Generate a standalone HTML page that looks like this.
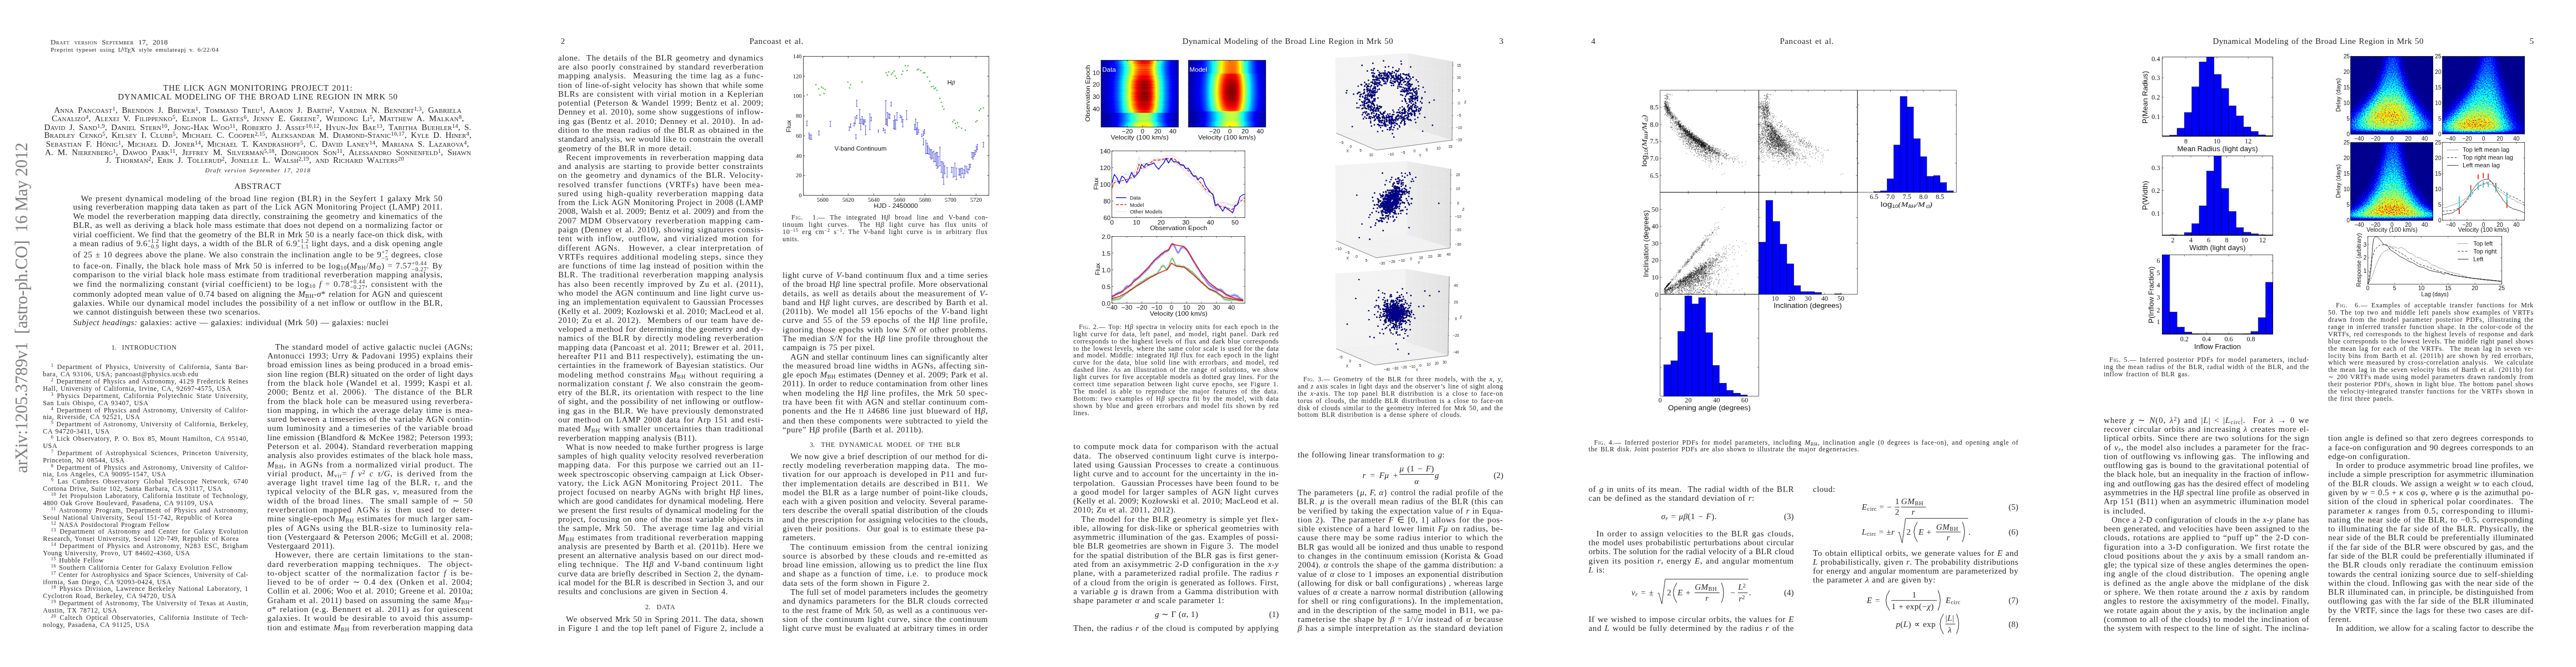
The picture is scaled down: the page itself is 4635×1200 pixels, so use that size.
<!DOCTYPE html>
<html><head><meta charset="utf-8"><title>paper</title>
<style>
html,body{margin:0;padding:0;background:#fff;}
body{width:4635px;height:1200px;position:relative;overflow:hidden;font-family:"Liberation Serif",serif;color:#262626;}
.pg{position:absolute;top:0;width:927px;height:1200px;overflow:hidden;will-change:transform;}
.b{position:absolute;text-align:justify;text-align-last:justify;white-space:nowrap;}
.b div{box-sizing:border-box;width:100%;}
.b .e{text-align-last:left;}
.b .c{text-align-last:center;}
.ln{position:absolute;white-space:nowrap;text-align:justify;text-align-last:justify;}
.ln.l{text-align-last:left;}
.ln.c{text-align-last:center;}
.ln.r{text-align-last:right;}
sub,sup{line-height:0;font-size:70%;}
sup{vertical-align:0.42em;}
sub{vertical-align:-0.22em;}
.sc{font-variant:small-caps;}
.ss{display:inline-block;vertical-align:-0.45em;font-size:70%;line-height:1.0;text-align:left;text-align-last:left;}
.ss span{display:block;}
.sans{font-family:"Liberation Sans",sans-serif;}
i{font-style:italic;}
.fr{display:inline-block;vertical-align:middle;text-align:center;text-align-last:center;line-height:1.15;}
.fr span{display:block;padding:0 2px;}
.fr span.n{border-bottom:1px solid #1a1a1a;}
svg{position:absolute;overflow:visible;}
svg text{font-family:"Liberation Sans",sans-serif;fill:#111;}
svg text.se{font-family:"Liberation Serif",serif;}
</style></head>
<body>
<div class="pg" style="left:0px">
<div style="position:absolute;left:0;top:0;width:0;height:0;"><div id="arx" style="position:absolute;left:23.2px;top:851px;transform-origin:0 0;transform:rotate(-90deg);white-space:nowrap;font-size:31px;line-height:32px;color:#7f7f7f;letter-spacing:-0.38px;">arXiv:1205.3789v1&nbsp; [astro-ph.CO]&nbsp; 16 May 2012</div></div>
<div class="ln" style="left:91.0px;top:67.8px;width:211.0px;line-height:15.60px;font-size:13.00px;letter-spacing:0.33px;"><span class="sc">Draft version September 17, 2018</span></div>
<div class="ln" style="left:91.0px;top:82.4px;width:303.0px;line-height:13.20px;font-size:11.00px;letter-spacing:0.69px;">Preprint typeset using L<span style="font-size:75%;vertical-align:0.2em;margin-left:-0.3em">A</span><span style="margin-left:-0.1em">T</span><span style="vertical-align:-0.2em;margin-left:-0.12em">E</span><span style="margin-left:-0.1em">X</span> style emulateapj v. 6/22/04</div>
<div class="ln" style="left:293.5px;top:149.2px;width:341.0px;line-height:18.24px;font-size:15.20px;letter-spacing:0.62px;">THE LICK AGN MONITORING PROJECT 2011:</div>
<div class="ln" style="left:212.0px;top:165.1px;width:503.5px;line-height:18.24px;font-size:15.20px;letter-spacing:0.51px;">DYNAMICAL MODELING OF THE BROAD LINE REGION IN MRK 50</div>
<div class="ln" style="left:97.2px;top:189.4px;width:733.2px;line-height:18.00px;font-size:15.00px;letter-spacing:0.21px;"><span class="sc">Anna Pancoast<sup>1</sup>, Brendon J. Brewer<sup>1</sup>, Tommaso Treu<sup>1</sup>, Aaron J. Barth<sup>2</sup>, Vardha N. Bennert<sup>1,3</sup>, Gabriela</span></div>
<div class="ln" style="left:93.1px;top:204.2px;width:741.8px;line-height:18.00px;font-size:15.00px;letter-spacing:0.26px;"><span class="sc">Canalizo<sup>4</sup>, Alexei V. Filippenko<sup>5</sup>, Elinor L. Gates<sup>6</sup>, Jenny E. Greene<sup>7</sup>, Weidong Li<sup>5</sup>, Matthew A. Malkan<sup>8</sup>,</span></div>
<div class="ln" style="left:79.6px;top:219.5px;width:768.4px;line-height:18.00px;font-size:15.00px;letter-spacing:0.22px;"><span class="sc">David J. Sand<sup>1,9</sup>, Daniel Stern<sup>10</sup>, Jong-Hak Woo<sup>11</sup>, Roberto J. Assef<sup>10,12</sup>, Hyun-Jin Bae<sup>13</sup>, Tabitha Buehler<sup>14</sup>, S.</span></div>
<div class="ln" style="left:79.6px;top:234.4px;width:768.8px;line-height:18.00px;font-size:15.00px;letter-spacing:0.18px;"><span class="sc">Bradley Cenko<sup>5</sup>, Kelsey I. Clubb<sup>5</sup>, Michael C. Cooper<sup>2,15</sup>, Aleksandar M. Diamond-Stanic<sup>16,17</sup>, Kyle D. Hiner<sup>4</sup>,</span></div>
<div class="ln" style="left:82.8px;top:249.6px;width:761.1px;line-height:18.00px;font-size:15.00px;letter-spacing:0.18px;"><span class="sc">Sebastian F. H&ouml;nig<sup>1</sup>, Michael D. Joner<sup>14</sup>, Michael T. Kandrashoff<sup>5</sup>, C. David Laney<sup>14</sup>, Mariana S. Lazarova<sup>4</sup>,</span></div>
<div class="ln" style="left:81.0px;top:264.5px;width:766.5px;line-height:18.00px;font-size:15.00px;letter-spacing:0.13px;"><span class="sc">A. M. Nierenberg<sup>1</sup>, Dawoo Park<sup>11</sup>, Jeffrey M. Silverman<sup>5,18</sup>, Donghoon Son<sup>11</sup>, Alessandro Sonnenfeld<sup>1</sup>, Shawn</span></div>
<div class="ln" style="left:190.3px;top:279.0px;width:536.6px;line-height:18.00px;font-size:15.00px;letter-spacing:0.20px;"><span class="sc">J. Thorman<sup>2</sup>, Erik J. Tollerud<sup>2</sup>, Jonelle L. Walsh<sup>2,19</sup>, and Richard Walters<sup>20</sup></span></div>
<div class="ln" style="left:369.0px;top:300.2px;width:190.0px;line-height:13.44px;font-size:11.20px;letter-spacing:0.95px;"><i>Draft version September 17, 2018</i></div>
<div class="ln" style="left:421.5px;top:326.4px;width:85.0px;line-height:18.24px;font-size:15.20px;letter-spacing:0.70px;">ABSTRACT</div>
<div class="ln" style="left:145.4px;top:347.7px;width:651.3px;line-height:18.00px;font-size:15.00px;letter-spacing:0.67px;">We present dynamical modeling of the broad line region (BLR) in the Seyfert 1 galaxy Mrk 50</div>
<div class="ln" style="left:131.4px;top:363.4px;width:665.3px;line-height:18.00px;font-size:15.00px;letter-spacing:0.56px;">using reverberation mapping data taken as part of the Lick AGN Monitoring Project (LAMP) 2011.</div>
<div class="ln" style="left:131.4px;top:379.6px;width:665.3px;line-height:18.00px;font-size:15.00px;letter-spacing:0.56px;">We model the reverberation mapping data directly, constraining the geometry and kinematics of the</div>
<div class="ln" style="left:131.4px;top:396.3px;width:665.3px;line-height:18.00px;font-size:15.00px;letter-spacing:0.48px;">BLR, as well as deriving a black hole mass estimate that does not depend on a normalizing factor or</div>
<div class="ln" style="left:131.4px;top:412.5px;width:665.3px;line-height:18.00px;font-size:15.00px;letter-spacing:0.40px;">virial coefficient. We find that the geometry of the BLR in Mrk 50 is a nearly face-on thick disk, with</div>
<div class="ln" style="left:131.4px;top:428.7px;width:665.3px;line-height:18.00px;font-size:15.00px;letter-spacing:0.43px;">a mean radius of 9.6<span class="ss"><span>+1.2</span><span>&minus;0.9</span></span> light days, a width of the BLR of 6.9<span class="ss"><span>+1.2</span><span>&minus;1.1</span></span> light days, and a disk opening angle</div>
<div class="ln" style="left:131.4px;top:448.9px;width:665.3px;line-height:18.00px;font-size:15.00px;letter-spacing:0.53px;">of 25 &plusmn; 10 degrees above the plane. We also constrain the inclination angle to be 9<span class="ss"><span>+7</span><span>&minus;5</span></span> degrees, close</div>
<div class="ln" style="left:131.4px;top:469.1px;width:665.3px;line-height:18.00px;font-size:15.00px;letter-spacing:0.60px;">to face-on. Finally, the black hole mass of Mrk 50 is inferred to be log<sub>10</sub>(<i>M</i><sub>BH</sub>/<i>M</i><sub>&#8857;</sub>) = 7.57<span class="ss"><span>+0.44</span><span>&minus;0.27</span></span>. By</div>
<div class="ln" style="left:131.4px;top:485.3px;width:665.3px;line-height:18.00px;font-size:15.00px;letter-spacing:0.62px;">comparison to the virial black hole mass estimate from traditional reverberation mapping analysis,</div>
<div class="ln" style="left:131.4px;top:501.5px;width:665.3px;line-height:18.00px;font-size:15.00px;letter-spacing:0.71px;">we find the normalizing constant (virial coefficient) to be log<sub>10</sub> <i>f</i> = 0.78<span class="ss"><span>+0.44</span><span>&minus;0.27</span></span>, consistent with the</div>
<div class="ln" style="left:131.4px;top:519.5px;width:665.3px;line-height:18.00px;font-size:15.00px;letter-spacing:0.44px;">commonly adopted mean value of 0.74 based on aligning the <i>M</i><sub>BH</sub>-<i>&sigma;</i>* relation for AGN and quiescent</div>
<div class="ln" style="left:131.4px;top:536.2px;width:665.3px;line-height:18.00px;font-size:15.00px;letter-spacing:0.51px;">galaxies. While our dynamical model includes the possibility of a net inflow or outflow in the BLR,</div>
<div class="ln l" style="left:131.4px;top:552.4px;width:665.3px;line-height:18.00px;font-size:15.00px;letter-spacing:0.46px;word-spacing:0.93px;">we cannot distinguish between these two scenarios.</div>
<div class="ln l" style="left:131.4px;top:570.8px;width:665.3px;line-height:18.00px;font-size:15.00px;letter-spacing:0.46px;word-spacing:0.93px;"><i>Subject headings:</i> galaxies: active &mdash; galaxies: individual (Mrk 50) &mdash; galaxies: nuclei</div>
<div class="ln l" style="left:200.5px;top:618.0px;width:20.0px;line-height:14.40px;font-size:12.00px;">1.</div>
<div class="ln" style="left:219.5px;top:618.0px;width:103.5px;line-height:14.40px;font-size:12.00px;letter-spacing:0.66px;">INTRODUCTION</div>
<div class="b" style="left:77.3px;top:654.3px;width:369.7px;line-height:12.87px;font-size:12.00px;">
<div style="padding-left:14.4px;letter-spacing:0.66px"><sup>1</sup> Department of Physics, University of California, Santa Bar-</div>
<div class="e" style="word-spacing:1.25px;letter-spacing:0.62px">bara, CA 93106, USA; pancoast@physics.ucsb.edu</div>
<div style="padding-left:14.4px;letter-spacing:0.63px"><sup>2</sup> Department of Physics and Astronomy, 4129 Frederick Reines</div>
<div class="e" style="word-spacing:1.25px;letter-spacing:0.62px">Hall, University of California, Irvine, CA, 92697-4575, USA</div>
<div style="padding-left:14.4px;letter-spacing:0.66px"><sup>3</sup> Physics Department, California Polytechnic State University,</div>
<div class="e" style="word-spacing:1.25px;letter-spacing:0.62px">San Luis Obispo, CA 93407, USA</div>
<div style="padding-left:14.4px;letter-spacing:0.66px"><sup>4</sup> Department of Physics and Astronomy, University of Califor-</div>
<div class="e" style="word-spacing:1.25px;letter-spacing:0.62px">nia, Riverside, CA 92521, USA</div>
<div style="padding-left:14.4px;letter-spacing:0.66px"><sup>5</sup> Department of Astronomy, University of California, Berkeley,</div>
<div class="e" style="word-spacing:1.25px;letter-spacing:0.62px">CA 94720-3411, USA</div>
<div style="padding-left:14.4px;letter-spacing:0.66px"><sup>6</sup> Lick Observatory, P. O. Box 85, Mount Hamilton, CA 95140,</div>
<div class="e" style="word-spacing:1.25px;letter-spacing:0.62px">USA</div>
<div style="padding-left:14.4px;letter-spacing:0.66px"><sup>7</sup> Department of Astrophysical Sciences, Princeton University,</div>
<div class="e" style="word-spacing:1.25px;letter-spacing:0.62px">Princeton, NJ 08544, USA</div>
<div style="padding-left:14.4px;letter-spacing:0.66px"><sup>8</sup> Department of Physics and Astronomy, University of Califor-</div>
<div class="e" style="word-spacing:1.25px;letter-spacing:0.62px">nia, Los Angeles, CA 90095-1547, USA</div>
<div style="padding-left:14.4px;letter-spacing:0.66px"><sup>9</sup> Las Cumbres Observatory Global Telescope Network, 6740</div>
<div class="e" style="word-spacing:1.25px;letter-spacing:0.62px">Cortona Drive, Suite 102, Santa Barbara, CA 93117, USA</div>
<div style="padding-left:14.4px;letter-spacing:0.61px"><sup>10</sup> Jet Propulsion Laboratory, California Institute of Technology,</div>
<div class="e" style="word-spacing:1.25px;letter-spacing:0.62px">4800 Oak Grove Boulevard, Pasadena, CA 91109, USA</div>
<div style="padding-left:14.4px;letter-spacing:0.66px"><sup>11</sup> Astronomy Program, Department of Physics and Astronomy,</div>
<div class="e" style="word-spacing:1.25px;letter-spacing:0.62px">Seoul National University, Seoul 151-742, Republic of Korea</div>
<div class="e" style="padding-left:14.4px;word-spacing:1.25px;letter-spacing:0.62px"><sup>12</sup> NASA Postdoctoral Program Fellow</div>
<div style="padding-left:14.4px;letter-spacing:0.66px"><sup>13</sup> Department of Astronomy and Center for Galaxy Evolution</div>
<div class="e" style="word-spacing:1.25px;letter-spacing:0.62px">Research, Yonsei University, Seoul 120-749, Republic of Korea</div>
<div style="padding-left:14.4px;letter-spacing:0.66px"><sup>14</sup> Department of Physics and Astronomy, N283 ESC, Brigham</div>
<div class="e" style="word-spacing:1.25px;letter-spacing:0.62px">Young University, Provo, UT 84602-4360, USA</div>
<div class="e" style="padding-left:14.4px;word-spacing:1.25px;letter-spacing:0.62px"><sup>15</sup> Hubble Fellow</div>
<div class="e" style="padding-left:14.4px;word-spacing:1.25px;letter-spacing:0.62px"><sup>16</sup> Southern California Center for Galaxy Evolution Fellow</div>
<div style="padding-left:14.4px;letter-spacing:0.48px"><sup>17</sup> Center for Astrophysics and Space Sciences, University of Cal-</div>
<div class="e" style="word-spacing:1.25px;letter-spacing:0.62px">ifornia, San Diego, CA 92093-0424, USA</div>
<div style="padding-left:14.4px;letter-spacing:0.66px"><sup>18</sup> Physics Division, Lawrence Berkeley National Laboratory, 1</div>
<div class="e" style="word-spacing:1.25px;letter-spacing:0.62px">Cyclotron Road, Berkeley, CA 94720, USA</div>
<div style="padding-left:14.4px;letter-spacing:0.60px"><sup>19</sup> Department of Astronomy, The University of Texas at Austin,</div>
<div class="e" style="word-spacing:1.25px;letter-spacing:0.62px">Austin, TX 78712, USA</div>
<div style="padding-left:14.4px;letter-spacing:0.66px"><sup>20</sup> Caltech Optical Observatories, California Institute of Tech-</div>
<div class="e" style="word-spacing:1.25px;letter-spacing:0.62px">nology, Pasadena, CA 91125, USA</div>
</div>
<div class="b" style="left:481.1px;top:615.9px;width:370.0px;line-height:16.28px;font-size:15.00px;">
<div style="padding-left:14px;letter-spacing:0.60px">The standard model of active galactic nuclei (AGNs;</div>
<div style="letter-spacing:0.59px">Antonucci 1993; Urry &amp; Padovani 1995) explains their</div>
<div style="letter-spacing:0.45px">broad emission lines as being produced in a broad emis-</div>
<div style="letter-spacing:0.36px">sion line region (BLR) situated on the order of light days</div>
<div style="letter-spacing:0.77px">from the black hole (Wandel et al. 1999; Kaspi et al.</div>
<div style="letter-spacing:0.82px">2000; Bentz et al. 2006).&nbsp; The distance of the BLR</div>
<div style="letter-spacing:0.70px">from the black hole can be measured using reverbera-</div>
<div style="letter-spacing:0.62px">tion mapping, in which the average delay time is mea-</div>
<div style="letter-spacing:0.53px">sured between a timeseries of the variable AGN contin-</div>
<div style="letter-spacing:0.68px">uum luminosity and a timeseries of the variable broad</div>
<div style="letter-spacing:0.39px">line emission (Blandford &amp; McKee 1982; Peterson 1993;</div>
<div style="letter-spacing:0.71px">Peterson et al. 2004). Standard reverberation mapping</div>
<div style="letter-spacing:0.52px">analysis also provides estimates of the black hole mass,</div>
<div style="letter-spacing:0.78px"><i>M</i><sub>BH</sub>, in AGNs from a normalized virial product. The</div>
<div style="letter-spacing:0.82px">virial product, <i>M</i><sub>vir</sub>= <i>f v</i><sup>2</sup> <i>c &tau;/G</i>, is derived from the</div>
<div style="letter-spacing:0.82px">average light travel time lag of the BLR, <i>&tau;</i>, and the</div>
<div style="letter-spacing:0.68px">typical velocity of the BLR gas, <i>v</i>, measured from the</div>
<div style="letter-spacing:0.82px">width of the broad lines.&nbsp; The small sample of &sim; 50</div>
<div style="letter-spacing:0.82px">reverberation mapped AGNs is then used to deter-</div>
<div style="letter-spacing:0.59px">mine single-epoch <i>M</i><sub>BH</sub> estimates for much larger sam-</div>
<div style="letter-spacing:0.81px">ples of AGNs using the BLR-size to luminosity rela-</div>
<div style="letter-spacing:0.58px">tion (Vestergaard &amp; Peterson 2006; McGill et al. 2008;</div>
<div class="e" style="word-spacing:0.93px;letter-spacing:0.46px">Vestergaard 2011).</div>
<div style="padding-left:14px;letter-spacing:0.82px">However, there are certain limitations to the stan-</div>
<div style="letter-spacing:0.82px">dard reverberation mapping techniques.&nbsp; The object-</div>
<div style="letter-spacing:0.82px">to-object scatter of the normalization factor <i>f</i> is be-</div>
<div style="letter-spacing:0.82px">lieved to be of order &sim; 0.4 dex (Onken et al. 2004;</div>
<div style="letter-spacing:0.44px">Collin et al. 2006; Woo et al. 2010; Greene et al. 2010a;</div>
<div style="letter-spacing:0.58px">Graham et al. 2011) based on assuming the same <i>M</i><sub>BH</sub>-</div>
<div style="letter-spacing:0.74px"><i>&sigma;</i>* relation (e.g. Bennert et al. 2011) as for quiescent</div>
<div style="letter-spacing:0.80px">galaxies. It would be desirable to avoid this assump-</div>
<div style="letter-spacing:0.51px">tion and estimate <i>M</i><sub>BH</sub> from reverberation mapping data</div>
</div>
</div>
<div class="pg" style="left:927px">
<div class="ln l" style="left:82.0px;top:64.7px;width:20.0px;line-height:18.00px;font-size:15.00px;">2</div>
<div class="ln" style="left:421.4px;top:64.7px;width:97.6px;line-height:18.00px;font-size:15.00px;letter-spacing:0.60px;">Pancoast et al.</div>
<div class="b" style="left:77.3px;top:95.7px;width:369.7px;line-height:16.28px;font-size:15.00px;">
<div style="letter-spacing:0.60px">alone.&nbsp; The details of the BLR geometry and dynamics</div>
<div style="letter-spacing:0.78px">are also poorly constrained by standard reverberation</div>
<div style="letter-spacing:0.76px">mapping analysis.&nbsp; Measuring the time lag as a func-</div>
<div style="letter-spacing:0.48px">tion of line-of-sight velocity has shown that while some</div>
<div style="letter-spacing:0.70px">BLRs are consistent with virial motion in a Keplerian</div>
<div style="letter-spacing:0.65px">potential (Peterson &amp; Wandel 1999; Bentz et al. 2009;</div>
<div style="letter-spacing:0.56px">Denney et al. 2010), some show suggestions of inflow-</div>
<div style="letter-spacing:0.54px">ing gas (Bentz et al. 2010; Denney et al. 2010).&nbsp; In ad-</div>
<div style="letter-spacing:0.52px">dition to the mean radius of the BLR as obtained in the</div>
<div style="letter-spacing:0.45px">standard analysis, we would like to constrain the overall</div>
<div class="e" style="word-spacing:0.93px;letter-spacing:0.46px">geometry of the BLR in more detail.</div>
<div style="padding-left:14px;letter-spacing:0.68px">Recent improvements in reverberation mapping data</div>
<div style="letter-spacing:0.78px">and analysis are starting to provide better constraints</div>
<div style="letter-spacing:0.79px">on the geometry and dynamics of the BLR. Velocity-</div>
<div style="letter-spacing:0.82px">resolved transfer functions (VRTFs) have been mea-</div>
<div style="letter-spacing:0.82px">sured using high-quality reverberation mapping data</div>
<div style="letter-spacing:0.51px">from the Lick AGN Monitoring Project in 2008 (LAMP</div>
<div style="letter-spacing:0.43px">2008, Walsh et al. 2009; Bentz et al. 2009) and from the</div>
<div style="letter-spacing:0.82px">2007 MDM Observatory reverberation mapping cam-</div>
<div style="letter-spacing:0.59px">paign (Denney et al. 2010), showing signatures consis-</div>
<div style="letter-spacing:0.82px">tent with inflow, outflow, and virialized motion for</div>
<div style="letter-spacing:0.82px">different AGNs.&nbsp; However, a clear interpretation of</div>
<div style="letter-spacing:0.76px">VRTFs requires additional modeling steps, since they</div>
<div style="letter-spacing:0.60px">are functions of time lag instead of position within the</div>
<div style="letter-spacing:0.82px">BLR. The traditional reverberation mapping analysis</div>
<div style="letter-spacing:0.82px">has also been recently improved by Zu et al. (2011),</div>
<div style="letter-spacing:0.50px">who model the AGN continuum and line light curve us-</div>
<div style="letter-spacing:0.49px">ing an implementation equivalent to Gaussian Processes</div>
<div style="letter-spacing:0.35px">(Kelly et al. 2009; Koz&#322;owski et al. 2010; MacLeod et al.</div>
<div style="letter-spacing:0.64px">2010; Zu et al. 2012).&nbsp; Members of our team have de-</div>
<div style="letter-spacing:0.49px">veloped a method for determining the geometry and dy-</div>
<div style="letter-spacing:0.66px">namics of the BLR by directly modeling reverberation</div>
<div style="letter-spacing:0.53px">mapping data (Pancoast et al. 2011; Brewer et al. 2011,</div>
<div style="letter-spacing:0.57px">hereafter P11 and B11 respectively), estimating the un-</div>
<div style="letter-spacing:0.57px">certainties in the framework of Bayesian statistics. Our</div>
<div style="letter-spacing:0.80px">modeling method constrains <i>M</i><sub>BH</sub> without requiring a</div>
<div style="letter-spacing:0.69px">normalization constant <i>f</i>. We also constrain the geom-</div>
<div style="letter-spacing:0.58px">etry of the BLR, its orientation with respect to the line</div>
<div style="letter-spacing:0.46px">of sight, and the possibility of net inflowing or outflow-</div>
<div style="letter-spacing:0.68px">ing gas in the BLR. We have previously demonstrated</div>
<div style="letter-spacing:0.66px">our method on LAMP 2008 data for Arp 151 and esti-</div>
<div style="letter-spacing:0.73px">mated <i>M</i><sub>BH</sub> with smaller uncertainties than traditional</div>
<div class="e" style="word-spacing:0.93px;letter-spacing:0.46px">reverberation mapping analysis (B11).</div>
<div style="padding-left:14px;letter-spacing:0.51px">What is now needed to make further progress is large</div>
<div style="letter-spacing:0.58px">samples of high quality velocity resolved reverberation</div>
<div style="letter-spacing:0.67px">mapping data.&nbsp; For this purpose we carried out an 11-</div>
<div style="letter-spacing:0.59px">week spectroscopic observing campaign at Lick Obser-</div>
<div style="letter-spacing:0.82px">vatory, the Lick AGN Monitoring Project 2011.&nbsp; The</div>
<div style="letter-spacing:0.66px">project focused on nearby AGNs with bright H<i>&beta;</i> lines,</div>
<div style="letter-spacing:0.38px">which are good candidates for dynamical modeling. Here</div>
<div style="letter-spacing:0.34px">we present the first results of dynamical modeling for the</div>
<div style="letter-spacing:0.54px">project, focusing on one of the most variable objects in</div>
<div style="letter-spacing:0.76px">the sample, Mrk 50.&nbsp; The average time lag and virial</div>
<div style="letter-spacing:0.71px"><i>M</i><sub>BH</sub> estimates from traditional reverberation mapping</div>
<div style="letter-spacing:0.56px">analysis are presented by Barth et al. (2011b). Here we</div>
<div style="letter-spacing:0.50px">present an alternative analysis based on our direct mod-</div>
<div style="letter-spacing:0.74px">eling technique.&nbsp; The H<i>&beta;</i> and <i>V</i>-band continuum light</div>
<div style="letter-spacing:0.40px">curve data are briefly described in Section 2, the dynam-</div>
<div style="letter-spacing:0.35px">ical model for the BLR is described in Section 3, and our</div>
<div class="e" style="word-spacing:0.93px;letter-spacing:0.46px">results and conclusions are given in Section 4.</div>
</div>
<div class="ln l" style="left:234.0px;top:1085.3px;width:14.0px;line-height:14.40px;font-size:12.00px;">2.</div>
<div class="ln" style="left:254.5px;top:1085.3px;width:35.0px;line-height:14.40px;font-size:12.00px;letter-spacing:0.66px;">DATA</div>
<div class="b" style="left:77.3px;top:1105.9px;width:369.7px;line-height:16.28px;font-size:15.00px;">
<div style="padding-left:14px;letter-spacing:0.46px">We observed Mrk 50 in Spring 2011. The data, shown</div>
<div style="letter-spacing:0.51px">in Figure 1 and the top left panel of Figure 2, include a</div>
</div>
<svg style="left:0;top:0" width="927" height="1200" viewBox="0 0 927 1200"><rect x="518.5" y="101.4" width="333.7" height="250.0" fill="none" stroke="#333" stroke-width="0.95"/><text class="se" x="553.2" y="362.9" font-size="10.5" text-anchor="middle">5600</text><text class="se" x="599.2" y="362.9" font-size="10.5" text-anchor="middle">5620</text><text class="se" x="645.2" y="362.9" font-size="10.5" text-anchor="middle">5640</text><text class="se" x="691.2" y="362.9" font-size="10.5" text-anchor="middle">5660</text><text class="se" x="737.2" y="362.9" font-size="10.5" text-anchor="middle">5680</text><text class="se" x="783.2" y="362.9" font-size="10.5" text-anchor="middle">5700</text><text class="se" x="829.2" y="362.9" font-size="10.5" text-anchor="middle">5720</text><text class="se" x="515.5" y="354.9" font-size="10.5" text-anchor="end">0</text><text class="se" x="515.5" y="319.2" font-size="10.5" text-anchor="end">20</text><text class="se" x="515.5" y="283.5" font-size="10.5" text-anchor="end">40</text><text class="se" x="515.5" y="247.8" font-size="10.5" text-anchor="end">60</text><text class="se" x="515.5" y="212.0" font-size="10.5" text-anchor="end">80</text><text class="se" x="515.5" y="176.3" font-size="10.5" text-anchor="end">100</text><text class="se" x="515.5" y="140.6" font-size="10.5" text-anchor="end">120</text><text class="se" x="515.5" y="104.9" font-size="10.5" text-anchor="end">140</text><path d="M553.2 351.4v-3M553.2 101.4v3M599.2 351.4v-3M599.2 101.4v3M645.2 351.4v-3M645.2 101.4v3M691.2 351.4v-3M691.2 101.4v3M737.2 351.4v-3M737.2 101.4v3M783.2 351.4v-3M783.2 101.4v3M829.2 351.4v-3M829.2 101.4v3M518.5 351.4h3M852.2 351.4h-3M518.5 315.7h3M852.2 315.7h-3M518.5 280.0h3M852.2 280.0h-3M518.5 244.3h3M852.2 244.3h-3M518.5 208.5h3M852.2 208.5h-3M518.5 172.8h3M852.2 172.8h-3M518.5 137.1h3M852.2 137.1h-3M518.5 101.4h3M852.2 101.4h-3" stroke="#222" stroke-width="0.8" fill="none"/><path d="M524.4 169.6l2 2M524.4 171.6l2 -2M525.4 169.4v2.4M540.2 151.4l2 2M540.2 153.4l2 -2M541.2 151.2v2.4M545.0 159.1l2 2M545.0 161.1l2 -2M546.0 158.9v2.4M547.4 170.1l2 2M547.4 172.1l2 -2M548.4 169.9v2.4M550.2 155.7l2 2M550.2 157.7l2 -2M551.2 155.5v2.4M553.1 157.7l2 2M553.1 159.7l2 -2M554.1 157.5v2.4M554.6 167.2l2 2M554.6 169.2l2 -2M555.6 167.0v2.4M556.5 160.1l2 2M556.5 162.1l2 -2M557.5 159.9v2.4M597.7 146.6l2 2M597.7 148.6l2 -2M598.7 146.4v2.4M600.6 157.2l2 2M600.6 159.2l2 -2M601.6 157.0v2.4M602.5 151.4l2 2M602.5 153.4l2 -2M603.5 151.2v2.4M623.2 146.6l2 2M623.2 148.6l2 -2M624.2 146.4v2.4M666.3 129.8l2 2M666.3 131.8l2 -2M667.3 129.6v2.4M668.7 134.6l2 2M668.7 136.6l2 -2M669.7 134.4v2.4M671.1 128.4l2 2M671.1 130.4l2 -2M672.1 128.2v2.4M675.9 132.7l2 2M675.9 134.7l2 -2M676.9 132.5v2.4M678.3 130.3l2 2M678.3 132.3l2 -2M679.3 130.1v2.4M680.7 127.0l2 2M680.7 129.0l2 -2M681.7 126.8v2.4M682.6 135.6l2 2M682.6 137.6l2 -2M683.6 135.4v2.4M685.0 139.9l2 2M685.0 141.9l2 -2M686.0 139.7v2.4M694.6 132.7l2 2M694.6 134.7l2 -2M695.6 132.5v2.4M696.5 127.0l2 2M696.5 129.0l2 -2M697.5 126.8v2.4M700.8 116.9l2 2M700.8 118.9l2 -2M701.8 116.7v2.4M704.2 126.0l2 2M704.2 128.0l2 -2M705.2 125.8v2.4M705.6 117.4l2 2M705.6 119.4l2 -2M706.6 117.2v2.4M722.4 124.6l2 2M722.4 126.6l2 -2M723.4 124.4v2.4M724.8 123.6l2 2M724.8 125.6l2 -2M725.8 123.4v2.4M728.7 126.0l2 2M728.7 128.0l2 -2M729.7 125.8v2.4M733.5 130.3l2 2M733.5 132.3l2 -2M734.5 130.1v2.4M735.9 129.8l2 2M735.9 131.8l2 -2M736.9 129.6v2.4M740.7 137.5l2 2M740.7 139.5l2 -2M741.7 137.3v2.4M745.0 145.2l2 2M745.0 147.2l2 -2M746.0 145.0v2.4M747.9 154.8l2 2M747.9 156.8l2 -2M748.9 154.6v2.4M751.2 154.3l2 2M751.2 156.3l2 -2M752.2 154.1v2.4M753.1 158.6l2 2M753.1 160.6l2 -2M754.1 158.4v2.4M755.5 157.2l2 2M755.5 159.2l2 -2M756.5 157.0v2.4M757.9 161.5l2 2M757.9 163.5l2 -2M758.9 161.3v2.4M763.2 175.9l2 2M763.2 177.9l2 -2M764.2 175.7v2.4M765.6 183.1l2 2M765.6 185.1l2 -2M766.6 182.9v2.4M768.0 190.3l2 2M768.0 192.3l2 -2M769.0 190.1v2.4M770.4 195.5l2 2M770.4 197.5l2 -2M771.4 195.3v2.4M786.2 218.1l2 2M786.2 220.1l2 -2M787.2 217.9v2.4M788.6 215.2l2 2M788.6 217.2l2 -2M789.6 215.0v2.4M791.0 221.0l2 2M791.0 223.0l2 -2M792.0 220.8v2.4M792.9 229.1l2 2M792.9 231.1l2 -2M793.9 228.9v2.4M794.9 220.0l2 2M794.9 222.0l2 -2M795.9 219.8v2.4M797.3 226.7l2 2M797.3 228.7l2 -2M798.3 226.5v2.4M802.0 229.6l2 2M802.0 231.6l2 -2M803.0 229.4v2.4M809.2 233.0l2 2M809.2 235.0l2 -2M810.2 232.8v2.4M827.9 218.1l2 2M827.9 220.1l2 -2M828.9 217.9v2.4M830.3 216.2l2 2M830.3 218.2l2 -2M831.3 216.0v2.4M834.2 197.9l2 2M834.2 199.9l2 -2M835.2 197.7v2.4M836.6 195.1l2 2M836.6 197.1l2 -2M837.6 194.9v2.4M841.4 193.1l2 2M841.4 195.1l2 -2M842.4 192.9v2.4" stroke="#2ca02c" stroke-width="0.9" fill="none"/><path d="M524.9 217.6v8.6M523.4 217.6h3M523.4 226.3h3M528.7 239.2v9.6M527.2 239.2h3M527.2 248.8h3M530.6 242.1v8.6M529.1 242.1h3M529.1 250.7h3M533.0 243.1v7.7M531.5 243.1h3M531.5 250.7h3M546.5 235.4v7.7M545.0 235.4h3M545.0 243.1h3M567.1 218.1v9.6M565.6 218.1h3M565.6 227.7h3M601.1 228.2v6.7M599.6 228.2h3M599.6 234.9h3M603.5 222.9v6.7M602.0 222.9h3M602.0 229.6h3M609.8 221.0v5.8M608.3 221.0h3M608.3 226.8h3M611.7 210.5v12.5M610.2 210.5h3M610.2 222.9h3M613.1 242.1v7.7M611.6 242.1h3M611.6 249.8h3M614.6 180.2v11.5M613.1 180.2h3M613.1 191.8h3M614.6 207.6v5.8M613.1 207.6h3M613.1 213.3h3M619.8 196.5v25.9M618.3 196.5h3M618.3 222.4h3M621.8 214.3v19.2M620.3 214.3h3M620.3 233.5h3M624.2 209.5v12.5M622.7 209.5h3M622.7 222.0h3M626.1 214.3v9.6M624.6 214.3h3M624.6 223.9h3M627.5 217.2v6.7M626.0 217.2h3M626.0 223.9h3M629.4 215.3v4.8M627.9 215.3h3M627.9 220.0h3M630.4 226.3v16.3M628.9 226.3h3M628.9 242.6h3M638.1 204.7v28.8M636.6 204.7h3M636.6 233.5h3M640.5 210.9v6.7M639.0 210.9h3M639.0 217.6h3M653.4 234.0v3.8M651.9 234.0h3M651.9 237.8h3M662.5 230.6v4.8M661.0 230.6h3M661.0 235.4h3M665.4 233.5v5.8M663.9 233.5h3M663.9 239.2h3M666.8 180.7v43.2M665.3 180.7h3M665.3 223.9h3M668.3 214.3v9.6M666.8 214.3h3M666.8 223.9h3M669.7 202.3v24.0M668.2 202.3h3M668.2 226.3h3M672.1 204.7v7.7M670.6 204.7h3M670.6 212.4h3M674.0 205.7v7.7M672.5 205.7h3M672.5 213.3h3M676.4 184.1v6.7M674.9 184.1h3M674.9 190.8h3M681.2 216.7v14.4M679.7 216.7h3M679.7 231.1h3M682.7 208.5v24.0M681.2 208.5h3M681.2 232.5h3M684.6 215.3v17.3M683.1 215.3h3M683.1 232.5h3M687.0 202.3v14.4M685.5 202.3h3M685.5 216.7h3M693.2 207.1v4.8M691.7 207.1h3M691.7 211.9h3M695.6 210.0v9.6M694.1 210.0h3M694.1 219.6h3M697.5 214.8v13.4M696.0 214.8h3M696.0 228.2h3M704.2 198.9v16.3M702.7 198.9h3M702.7 215.3h3M718.6 223.9v9.6M717.1 223.9h3M717.1 233.5h3M720.6 214.3v19.2M719.1 214.3h3M719.1 233.5h3M722.5 230.1v11.5M721.0 230.1h3M721.0 241.6h3M723.9 220.5v21.1M722.4 220.5h3M722.4 241.6h3M725.8 233.0v5.8M724.3 233.0h3M724.3 238.8h3M731.6 241.2v4.8M730.1 241.2h3M730.1 245.9h3M734.5 235.9v7.7M733.0 235.9h3M733.0 243.5h3M736.4 233.0v7.7M734.9 233.0h3M734.9 240.7h3M734.5 249.3v11.5M733.0 249.3h3M733.0 260.8h3M738.8 252.7v24.0M737.3 252.7h3M737.3 276.6h3M741.2 257.5v19.2M739.7 257.5h3M739.7 276.6h3M742.6 262.3v14.4M741.1 262.3h3M741.1 276.6h3M745.0 266.1v11.5M743.5 266.1h3M743.5 277.6h3M746.9 269.4v14.4M745.4 269.4h3M745.4 283.8h3M748.9 269.0v17.3M747.4 269.0h3M747.4 286.2h3M750.8 273.3v11.5M749.3 273.3h3M749.3 284.8h3M753.2 271.8v19.2M751.7 271.8h3M751.7 291.0h3M755.6 276.6v14.4M754.1 276.6h3M754.1 291.0h3M757.5 274.2v24.0M756.0 274.2h3M756.0 298.2h3M759.4 274.2v28.8M757.9 274.2h3M757.9 303.0h3M761.3 281.4v19.2M759.8 281.4h3M759.8 300.6h3M764.2 264.7v33.6M762.7 264.7h3M762.7 298.2h3M766.6 291.0v19.2M765.1 291.0h3M765.1 310.2h3M769.0 291.0v28.8M767.5 291.0h3M767.5 319.8h3M770.9 293.4v38.4M769.4 293.4h3M769.4 331.8h3M772.8 298.2v14.4M771.3 298.2h3M771.3 312.6h3M777.1 301.6v17.3M775.6 301.6h3M775.6 318.8h3M785.3 300.6v9.6M783.8 300.6h3M783.8 310.2h3M788.2 301.6v17.3M786.7 301.6h3M786.7 318.8h3M791.1 293.4v24.0M789.6 293.4h3M789.6 317.4h3M793.9 302.1v21.1M792.4 302.1h3M792.4 323.2h3M798.7 303.5v11.5M797.2 303.5h3M797.2 315.0h3M800.2 305.4v9.6M798.7 305.4h3M798.7 315.0h3M802.1 302.5v17.3M800.6 302.5h3M800.6 319.8h3M804.5 303.0v9.6M803.0 303.0h3M803.0 312.6h3M807.4 305.4v14.4M805.9 305.4h3M805.9 319.8h3M809.3 298.2v14.4M807.8 298.2h3M807.8 312.6h3M812.2 299.7v9.6M810.7 299.7h3M810.7 309.3h3M814.6 304.0v7.7M813.1 304.0h3M813.1 311.7h3M817.0 295.8v9.6M815.5 295.8h3M815.5 305.4h3M818.9 295.3v5.8M817.4 295.3h3M817.4 301.1h3M821.8 274.2v9.6M820.3 274.2h3M820.3 283.8h3M823.7 274.7v11.5M822.2 274.7h3M822.2 286.2h3M825.6 274.7v6.7M824.1 274.7h3M824.1 281.4h3M827.5 270.4v7.7M826.0 270.4h3M826.0 278.1h3M829.9 263.7v9.6M828.4 263.7h3M828.4 273.3h3M831.3 259.9v9.6M829.8 259.9h3M829.8 269.4h3M842.4 256.0v8.6M840.9 256.0h3M840.9 264.7h3" stroke="#2a2ad0" stroke-width="0.9" fill="none" opacity="0.85"/><text x="685" y="374.2" font-size="11.8" text-anchor="middle">HJD - 2450000</text><text transform="translate(495.5,227) rotate(-90)" font-size="11.8" text-anchor="middle">Flux</text><text x="574.5" y="270.5" font-size="11.3">V-band Continuum</text><text x="777.5" y="152" font-size="11.3">H<tspan font-style="italic" class="se" font-family="Liberation Serif">&beta;</tspan></text></svg>
<div class="b" style="left:481.1px;top:385.4px;width:369.7px;line-height:12.75px;font-size:12.00px;">
<div style="padding-left:16px;letter-spacing:0.66px"><span class="sc">Fig.</span>&nbsp; 1.&mdash; The integrated H<i>&beta;</i> broad line and V-band con-</div>
<div style="letter-spacing:0.66px">tinuum light curves.&nbsp; The H<i>&beta;</i> light curve has flux units of</div>
<div style="letter-spacing:0.66px">10<sup>&minus;15</sup> erg cm<sup>&minus;2</sup> s<sup>&minus;1</sup>. The V-band light curve is in arbitrary flux</div>
<div class="e" style="word-spacing:1.25px;letter-spacing:0.62px">units.</div>
</div>
<div class="b" style="left:481.1px;top:487.0px;width:369.7px;line-height:16.28px;font-size:15.00px;">
<div style="letter-spacing:0.58px">light curve of <i>V</i>-band continuum flux and a time series</div>
<div style="letter-spacing:0.41px">of the broad H<i>&beta;</i> line spectral profile. More observational</div>
<div style="letter-spacing:0.61px">details, as well as details about the measurement of <i>V</i>-</div>
<div style="letter-spacing:0.57px">band and H<i>&beta;</i> light curves, are described by Barth et al.</div>
<div style="letter-spacing:0.68px">(2011b). We model all 156 epochs of the <i>V</i>-band light</div>
<div style="letter-spacing:0.74px">curve and 55 of the 59 epochs of the H<i>&beta;</i> line profile,</div>
<div style="letter-spacing:0.58px">ignoring those epochs with low <i>S/N</i> or other problems.</div>
<div style="letter-spacing:0.62px">The median <i>S/N</i> for the H<i>&beta;</i> line profile throughout the</div>
<div class="e" style="word-spacing:0.93px;letter-spacing:0.46px">campaign is 75 per pixel.</div>
<div style="padding-left:14px;letter-spacing:0.34px">AGN and stellar continuum lines can significantly alter</div>
<div style="letter-spacing:0.55px">the measured broad line widths in AGNs, affecting sin-</div>
<div style="letter-spacing:0.40px">gle epoch <i>M</i><sub>BH</sub> estimates (Denney et al. 2009; Park et al.</div>
<div style="letter-spacing:0.44px">2011). In order to reduce contamination from other lines</div>
<div style="letter-spacing:0.67px">when modeling the H<i>&beta;</i> line profiles, the Mrk 50 spec-</div>
<div style="letter-spacing:0.54px">tra have been fit with AGN and stellar continuum com-</div>
<div style="letter-spacing:0.63px">ponents and the He <span style="font-size:80%">II</span> <i>&lambda;</i>4686 line just blueward of H<i>&beta;</i>,</div>
<div style="letter-spacing:0.54px">and then these components were subtracted to yield the</div>
<div class="e" style="word-spacing:0.93px;letter-spacing:0.46px">&ldquo;pure&rdquo; H<i>&beta;</i> profile (Barth et al. 2011b).</div>
</div>
<div class="ln l" style="left:530.1px;top:792.8px;width:14.0px;line-height:14.40px;font-size:12.00px;">3.</div>
<div class="ln" style="left:550.5px;top:792.8px;width:251.0px;line-height:14.40px;font-size:12.00px;letter-spacing:0.66px;">THE DYNAMICAL MODEL OF THE BLR</div>
<div class="b" style="left:481.1px;top:812.8px;width:369.7px;line-height:16.28px;font-size:15.00px;">
<div style="padding-left:14px;letter-spacing:0.46px">We now give a brief description of our method for di-</div>
<div style="letter-spacing:0.67px">rectly modeling reverberation mapping data.&nbsp; The mo-</div>
<div style="letter-spacing:0.66px">tivation for our approach is developed in P11 and fur-</div>
<div style="letter-spacing:0.70px">ther implementation details are described in B11.&nbsp; We</div>
<div style="letter-spacing:0.60px">model the BLR as a large number of point-like clouds,</div>
<div style="letter-spacing:0.42px">each with a given position and velocity. Several parame-</div>
<div style="letter-spacing:0.39px">ters describe the overall spatial distribution of the clouds</div>
<div style="letter-spacing:0.31px">and the prescription for assigning velocities to the clouds,</div>
<div style="letter-spacing:0.55px">given their positions.&nbsp; Our goal is to estimate these pa-</div>
<div class="e" style="word-spacing:0.93px;letter-spacing:0.46px">rameters.</div>
<div style="padding-left:14px;letter-spacing:0.82px">The continuum emission from the central ionizing</div>
<div style="letter-spacing:0.82px">source is absorbed by these clouds and re-emitted as</div>
<div style="letter-spacing:0.51px">broad line emission, allowing us to predict the line flux</div>
<div style="letter-spacing:0.64px">and shape as a function of time, i.e.&nbsp; to produce mock</div>
<div class="e" style="word-spacing:0.93px;letter-spacing:0.46px">data sets of the form shown in Figure 2.</div>
<div style="padding-left:14px;letter-spacing:0.34px">The full set of model parameters includes the geometry</div>
<div style="letter-spacing:0.58px">and dynamics parameters for the BLR clouds corrected</div>
<div style="letter-spacing:0.42px">to the rest frame of Mrk 50, as well as a continuous ver-</div>
<div style="letter-spacing:0.60px">sion of the continuum light curve, since the continuum</div>
<div style="letter-spacing:0.48px">light curve must be evaluated at arbitrary times in order</div>
</div>
</div>
<div class="pg" style="left:1854px">
<div class="ln" style="left:273.4px;top:64.7px;width:379.5px;line-height:18.00px;font-size:15.00px;letter-spacing:0.43px;">Dynamical Modeling of the Broad Line Region in Mrk 50</div>
<div class="ln r" style="left:830.0px;top:64.7px;width:21.0px;line-height:18.00px;font-size:15.00px;">3</div>
<svg style="left:0;top:0" width="927" height="1200" viewBox="0 0 927 1200"><defs><filter id="jet" x="0" y="0" width="1" height="1" color-interpolation-filters="sRGB"><feComponentTransfer><feFuncR type="table" tableValues="0 0 0 0 0.5 1 1 1 0.5"/><feFuncG type="table" tableValues="0 0 0.5 1 1 1 0.5 0 0"/><feFuncB type="table" tableValues="0.5 1 1 1 0.5 0 0 0 0"/></feComponentTransfer></filter></defs><linearGradient id="hdp" x1="0" x2="1" y1="0" y2="0"><stop offset="0.000" stop-color="#fff" stop-opacity="0.04"/><stop offset="0.098" stop-color="#fff" stop-opacity="0.09"/><stop offset="0.167" stop-color="#fff" stop-opacity="0.15"/><stop offset="0.216" stop-color="#fff" stop-opacity="0.22"/><stop offset="0.275" stop-color="#fff" stop-opacity="0.36"/><stop offset="0.324" stop-color="#fff" stop-opacity="0.50"/><stop offset="0.373" stop-color="#fff" stop-opacity="0.64"/><stop offset="0.412" stop-color="#fff" stop-opacity="0.76"/><stop offset="0.451" stop-color="#fff" stop-opacity="0.87"/><stop offset="0.490" stop-color="#fff" stop-opacity="0.95"/><stop offset="0.529" stop-color="#fff" stop-opacity="0.99"/><stop offset="0.569" stop-color="#fff" stop-opacity="1.00"/><stop offset="0.608" stop-color="#fff" stop-opacity="0.98"/><stop offset="0.637" stop-color="#fff" stop-opacity="0.92"/><stop offset="0.667" stop-color="#fff" stop-opacity="0.82"/><stop offset="0.696" stop-color="#fff" stop-opacity="0.70"/><stop offset="0.735" stop-color="#fff" stop-opacity="0.55"/><stop offset="0.784" stop-color="#fff" stop-opacity="0.40"/><stop offset="0.833" stop-color="#fff" stop-opacity="0.27"/><stop offset="0.892" stop-color="#fff" stop-opacity="0.16"/><stop offset="0.951" stop-color="#fff" stop-opacity="0.10"/><stop offset="1.000" stop-color="#fff" stop-opacity="0.07"/></linearGradient><linearGradient id="hda" x1="0" x2="0" y1="0" y2="1"><stop offset="0.0000" stop-color="#e9e9e9"/><stop offset="0.0182" stop-color="#e9e9e9"/><stop offset="0.0182" stop-color="#e0e0e0"/><stop offset="0.0364" stop-color="#e0e0e0"/><stop offset="0.0364" stop-color="#dfdfdf"/><stop offset="0.0545" stop-color="#dfdfdf"/><stop offset="0.0545" stop-color="#d3d3d3"/><stop offset="0.0727" stop-color="#d3d3d3"/><stop offset="0.0727" stop-color="#d5d5d5"/><stop offset="0.0909" stop-color="#d5d5d5"/><stop offset="0.0909" stop-color="#cecece"/><stop offset="0.1091" stop-color="#cecece"/><stop offset="0.1091" stop-color="#cccccc"/><stop offset="0.1273" stop-color="#cccccc"/><stop offset="0.1273" stop-color="#d4d4d4"/><stop offset="0.1455" stop-color="#d4d4d4"/><stop offset="0.1455" stop-color="#d0d0d0"/><stop offset="0.1636" stop-color="#d0d0d0"/><stop offset="0.1636" stop-color="#d7d7d7"/><stop offset="0.1818" stop-color="#d7d7d7"/><stop offset="0.1818" stop-color="#d5d5d5"/><stop offset="0.2000" stop-color="#d5d5d5"/><stop offset="0.2000" stop-color="#d8d8d8"/><stop offset="0.2182" stop-color="#d8d8d8"/><stop offset="0.2182" stop-color="#e0e0e0"/><stop offset="0.2364" stop-color="#e0e0e0"/><stop offset="0.2364" stop-color="#e9e9e9"/><stop offset="0.2545" stop-color="#e9e9e9"/><stop offset="0.2545" stop-color="#e3e3e3"/><stop offset="0.2727" stop-color="#e3e3e3"/><stop offset="0.2727" stop-color="#e8e8e8"/><stop offset="0.2909" stop-color="#e8e8e8"/><stop offset="0.2909" stop-color="#f0f0f0"/><stop offset="0.3091" stop-color="#f0f0f0"/><stop offset="0.3091" stop-color="#f8f8f8"/><stop offset="0.3273" stop-color="#f8f8f8"/><stop offset="0.3273" stop-color="#f5f5f5"/><stop offset="0.3455" stop-color="#f5f5f5"/><stop offset="0.3455" stop-color="#f5f5f5"/><stop offset="0.3636" stop-color="#f5f5f5"/><stop offset="0.3636" stop-color="#ffffff"/><stop offset="0.3818" stop-color="#ffffff"/><stop offset="0.3818" stop-color="#f3f3f3"/><stop offset="0.4000" stop-color="#f3f3f3"/><stop offset="0.4000" stop-color="#ffffff"/><stop offset="0.4182" stop-color="#ffffff"/><stop offset="0.4182" stop-color="#f8f8f8"/><stop offset="0.4364" stop-color="#f8f8f8"/><stop offset="0.4364" stop-color="#f6f6f6"/><stop offset="0.4545" stop-color="#f6f6f6"/><stop offset="0.4545" stop-color="#f6f6f6"/><stop offset="0.4727" stop-color="#f6f6f6"/><stop offset="0.4727" stop-color="#fafafa"/><stop offset="0.4909" stop-color="#fafafa"/><stop offset="0.4909" stop-color="#ffffff"/><stop offset="0.5091" stop-color="#ffffff"/><stop offset="0.5091" stop-color="#f8f8f8"/><stop offset="0.5273" stop-color="#f8f8f8"/><stop offset="0.5273" stop-color="#fdfdfd"/><stop offset="0.5455" stop-color="#fdfdfd"/><stop offset="0.5455" stop-color="#fdfdfd"/><stop offset="0.5636" stop-color="#fdfdfd"/><stop offset="0.5636" stop-color="#f8f8f8"/><stop offset="0.5818" stop-color="#f8f8f8"/><stop offset="0.5818" stop-color="#fafafa"/><stop offset="0.6000" stop-color="#fafafa"/><stop offset="0.6000" stop-color="#f2f2f2"/><stop offset="0.6182" stop-color="#f2f2f2"/><stop offset="0.6182" stop-color="#f0f0f0"/><stop offset="0.6364" stop-color="#f0f0f0"/><stop offset="0.6364" stop-color="#efefef"/><stop offset="0.6545" stop-color="#efefef"/><stop offset="0.6545" stop-color="#f4f4f4"/><stop offset="0.6727" stop-color="#f4f4f4"/><stop offset="0.6727" stop-color="#ededed"/><stop offset="0.6909" stop-color="#ededed"/><stop offset="0.6909" stop-color="#e9e9e9"/><stop offset="0.7091" stop-color="#e9e9e9"/><stop offset="0.7091" stop-color="#e8e8e8"/><stop offset="0.7273" stop-color="#e8e8e8"/><stop offset="0.7273" stop-color="#e1e1e1"/><stop offset="0.7455" stop-color="#e1e1e1"/><stop offset="0.7455" stop-color="#dadada"/><stop offset="0.7636" stop-color="#dadada"/><stop offset="0.7636" stop-color="#dbdbdb"/><stop offset="0.7818" stop-color="#dbdbdb"/><stop offset="0.7818" stop-color="#909090"/><stop offset="0.8000" stop-color="#909090"/><stop offset="0.8000" stop-color="#8c8c8c"/><stop offset="0.8182" stop-color="#8c8c8c"/><stop offset="0.8182" stop-color="#8e8e8e"/><stop offset="0.8364" stop-color="#8e8e8e"/><stop offset="0.8364" stop-color="#8d8d8d"/><stop offset="0.8545" stop-color="#8d8d8d"/><stop offset="0.8545" stop-color="#909090"/><stop offset="0.8727" stop-color="#909090"/><stop offset="0.8727" stop-color="#8e8e8e"/><stop offset="0.8909" stop-color="#8e8e8e"/><stop offset="0.8909" stop-color="#8a8a8a"/><stop offset="0.9091" stop-color="#8a8a8a"/><stop offset="0.9091" stop-color="#909090"/><stop offset="0.9273" stop-color="#909090"/><stop offset="0.9273" stop-color="#9a9a9a"/><stop offset="0.9455" stop-color="#9a9a9a"/><stop offset="0.9455" stop-color="#a0a0a0"/><stop offset="0.9636" stop-color="#a0a0a0"/><stop offset="0.9636" stop-color="#a7a7a7"/><stop offset="0.9818" stop-color="#a7a7a7"/><stop offset="0.9818" stop-color="#a4a4a4"/><stop offset="1.0000" stop-color="#a4a4a4"/></linearGradient><mask id="hdm" maskUnits="userSpaceOnUse" x="127.1" y="108.3" width="139.2" height="120.5"><rect x="127.1" y="108.3" width="139.2" height="120.5" fill="url(#hda)"/></mask><g filter="url(#jet)"><rect x="127.1" y="108.3" width="139.2" height="120.5" fill="#000"/><rect x="127.1" y="108.3" width="139.2" height="120.5" fill="url(#hdp)" mask="url(#hdm)"/></g><linearGradient id="hmp" x1="0" x2="1" y1="0" y2="0"><stop offset="0.000" stop-color="#fff" stop-opacity="0.04"/><stop offset="0.098" stop-color="#fff" stop-opacity="0.09"/><stop offset="0.167" stop-color="#fff" stop-opacity="0.15"/><stop offset="0.216" stop-color="#fff" stop-opacity="0.22"/><stop offset="0.275" stop-color="#fff" stop-opacity="0.36"/><stop offset="0.324" stop-color="#fff" stop-opacity="0.50"/><stop offset="0.373" stop-color="#fff" stop-opacity="0.64"/><stop offset="0.412" stop-color="#fff" stop-opacity="0.76"/><stop offset="0.451" stop-color="#fff" stop-opacity="0.87"/><stop offset="0.490" stop-color="#fff" stop-opacity="0.95"/><stop offset="0.529" stop-color="#fff" stop-opacity="0.99"/><stop offset="0.569" stop-color="#fff" stop-opacity="1.00"/><stop offset="0.608" stop-color="#fff" stop-opacity="0.98"/><stop offset="0.637" stop-color="#fff" stop-opacity="0.92"/><stop offset="0.667" stop-color="#fff" stop-opacity="0.82"/><stop offset="0.696" stop-color="#fff" stop-opacity="0.70"/><stop offset="0.735" stop-color="#fff" stop-opacity="0.55"/><stop offset="0.784" stop-color="#fff" stop-opacity="0.40"/><stop offset="0.833" stop-color="#fff" stop-opacity="0.27"/><stop offset="0.892" stop-color="#fff" stop-opacity="0.16"/><stop offset="0.951" stop-color="#fff" stop-opacity="0.10"/><stop offset="1.000" stop-color="#fff" stop-opacity="0.07"/></linearGradient><linearGradient id="hma" x1="0" x2="0" y1="0" y2="1"><stop offset="0.009" stop-color="#c2c2c2"/><stop offset="0.027" stop-color="#c2c2c2"/><stop offset="0.045" stop-color="#c3c3c3"/><stop offset="0.064" stop-color="#c3c3c3"/><stop offset="0.082" stop-color="#c4c4c4"/><stop offset="0.100" stop-color="#c4c4c4"/><stop offset="0.118" stop-color="#c5c5c5"/><stop offset="0.136" stop-color="#c5c5c5"/><stop offset="0.155" stop-color="#c6c6c6"/><stop offset="0.173" stop-color="#c6c6c6"/><stop offset="0.191" stop-color="#c7c7c7"/><stop offset="0.209" stop-color="#e0e0e0"/><stop offset="0.227" stop-color="#e4e4e4"/><stop offset="0.245" stop-color="#e7e7e7"/><stop offset="0.264" stop-color="#eaeaea"/><stop offset="0.282" stop-color="#ededed"/><stop offset="0.300" stop-color="#f0f0f0"/><stop offset="0.318" stop-color="#f2f2f2"/><stop offset="0.336" stop-color="#f5f5f5"/><stop offset="0.355" stop-color="#f7f7f7"/><stop offset="0.373" stop-color="#fafafa"/><stop offset="0.391" stop-color="#fbfbfb"/><stop offset="0.409" stop-color="#fcfcfc"/><stop offset="0.427" stop-color="#fcfcfc"/><stop offset="0.445" stop-color="#fdfdfd"/><stop offset="0.464" stop-color="#fefefe"/><stop offset="0.482" stop-color="#ffffff"/><stop offset="0.500" stop-color="#fefefe"/><stop offset="0.518" stop-color="#fcfcfc"/><stop offset="0.536" stop-color="#fbfbfb"/><stop offset="0.555" stop-color="#fafafa"/><stop offset="0.573" stop-color="#f9f9f9"/><stop offset="0.591" stop-color="#f7f7f7"/><stop offset="0.609" stop-color="#f4f4f4"/><stop offset="0.627" stop-color="#f1f1f1"/><stop offset="0.645" stop-color="#eeeeee"/><stop offset="0.664" stop-color="#ebebeb"/><stop offset="0.682" stop-color="#e8e8e8"/><stop offset="0.700" stop-color="#e3e3e3"/><stop offset="0.718" stop-color="#dedede"/><stop offset="0.736" stop-color="#d9d9d9"/><stop offset="0.755" stop-color="#d4d4d4"/><stop offset="0.773" stop-color="#949494"/><stop offset="0.791" stop-color="#939393"/><stop offset="0.809" stop-color="#929292"/><stop offset="0.827" stop-color="#929292"/><stop offset="0.845" stop-color="#919191"/><stop offset="0.864" stop-color="#909090"/><stop offset="0.882" stop-color="#909090"/><stop offset="0.900" stop-color="#8f8f8f"/><stop offset="0.918" stop-color="#999999"/><stop offset="0.936" stop-color="#9c9c9c"/><stop offset="0.955" stop-color="#9e9e9e"/><stop offset="0.973" stop-color="#a1a1a1"/><stop offset="0.991" stop-color="#a3a3a3"/></linearGradient><mask id="hmm" maskUnits="userSpaceOnUse" x="284.2" y="108.3" width="139.2" height="120.5"><rect x="284.2" y="108.3" width="139.2" height="120.5" fill="url(#hma)"/></mask><g filter="url(#jet)"><rect x="284.2" y="108.3" width="139.2" height="120.5" fill="#000"/><rect x="284.2" y="108.3" width="139.2" height="120.5" fill="url(#hmp)" mask="url(#hmm)"/></g><rect x="127.1" y="108.3" width="139.2" height="120.5" fill="none" stroke="#000" stroke-width="0.7"/><text x="174.5" y="239.8" font-size="11.6" text-anchor="middle">&minus;20</text><path d="M174.5 228.8v-2.5M174.5 108.3v2.5" stroke="#000" stroke-width="0.6"/><text x="201.8" y="239.8" font-size="11.6" text-anchor="middle">0</text><path d="M201.8 228.8v-2.5M201.8 108.3v2.5" stroke="#000" stroke-width="0.6"/><text x="229.1" y="239.8" font-size="11.6" text-anchor="middle">20</text><path d="M229.1 228.8v-2.5M229.1 108.3v2.5" stroke="#000" stroke-width="0.6"/><text x="256.3" y="239.8" font-size="11.6" text-anchor="middle">40</text><path d="M256.3 228.8v-2.5M256.3 108.3v2.5" stroke="#000" stroke-width="0.6"/><text x="196.6" y="250.7" font-size="11.6" text-anchor="middle" textLength="104.0" lengthAdjust="spacingAndGlyphs">Velocity (100 km/s)</text><rect x="284.2" y="108.3" width="139.2" height="120.5" fill="none" stroke="#000" stroke-width="0.7"/><text x="331.6" y="239.8" font-size="11.6" text-anchor="middle">&minus;20</text><path d="M331.6 228.8v-2.5M331.6 108.3v2.5" stroke="#000" stroke-width="0.6"/><text x="358.9" y="239.8" font-size="11.6" text-anchor="middle">0</text><path d="M358.9 228.8v-2.5M358.9 108.3v2.5" stroke="#000" stroke-width="0.6"/><text x="386.2" y="239.8" font-size="11.6" text-anchor="middle">20</text><path d="M386.2 228.8v-2.5M386.2 108.3v2.5" stroke="#000" stroke-width="0.6"/><text x="413.4" y="239.8" font-size="11.6" text-anchor="middle">40</text><path d="M413.4 228.8v-2.5M413.4 108.3v2.5" stroke="#000" stroke-width="0.6"/><text x="353.7" y="250.7" font-size="11.6" text-anchor="middle" textLength="104.0" lengthAdjust="spacingAndGlyphs">Velocity (100 km/s)</text><text x="124.8" y="134.7" font-size="11.6" text-anchor="end">10</text><path d="M126.7 130.6h2.5M266 130.6h-2.5M283.8 130.6h2.5M423.1 130.6h-2.5" stroke="#000" stroke-width="0.6"/><text x="124.8" y="156.3" font-size="11.6" text-anchor="end">20</text><path d="M126.7 152.2h2.5M266 152.2h-2.5M283.8 152.2h2.5M423.1 152.2h-2.5" stroke="#000" stroke-width="0.6"/><text x="124.8" y="178.0" font-size="11.6" text-anchor="end">30</text><path d="M126.7 173.9h2.5M266 173.9h-2.5M283.8 173.9h2.5M423.1 173.9h-2.5" stroke="#000" stroke-width="0.6"/><text x="124.8" y="199.6" font-size="11.6" text-anchor="end">40</text><path d="M126.7 195.5h2.5M266 195.5h-2.5M283.8 195.5h2.5M423.1 195.5h-2.5" stroke="#000" stroke-width="0.6"/><text transform="translate(107.2,168.0) rotate(-90)" font-size="11.6" text-anchor="middle" textLength="102.0" lengthAdjust="spacingAndGlyphs">Observation Epoch</text><text x="129.2" y="128.6" font-size="11.6" text-anchor="start" fill="#fff" style="fill:#fff">Data</text><text x="286.3" y="128.6" font-size="11.6" text-anchor="start" fill="#fff" style="fill:#fff">Model</text><path d="M146.7 340.6L151.1 326.8L155.6 324.1L160.0 325.4L164.4 328.4L168.9 329.7L173.3 326.7L177.7 320.6L182.2 314.6L186.6 309.6L191.0 308.7L195.4 296.9L199.9 303.2L204.3 301.5L208.7 299.1L213.2 294.3L217.6 290.4L222.0 287.5L226.5 289.1L230.9 290.3L235.3 289.4L239.8 287.9L244.2 286.4L248.6 286.8L253.1 288.1L257.5 289.8L261.9 294.0L266.4 297.2L270.8 300.5L275.2 303.8L279.6 308.0L284.1 313.0L288.5 318.3L292.9 323.1L297.4 327.2L301.8 330.5L306.2 333.9L310.7 339.5L315.1 346.0L319.5 349.8L324.0 353.0L328.4 355.1L332.8 373.0L337.3 372.5L341.7 372.8L346.1 374.1L350.5 375.8L355.0 377.0L359.4 377.2L363.8 376.8L368.3 367.9L372.7 364.4L377.1 361.9L381.6 359.1L386.0 355.8" fill="none" stroke="#888" stroke-width="0.8" stroke-dasharray="0.9 1.6"/><path d="M146.7 340.7L151.1 331.5L155.6 334.0L160.0 337.7L164.4 339.1L168.9 336.3L173.3 330.1L177.7 324.2L182.2 321.7L186.6 320.6L191.0 320.8L195.4 305.9L199.9 308.0L204.3 304.4L208.7 300.9L213.2 295.8L217.6 291.6L222.0 287.8L226.5 287.4L230.9 286.1L235.3 283.2L239.8 280.6L244.2 278.9L248.6 279.4L253.1 280.2L257.5 280.6L261.9 283.2L266.4 285.2L270.8 288.5L275.2 292.8L279.6 298.3L284.1 304.1L288.5 309.4L292.9 313.8L297.4 318.1L301.8 322.6L306.2 328.1L310.7 336.0L315.1 344.2L319.5 348.7L324.0 352.2L328.4 354.9L332.8 374.3L337.3 375.9L341.7 378.4L346.1 381.0L350.5 382.9L355.0 383.7L359.4 383.7L363.8 384.1L368.3 376.7L372.7 374.5L377.1 372.4L381.6 368.8L386.0 364.1" fill="none" stroke="#888" stroke-width="0.8" stroke-dasharray="0.9 1.6"/><path d="M146.7 329.3L151.1 323.0L155.6 325.6L160.0 325.8L164.4 322.0L168.9 315.9L173.3 310.3L177.7 308.6L182.2 310.7L186.6 311.6L191.0 310.2L195.4 292.0L199.9 296.4L204.3 294.7L208.7 294.0L213.2 291.9L217.6 290.0L222.0 287.5L226.5 288.0L230.9 288.0L235.3 287.2L239.8 287.3L244.2 288.2L248.6 290.3L253.1 291.7L257.5 291.9L261.9 294.3L266.4 296.9L270.8 301.4L275.2 306.5L279.6 311.7L284.1 316.0L288.5 319.2L292.9 321.6L297.4 324.7L301.8 328.6L306.2 333.2L310.7 339.5L315.1 344.9L319.5 346.3L324.0 347.1L328.4 348.1L332.8 366.6L337.3 367.5L341.7 368.6L346.1 369.1L350.5 368.8L355.0 368.0L359.4 367.6L363.8 369.0L368.3 362.8L372.7 361.4L377.1 359.4L381.6 355.8L386.0 351.8" fill="none" stroke="#888" stroke-width="0.8" stroke-dasharray="0.9 1.6"/><path d="M146.7 329.2L151.1 325.1L155.6 326.2L160.0 323.3L164.4 318.3L168.9 314.6L173.3 314.5L177.7 317.9L182.2 321.8L186.6 320.7L191.0 315.4L195.4 295.2L199.9 304.0L204.3 303.5L208.7 303.7L213.2 301.4L217.6 298.3L222.0 294.0L226.5 293.1L230.9 292.3L235.3 291.5L239.8 291.3L244.2 291.1L248.6 291.0L253.1 289.8L257.5 287.9L261.9 289.3L266.4 291.7L270.8 295.8L275.2 299.9L279.6 303.3L284.1 305.6L288.5 307.5L292.9 309.8L297.4 313.6L301.8 318.3L306.2 323.2L310.7 328.9L315.1 333.7L319.5 335.2L324.0 337.2L328.4 340.3L332.8 360.9L337.3 363.1L341.7 364.7L346.1 365.5L350.5 366.0L355.0 367.1L359.4 369.2L363.8 373.2L368.3 368.6L372.7 367.8L377.1 366.1L381.6 363.1L386.0 360.6" fill="none" stroke="#888" stroke-width="0.8" stroke-dasharray="0.9 1.6"/><path d="M146.7 335.4L151.1 326.9L155.6 322.4L160.0 316.0L164.4 311.5L168.9 311.0L173.3 313.5L177.7 316.2L182.2 315.9L186.6 309.5L191.0 301.4L195.4 282.4L199.9 294.6L204.3 294.8L208.7 295.1L213.2 292.2L217.6 288.3L222.0 284.0L226.5 284.2L230.9 285.4L235.3 286.3L239.8 287.2L244.2 287.3L248.6 287.2L253.1 286.7L257.5 286.5L261.9 290.2L266.4 294.6L270.8 299.8L275.2 304.1L279.6 307.2L284.1 309.8L288.5 312.8L292.9 316.7L297.4 321.7L301.8 326.6L306.2 330.5L310.7 334.9L315.1 338.9L319.5 340.3L324.0 342.8L328.4 345.9L332.8 365.6L337.3 365.9L341.7 365.3L346.1 364.5L350.5 364.3L355.0 365.2L359.4 367.0L363.8 370.2L368.3 364.0L372.7 361.4L377.1 358.6L381.6 355.8L386.0 354.0" fill="none" stroke="#888" stroke-width="0.8" stroke-dasharray="0.9 1.6"/><path d="M146.7 337.6L151.1 328.6L168.9 324.1L182.2 319.6L191.0 312.1L195.4 295.6L199.9 303.1L208.7 300.1L222.0 288.1L230.9 288.1L244.2 285.1L257.5 285.1L266.4 291.1L279.6 303.1L292.9 315.1L306.2 328.6L315.1 340.6L328.4 349.6L332.8 369.1L346.1 372.1L363.8 376.6L368.3 369.1L377.1 363.1L386.0 355.6" fill="none" stroke="#e8201c" stroke-width="1.5" stroke-dasharray="5 2.6"/><path d="M146.7 329.2L151.1 313.6L155.6 319.8L160.0 330.4L164.4 316.9L168.9 319.8L173.3 328.6L177.7 321.2L182.2 309.9L186.6 319.3L191.0 314.4L195.4 309.1L199.9 295.8L204.3 300.2L208.7 294.1L213.2 297.1L217.6 295.3L222.0 292.9L226.5 300.2L230.9 304.6L235.3 298.3L239.8 293.4L244.2 284.6L248.6 293.4L253.1 285.1L257.5 291.4L261.9 290.8L266.4 293.4L270.8 297.1L275.2 296.5L279.6 303.2L284.1 302.5L288.5 309.0L292.9 316.9L297.4 316.2L301.8 323.1L306.2 318.9L310.7 321.9L315.1 334.2L319.5 340.3L324.0 346.0L328.4 350.2L332.8 370.0L337.3 366.9L341.7 373.3L346.1 379.9L350.5 372.1L355.0 376.3L359.4 379.2L363.8 382.9L368.3 370.8L372.7 368.1L377.1 354.0L381.6 350.8L386.0 349.3" fill="none" stroke="#0808e0" stroke-width="1.4" stroke-linejoin="round"/><rect x="146.7" y="271.6" width="239.3" height="120.0" fill="none" stroke="#000" stroke-width="0.7"/><text x="144.3" y="395.8" font-size="11.6" text-anchor="end">60</text><text x="144.3" y="365.8" font-size="11.6" text-anchor="end">80</text><text x="144.3" y="335.8" font-size="11.6" text-anchor="end">100</text><text x="144.3" y="305.8" font-size="11.6" text-anchor="end">120</text><text x="144.3" y="275.8" font-size="11.6" text-anchor="end">140</text><text x="146.7" y="403.9" font-size="11.6" text-anchor="middle">0</text><text x="191.0" y="403.9" font-size="11.6" text-anchor="middle">10</text><text x="235.3" y="403.9" font-size="11.6" text-anchor="middle">20</text><text x="279.6" y="403.9" font-size="11.6" text-anchor="middle">30</text><text x="324.0" y="403.9" font-size="11.6" text-anchor="middle">40</text><text x="368.3" y="403.9" font-size="11.6" text-anchor="middle">50</text><path d="M146.7 391.6h2.5M386.0 391.6h-2.5M146.7 361.6h2.5M386.0 361.6h-2.5M146.7 331.6h2.5M386.0 331.6h-2.5M146.7 301.6h2.5M386.0 301.6h-2.5M146.7 271.6h2.5M386.0 271.6h-2.5M146.7 391.6v-2.5M146.7 271.6v2.5M191.0 391.6v-2.5M191.0 271.6v2.5M235.3 391.6v-2.5M235.3 271.6v2.5M279.6 391.6v-2.5M279.6 271.6v2.5M324.0 391.6v-2.5M324.0 271.6v2.5M368.3 391.6v-2.5M368.3 271.6v2.5" stroke="#000" stroke-width="0.6"/><text x="266.7" y="414.3" font-size="11.6" text-anchor="middle" textLength="103.0" lengthAdjust="spacingAndGlyphs">Observation Epoch</text><text transform="translate(122.4,330.5) rotate(-90)" font-size="11.6" text-anchor="middle">Flux</text><path d="M154.1 355.6h18.4" stroke="#0808e0" stroke-width="1.4"/><path d="M154.1 368.2h18.4" stroke="#e8201c" stroke-width="1.5" stroke-dasharray="5 2.6"/><path d="M154.1 380.8h18.4" stroke="#888" stroke-width="0.8" stroke-dasharray="0.9 1.6"/><text x="178.9" y="359.0" font-size="9.3" text-anchor="start">Data</text><text x="178.9" y="371.6" font-size="9.3" text-anchor="start">Model</text><text x="178.9" y="384.2" font-size="9.3" text-anchor="start" textLength="58.5" lengthAdjust="spacingAndGlyphs">Other Models</text><path d="M146.7 531.3v6.4M148.7 529.6v6.4M150.7 528.8v6.4M152.7 527.2v6.4M154.8 525.1v6.4M156.8 524.7v6.4M158.8 523.4v6.4M160.8 523.3v6.4M162.8 523.2v6.4M164.8 521.3v6.4M166.8 520.3v6.4M168.9 516.8v6.4M170.9 514.4v6.4M172.9 512.1v6.4M174.9 511.9v6.4M176.9 512.3v6.4M178.9 510.6v6.4M180.9 509.7v6.4M183.0 506.7v6.4M185.0 502.9v6.4M187.0 500.4v6.4M189.0 499.2v6.4M191.0 498.7v6.4M193.0 497.6v6.4M195.0 496.1v6.4M197.1 495.0v6.4M199.1 492.0v6.4M201.1 490.0v6.4M203.1 488.5v6.4M205.1 486.1v6.4M207.1 484.8v6.4M209.1 482.6v6.4M211.2 480.7v6.4M213.2 478.5v6.4M215.2 475.8v6.4M217.2 472.5v6.4M219.2 471.0v6.4M221.2 468.2v6.4M223.2 466.4v6.4M225.3 463.4v6.4M227.3 462.3v6.4M229.3 461.1v6.4M231.3 459.0v6.4M233.3 457.4v6.4M235.3 454.5v6.4M237.3 454.0v6.4M239.4 452.6v6.4M241.4 449.9v6.4M243.4 449.4v6.4M245.4 449.0v6.4M247.4 447.5v6.4M249.4 445.5v6.4M251.4 442.1v6.4M253.5 437.6v6.4M255.5 436.1v6.4M257.5 437.4v6.4M259.5 439.8v6.4M261.5 444.1v6.4M263.5 448.9v6.4M265.5 451.4v6.4M267.6 450.1v6.4M269.6 445.0v6.4M271.6 442.7v6.4M273.6 441.8v6.4M275.6 441.8v6.4M277.6 442.5v6.4M279.6 444.9v6.4M281.7 446.7v6.4M283.7 450.1v6.4M285.7 453.1v6.4M287.7 456.9v6.4M289.7 459.9v6.4M291.7 463.4v6.4M293.7 467.5v6.4M295.8 470.0v6.4M297.8 474.4v6.4M299.8 477.7v6.4M301.8 480.1v6.4M303.8 483.5v6.4M305.8 487.1v6.4M307.8 490.7v6.4M309.9 494.3v6.4M311.9 496.3v6.4M313.9 498.7v6.4M315.9 501.5v6.4M317.9 505.2v6.4M319.9 507.7v6.4M321.9 509.5v6.4M324.0 511.2v6.4M326.0 511.8v6.4M328.0 513.8v6.4M330.0 514.4v6.4M332.0 515.6v6.4M334.0 517.2v6.4M336.0 518.7v6.4M338.1 518.8v6.4M340.1 517.8v6.4M342.1 518.2v6.4M344.1 518.7v6.4M346.1 520.5v6.4M348.1 522.7v6.4M350.1 525.1v6.4M352.2 527.2v6.4M354.2 528.0v6.4M356.2 528.5v6.4M358.2 529.4v6.4M360.2 529.6v6.4M362.2 529.2v6.4M364.2 528.8v6.4M366.3 527.8v6.4M368.3 527.9v6.4M370.3 529.2v6.4M372.3 529.2v6.4M374.3 531.8v6.4M376.3 532.9v6.4M378.3 534.7v6.4M380.4 535.4v6.4M382.4 536.2v6.4" stroke="#5050ff" stroke-width="0.7" opacity="0.75"/><path d="M146.7 534.5L148.7 532.8L150.7 532.0L152.7 530.4L154.8 528.3L156.8 527.9L158.8 526.6L160.8 526.5L162.8 526.4L164.8 524.5L166.8 523.5L168.9 520.0L170.9 517.6L172.9 515.3L174.9 515.1L176.9 515.5L178.9 513.8L180.9 512.9L183.0 509.9L185.0 506.1L187.0 503.6L189.0 502.4L191.0 501.9L193.0 500.8L195.0 499.3L197.1 498.2L199.1 495.2L201.1 493.2L203.1 491.7L205.1 489.3L207.1 488.0L209.1 485.8L211.2 483.9L213.2 481.7L215.2 479.0L217.2 475.7L219.2 474.2L221.2 471.4L223.2 469.6L225.3 466.6L227.3 465.5L229.3 464.3L231.3 462.2L233.3 460.6L235.3 457.7L237.3 457.2L239.4 455.8L241.4 453.1L243.4 452.6L245.4 452.2L247.4 450.7L249.4 448.7L251.4 445.3L253.5 440.8L255.5 439.3L257.5 440.6L259.5 443.0L261.5 447.3L263.5 452.1L265.5 454.6L267.6 453.3L269.6 448.2L271.6 445.9L273.6 445.0L275.6 445.0L277.6 445.7L279.6 448.1L281.7 449.9L283.7 453.3L285.7 456.3L287.7 460.1L289.7 463.1L291.7 466.6L293.7 470.7L295.8 473.2L297.8 477.6L299.8 480.9L301.8 483.3L303.8 486.7L305.8 490.3L307.8 493.9L309.9 497.5L311.9 499.5L313.9 501.9L315.9 504.7L317.9 508.4L319.9 510.9L321.9 512.7L324.0 514.4L326.0 515.0L328.0 517.0L330.0 517.6L332.0 518.8L334.0 520.4L336.0 521.9L338.1 522.0L340.1 521.0L342.1 521.4L344.1 521.9L346.1 523.7L348.1 525.9L350.1 528.3L352.2 530.4L354.2 531.2L356.2 531.7L358.2 532.6L360.2 532.8L362.2 532.4L364.2 532.0L366.3 531.0L368.3 531.1L370.3 532.4L372.3 532.4L374.3 535.0L376.3 536.1L378.3 537.9L380.4 538.6L382.4 539.4" fill="none" stroke="#4040ff" stroke-width="2.6" opacity="0.5"/><path d="M146.7 536.3v5.2M148.7 536.7v5.2M150.7 537.1v5.2M152.7 536.0v5.2M154.8 535.4v5.2M156.8 535.5v5.2M158.8 535.4v5.2M160.8 534.2v5.2M162.8 533.0v5.2M164.8 531.4v5.2M166.8 529.5v5.2M168.9 528.4v5.2M170.9 526.2v5.2M172.9 524.4v5.2M174.9 523.6v5.2M176.9 521.9v5.2M178.9 519.5v5.2M180.9 519.1v5.2M183.0 517.5v5.2M185.0 515.6v5.2M187.0 514.9v5.2M189.0 513.0v5.2M191.0 510.8v5.2M193.0 510.0v5.2M195.0 508.3v5.2M197.1 506.5v5.2M199.1 505.1v5.2M201.1 504.3v5.2M203.1 503.2v5.2M205.1 501.8v5.2M207.1 500.2v5.2M209.1 498.8v5.2M211.2 498.2v5.2M213.2 497.0v5.2M215.2 496.2v5.2M217.2 494.6v5.2M219.2 494.3v5.2M221.2 493.3v5.2M223.2 491.7v5.2M225.3 491.2v5.2M227.3 490.4v5.2M229.3 488.2v5.2M231.3 484.7v5.2M233.3 482.2v5.2M235.3 477.9v5.2M237.3 475.7v5.2M239.4 475.8v5.2M241.4 477.1v5.2M243.4 480.2v5.2M245.4 481.6v5.2M247.4 479.5v5.2M249.4 475.9v5.2M251.4 469.7v5.2M253.5 463.6v5.2M255.5 462.2v5.2M257.5 466.0v5.2M259.5 470.2v5.2M261.5 474.5v5.2M263.5 476.0v5.2M265.5 475.6v5.2M267.6 475.9v5.2M269.6 476.1v5.2M271.6 477.4v5.2M273.6 477.6v5.2M275.6 477.0v5.2M277.6 477.8v5.2M279.6 479.0v5.2M281.7 481.0v5.2M283.7 481.1v5.2M285.7 482.7v5.2M287.7 484.9v5.2M289.7 486.2v5.2M291.7 486.9v5.2M293.7 489.5v5.2M295.8 491.1v5.2M297.8 494.1v5.2M299.8 495.3v5.2M301.8 498.6v5.2M303.8 499.7v5.2M305.8 502.8v5.2M307.8 505.3v5.2M309.9 506.0v5.2M311.9 508.6v5.2M313.9 510.5v5.2M315.9 511.8v5.2M317.9 514.3v5.2M319.9 516.1v5.2M321.9 517.5v5.2M324.0 518.6v5.2M326.0 519.2v5.2M328.0 519.8v5.2M330.0 520.9v5.2M332.0 521.8v5.2M334.0 522.7v5.2M336.0 524.1v5.2M338.1 526.3v5.2M340.1 527.7v5.2M342.1 528.7v5.2M344.1 531.1v5.2M346.1 532.7v5.2M348.1 535.3v5.2M350.1 536.0v5.2M352.2 536.0v5.2M354.2 536.7v5.2M356.2 536.5v5.2M358.2 537.0v5.2M360.2 537.0v5.2M362.2 536.9v5.2M364.2 536.7v5.2M366.3 536.3v5.2M368.3 536.0v5.2M370.3 536.7v5.2M372.3 536.5v5.2M374.3 537.8v5.2M376.3 538.2v5.2M378.3 538.4v5.2M380.4 537.7v5.2M382.4 538.9v5.2" stroke="#30a030" stroke-width="0.7" opacity="0.75"/><path d="M146.7 538.9L148.7 539.3L150.7 539.7L152.7 538.6L154.8 538.0L156.8 538.1L158.8 538.0L160.8 536.8L162.8 535.6L164.8 534.0L166.8 532.1L168.9 531.0L170.9 528.8L172.9 527.0L174.9 526.2L176.9 524.5L178.9 522.1L180.9 521.7L183.0 520.1L185.0 518.2L187.0 517.5L189.0 515.6L191.0 513.4L193.0 512.6L195.0 510.9L197.1 509.1L199.1 507.7L201.1 506.9L203.1 505.8L205.1 504.4L207.1 502.8L209.1 501.4L211.2 500.8L213.2 499.6L215.2 498.8L217.2 497.2L219.2 496.9L221.2 495.9L223.2 494.3L225.3 493.8L227.3 493.0L229.3 490.8L231.3 487.3L233.3 484.8L235.3 480.5L237.3 478.3L239.4 478.4L241.4 479.7L243.4 482.8L245.4 484.2L247.4 482.1L249.4 478.5L251.4 472.3L253.5 466.2L255.5 464.8L257.5 468.6L259.5 472.8L261.5 477.1L263.5 478.6L265.5 478.2L267.6 478.5L269.6 478.7L271.6 480.0L273.6 480.2L275.6 479.6L277.6 480.4L279.6 481.6L281.7 483.6L283.7 483.7L285.7 485.3L287.7 487.5L289.7 488.8L291.7 489.5L293.7 492.1L295.8 493.7L297.8 496.7L299.8 497.9L301.8 501.2L303.8 502.3L305.8 505.4L307.8 507.9L309.9 508.6L311.9 511.2L313.9 513.1L315.9 514.4L317.9 516.9L319.9 518.7L321.9 520.1L324.0 521.2L326.0 521.8L328.0 522.4L330.0 523.5L332.0 524.4L334.0 525.3L336.0 526.7L338.1 528.9L340.1 530.3L342.1 531.3L344.1 533.7L346.1 535.3L348.1 537.9L350.1 538.6L352.2 538.6L354.2 539.3L356.2 539.1L358.2 539.6L360.2 539.6L362.2 539.5L364.2 539.3L366.3 538.9L368.3 538.6L370.3 539.3L372.3 539.1L374.3 540.4L376.3 540.8L378.3 541.0L380.4 540.3L382.4 541.5" fill="none" stroke="#30a030" stroke-width="2.2" opacity="0.5"/><path d="M146.7 533.3L160.1 527.3L173.6 518.3L187.0 506.3L200.4 493.1L213.8 479.3L221.9 469.1L227.3 464.3L235.3 457.1L240.7 452.9L248.8 449.3L252.8 440.9L255.5 438.5L259.5 440.3L267.6 442.1L275.6 443.3L281.0 448.1L286.4 456.5L294.4 470.3L307.8 491.3L321.3 508.1L334.7 518.3L348.1 527.3L361.6 534.5L375.0 538.1L383.0 539.9" fill="none" stroke="#e01010" stroke-width="1.5" stroke-linejoin="round"/><path d="M146.7 537.5L160.1 533.3L173.6 526.1L187.0 517.1L200.4 509.3L213.8 500.3L227.3 493.1L240.7 487.1L246.1 485.3L250.1 479.3L254.1 473.3L258.2 476.3L262.2 478.7L267.6 479.3L275.6 480.5L281.0 484.1L294.4 495.5L307.8 508.1L321.3 519.5L334.7 525.5L348.1 534.5L361.6 537.5L375.0 539.9L383.0 541.1" fill="none" stroke="#e01010" stroke-width="1.5" stroke-linejoin="round"/><rect x="146.7" y="425.3" width="239.3" height="120.0" fill="none" stroke="#000" stroke-width="0.7"/><text x="144.3" y="549.5" font-size="11.6" text-anchor="end">0.0</text><text x="144.3" y="519.5" font-size="11.6" text-anchor="end">0.5</text><text x="144.3" y="489.5" font-size="11.6" text-anchor="end">1.0</text><text x="144.3" y="459.5" font-size="11.6" text-anchor="end">1.5</text><text x="144.3" y="429.5" font-size="11.6" text-anchor="end">2.0</text><text x="146.7" y="557.0" font-size="11.6" text-anchor="middle">&minus;40</text><text x="173.6" y="557.0" font-size="11.6" text-anchor="middle">&minus;30</text><text x="200.4" y="557.0" font-size="11.6" text-anchor="middle">&minus;20</text><text x="227.3" y="557.0" font-size="11.6" text-anchor="middle">&minus;10</text><text x="254.1" y="557.0" font-size="11.6" text-anchor="middle">0</text><text x="281.0" y="557.0" font-size="11.6" text-anchor="middle">10</text><text x="307.8" y="557.0" font-size="11.6" text-anchor="middle">20</text><text x="334.7" y="557.0" font-size="11.6" text-anchor="middle">30</text><text x="361.6" y="557.0" font-size="11.6" text-anchor="middle">40</text><path d="M146.7 545.3h2.5M386.0 545.3h-2.5M146.7 515.3h2.5M386.0 515.3h-2.5M146.7 485.3h2.5M386.0 485.3h-2.5M146.7 455.3h2.5M386.0 455.3h-2.5M146.7 425.3h2.5M386.0 425.3h-2.5M146.7 545.3v-2.5M146.7 425.3v2.5M173.6 545.3v-2.5M173.6 425.3v2.5M200.4 545.3v-2.5M200.4 425.3v2.5M227.3 545.3v-2.5M227.3 425.3v2.5M254.1 545.3v-2.5M254.1 425.3v2.5M281.0 545.3v-2.5M281.0 425.3v2.5M307.8 545.3v-2.5M307.8 425.3v2.5M334.7 545.3v-2.5M334.7 425.3v2.5M361.6 545.3v-2.5M361.6 425.3v2.5" stroke="#000" stroke-width="0.6"/><text x="266.7" y="568.1" font-size="11.6" text-anchor="middle" textLength="104.0" lengthAdjust="spacingAndGlyphs">Velocity (100 km/s)</text><text transform="translate(124.8,484.2) rotate(-90)" font-size="11.6" text-anchor="middle">Flux</text></svg>
<svg style="left:0;top:0" width="927" height="1200" viewBox="0 0 927 1200"><linearGradient id="g390" x1="0" x2="1"><stop offset="0" stop-color="#ececec"/><stop offset="1" stop-color="#e2e2e2"/></linearGradient><polygon points="548.6,104.2 679.2,95.7 679.2,228.5 550.2,239.5" fill="#f3f3f3"/><polygon points="679.2,95.7 760.0,110.5 758.8,252.1 679.2,228.5" fill="url(#g390)"/><polygon points="550.2,239.5 679.2,228.5 758.8,252.1 622.5,270.0" fill="#f1f1f1"/><path d="M570.8 102.7L572.1 237.6M548.9 127.2L679.2 118.2L759.8 134.5M692.9 98.2L692.7 232.5L562.5 244.7M572.1 237.6L645.7 266.9M591.7 101.4L592.7 235.8M549.1 148.8L679.2 139.5L759.6 157.2M705.9 100.5L705.4 236.2L574.0 249.5M592.7 235.8L667.5 264.1M613.9 99.9L614.7 234.0M549.4 171.8L679.2 162.1L759.4 181.3M719.6 103.1L719.0 240.3L586.3 254.7M614.7 234.0L690.7 261.0M636.1 98.5L636.6 232.1M549.6 194.8L679.2 184.6L759.2 205.3M733.4 105.6L732.5 244.3L598.6 259.9M636.6 232.1L713.8 258.0M657.0 97.1L657.2 230.3M549.9 216.5L679.2 205.9L759.0 228.0M746.3 107.9L745.2 248.0L610.2 264.8M657.2 230.3L735.6 255.1" stroke="#fff" stroke-width="0.5" fill="none" opacity="0.35"/><path d="M550.2 239.5L622.5 270.0L758.8 252.1L760.0 110.5" stroke="#333" stroke-width="0.6" fill="none"/><path d="M673.8 165.1h0M620.3 162.7h0M615.8 147.9h0M632.9 216.3h0M627.8 130.0h0M710.0 165.5h0M665.6 204.0h0M694.8 196.8h0M689.4 187.4h0M664.3 152.3h0M618.0 177.8h0M640.4 211.1h0M684.2 120.4h0M651.7 214.5h0M650.9 139.5h0M626.0 197.9h0M704.1 177.3h0M601.7 190.5h0M691.4 199.5h0M643.0 205.6h0M693.3 168.5h0M647.7 217.6h0M659.4 137.7h0M603.3 194.9h0M678.2 214.2h0M613.0 195.4h0M688.7 172.0h0M679.4 148.3h0M673.1 146.4h0M685.3 174.9h0M652.8 138.2h0M680.5 195.9h0M649.0 229.2h0M613.9 186.8h0M601.5 155.1h0M672.1 213.4h0M646.9 229.6h0M689.9 164.4h0M682.3 150.7h0M673.7 197.1h0M651.3 240.5h0M664.3 142.3h0M662.6 208.0h0M652.2 216.7h0M627.7 160.4h0M657.4 217.4h0M601.6 194.0h0M615.5 211.7h0M622.8 205.3h0M613.7 125.8h0M670.2 203.7h0M682.8 155.8h0M680.8 178.0h0M642.5 142.8h0M670.9 196.8h0M669.0 161.4h0M657.5 137.4h0M627.7 134.0h0M598.8 202.9h0M606.0 154.8h0M616.3 159.7h0M622.2 148.7h0M638.7 120.7h0M620.3 165.6h0M669.0 192.1h0M613.7 153.7h0M635.6 145.9h0M672.3 164.5h0M633.8 216.6h0M665.4 210.0h0M598.5 194.6h0M623.0 137.2h0M661.9 139.5h0M604.6 212.8h0M669.4 202.8h0M661.0 158.6h0M640.7 208.4h0M639.6 224.2h0M616.4 150.0h0M664.6 150.3h0M691.8 200.3h0M703.1 193.6h0M632.9 210.6h0M674.0 208.4h0M665.6 144.5h0M686.4 191.0h0M623.1 151.9h0M677.9 167.1h0M608.5 182.9h0M605.8 185.4h0M641.2 215.7h0M613.5 176.3h0M623.1 194.3h0M686.0 197.6h0M683.6 215.2h0M671.6 163.4h0M670.8 157.5h0M600.9 184.2h0M640.2 140.7h0M637.4 131.2h0M691.8 176.6h0M659.9 128.7h0M667.1 156.4h0M610.4 192.6h0M619.8 179.2h0M698.8 200.5h0M625.0 213.1h0M671.9 210.4h0M661.4 155.2h0M613.5 175.4h0M654.7 220.8h0M642.3 144.8h0M665.8 148.4h0M621.7 200.2h0M660.1 223.6h0M592.8 166.0h0M611.8 169.7h0M675.6 183.0h0M605.1 207.1h0M602.2 178.3h0M608.0 168.0h0M666.7 170.4h0M674.6 208.2h0M668.3 164.3h0M658.8 209.1h0M665.0 194.1h0M661.0 215.8h0M628.0 218.8h0M673.4 200.4h0M606.3 174.5h0M606.4 171.7h0M618.2 195.7h0M657.0 211.8h0M614.6 170.2h0M676.7 139.0h0M662.6 142.4h0M628.0 219.7h0M693.2 177.0h0M649.7 221.1h0M679.6 199.2h0M658.1 133.1h0M628.0 136.9h0M627.5 136.4h0M692.0 214.8h0M620.3 177.5h0M681.9 193.3h0M606.0 165.0h0M664.9 201.2h0M670.1 143.4h0M697.1 211.5h0M587.7 193.9h0M605.9 184.9h0M621.0 159.4h0M677.2 134.0h0M643.7 135.9h0M665.3 209.5h0M677.7 154.0h0M675.9 141.1h0M618.4 156.6h0M660.4 140.6h0M644.7 119.8h0M625.7 195.1h0M636.5 150.5h0M624.8 192.4h0M626.2 208.9h0M621.3 208.3h0M650.3 211.7h0M627.5 207.4h0M615.9 165.5h0M606.2 127.7h0M673.6 177.4h0M643.8 136.2h0M694.1 194.0h0M686.7 205.9h0M589.8 155.0h0M610.4 164.6h0M661.6 143.2h0M649.5 136.8h0M671.8 215.6h0M604.8 178.8h0M683.6 163.1h0M609.1 151.0h0M620.7 139.0h0M638.8 141.1h0M648.1 220.8h0M648.0 133.4h0M646.2 131.6h0M692.9 165.3h0M602.1 193.9h0M648.5 217.2h0M640.3 136.2h0M665.4 136.3h0M619.4 150.3h0M687.2 190.6h0M609.0 191.0h0M644.3 208.4h0M653.2 136.3h0M680.5 167.8h0M673.0 203.0h0M624.4 155.2h0M628.3 134.0h0M622.3 151.6h0M647.0 217.0h0M674.7 152.6h0M641.3 216.4h0M684.0 204.8h0M681.2 197.4h0M625.5 154.1h0M658.6 222.1h0M674.7 134.8h0M662.4 136.5h0M653.8 206.1h0M663.0 136.0h0M697.0 173.7h0M645.5 130.1h0M621.8 207.6h0M691.9 204.0h0M600.3 181.8h0M652.2 146.0h0M623.8 142.9h0M639.8 134.3h0M668.2 202.6h0M612.1 218.2h0M601.2 161.2h0M673.3 159.2h0M630.9 220.7h0M691.7 160.0h0M622.8 204.7h0M609.3 205.4h0M605.5 161.7h0M662.6 151.2h0M649.0 141.0h0M682.7 180.7h0M610.3 164.6h0M659.6 144.8h0M657.5 135.6h0M643.3 136.8h0M620.9 151.6h0M615.7 136.8h0M651.3 128.9h0M616.0 199.1h0M618.4 123.4h0M639.2 137.0h0M627.7 191.1h0M664.7 156.2h0M666.4 164.5h0M609.4 171.7h0M623.9 189.2h0M644.4 137.4h0M666.8 213.3h0M633.8 225.9h0M632.2 217.2h0M654.8 130.7h0M604.3 185.6h0M677.5 186.0h0M655.8 221.2h0M601.4 148.2h0M637.7 224.4h0M626.3 223.8h0M610.7 182.4h0M697.5 147.1h0M695.2 163.6h0M686.5 193.9h0M619.7 199.2h0M640.7 218.9h0M649.9 219.6h0M617.9 208.5h0M624.8 161.8h0M627.0 217.9h0M588.5 168.4h0M670.1 212.2h0M664.6 141.7h0M690.4 199.6h0M679.0 203.2h0M677.0 169.9h0M638.0 200.7h0M684.3 155.0h0M660.9 231.8h0M663.7 202.8h0M630.1 217.4h0M600.1 188.4h0M631.6 140.8h0M600.2 190.4h0M614.4 131.3h0M634.5 131.3h0M606.2 191.2h0M667.5 115.2h0M635.6 222.7h0M636.8 211.0h0M628.5 148.7h0M642.0 139.6h0M618.1 170.4h0M665.3 141.9h0M684.1 203.4h0M661.7 206.6h0M623.7 165.3h0M672.3 216.7h0M689.3 199.9h0M597.8 173.7h0M660.7 147.1h0M616.8 197.3h0M631.3 131.9h0M616.7 131.1h0M627.4 211.9h0M673.6 201.2h0M654.8 147.6h0M672.1 214.0h0M605.7 161.5h0M668.7 206.5h0M611.7 169.2h0M659.0 209.4h0M663.7 226.0h0M605.3 157.6h0M681.6 160.2h0M671.6 203.7h0M684.4 152.5h0M618.5 166.4h0M686.1 180.3h0M679.7 207.1h0M682.1 150.5h0M667.0 144.8h0M687.0 200.8h0M693.0 174.6h0M628.0 225.6h0M621.5 198.2h0M674.6 179.1h0M674.2 214.0h0M661.8 208.0h0M615.5 164.0h0M680.7 188.5h0M684.3 167.6h0M618.6 194.0h0M648.4 145.1h0M687.9 174.6h0M604.7 201.5h0M672.3 162.1h0M618.8 190.1h0M691.4 192.8h0M642.4 136.8h0M636.9 203.3h0M674.0 204.2h0M621.7 197.4h0M593.8 170.4h0M613.8 204.6h0M681.9 157.4h0M682.6 138.4h0M651.6 206.1h0M680.3 152.8h0M684.9 216.9h0M682.9 178.3h0M624.9 224.1h0M666.0 133.4h0M607.3 155.5h0M680.3 153.0h0M693.1 160.2h0M657.5 214.4h0M694.5 143.8h0M612.3 221.0h0M677.3 151.1h0M619.2 149.9h0M701.7 198.0h0M627.6 226.2h0M639.7 150.6h0M694.0 158.3h0M653.8 217.9h0M664.5 228.5h0M622.8 139.1h0M629.4 152.5h0M651.2 209.2h0M616.9 126.7h0M691.8 208.1h0M607.3 170.6h0M613.9 154.5h0M662.4 135.4h0M648.4 134.3h0M600.9 165.6h0M704.7 175.8h0M646.9 132.6h0M592.5 179.2h0M615.5 136.8h0M657.2 127.1h0M669.3 144.8h0M676.8 170.4h0M674.4 223.0h0M612.2 191.9h0M653.4 153.6h0M655.9 225.4h0M682.0 183.5h0M616.9 164.6h0M668.3 210.0h0M608.1 193.3h0M659.8 141.1h0M601.9 154.6h0M649.6 215.2h0M692.1 189.2h0M595.2 169.7h0M691.4 205.8h0M645.7 215.2h0M672.2 133.5h0M614.5 197.1h0M691.6 172.0h0M649.9 136.4h0M607.7 189.1h0M649.0 216.7h0M617.0 200.8h0M690.9 206.8h0M650.7 131.8h0M646.1 210.9h0M608.9 188.9h0M627.2 212.2h0M685.2 185.5h0M691.8 193.5h0M681.1 136.3h0M616.3 182.4h0M609.0 212.6h0M626.6 207.3h0M673.1 221.4h0M600.9 186.6h0M696.6 174.4h0M653.9 201.5h0M631.1 137.5h0M692.8 184.0h0M609.8 209.6h0M642.7 211.2h0M688.2 159.0h0M638.0 127.7h0M629.2 212.9h0M678.9 147.9h0M592.8 173.4h0M650.0 222.2h0M611.8 156.3h0M608.9 196.3h0M636.0 140.3h0M619.1 132.3h0M638.1 221.7h0M622.2 199.8h0M637.2 211.9h0M691.3 192.2h0M607.4 163.0h0M679.3 163.0h0M624.8 143.7h0M652.3 233.5h0M612.1 194.1h0M618.0 203.9h0M640.0 215.0h0M601.5 186.7h0M649.8 227.0h0M604.6 201.0h0M632.4 135.5h0M674.8 181.2h0M678.8 192.3h0M608.1 179.5h0M631.8 205.5h0M623.2 211.5h0M643.0 225.2h0M609.1 184.3h0M630.6 193.6h0M649.8 154.0h0M619.1 193.2h0M663.6 148.7h0M686.6 151.9h0M601.2 176.4h0M684.5 174.4h0M652.7 222.3h0M685.2 177.1h0M649.0 209.6h0M619.5 169.9h0M663.0 148.0h0M618.9 217.0h0M636.8 132.2h0M682.5 167.3h0M615.4 147.7h0M626.3 199.7h0M609.7 173.3h0M627.9 215.9h0M678.8 212.0h0M682.1 204.3h0M608.7 188.9h0M668.9 211.5h0M696.6 192.3h0M658.5 142.0h0M646.4 209.7h0M626.9 209.9h0M666.7 138.2h0M638.0 146.3h0M656.1 148.3h0M623.9 139.1h0M688.3 182.8h0M669.7 171.6h0M603.1 204.0h0M678.9 162.7h0M636.7 136.2h0M637.1 219.5h0M674.3 197.6h0M608.1 168.1h0M634.9 208.2h0M637.0 219.0h0M649.8 148.8h0M629.7 132.2h0M662.6 197.6h0M686.0 161.8h0M676.6 207.9h0M609.9 162.5h0M639.5 227.3h0M618.5 211.3h0M684.4 194.5h0M688.1 198.8h0M691.9 179.3h0M600.8 186.2h0M624.9 196.3h0M618.4 137.0h0M680.2 163.8h0M591.1 193.9h0M668.4 217.6h0M680.7 209.1h0M647.8 131.5h0M683.9 182.6h0M693.2 185.9h0M653.5 153.4h0M659.9 138.9h0M694.6 171.1h0M599.2 213.7h0M679.9 156.0h0M654.2 229.2h0M627.6 150.9h0M618.2 143.4h0M677.2 159.1h0M626.7 212.1h0M645.0 136.9h0M659.4 202.4h0M620.3 214.3h0M606.8 177.6h0M612.9 171.2h0M680.9 146.5h0M673.8 202.5h0M695.6 166.5h0M635.1 139.7h0M627.3 140.7h0M666.4 220.9h0M661.6 202.0h0M624.8 149.4h0M680.2 152.7h0M598.1 174.6h0M666.2 146.6h0M627.7 144.4h0M651.0 211.7h0M614.9 173.7h0M596.7 195.7h0M675.3 163.9h0M693.4 177.8h0M643.4 136.9h0M680.3 141.8h0M587.4 185.5h0M621.5 147.9h0M663.3 124.2h0M682.6 195.3h0M646.6 209.4h0M615.4 171.8h0M640.0 213.1h0M610.6 165.9h0M648.4 209.9h0M650.0 150.0h0M657.0 146.0h0M685.4 207.4h0M675.1 147.0h0M662.3 208.6h0M608.2 144.5h0M685.8 175.9h0M684.5 141.7h0M629.4 147.6h0M624.5 211.6h0M637.4 226.2h0M660.7 209.5h0M597.2 189.1h0M688.0 161.0h0M658.7 214.2h0M643.3 137.4h0M607.5 204.7h0M601.5 201.6h0M614.9 182.3h0M623.9 210.1h0M616.0 160.9h0M633.5 235.5h0M617.2 188.2h0M645.2 139.6h0M679.4 190.4h0M605.3 195.4h0M633.5 141.4h0M616.7 199.1h0M646.2 230.2h0M666.0 139.8h0M616.4 172.5h0M690.8 203.7h0M638.8 131.4h0M674.1 158.5h0M619.6 146.9h0M605.1 186.1h0M605.1 151.3h0M683.4 173.6h0M616.7 135.6h0M606.2 207.4h0M684.4 174.6h0M673.7 213.0h0M672.6 194.7h0M612.9 148.1h0M662.1 139.6h0M675.5 201.2h0M671.9 148.2h0M704.5 185.4h0M612.8 172.8h0M630.0 229.3h0M613.4 163.2h0M603.3 175.4h0M647.5 217.5h0M654.6 215.5h0M617.2 186.4h0M672.3 142.9h0M593.4 174.0h0M667.2 156.5h0M696.5 180.9h0M641.9 132.0h0M607.6 169.4h0M632.6 220.4h0M677.4 134.9h0M690.6 201.7h0M682.4 159.5h0M626.2 150.7h0M594.9 152.0h0M629.2 191.6h0M644.9 217.0h0M612.2 184.5h0M613.1 190.2h0M699.3 200.3h0M622.2 195.2h0M617.8 208.5h0M651.3 216.3h0M687.7 178.2h0M669.0 181.8h0M631.7 192.1h0M635.9 209.0h0M634.0 205.4h0M647.5 148.1h0M646.2 222.2h0M611.8 198.8h0M636.4 221.3h0M686.1 173.5h0M628.3 216.7h0M617.0 138.8h0M699.2 195.2h0M676.7 162.0h0M683.3 162.1h0M688.0 177.0h0M629.5 140.4h0M700.5 204.5h0M647.2 134.0h0M615.1 192.5h0M642.3 133.7h0M669.4 140.4h0M673.7 198.8h0M691.4 166.2h0M652.3 198.3h0M663.7 152.9h0M593.9 189.9h0M610.8 212.7h0M614.8 175.5h0M653.5 139.8h0M673.0 224.4h0M626.2 206.6h0M608.8 155.5h0M617.7 163.5h0M607.4 154.2h0M626.0 215.8h0M644.3 212.1h0M645.4 210.6h0M612.7 210.0h0M623.1 152.1h0M674.1 158.9h0M651.9 220.8h0M633.9 212.5h0M634.3 139.5h0M628.6 211.8h0M652.2 121.4h0M654.7 142.5h0M601.1 167.4h0M650.3 137.2h0M675.1 163.1h0M678.6 167.9h0M668.1 151.9h0M646.9 214.1h0M645.8 219.3h0M678.9 210.8h0M637.6 217.6h0M682.7 144.3h0M680.8 133.2h0M643.3 142.0h0M680.3 160.1h0M679.2 191.1h0M655.6 142.2h0M612.0 213.5h0M629.4 201.9h0M680.2 209.9h0M694.4 199.7h0M606.1 160.2h0M624.9 236.8h0M625.1 141.0h0M607.9 160.1h0M680.1 135.9h0M685.1 195.7h0M611.6 172.1h0M658.1 212.2h0M608.3 179.6h0M600.1 161.8h0M681.2 215.9h0M635.3 143.5h0M706.7 157.1h0M698.5 154.5h0M603.8 151.4h0M619.2 152.4h0M602.6 172.5h0M679.8 205.3h0M702.0 182.9h0M625.2 127.0h0M648.1 148.7h0M684.3 194.8h0M670.5 132.8h0M627.0 206.8h0M642.5 233.0h0M630.4 203.9h0M650.4 212.1h0M673.3 213.0h0M655.3 141.1h0M625.3 148.7h0M645.5 220.0h0M651.8 221.2h0M641.1 142.3h0M613.8 166.8h0M648.6 232.6h0M689.6 177.3h0M676.8 160.9h0M679.5 214.6h0M623.2 212.3h0M636.8 217.5h0M617.9 180.7h0M605.1 178.1h0M680.1 159.1h0M679.0 148.7h0M613.7 226.8h0M636.7 134.2h0M677.3 212.0h0M641.9 142.3h0M611.9 212.8h0M689.5 162.2h0M620.3 215.6h0M666.5 221.7h0M599.6 167.8h0M619.4 172.2h0M654.3 220.8h0M650.0 132.2h0M673.6 218.7h0M636.9 213.8h0M601.0 184.8h0M619.7 181.8h0M694.9 175.7h0M601.7 210.5h0M668.1 218.4h0M687.0 181.7h0M602.7 181.7h0M661.4 208.1h0M693.6 190.5h0M619.3 209.6h0M634.8 204.6h0M620.6 166.9h0M616.0 186.9h0M650.1 212.5h0M688.6 139.1h0M693.0 175.6h0M640.1 140.7h0M669.9 215.2h0M686.0 204.4h0M611.4 162.9h0M625.4 176.3h0M606.0 179.1h0M619.9 151.8h0M609.3 178.9h0M675.0 173.2h0M680.7 199.7h0M667.3 139.7h0M682.0 152.5h0M616.7 167.4h0M596.5 182.9h0M609.9 180.9h0M655.0 215.5h0M695.3 168.8h0M662.2 127.5h0M658.6 140.1h0M630.9 225.8h0M688.1 188.2h0M655.4 146.6h0M670.9 164.8h0M627.3 144.3h0M688.3 138.9h0M633.4 143.3h0M616.4 143.7h0M694.3 198.2h0M658.0 126.9h0M692.7 159.7h0M620.9 198.9h0M668.0 211.6h0M622.4 142.3h0M603.8 171.0h0M661.5 214.2h0M677.8 164.2h0M673.5 165.6h0M620.6 158.8h0M619.0 224.6h0M607.7 183.3h0M590.3 166.4h0M646.8 205.1h0M649.2 224.2h0M684.2 191.2h0M679.6 169.2h0M617.3 195.8h0M687.4 169.8h0M628.0 136.5h0M620.3 143.8h0M646.3 233.8h0M613.8 173.6h0M698.1 198.3h0M639.7 226.0h0M635.2 202.7h0M638.9 149.2h0M680.9 200.0h0M680.8 150.7h0M641.6 218.5h0M669.2 198.7h0M645.1 130.6h0M626.6 134.7h0M637.1 141.2h0M604.2 185.8h0M614.7 202.9h0M686.9 167.6h0M618.6 158.9h0M693.3 220.5h0M677.9 141.8h0M614.1 202.8h0M656.2 142.8h0M625.5 199.6h0M628.8 216.9h0M635.2 210.6h0M615.6 184.7h0M622.2 206.0h0M652.7 150.1h0M644.0 129.7h0M698.5 160.0h0M618.9 189.2h0M651.4 138.0h0M627.6 206.9h0M612.6 197.7h0M620.7 156.4h0M696.4 177.5h0M701.8 196.3h0M664.0 148.5h0M635.4 132.2h0M623.2 165.6h0M596.1 152.6h0M669.0 203.7h0M641.8 147.0h0M611.2 160.3h0M666.3 208.7h0M632.2 153.7h0M597.4 206.3h0M597.9 184.6h0M614.0 164.8h0M648.9 141.6h0M630.9 136.1h0M627.8 195.2h0M599.0 168.7h0M623.5 144.4h0M679.6 146.3h0M663.6 212.6h0M568.4 167.1h0M569.4 163.0h0M579.1 227.8h0M723.5 225.3h0M726.4 180.0h0M717.9 184.4h0M705.9 236.0h0M654.0 246.7h0M635.4 109.5h0M666.9 110.1h0M616.2 113.9h0M596.7 117.7h0M581.6 169.3h0M709.7 211.1h0" stroke="#000030" stroke-width="2.74" stroke-linecap="round" fill="none"/><path d="M673.8 165.1h0M620.3 162.7h0M615.8 147.9h0M632.9 216.3h0M627.8 130.0h0M710.0 165.5h0M665.6 204.0h0M694.8 196.8h0M689.4 187.4h0M664.3 152.3h0M618.0 177.8h0M640.4 211.1h0M684.2 120.4h0M651.7 214.5h0M650.9 139.5h0M626.0 197.9h0M704.1 177.3h0M601.7 190.5h0M691.4 199.5h0M643.0 205.6h0M693.3 168.5h0M647.7 217.6h0M659.4 137.7h0M603.3 194.9h0M678.2 214.2h0M613.0 195.4h0M688.7 172.0h0M679.4 148.3h0M673.1 146.4h0M685.3 174.9h0M652.8 138.2h0M680.5 195.9h0M649.0 229.2h0M613.9 186.8h0M601.5 155.1h0M672.1 213.4h0M646.9 229.6h0M689.9 164.4h0M682.3 150.7h0M673.7 197.1h0M651.3 240.5h0M664.3 142.3h0M662.6 208.0h0M652.2 216.7h0M627.7 160.4h0M657.4 217.4h0M601.6 194.0h0M615.5 211.7h0M622.8 205.3h0M613.7 125.8h0M670.2 203.7h0M682.8 155.8h0M680.8 178.0h0M642.5 142.8h0M670.9 196.8h0M669.0 161.4h0M657.5 137.4h0M627.7 134.0h0M598.8 202.9h0M606.0 154.8h0M616.3 159.7h0M622.2 148.7h0M638.7 120.7h0M620.3 165.6h0M669.0 192.1h0M613.7 153.7h0M635.6 145.9h0M672.3 164.5h0M633.8 216.6h0M665.4 210.0h0M598.5 194.6h0M623.0 137.2h0M661.9 139.5h0M604.6 212.8h0M669.4 202.8h0M661.0 158.6h0M640.7 208.4h0M639.6 224.2h0M616.4 150.0h0M664.6 150.3h0M691.8 200.3h0M703.1 193.6h0M632.9 210.6h0M674.0 208.4h0M665.6 144.5h0M686.4 191.0h0M623.1 151.9h0M677.9 167.1h0M608.5 182.9h0M605.8 185.4h0M641.2 215.7h0M613.5 176.3h0M623.1 194.3h0M686.0 197.6h0M683.6 215.2h0M671.6 163.4h0M670.8 157.5h0M600.9 184.2h0M640.2 140.7h0M637.4 131.2h0M691.8 176.6h0M659.9 128.7h0M667.1 156.4h0M610.4 192.6h0M619.8 179.2h0M698.8 200.5h0M625.0 213.1h0M671.9 210.4h0M661.4 155.2h0M613.5 175.4h0M654.7 220.8h0M642.3 144.8h0M665.8 148.4h0M621.7 200.2h0M660.1 223.6h0M592.8 166.0h0M611.8 169.7h0M675.6 183.0h0M605.1 207.1h0M602.2 178.3h0M608.0 168.0h0M666.7 170.4h0M674.6 208.2h0M668.3 164.3h0M658.8 209.1h0M665.0 194.1h0M661.0 215.8h0M628.0 218.8h0M673.4 200.4h0M606.3 174.5h0M606.4 171.7h0M618.2 195.7h0M657.0 211.8h0M614.6 170.2h0M676.7 139.0h0M662.6 142.4h0M628.0 219.7h0M693.2 177.0h0M649.7 221.1h0M679.6 199.2h0M658.1 133.1h0M628.0 136.9h0M627.5 136.4h0M692.0 214.8h0M620.3 177.5h0M681.9 193.3h0M606.0 165.0h0M664.9 201.2h0M670.1 143.4h0M697.1 211.5h0M587.7 193.9h0M605.9 184.9h0M621.0 159.4h0M677.2 134.0h0M643.7 135.9h0M665.3 209.5h0M677.7 154.0h0M675.9 141.1h0M618.4 156.6h0M660.4 140.6h0M644.7 119.8h0M625.7 195.1h0M636.5 150.5h0M624.8 192.4h0M626.2 208.9h0M621.3 208.3h0M650.3 211.7h0M627.5 207.4h0M615.9 165.5h0M606.2 127.7h0M673.6 177.4h0M643.8 136.2h0M694.1 194.0h0M686.7 205.9h0M589.8 155.0h0M610.4 164.6h0M661.6 143.2h0M649.5 136.8h0M671.8 215.6h0M604.8 178.8h0M683.6 163.1h0M609.1 151.0h0M620.7 139.0h0M638.8 141.1h0M648.1 220.8h0M648.0 133.4h0M646.2 131.6h0M692.9 165.3h0M602.1 193.9h0M648.5 217.2h0M640.3 136.2h0M665.4 136.3h0M619.4 150.3h0M687.2 190.6h0M609.0 191.0h0M644.3 208.4h0M653.2 136.3h0M680.5 167.8h0M673.0 203.0h0M624.4 155.2h0M628.3 134.0h0M622.3 151.6h0M647.0 217.0h0M674.7 152.6h0M641.3 216.4h0M684.0 204.8h0M681.2 197.4h0M625.5 154.1h0M658.6 222.1h0M674.7 134.8h0M662.4 136.5h0M653.8 206.1h0M663.0 136.0h0M697.0 173.7h0M645.5 130.1h0M621.8 207.6h0M691.9 204.0h0M600.3 181.8h0M652.2 146.0h0M623.8 142.9h0M639.8 134.3h0M668.2 202.6h0M612.1 218.2h0M601.2 161.2h0M673.3 159.2h0M630.9 220.7h0M691.7 160.0h0M622.8 204.7h0M609.3 205.4h0M605.5 161.7h0M662.6 151.2h0M649.0 141.0h0M682.7 180.7h0M610.3 164.6h0M659.6 144.8h0M657.5 135.6h0M643.3 136.8h0M620.9 151.6h0M615.7 136.8h0M651.3 128.9h0M616.0 199.1h0M618.4 123.4h0M639.2 137.0h0M627.7 191.1h0M664.7 156.2h0M666.4 164.5h0M609.4 171.7h0M623.9 189.2h0M644.4 137.4h0M666.8 213.3h0M633.8 225.9h0M632.2 217.2h0M654.8 130.7h0M604.3 185.6h0M677.5 186.0h0M655.8 221.2h0M601.4 148.2h0M637.7 224.4h0M626.3 223.8h0M610.7 182.4h0M697.5 147.1h0M695.2 163.6h0M686.5 193.9h0M619.7 199.2h0M640.7 218.9h0M649.9 219.6h0M617.9 208.5h0M624.8 161.8h0M627.0 217.9h0M588.5 168.4h0M670.1 212.2h0M664.6 141.7h0M690.4 199.6h0M679.0 203.2h0M677.0 169.9h0M638.0 200.7h0M684.3 155.0h0M660.9 231.8h0M663.7 202.8h0M630.1 217.4h0M600.1 188.4h0M631.6 140.8h0M600.2 190.4h0M614.4 131.3h0M634.5 131.3h0M606.2 191.2h0M667.5 115.2h0M635.6 222.7h0M636.8 211.0h0M628.5 148.7h0M642.0 139.6h0M618.1 170.4h0M665.3 141.9h0M684.1 203.4h0M661.7 206.6h0M623.7 165.3h0M672.3 216.7h0M689.3 199.9h0M597.8 173.7h0M660.7 147.1h0M616.8 197.3h0M631.3 131.9h0M616.7 131.1h0M627.4 211.9h0M673.6 201.2h0M654.8 147.6h0M672.1 214.0h0M605.7 161.5h0M668.7 206.5h0M611.7 169.2h0M659.0 209.4h0M663.7 226.0h0M605.3 157.6h0M681.6 160.2h0M671.6 203.7h0M684.4 152.5h0M618.5 166.4h0M686.1 180.3h0M679.7 207.1h0M682.1 150.5h0M667.0 144.8h0M687.0 200.8h0M693.0 174.6h0M628.0 225.6h0M621.5 198.2h0M674.6 179.1h0M674.2 214.0h0M661.8 208.0h0M615.5 164.0h0M680.7 188.5h0M684.3 167.6h0M618.6 194.0h0M648.4 145.1h0M687.9 174.6h0M604.7 201.5h0M672.3 162.1h0M618.8 190.1h0M691.4 192.8h0M642.4 136.8h0M636.9 203.3h0M674.0 204.2h0M621.7 197.4h0M593.8 170.4h0M613.8 204.6h0M681.9 157.4h0M682.6 138.4h0M651.6 206.1h0M680.3 152.8h0M684.9 216.9h0M682.9 178.3h0M624.9 224.1h0M666.0 133.4h0M607.3 155.5h0M680.3 153.0h0M693.1 160.2h0M657.5 214.4h0M694.5 143.8h0M612.3 221.0h0M677.3 151.1h0M619.2 149.9h0M701.7 198.0h0M627.6 226.2h0M639.7 150.6h0M694.0 158.3h0M653.8 217.9h0M664.5 228.5h0M622.8 139.1h0M629.4 152.5h0M651.2 209.2h0M616.9 126.7h0M691.8 208.1h0M607.3 170.6h0M613.9 154.5h0M662.4 135.4h0M648.4 134.3h0M600.9 165.6h0M704.7 175.8h0M646.9 132.6h0M592.5 179.2h0M615.5 136.8h0M657.2 127.1h0M669.3 144.8h0M676.8 170.4h0M674.4 223.0h0M612.2 191.9h0M653.4 153.6h0M655.9 225.4h0M682.0 183.5h0M616.9 164.6h0M668.3 210.0h0M608.1 193.3h0M659.8 141.1h0M601.9 154.6h0M649.6 215.2h0M692.1 189.2h0M595.2 169.7h0M691.4 205.8h0M645.7 215.2h0M672.2 133.5h0M614.5 197.1h0M691.6 172.0h0M649.9 136.4h0M607.7 189.1h0M649.0 216.7h0M617.0 200.8h0M690.9 206.8h0M650.7 131.8h0M646.1 210.9h0M608.9 188.9h0M627.2 212.2h0M685.2 185.5h0M691.8 193.5h0M681.1 136.3h0M616.3 182.4h0M609.0 212.6h0M626.6 207.3h0M673.1 221.4h0M600.9 186.6h0M696.6 174.4h0M653.9 201.5h0M631.1 137.5h0M692.8 184.0h0M609.8 209.6h0M642.7 211.2h0M688.2 159.0h0M638.0 127.7h0M629.2 212.9h0M678.9 147.9h0M592.8 173.4h0M650.0 222.2h0M611.8 156.3h0M608.9 196.3h0M636.0 140.3h0M619.1 132.3h0M638.1 221.7h0M622.2 199.8h0M637.2 211.9h0M691.3 192.2h0M607.4 163.0h0M679.3 163.0h0M624.8 143.7h0M652.3 233.5h0M612.1 194.1h0M618.0 203.9h0M640.0 215.0h0M601.5 186.7h0M649.8 227.0h0M604.6 201.0h0M632.4 135.5h0M674.8 181.2h0M678.8 192.3h0M608.1 179.5h0M631.8 205.5h0M623.2 211.5h0M643.0 225.2h0M609.1 184.3h0M630.6 193.6h0M649.8 154.0h0M619.1 193.2h0M663.6 148.7h0M686.6 151.9h0M601.2 176.4h0M684.5 174.4h0M652.7 222.3h0M685.2 177.1h0M649.0 209.6h0M619.5 169.9h0M663.0 148.0h0M618.9 217.0h0M636.8 132.2h0M682.5 167.3h0M615.4 147.7h0M626.3 199.7h0M609.7 173.3h0M627.9 215.9h0M678.8 212.0h0M682.1 204.3h0M608.7 188.9h0M668.9 211.5h0M696.6 192.3h0M658.5 142.0h0M646.4 209.7h0M626.9 209.9h0M666.7 138.2h0M638.0 146.3h0M656.1 148.3h0M623.9 139.1h0M688.3 182.8h0M669.7 171.6h0M603.1 204.0h0M678.9 162.7h0M636.7 136.2h0M637.1 219.5h0M674.3 197.6h0M608.1 168.1h0M634.9 208.2h0M637.0 219.0h0M649.8 148.8h0M629.7 132.2h0M662.6 197.6h0M686.0 161.8h0M676.6 207.9h0M609.9 162.5h0M639.5 227.3h0M618.5 211.3h0M684.4 194.5h0M688.1 198.8h0M691.9 179.3h0M600.8 186.2h0M624.9 196.3h0M618.4 137.0h0M680.2 163.8h0M591.1 193.9h0M668.4 217.6h0M680.7 209.1h0M647.8 131.5h0M683.9 182.6h0M693.2 185.9h0M653.5 153.4h0M659.9 138.9h0M694.6 171.1h0M599.2 213.7h0M679.9 156.0h0M654.2 229.2h0M627.6 150.9h0M618.2 143.4h0M677.2 159.1h0M626.7 212.1h0M645.0 136.9h0M659.4 202.4h0M620.3 214.3h0M606.8 177.6h0M612.9 171.2h0M680.9 146.5h0M673.8 202.5h0M695.6 166.5h0M635.1 139.7h0M627.3 140.7h0M666.4 220.9h0M661.6 202.0h0M624.8 149.4h0M680.2 152.7h0M598.1 174.6h0M666.2 146.6h0M627.7 144.4h0M651.0 211.7h0M614.9 173.7h0M596.7 195.7h0M675.3 163.9h0M693.4 177.8h0M643.4 136.9h0M680.3 141.8h0M587.4 185.5h0M621.5 147.9h0M663.3 124.2h0M682.6 195.3h0M646.6 209.4h0M615.4 171.8h0M640.0 213.1h0M610.6 165.9h0M648.4 209.9h0M650.0 150.0h0M657.0 146.0h0M685.4 207.4h0M675.1 147.0h0M662.3 208.6h0M608.2 144.5h0M685.8 175.9h0M684.5 141.7h0M629.4 147.6h0M624.5 211.6h0M637.4 226.2h0M660.7 209.5h0M597.2 189.1h0M688.0 161.0h0M658.7 214.2h0M643.3 137.4h0M607.5 204.7h0M601.5 201.6h0M614.9 182.3h0M623.9 210.1h0M616.0 160.9h0M633.5 235.5h0M617.2 188.2h0M645.2 139.6h0M679.4 190.4h0M605.3 195.4h0M633.5 141.4h0M616.7 199.1h0M646.2 230.2h0M666.0 139.8h0M616.4 172.5h0M690.8 203.7h0M638.8 131.4h0M674.1 158.5h0M619.6 146.9h0M605.1 186.1h0M605.1 151.3h0M683.4 173.6h0M616.7 135.6h0M606.2 207.4h0M684.4 174.6h0M673.7 213.0h0M672.6 194.7h0M612.9 148.1h0M662.1 139.6h0M675.5 201.2h0M671.9 148.2h0M704.5 185.4h0M612.8 172.8h0M630.0 229.3h0M613.4 163.2h0M603.3 175.4h0M647.5 217.5h0M654.6 215.5h0M617.2 186.4h0M672.3 142.9h0M593.4 174.0h0M667.2 156.5h0M696.5 180.9h0M641.9 132.0h0M607.6 169.4h0M632.6 220.4h0M677.4 134.9h0M690.6 201.7h0M682.4 159.5h0M626.2 150.7h0M594.9 152.0h0M629.2 191.6h0M644.9 217.0h0M612.2 184.5h0M613.1 190.2h0M699.3 200.3h0M622.2 195.2h0M617.8 208.5h0M651.3 216.3h0M687.7 178.2h0M669.0 181.8h0M631.7 192.1h0M635.9 209.0h0M634.0 205.4h0M647.5 148.1h0M646.2 222.2h0M611.8 198.8h0M636.4 221.3h0M686.1 173.5h0M628.3 216.7h0M617.0 138.8h0M699.2 195.2h0M676.7 162.0h0M683.3 162.1h0M688.0 177.0h0M629.5 140.4h0M700.5 204.5h0M647.2 134.0h0M615.1 192.5h0M642.3 133.7h0M669.4 140.4h0M673.7 198.8h0M691.4 166.2h0M652.3 198.3h0M663.7 152.9h0M593.9 189.9h0M610.8 212.7h0M614.8 175.5h0M653.5 139.8h0M673.0 224.4h0M626.2 206.6h0M608.8 155.5h0M617.7 163.5h0M607.4 154.2h0M626.0 215.8h0M644.3 212.1h0M645.4 210.6h0M612.7 210.0h0M623.1 152.1h0M674.1 158.9h0M651.9 220.8h0M633.9 212.5h0M634.3 139.5h0M628.6 211.8h0M652.2 121.4h0M654.7 142.5h0M601.1 167.4h0M650.3 137.2h0M675.1 163.1h0M678.6 167.9h0M668.1 151.9h0M646.9 214.1h0M645.8 219.3h0M678.9 210.8h0M637.6 217.6h0M682.7 144.3h0M680.8 133.2h0M643.3 142.0h0M680.3 160.1h0M679.2 191.1h0M655.6 142.2h0M612.0 213.5h0M629.4 201.9h0M680.2 209.9h0M694.4 199.7h0M606.1 160.2h0M624.9 236.8h0M625.1 141.0h0M607.9 160.1h0M680.1 135.9h0M685.1 195.7h0M611.6 172.1h0M658.1 212.2h0M608.3 179.6h0M600.1 161.8h0M681.2 215.9h0M635.3 143.5h0M706.7 157.1h0M698.5 154.5h0M603.8 151.4h0M619.2 152.4h0M602.6 172.5h0M679.8 205.3h0M702.0 182.9h0M625.2 127.0h0M648.1 148.7h0M684.3 194.8h0M670.5 132.8h0M627.0 206.8h0M642.5 233.0h0M630.4 203.9h0M650.4 212.1h0M673.3 213.0h0M655.3 141.1h0M625.3 148.7h0M645.5 220.0h0M651.8 221.2h0M641.1 142.3h0M613.8 166.8h0M648.6 232.6h0M689.6 177.3h0M676.8 160.9h0M679.5 214.6h0M623.2 212.3h0M636.8 217.5h0M617.9 180.7h0M605.1 178.1h0M680.1 159.1h0M679.0 148.7h0M613.7 226.8h0M636.7 134.2h0M677.3 212.0h0M641.9 142.3h0M611.9 212.8h0M689.5 162.2h0M620.3 215.6h0M666.5 221.7h0M599.6 167.8h0M619.4 172.2h0M654.3 220.8h0M650.0 132.2h0M673.6 218.7h0M636.9 213.8h0M601.0 184.8h0M619.7 181.8h0M694.9 175.7h0M601.7 210.5h0M668.1 218.4h0M687.0 181.7h0M602.7 181.7h0M661.4 208.1h0M693.6 190.5h0M619.3 209.6h0M634.8 204.6h0M620.6 166.9h0M616.0 186.9h0M650.1 212.5h0M688.6 139.1h0M693.0 175.6h0M640.1 140.7h0M669.9 215.2h0M686.0 204.4h0M611.4 162.9h0M625.4 176.3h0M606.0 179.1h0M619.9 151.8h0M609.3 178.9h0M675.0 173.2h0M680.7 199.7h0M667.3 139.7h0M682.0 152.5h0M616.7 167.4h0M596.5 182.9h0M609.9 180.9h0M655.0 215.5h0M695.3 168.8h0M662.2 127.5h0M658.6 140.1h0M630.9 225.8h0M688.1 188.2h0M655.4 146.6h0M670.9 164.8h0M627.3 144.3h0M688.3 138.9h0M633.4 143.3h0M616.4 143.7h0M694.3 198.2h0M658.0 126.9h0M692.7 159.7h0M620.9 198.9h0M668.0 211.6h0M622.4 142.3h0M603.8 171.0h0M661.5 214.2h0M677.8 164.2h0M673.5 165.6h0M620.6 158.8h0M619.0 224.6h0M607.7 183.3h0M590.3 166.4h0M646.8 205.1h0M649.2 224.2h0M684.2 191.2h0M679.6 169.2h0M617.3 195.8h0M687.4 169.8h0M628.0 136.5h0M620.3 143.8h0M646.3 233.8h0M613.8 173.6h0M698.1 198.3h0M639.7 226.0h0M635.2 202.7h0M638.9 149.2h0M680.9 200.0h0M680.8 150.7h0M641.6 218.5h0M669.2 198.7h0M645.1 130.6h0M626.6 134.7h0M637.1 141.2h0M604.2 185.8h0M614.7 202.9h0M686.9 167.6h0M618.6 158.9h0M693.3 220.5h0M677.9 141.8h0M614.1 202.8h0M656.2 142.8h0M625.5 199.6h0M628.8 216.9h0M635.2 210.6h0M615.6 184.7h0M622.2 206.0h0M652.7 150.1h0M644.0 129.7h0M698.5 160.0h0M618.9 189.2h0M651.4 138.0h0M627.6 206.9h0M612.6 197.7h0M620.7 156.4h0M696.4 177.5h0M701.8 196.3h0M664.0 148.5h0M635.4 132.2h0M623.2 165.6h0M596.1 152.6h0M669.0 203.7h0M641.8 147.0h0M611.2 160.3h0M666.3 208.7h0M632.2 153.7h0M597.4 206.3h0M597.9 184.6h0M614.0 164.8h0M648.9 141.6h0M630.9 136.1h0M627.8 195.2h0M599.0 168.7h0M623.5 144.4h0M679.6 146.3h0M663.6 212.6h0M568.4 167.1h0M569.4 163.0h0M579.1 227.8h0M723.5 225.3h0M726.4 180.0h0M717.9 184.4h0M705.9 236.0h0M654.0 246.7h0M635.4 109.5h0M666.9 110.1h0M616.2 113.9h0M596.7 117.7h0M581.6 169.3h0M709.7 211.1h0" stroke="#00008b" stroke-width="2.24" stroke-linecap="round" fill="none"/><text x="559.6" y="259.1" font-size="6.6" text-anchor="middle">&minus;5</text><text x="576.3" y="266.0" font-size="6.6" text-anchor="middle">0</text><text x="594.2" y="273.2" font-size="6.6" text-anchor="middle">5</text><text x="613.1" y="280.5" font-size="6.6" text-anchor="middle">10</text><text x="648.3" y="280.2" font-size="6.6" text-anchor="middle">&minus;10</text><text x="670.4" y="277.0" font-size="6.6" text-anchor="middle">&minus;5</text><text x="691.1" y="274.2" font-size="6.6" text-anchor="middle">0</text><text x="713.2" y="271.7" font-size="6.6" text-anchor="middle">5</text><text x="734.2" y="269.1" font-size="6.6" text-anchor="middle">10</text><text x="755.6" y="266.0" font-size="6.6" text-anchor="middle">15</text><text x="771.1" y="120.0" font-size="6.6" text-anchor="middle">15</text><text x="771.1" y="142.0" font-size="6.6" text-anchor="middle">10</text><text x="771.1" y="165.3" font-size="6.6" text-anchor="middle">5</text><text x="771.1" y="187.6" font-size="6.6" text-anchor="middle">0</text><text x="771.1" y="210.3" font-size="6.6" text-anchor="middle">&minus;5</text><text x="771.1" y="232.3" font-size="6.6" text-anchor="middle">&minus;10</text><text x="771.1" y="254.4" font-size="6.6" text-anchor="middle">&minus;15</text><path d="M759.5 117.4l2.2 0.5M759.3 139.4l2.2 0.5M759.1 162.7l2.2 0.5M758.9 185.0l2.2 0.5M758.7 207.7l2.2 0.5M758.5 229.7l2.2 0.5M758.3 251.8l2.2 0.5" stroke="#333" stroke-width="0.5" fill="none"/><text x="782.4" y="185.8" font-size="6.6" text-anchor="middle">Z</text><text x="570.6" y="273.9" font-size="6.6" text-anchor="middle">X</text><text x="701.2" y="281.7" font-size="6.6" text-anchor="middle">Y</text><linearGradient id="g3285" x1="0" x2="1"><stop offset="0" stop-color="#ececec"/><stop offset="1" stop-color="#e2e2e2"/></linearGradient><polygon points="548.6,297.6 677.6,289.7 677.6,421.9 550.2,433.5" fill="#f3f3f3"/><polygon points="677.6,289.7 756.3,303.9 755.3,446.1 677.6,421.9" fill="url(#g3285)"/><polygon points="550.2,433.5 677.6,421.9 755.3,446.1 622.5,463.7" fill="#f1f1f1"/><path d="M570.5 296.2L571.8 431.5M548.9 320.7L677.6 312.2L756.1 328.1M691.0 292.1L690.8 426.0L562.5 438.7M571.8 431.5L645.1 460.7M591.2 295.0L592.2 429.7M549.1 342.4L677.6 333.3L756.0 350.8M703.6 294.4L703.2 429.9L574.0 443.5M592.2 429.7L666.4 457.9M613.1 293.7L613.9 427.7M549.4 365.6L677.6 355.8L755.8 375.0M716.9 296.8L716.5 434.0L586.3 448.6M613.9 427.7L688.9 454.9M635.0 292.3L635.5 425.7M549.6 388.7L677.6 378.3L755.6 399.2M730.3 299.2L729.7 438.1L598.6 453.8M635.5 425.7L711.5 451.9M655.7 291.1L655.9 423.9M549.9 410.4L677.6 399.4L755.5 421.9M742.9 301.5L742.1 442.0L610.2 458.6M655.9 423.9L732.7 449.1" stroke="#fff" stroke-width="0.5" fill="none" opacity="0.35"/><path d="M550.2 433.5L622.5 463.7L755.3 446.1L756.3 303.9" stroke="#333" stroke-width="0.6" fill="none"/><path d="M670.1 379.1h0M662.9 346.7h0M681.0 366.8h0M654.7 384.6h0M644.4 377.5h0M614.8 382.7h0M658.0 358.9h0M648.2 349.7h0M645.6 360.4h0M651.3 353.2h0M656.4 363.2h0M666.8 344.2h0M640.7 367.8h0M663.6 375.3h0M656.3 380.6h0M638.2 372.9h0M657.5 365.5h0M658.1 351.7h0M655.9 366.4h0M647.6 367.3h0M653.1 344.3h0M623.3 368.1h0M643.4 389.3h0M644.0 374.4h0M644.0 350.5h0M653.7 357.9h0M666.5 384.0h0M649.8 354.7h0M635.3 352.0h0M638.8 373.1h0M653.6 355.9h0M656.0 374.2h0M645.1 363.4h0M653.2 354.9h0M638.6 369.9h0M640.4 382.1h0M644.3 368.1h0M641.1 365.5h0M647.9 362.0h0M667.6 325.5h0M634.5 367.9h0M644.6 359.1h0M654.3 359.8h0M654.3 353.7h0M648.8 352.5h0M644.3 364.8h0M646.8 346.2h0M658.0 360.8h0M660.7 366.3h0M643.0 362.2h0M653.8 362.6h0M643.4 360.5h0M635.3 357.2h0M640.6 377.4h0M660.9 350.8h0M650.7 364.8h0M641.3 367.9h0M642.7 353.3h0M665.7 360.9h0M650.1 354.5h0M639.4 351.2h0M650.5 364.9h0M655.4 361.1h0M645.8 363.1h0M645.3 367.4h0M640.5 370.2h0M641.4 378.5h0M654.0 361.2h0M656.1 347.6h0M646.3 360.4h0M653.9 348.5h0M652.4 363.8h0M626.6 359.4h0M644.5 355.0h0M647.3 359.2h0M655.0 339.5h0M663.9 341.6h0M674.5 312.0h0M645.3 366.2h0M656.1 356.3h0M655.7 378.7h0M641.3 383.7h0M677.1 384.7h0M660.1 361.0h0M663.4 342.6h0M657.8 350.1h0M634.8 357.3h0M645.1 359.4h0M634.7 414.9h0M653.7 369.0h0M626.1 362.3h0M654.5 354.1h0M657.5 359.6h0M654.0 360.9h0M626.3 364.5h0M639.1 361.9h0M649.8 378.8h0M655.3 355.7h0M635.4 371.0h0M646.9 359.7h0M634.8 363.0h0M631.7 398.1h0M652.5 362.7h0M636.1 381.3h0M664.3 339.6h0M646.2 351.0h0M643.1 374.2h0M651.2 373.0h0M640.4 362.3h0M648.6 368.3h0M641.7 383.4h0M652.3 351.0h0M651.8 354.8h0M639.6 388.3h0M659.1 338.7h0M646.0 354.9h0M655.9 336.5h0M648.5 365.6h0M658.2 362.3h0M658.6 336.4h0M653.3 350.1h0M637.6 375.0h0M653.0 367.9h0M647.1 358.0h0M642.4 360.8h0M677.2 347.0h0M649.8 356.8h0M650.6 376.4h0M657.7 348.6h0M635.2 359.5h0M640.9 350.7h0M662.6 338.8h0M650.0 373.9h0M639.5 365.0h0M649.9 350.9h0M646.9 327.3h0M657.9 366.1h0M647.2 354.1h0M661.5 357.2h0M670.8 345.8h0M656.9 363.2h0M656.7 370.7h0M641.9 357.7h0M649.6 358.5h0M660.4 356.1h0M646.4 364.0h0M647.8 363.2h0M658.5 347.0h0M651.2 349.9h0M645.1 347.2h0M655.6 358.0h0M655.4 359.9h0M632.1 395.8h0M680.9 353.3h0M638.2 377.8h0M626.6 382.2h0M683.3 338.1h0M652.8 366.1h0M639.0 371.9h0M652.5 369.1h0M683.2 313.7h0M653.0 342.9h0M648.5 358.7h0M645.2 382.5h0M642.0 379.2h0M658.9 356.2h0M645.9 366.9h0M648.4 351.3h0M664.0 326.1h0M657.5 359.7h0M653.1 352.2h0M651.7 375.0h0M644.8 359.5h0M633.4 398.7h0M643.5 377.2h0M656.0 382.2h0M666.2 344.9h0M660.5 349.9h0M653.0 355.7h0M653.8 368.9h0M650.0 355.7h0M661.7 354.4h0M653.1 362.0h0M676.5 341.4h0M647.2 357.4h0M636.3 393.9h0M646.6 353.7h0M653.7 351.4h0M659.3 338.9h0M656.2 361.6h0M649.6 352.4h0M655.9 334.5h0M652.5 364.0h0M639.0 369.3h0M651.9 368.8h0M647.3 364.9h0M655.8 369.2h0M651.4 364.1h0M658.6 369.2h0M652.4 364.1h0M652.3 345.8h0M642.0 372.0h0M627.2 398.2h0M643.1 372.3h0M657.4 322.7h0M635.5 392.6h0M637.6 377.4h0M685.4 326.6h0M622.4 380.2h0M657.8 344.8h0M656.9 359.0h0M630.3 351.6h0M658.0 351.0h0M651.6 352.9h0M647.5 359.8h0M647.3 365.4h0M651.4 364.5h0M653.1 355.1h0M653.7 364.4h0M654.8 382.2h0M645.7 375.2h0M658.5 339.2h0M646.6 370.1h0M652.5 382.0h0M649.9 354.2h0M653.4 362.6h0M669.7 378.4h0M654.0 355.2h0M634.0 350.6h0M667.2 378.8h0M654.4 374.8h0M663.7 337.0h0M655.0 352.6h0M640.3 324.8h0M638.5 356.0h0M687.3 322.2h0M647.9 365.9h0M638.9 363.7h0M627.5 370.3h0M647.6 360.1h0M679.7 364.8h0M639.1 373.3h0M659.4 364.2h0M644.5 360.9h0M647.7 363.0h0M652.2 388.8h0M641.5 363.2h0M652.1 356.4h0M643.5 343.3h0M647.9 362.3h0M678.2 315.5h0M641.2 350.5h0M651.1 364.1h0M659.2 355.5h0M659.9 356.7h0M644.1 347.0h0M659.4 361.5h0M663.5 344.4h0M654.7 367.6h0M658.8 368.8h0M652.1 377.0h0M646.1 356.2h0M651.5 335.0h0M650.1 355.8h0M644.8 364.1h0M662.3 339.0h0M660.8 343.9h0M640.6 363.0h0M653.8 367.5h0M633.2 364.9h0M658.7 355.4h0M668.3 349.6h0M670.4 332.5h0M663.1 346.4h0M636.9 362.7h0M646.4 360.7h0M641.4 368.7h0M656.9 368.3h0M651.5 370.0h0M677.9 360.9h0M649.2 360.0h0M654.7 357.2h0M661.3 338.3h0M657.7 363.2h0M650.3 376.5h0M668.2 343.6h0M629.2 361.9h0M677.6 376.9h0M652.8 354.0h0M652.0 356.5h0M654.7 357.0h0M654.7 361.6h0M639.1 364.2h0M655.4 356.7h0M658.2 367.7h0M659.5 348.6h0M637.8 358.2h0M645.8 369.8h0M659.3 355.0h0M672.8 338.9h0M650.4 355.7h0M672.4 364.6h0M646.3 364.0h0M637.5 366.1h0M645.2 365.1h0M646.3 342.4h0M656.4 359.1h0M651.3 345.9h0M634.6 387.6h0M681.8 368.5h0M645.1 355.8h0M656.8 370.6h0M658.4 346.6h0M661.8 326.1h0M658.8 353.9h0M633.2 386.2h0M656.4 356.1h0M646.4 376.8h0M648.8 323.0h0M663.0 349.3h0M641.6 400.0h0M656.4 356.1h0M648.2 350.1h0M633.3 378.5h0M650.0 355.2h0M633.4 368.8h0M649.2 365.8h0M609.3 391.0h0M657.8 341.2h0M656.6 353.6h0M651.0 357.4h0M633.6 370.8h0M654.6 367.1h0M653.4 367.8h0M669.6 348.8h0M648.7 351.5h0M611.0 386.4h0M649.0 380.8h0M634.2 367.4h0M649.8 350.6h0M634.8 371.1h0M635.5 375.8h0M667.1 353.0h0M657.2 346.1h0M643.5 370.6h0M645.1 352.1h0M653.2 364.1h0M657.6 355.7h0M636.0 366.7h0M638.5 382.7h0M639.6 383.8h0M633.9 353.8h0M633.2 370.8h0M658.1 372.3h0M643.2 357.7h0M636.7 368.5h0M659.9 349.4h0M632.9 371.0h0M628.9 349.0h0M633.8 378.7h0M672.6 345.4h0M641.8 388.2h0M651.0 367.7h0M656.5 360.5h0M665.6 350.3h0M643.5 376.4h0M647.9 368.6h0M636.2 375.7h0M658.9 390.8h0M651.1 352.1h0M648.2 365.6h0M657.2 363.8h0M638.5 369.2h0M645.5 371.0h0M674.7 372.7h0M643.0 359.6h0M658.5 367.1h0M641.2 373.2h0M659.3 341.7h0M652.9 363.6h0M648.3 365.0h0M648.0 365.7h0M645.7 370.2h0M647.3 367.1h0M648.4 355.7h0M659.2 355.2h0M644.8 369.7h0M630.2 361.6h0M664.0 341.0h0M645.5 372.9h0M665.3 350.1h0M669.1 340.3h0M654.8 361.3h0M646.7 371.0h0M655.2 354.5h0M633.5 380.4h0M639.6 344.7h0M658.7 356.2h0M655.8 360.9h0M659.0 341.0h0M656.9 346.3h0M641.5 375.9h0M640.0 363.9h0M651.2 370.9h0M659.6 348.8h0M664.3 356.6h0M644.0 392.6h0M647.6 370.6h0M639.9 345.9h0M639.0 379.8h0M654.9 351.5h0M664.0 357.5h0M666.1 365.7h0M675.4 335.3h0M646.6 357.0h0M648.0 355.3h0M667.4 360.3h0M647.2 365.6h0M632.9 368.6h0M645.8 381.0h0M616.7 361.5h0M667.1 350.7h0M629.3 373.6h0M644.2 380.6h0M644.2 360.8h0M647.1 372.3h0M639.7 350.0h0M673.5 318.9h0M638.5 365.0h0M647.7 372.2h0M650.7 378.8h0M649.0 364.5h0M653.9 358.5h0M642.6 362.3h0M685.6 357.4h0M649.3 377.4h0M657.1 371.1h0M664.3 371.7h0M646.8 364.2h0M662.2 330.7h0M652.7 332.6h0M644.8 367.2h0M634.2 362.8h0M648.5 365.7h0M643.9 364.4h0M646.0 370.7h0M660.7 357.9h0M657.7 352.9h0M647.0 379.1h0M655.7 336.1h0M657.7 365.1h0M657.1 359.4h0M652.7 371.6h0M648.4 373.3h0M651.1 366.1h0M667.1 331.4h0M668.0 311.4h0M662.1 351.3h0M640.4 366.5h0M653.5 358.9h0M649.3 349.4h0M632.1 364.9h0M648.5 370.2h0M655.6 351.1h0M641.9 371.3h0M672.5 343.9h0M643.7 372.1h0M674.2 344.6h0M652.2 364.2h0M657.4 357.5h0M648.8 359.5h0M653.1 365.4h0M623.5 395.1h0M648.1 351.7h0M661.9 354.3h0M662.7 357.8h0M652.9 355.8h0M633.1 392.7h0M647.8 368.8h0M645.7 356.5h0M644.2 352.3h0M648.0 378.5h0M651.2 357.1h0M636.5 376.9h0M647.3 375.8h0M630.5 366.9h0M648.0 369.6h0M661.3 367.0h0M637.3 369.2h0M667.5 329.1h0M644.0 355.9h0M652.6 363.1h0M650.7 343.7h0M665.1 349.7h0M629.4 373.1h0M646.6 377.8h0M648.2 356.4h0M636.0 369.5h0M686.5 357.9h0M664.7 358.3h0M658.6 359.7h0M647.4 361.8h0M647.9 370.7h0M638.2 365.3h0M641.7 356.3h0M644.2 358.3h0M679.0 345.8h0M617.3 375.0h0M647.6 359.8h0M639.2 366.5h0M649.7 354.0h0M685.3 366.1h0M654.4 353.5h0M648.3 360.0h0M653.6 355.9h0M646.4 362.6h0M620.4 405.3h0M645.2 352.4h0M660.4 371.5h0M661.4 339.0h0M640.9 352.8h0M648.0 368.7h0M650.8 368.8h0M657.8 384.9h0M648.3 359.3h0M689.2 326.0h0M654.3 367.5h0M653.6 358.3h0M647.5 363.3h0M635.8 375.2h0M662.5 364.8h0M650.7 367.6h0M659.9 372.0h0M638.4 353.6h0M645.9 358.8h0M661.4 320.5h0M640.6 366.1h0M656.3 357.4h0M658.5 336.0h0M655.6 395.5h0M660.3 355.6h0M650.5 364.3h0M670.1 324.1h0M646.4 362.6h0M651.3 364.3h0M661.7 322.0h0M643.0 351.5h0M636.4 367.3h0M667.4 355.1h0M652.9 364.3h0M654.7 362.2h0M646.7 382.3h0M642.1 360.8h0M648.0 351.9h0M651.1 365.7h0M656.4 353.8h0M665.5 355.3h0M662.7 363.5h0M636.1 359.6h0M648.8 365.9h0M644.5 364.1h0M654.6 362.2h0M644.4 375.2h0M644.5 363.6h0M645.1 364.8h0M642.7 342.1h0M641.7 366.2h0M665.0 367.4h0M658.1 354.2h0M652.4 341.7h0M650.9 364.0h0M657.1 364.7h0M648.8 364.8h0M652.0 352.6h0M651.6 375.9h0M652.7 390.5h0M676.3 357.4h0M641.5 358.7h0M648.2 354.7h0M637.1 356.4h0M630.0 361.3h0M631.9 382.9h0M652.9 366.7h0M670.3 332.8h0M649.4 369.3h0M673.6 347.9h0M674.1 344.6h0M631.8 372.1h0M661.3 344.4h0M638.2 332.4h0M648.9 355.0h0M640.2 357.9h0M657.5 339.8h0M652.9 364.5h0M658.8 375.0h0M646.9 354.7h0M661.8 337.5h0M676.9 344.1h0M644.7 366.4h0M660.2 354.1h0M673.9 349.6h0M651.0 376.9h0M664.1 344.8h0M631.2 392.3h0M653.3 355.6h0M647.5 368.2h0M619.5 368.9h0M647.0 364.1h0M649.3 366.8h0M660.3 353.3h0M630.4 369.9h0M649.0 342.0h0M656.7 339.4h0M639.1 372.2h0M651.2 368.8h0M653.6 359.8h0M658.6 353.7h0M681.6 344.5h0M634.0 381.0h0M648.3 366.9h0M657.2 341.9h0M658.9 362.5h0M672.9 365.4h0M649.8 354.7h0M643.0 375.9h0M645.8 381.9h0M656.4 370.3h0M641.3 369.0h0M653.0 363.1h0M645.0 361.4h0M645.6 368.5h0M650.3 319.1h0M658.6 350.3h0M651.6 350.0h0M657.4 360.3h0M659.2 366.3h0M668.8 329.2h0M650.9 344.1h0M643.1 365.6h0M652.9 356.8h0M618.8 368.6h0M652.1 363.6h0M629.0 396.7h0M648.3 346.6h0M661.2 359.8h0M660.1 351.5h0M658.8 368.4h0M646.2 364.9h0M645.7 366.1h0M671.1 329.0h0M658.7 354.9h0M651.7 354.0h0M654.0 354.5h0M642.9 358.9h0M656.0 375.3h0M669.1 316.8h0M647.3 360.7h0M639.3 391.6h0M635.5 392.3h0M642.1 374.3h0M659.4 326.9h0M619.2 347.2h0M662.4 353.9h0M643.9 368.9h0M641.2 365.3h0M662.1 349.6h0M633.6 387.8h0M654.8 343.9h0M649.2 358.2h0M646.9 372.4h0M659.7 355.1h0M652.8 377.4h0M624.4 374.5h0M646.1 365.5h0M667.7 342.3h0M659.3 370.4h0M656.0 363.3h0M640.3 349.7h0M649.3 343.1h0M656.2 351.3h0M670.5 347.0h0M641.3 365.4h0M657.3 335.9h0M652.4 355.3h0M662.9 360.3h0M655.1 368.5h0M625.3 368.3h0M653.2 357.2h0M659.0 349.0h0M638.5 382.0h0M661.0 373.0h0M643.2 360.9h0M643.8 351.7h0M669.1 363.7h0M638.5 376.8h0M647.4 367.5h0M658.1 357.4h0M656.5 353.7h0M654.4 354.1h0M655.1 349.8h0M625.8 358.7h0M655.8 346.7h0M642.1 381.8h0M642.3 354.5h0M651.2 353.1h0M649.7 364.5h0M658.3 363.0h0M630.1 367.8h0M647.2 354.9h0M652.6 331.1h0M646.7 347.8h0M650.0 345.6h0M649.9 358.2h0M646.8 357.9h0M644.9 362.7h0M656.4 338.1h0M654.4 352.5h0M645.9 366.2h0M649.7 349.4h0M659.2 351.7h0M657.4 384.1h0M668.0 345.7h0M649.1 355.9h0M649.8 350.3h0M635.2 345.9h0M643.2 377.2h0M646.8 380.4h0M637.2 362.3h0M654.5 365.1h0M634.7 351.5h0M639.8 377.4h0M630.8 370.3h0M648.3 368.9h0M669.8 363.8h0M657.0 348.4h0M659.3 344.4h0M626.1 397.0h0M656.2 357.0h0M643.2 374.5h0M645.2 361.7h0M639.9 378.2h0M639.3 369.3h0M653.3 362.8h0M640.4 352.2h0M670.0 350.2h0M657.1 367.0h0M638.0 371.8h0M660.6 336.0h0M642.7 355.7h0M656.8 341.5h0M644.3 368.5h0M621.3 401.4h0M646.6 371.7h0M645.4 380.2h0M644.9 361.8h0M647.1 373.6h0M627.3 371.8h0M639.9 358.7h0M633.3 385.3h0M658.9 359.6h0M655.2 366.9h0M634.3 367.5h0M647.1 385.0h0M660.9 362.6h0M654.2 328.9h0M654.1 362.2h0M651.4 366.7h0M645.1 367.6h0M635.2 369.7h0M624.8 357.6h0M670.8 345.5h0M660.1 365.3h0M659.7 344.4h0M644.9 363.7h0M661.2 356.5h0M658.6 340.2h0M655.7 356.8h0M659.0 342.5h0M661.6 348.3h0M650.5 369.4h0M650.8 365.0h0M656.3 373.3h0M663.0 360.3h0M636.3 373.4h0M673.0 365.7h0M648.0 371.9h0M653.4 366.7h0M666.8 353.9h0M639.8 373.1h0M663.2 329.0h0M646.0 362.1h0M643.0 373.4h0M649.1 350.5h0M642.3 354.0h0M641.2 373.8h0M650.3 356.0h0M639.6 377.1h0M646.1 374.4h0M665.7 379.5h0M652.4 367.4h0M643.9 354.6h0M657.8 351.3h0M648.5 381.5h0M645.5 358.4h0M660.5 359.0h0M644.3 368.7h0M669.8 364.8h0M664.5 343.1h0M656.9 365.7h0M681.2 348.2h0M674.3 340.1h0M651.2 357.6h0M646.4 380.3h0M634.1 372.5h0M654.6 329.4h0M662.1 384.7h0M642.0 364.6h0M649.1 366.4h0M655.7 339.6h0M659.1 368.1h0M658.6 341.8h0M650.7 379.0h0M644.4 376.9h0M650.7 369.9h0M654.2 358.8h0M654.4 367.1h0M660.3 329.9h0M650.9 369.8h0M637.7 375.6h0M663.7 371.2h0M652.1 342.4h0M656.1 344.7h0M658.1 347.3h0M642.0 350.3h0M633.1 365.8h0M657.3 352.2h0M632.5 352.5h0M652.7 355.1h0M648.8 357.4h0M646.6 359.4h0M650.5 345.0h0M647.6 379.3h0M651.3 357.9h0M631.1 379.9h0M647.0 359.6h0M653.1 354.6h0M639.6 364.7h0M650.7 372.0h0M686.4 357.3h0M666.9 353.1h0M660.8 338.3h0M647.4 367.7h0M663.9 357.1h0M644.0 394.1h0M635.3 365.6h0M656.1 369.9h0M660.6 350.4h0M652.4 347.6h0M654.5 358.6h0M651.2 369.3h0M667.5 335.1h0M651.8 369.0h0M646.3 378.9h0M644.4 375.7h0M653.7 397.9h0M647.9 390.1h0M615.6 355.1h0M663.1 348.1h0M644.6 387.4h0M629.7 392.1h0M681.3 345.2h0M665.2 358.1h0M661.5 346.9h0M640.7 369.7h0M647.7 371.6h0M628.1 361.9h0M655.7 355.0h0M656.1 343.0h0M669.5 344.2h0M642.6 377.2h0M651.2 379.6h0M653.9 353.1h0M652.1 350.3h0M655.8 360.2h0M675.2 333.8h0M654.3 336.7h0M647.9 369.0h0M652.1 364.3h0M664.6 323.6h0M650.4 368.0h0M644.9 356.9h0M653.5 360.0h0M645.4 372.3h0M658.5 366.8h0M647.2 357.3h0M630.9 354.9h0M644.1 357.6h0M662.7 320.0h0M644.3 377.3h0M637.1 375.2h0M587.3 351.1h0M734.9 365.9h0M591.7 427.5h0M610.6 430.4h0M612.5 408.7h0M596.7 403.0h0M681.4 409.6h0M693.3 319.0h0M682.3 310.8h0M633.5 311.4h0" stroke="#000030" stroke-width="2.74" stroke-linecap="round" fill="none"/><path d="M670.1 379.1h0M662.9 346.7h0M681.0 366.8h0M654.7 384.6h0M644.4 377.5h0M614.8 382.7h0M658.0 358.9h0M648.2 349.7h0M645.6 360.4h0M651.3 353.2h0M656.4 363.2h0M666.8 344.2h0M640.7 367.8h0M663.6 375.3h0M656.3 380.6h0M638.2 372.9h0M657.5 365.5h0M658.1 351.7h0M655.9 366.4h0M647.6 367.3h0M653.1 344.3h0M623.3 368.1h0M643.4 389.3h0M644.0 374.4h0M644.0 350.5h0M653.7 357.9h0M666.5 384.0h0M649.8 354.7h0M635.3 352.0h0M638.8 373.1h0M653.6 355.9h0M656.0 374.2h0M645.1 363.4h0M653.2 354.9h0M638.6 369.9h0M640.4 382.1h0M644.3 368.1h0M641.1 365.5h0M647.9 362.0h0M667.6 325.5h0M634.5 367.9h0M644.6 359.1h0M654.3 359.8h0M654.3 353.7h0M648.8 352.5h0M644.3 364.8h0M646.8 346.2h0M658.0 360.8h0M660.7 366.3h0M643.0 362.2h0M653.8 362.6h0M643.4 360.5h0M635.3 357.2h0M640.6 377.4h0M660.9 350.8h0M650.7 364.8h0M641.3 367.9h0M642.7 353.3h0M665.7 360.9h0M650.1 354.5h0M639.4 351.2h0M650.5 364.9h0M655.4 361.1h0M645.8 363.1h0M645.3 367.4h0M640.5 370.2h0M641.4 378.5h0M654.0 361.2h0M656.1 347.6h0M646.3 360.4h0M653.9 348.5h0M652.4 363.8h0M626.6 359.4h0M644.5 355.0h0M647.3 359.2h0M655.0 339.5h0M663.9 341.6h0M674.5 312.0h0M645.3 366.2h0M656.1 356.3h0M655.7 378.7h0M641.3 383.7h0M677.1 384.7h0M660.1 361.0h0M663.4 342.6h0M657.8 350.1h0M634.8 357.3h0M645.1 359.4h0M634.7 414.9h0M653.7 369.0h0M626.1 362.3h0M654.5 354.1h0M657.5 359.6h0M654.0 360.9h0M626.3 364.5h0M639.1 361.9h0M649.8 378.8h0M655.3 355.7h0M635.4 371.0h0M646.9 359.7h0M634.8 363.0h0M631.7 398.1h0M652.5 362.7h0M636.1 381.3h0M664.3 339.6h0M646.2 351.0h0M643.1 374.2h0M651.2 373.0h0M640.4 362.3h0M648.6 368.3h0M641.7 383.4h0M652.3 351.0h0M651.8 354.8h0M639.6 388.3h0M659.1 338.7h0M646.0 354.9h0M655.9 336.5h0M648.5 365.6h0M658.2 362.3h0M658.6 336.4h0M653.3 350.1h0M637.6 375.0h0M653.0 367.9h0M647.1 358.0h0M642.4 360.8h0M677.2 347.0h0M649.8 356.8h0M650.6 376.4h0M657.7 348.6h0M635.2 359.5h0M640.9 350.7h0M662.6 338.8h0M650.0 373.9h0M639.5 365.0h0M649.9 350.9h0M646.9 327.3h0M657.9 366.1h0M647.2 354.1h0M661.5 357.2h0M670.8 345.8h0M656.9 363.2h0M656.7 370.7h0M641.9 357.7h0M649.6 358.5h0M660.4 356.1h0M646.4 364.0h0M647.8 363.2h0M658.5 347.0h0M651.2 349.9h0M645.1 347.2h0M655.6 358.0h0M655.4 359.9h0M632.1 395.8h0M680.9 353.3h0M638.2 377.8h0M626.6 382.2h0M683.3 338.1h0M652.8 366.1h0M639.0 371.9h0M652.5 369.1h0M683.2 313.7h0M653.0 342.9h0M648.5 358.7h0M645.2 382.5h0M642.0 379.2h0M658.9 356.2h0M645.9 366.9h0M648.4 351.3h0M664.0 326.1h0M657.5 359.7h0M653.1 352.2h0M651.7 375.0h0M644.8 359.5h0M633.4 398.7h0M643.5 377.2h0M656.0 382.2h0M666.2 344.9h0M660.5 349.9h0M653.0 355.7h0M653.8 368.9h0M650.0 355.7h0M661.7 354.4h0M653.1 362.0h0M676.5 341.4h0M647.2 357.4h0M636.3 393.9h0M646.6 353.7h0M653.7 351.4h0M659.3 338.9h0M656.2 361.6h0M649.6 352.4h0M655.9 334.5h0M652.5 364.0h0M639.0 369.3h0M651.9 368.8h0M647.3 364.9h0M655.8 369.2h0M651.4 364.1h0M658.6 369.2h0M652.4 364.1h0M652.3 345.8h0M642.0 372.0h0M627.2 398.2h0M643.1 372.3h0M657.4 322.7h0M635.5 392.6h0M637.6 377.4h0M685.4 326.6h0M622.4 380.2h0M657.8 344.8h0M656.9 359.0h0M630.3 351.6h0M658.0 351.0h0M651.6 352.9h0M647.5 359.8h0M647.3 365.4h0M651.4 364.5h0M653.1 355.1h0M653.7 364.4h0M654.8 382.2h0M645.7 375.2h0M658.5 339.2h0M646.6 370.1h0M652.5 382.0h0M649.9 354.2h0M653.4 362.6h0M669.7 378.4h0M654.0 355.2h0M634.0 350.6h0M667.2 378.8h0M654.4 374.8h0M663.7 337.0h0M655.0 352.6h0M640.3 324.8h0M638.5 356.0h0M687.3 322.2h0M647.9 365.9h0M638.9 363.7h0M627.5 370.3h0M647.6 360.1h0M679.7 364.8h0M639.1 373.3h0M659.4 364.2h0M644.5 360.9h0M647.7 363.0h0M652.2 388.8h0M641.5 363.2h0M652.1 356.4h0M643.5 343.3h0M647.9 362.3h0M678.2 315.5h0M641.2 350.5h0M651.1 364.1h0M659.2 355.5h0M659.9 356.7h0M644.1 347.0h0M659.4 361.5h0M663.5 344.4h0M654.7 367.6h0M658.8 368.8h0M652.1 377.0h0M646.1 356.2h0M651.5 335.0h0M650.1 355.8h0M644.8 364.1h0M662.3 339.0h0M660.8 343.9h0M640.6 363.0h0M653.8 367.5h0M633.2 364.9h0M658.7 355.4h0M668.3 349.6h0M670.4 332.5h0M663.1 346.4h0M636.9 362.7h0M646.4 360.7h0M641.4 368.7h0M656.9 368.3h0M651.5 370.0h0M677.9 360.9h0M649.2 360.0h0M654.7 357.2h0M661.3 338.3h0M657.7 363.2h0M650.3 376.5h0M668.2 343.6h0M629.2 361.9h0M677.6 376.9h0M652.8 354.0h0M652.0 356.5h0M654.7 357.0h0M654.7 361.6h0M639.1 364.2h0M655.4 356.7h0M658.2 367.7h0M659.5 348.6h0M637.8 358.2h0M645.8 369.8h0M659.3 355.0h0M672.8 338.9h0M650.4 355.7h0M672.4 364.6h0M646.3 364.0h0M637.5 366.1h0M645.2 365.1h0M646.3 342.4h0M656.4 359.1h0M651.3 345.9h0M634.6 387.6h0M681.8 368.5h0M645.1 355.8h0M656.8 370.6h0M658.4 346.6h0M661.8 326.1h0M658.8 353.9h0M633.2 386.2h0M656.4 356.1h0M646.4 376.8h0M648.8 323.0h0M663.0 349.3h0M641.6 400.0h0M656.4 356.1h0M648.2 350.1h0M633.3 378.5h0M650.0 355.2h0M633.4 368.8h0M649.2 365.8h0M609.3 391.0h0M657.8 341.2h0M656.6 353.6h0M651.0 357.4h0M633.6 370.8h0M654.6 367.1h0M653.4 367.8h0M669.6 348.8h0M648.7 351.5h0M611.0 386.4h0M649.0 380.8h0M634.2 367.4h0M649.8 350.6h0M634.8 371.1h0M635.5 375.8h0M667.1 353.0h0M657.2 346.1h0M643.5 370.6h0M645.1 352.1h0M653.2 364.1h0M657.6 355.7h0M636.0 366.7h0M638.5 382.7h0M639.6 383.8h0M633.9 353.8h0M633.2 370.8h0M658.1 372.3h0M643.2 357.7h0M636.7 368.5h0M659.9 349.4h0M632.9 371.0h0M628.9 349.0h0M633.8 378.7h0M672.6 345.4h0M641.8 388.2h0M651.0 367.7h0M656.5 360.5h0M665.6 350.3h0M643.5 376.4h0M647.9 368.6h0M636.2 375.7h0M658.9 390.8h0M651.1 352.1h0M648.2 365.6h0M657.2 363.8h0M638.5 369.2h0M645.5 371.0h0M674.7 372.7h0M643.0 359.6h0M658.5 367.1h0M641.2 373.2h0M659.3 341.7h0M652.9 363.6h0M648.3 365.0h0M648.0 365.7h0M645.7 370.2h0M647.3 367.1h0M648.4 355.7h0M659.2 355.2h0M644.8 369.7h0M630.2 361.6h0M664.0 341.0h0M645.5 372.9h0M665.3 350.1h0M669.1 340.3h0M654.8 361.3h0M646.7 371.0h0M655.2 354.5h0M633.5 380.4h0M639.6 344.7h0M658.7 356.2h0M655.8 360.9h0M659.0 341.0h0M656.9 346.3h0M641.5 375.9h0M640.0 363.9h0M651.2 370.9h0M659.6 348.8h0M664.3 356.6h0M644.0 392.6h0M647.6 370.6h0M639.9 345.9h0M639.0 379.8h0M654.9 351.5h0M664.0 357.5h0M666.1 365.7h0M675.4 335.3h0M646.6 357.0h0M648.0 355.3h0M667.4 360.3h0M647.2 365.6h0M632.9 368.6h0M645.8 381.0h0M616.7 361.5h0M667.1 350.7h0M629.3 373.6h0M644.2 380.6h0M644.2 360.8h0M647.1 372.3h0M639.7 350.0h0M673.5 318.9h0M638.5 365.0h0M647.7 372.2h0M650.7 378.8h0M649.0 364.5h0M653.9 358.5h0M642.6 362.3h0M685.6 357.4h0M649.3 377.4h0M657.1 371.1h0M664.3 371.7h0M646.8 364.2h0M662.2 330.7h0M652.7 332.6h0M644.8 367.2h0M634.2 362.8h0M648.5 365.7h0M643.9 364.4h0M646.0 370.7h0M660.7 357.9h0M657.7 352.9h0M647.0 379.1h0M655.7 336.1h0M657.7 365.1h0M657.1 359.4h0M652.7 371.6h0M648.4 373.3h0M651.1 366.1h0M667.1 331.4h0M668.0 311.4h0M662.1 351.3h0M640.4 366.5h0M653.5 358.9h0M649.3 349.4h0M632.1 364.9h0M648.5 370.2h0M655.6 351.1h0M641.9 371.3h0M672.5 343.9h0M643.7 372.1h0M674.2 344.6h0M652.2 364.2h0M657.4 357.5h0M648.8 359.5h0M653.1 365.4h0M623.5 395.1h0M648.1 351.7h0M661.9 354.3h0M662.7 357.8h0M652.9 355.8h0M633.1 392.7h0M647.8 368.8h0M645.7 356.5h0M644.2 352.3h0M648.0 378.5h0M651.2 357.1h0M636.5 376.9h0M647.3 375.8h0M630.5 366.9h0M648.0 369.6h0M661.3 367.0h0M637.3 369.2h0M667.5 329.1h0M644.0 355.9h0M652.6 363.1h0M650.7 343.7h0M665.1 349.7h0M629.4 373.1h0M646.6 377.8h0M648.2 356.4h0M636.0 369.5h0M686.5 357.9h0M664.7 358.3h0M658.6 359.7h0M647.4 361.8h0M647.9 370.7h0M638.2 365.3h0M641.7 356.3h0M644.2 358.3h0M679.0 345.8h0M617.3 375.0h0M647.6 359.8h0M639.2 366.5h0M649.7 354.0h0M685.3 366.1h0M654.4 353.5h0M648.3 360.0h0M653.6 355.9h0M646.4 362.6h0M620.4 405.3h0M645.2 352.4h0M660.4 371.5h0M661.4 339.0h0M640.9 352.8h0M648.0 368.7h0M650.8 368.8h0M657.8 384.9h0M648.3 359.3h0M689.2 326.0h0M654.3 367.5h0M653.6 358.3h0M647.5 363.3h0M635.8 375.2h0M662.5 364.8h0M650.7 367.6h0M659.9 372.0h0M638.4 353.6h0M645.9 358.8h0M661.4 320.5h0M640.6 366.1h0M656.3 357.4h0M658.5 336.0h0M655.6 395.5h0M660.3 355.6h0M650.5 364.3h0M670.1 324.1h0M646.4 362.6h0M651.3 364.3h0M661.7 322.0h0M643.0 351.5h0M636.4 367.3h0M667.4 355.1h0M652.9 364.3h0M654.7 362.2h0M646.7 382.3h0M642.1 360.8h0M648.0 351.9h0M651.1 365.7h0M656.4 353.8h0M665.5 355.3h0M662.7 363.5h0M636.1 359.6h0M648.8 365.9h0M644.5 364.1h0M654.6 362.2h0M644.4 375.2h0M644.5 363.6h0M645.1 364.8h0M642.7 342.1h0M641.7 366.2h0M665.0 367.4h0M658.1 354.2h0M652.4 341.7h0M650.9 364.0h0M657.1 364.7h0M648.8 364.8h0M652.0 352.6h0M651.6 375.9h0M652.7 390.5h0M676.3 357.4h0M641.5 358.7h0M648.2 354.7h0M637.1 356.4h0M630.0 361.3h0M631.9 382.9h0M652.9 366.7h0M670.3 332.8h0M649.4 369.3h0M673.6 347.9h0M674.1 344.6h0M631.8 372.1h0M661.3 344.4h0M638.2 332.4h0M648.9 355.0h0M640.2 357.9h0M657.5 339.8h0M652.9 364.5h0M658.8 375.0h0M646.9 354.7h0M661.8 337.5h0M676.9 344.1h0M644.7 366.4h0M660.2 354.1h0M673.9 349.6h0M651.0 376.9h0M664.1 344.8h0M631.2 392.3h0M653.3 355.6h0M647.5 368.2h0M619.5 368.9h0M647.0 364.1h0M649.3 366.8h0M660.3 353.3h0M630.4 369.9h0M649.0 342.0h0M656.7 339.4h0M639.1 372.2h0M651.2 368.8h0M653.6 359.8h0M658.6 353.7h0M681.6 344.5h0M634.0 381.0h0M648.3 366.9h0M657.2 341.9h0M658.9 362.5h0M672.9 365.4h0M649.8 354.7h0M643.0 375.9h0M645.8 381.9h0M656.4 370.3h0M641.3 369.0h0M653.0 363.1h0M645.0 361.4h0M645.6 368.5h0M650.3 319.1h0M658.6 350.3h0M651.6 350.0h0M657.4 360.3h0M659.2 366.3h0M668.8 329.2h0M650.9 344.1h0M643.1 365.6h0M652.9 356.8h0M618.8 368.6h0M652.1 363.6h0M629.0 396.7h0M648.3 346.6h0M661.2 359.8h0M660.1 351.5h0M658.8 368.4h0M646.2 364.9h0M645.7 366.1h0M671.1 329.0h0M658.7 354.9h0M651.7 354.0h0M654.0 354.5h0M642.9 358.9h0M656.0 375.3h0M669.1 316.8h0M647.3 360.7h0M639.3 391.6h0M635.5 392.3h0M642.1 374.3h0M659.4 326.9h0M619.2 347.2h0M662.4 353.9h0M643.9 368.9h0M641.2 365.3h0M662.1 349.6h0M633.6 387.8h0M654.8 343.9h0M649.2 358.2h0M646.9 372.4h0M659.7 355.1h0M652.8 377.4h0M624.4 374.5h0M646.1 365.5h0M667.7 342.3h0M659.3 370.4h0M656.0 363.3h0M640.3 349.7h0M649.3 343.1h0M656.2 351.3h0M670.5 347.0h0M641.3 365.4h0M657.3 335.9h0M652.4 355.3h0M662.9 360.3h0M655.1 368.5h0M625.3 368.3h0M653.2 357.2h0M659.0 349.0h0M638.5 382.0h0M661.0 373.0h0M643.2 360.9h0M643.8 351.7h0M669.1 363.7h0M638.5 376.8h0M647.4 367.5h0M658.1 357.4h0M656.5 353.7h0M654.4 354.1h0M655.1 349.8h0M625.8 358.7h0M655.8 346.7h0M642.1 381.8h0M642.3 354.5h0M651.2 353.1h0M649.7 364.5h0M658.3 363.0h0M630.1 367.8h0M647.2 354.9h0M652.6 331.1h0M646.7 347.8h0M650.0 345.6h0M649.9 358.2h0M646.8 357.9h0M644.9 362.7h0M656.4 338.1h0M654.4 352.5h0M645.9 366.2h0M649.7 349.4h0M659.2 351.7h0M657.4 384.1h0M668.0 345.7h0M649.1 355.9h0M649.8 350.3h0M635.2 345.9h0M643.2 377.2h0M646.8 380.4h0M637.2 362.3h0M654.5 365.1h0M634.7 351.5h0M639.8 377.4h0M630.8 370.3h0M648.3 368.9h0M669.8 363.8h0M657.0 348.4h0M659.3 344.4h0M626.1 397.0h0M656.2 357.0h0M643.2 374.5h0M645.2 361.7h0M639.9 378.2h0M639.3 369.3h0M653.3 362.8h0M640.4 352.2h0M670.0 350.2h0M657.1 367.0h0M638.0 371.8h0M660.6 336.0h0M642.7 355.7h0M656.8 341.5h0M644.3 368.5h0M621.3 401.4h0M646.6 371.7h0M645.4 380.2h0M644.9 361.8h0M647.1 373.6h0M627.3 371.8h0M639.9 358.7h0M633.3 385.3h0M658.9 359.6h0M655.2 366.9h0M634.3 367.5h0M647.1 385.0h0M660.9 362.6h0M654.2 328.9h0M654.1 362.2h0M651.4 366.7h0M645.1 367.6h0M635.2 369.7h0M624.8 357.6h0M670.8 345.5h0M660.1 365.3h0M659.7 344.4h0M644.9 363.7h0M661.2 356.5h0M658.6 340.2h0M655.7 356.8h0M659.0 342.5h0M661.6 348.3h0M650.5 369.4h0M650.8 365.0h0M656.3 373.3h0M663.0 360.3h0M636.3 373.4h0M673.0 365.7h0M648.0 371.9h0M653.4 366.7h0M666.8 353.9h0M639.8 373.1h0M663.2 329.0h0M646.0 362.1h0M643.0 373.4h0M649.1 350.5h0M642.3 354.0h0M641.2 373.8h0M650.3 356.0h0M639.6 377.1h0M646.1 374.4h0M665.7 379.5h0M652.4 367.4h0M643.9 354.6h0M657.8 351.3h0M648.5 381.5h0M645.5 358.4h0M660.5 359.0h0M644.3 368.7h0M669.8 364.8h0M664.5 343.1h0M656.9 365.7h0M681.2 348.2h0M674.3 340.1h0M651.2 357.6h0M646.4 380.3h0M634.1 372.5h0M654.6 329.4h0M662.1 384.7h0M642.0 364.6h0M649.1 366.4h0M655.7 339.6h0M659.1 368.1h0M658.6 341.8h0M650.7 379.0h0M644.4 376.9h0M650.7 369.9h0M654.2 358.8h0M654.4 367.1h0M660.3 329.9h0M650.9 369.8h0M637.7 375.6h0M663.7 371.2h0M652.1 342.4h0M656.1 344.7h0M658.1 347.3h0M642.0 350.3h0M633.1 365.8h0M657.3 352.2h0M632.5 352.5h0M652.7 355.1h0M648.8 357.4h0M646.6 359.4h0M650.5 345.0h0M647.6 379.3h0M651.3 357.9h0M631.1 379.9h0M647.0 359.6h0M653.1 354.6h0M639.6 364.7h0M650.7 372.0h0M686.4 357.3h0M666.9 353.1h0M660.8 338.3h0M647.4 367.7h0M663.9 357.1h0M644.0 394.1h0M635.3 365.6h0M656.1 369.9h0M660.6 350.4h0M652.4 347.6h0M654.5 358.6h0M651.2 369.3h0M667.5 335.1h0M651.8 369.0h0M646.3 378.9h0M644.4 375.7h0M653.7 397.9h0M647.9 390.1h0M615.6 355.1h0M663.1 348.1h0M644.6 387.4h0M629.7 392.1h0M681.3 345.2h0M665.2 358.1h0M661.5 346.9h0M640.7 369.7h0M647.7 371.6h0M628.1 361.9h0M655.7 355.0h0M656.1 343.0h0M669.5 344.2h0M642.6 377.2h0M651.2 379.6h0M653.9 353.1h0M652.1 350.3h0M655.8 360.2h0M675.2 333.8h0M654.3 336.7h0M647.9 369.0h0M652.1 364.3h0M664.6 323.6h0M650.4 368.0h0M644.9 356.9h0M653.5 360.0h0M645.4 372.3h0M658.5 366.8h0M647.2 357.3h0M630.9 354.9h0M644.1 357.6h0M662.7 320.0h0M644.3 377.3h0M637.1 375.2h0M587.3 351.1h0M734.9 365.9h0M591.7 427.5h0M610.6 430.4h0M612.5 408.7h0M596.7 403.0h0M681.4 409.6h0M693.3 319.0h0M682.3 310.8h0M633.5 311.4h0" stroke="#00008b" stroke-width="2.24" stroke-linecap="round" fill="none"/><text x="554.3" y="450.0" font-size="6.6" text-anchor="middle">&minus;10</text><text x="570.6" y="457.2" font-size="6.6" text-anchor="middle">&minus;5</text><text x="587.0" y="464.1" font-size="6.6" text-anchor="middle">0</text><text x="604.6" y="470.7" font-size="6.6" text-anchor="middle">5</text><text x="632.6" y="475.5" font-size="6.6" text-anchor="middle">&minus;30</text><text x="650.9" y="473.0" font-size="6.6" text-anchor="middle">&minus;20</text><text x="668.2" y="470.7" font-size="6.6" text-anchor="middle">&minus;10</text><text x="684.8" y="468.2" font-size="6.6" text-anchor="middle">0</text><text x="702.8" y="466.0" font-size="6.6" text-anchor="middle">10</text><text x="719.4" y="464.1" font-size="6.6" text-anchor="middle">20</text><text x="735.8" y="461.9" font-size="6.6" text-anchor="middle">30</text><text x="752.5" y="459.7" font-size="6.6" text-anchor="middle">40</text><text x="769.5" y="317.2" font-size="6.6" text-anchor="middle">20</text><text x="769.5" y="342.4" font-size="6.6" text-anchor="middle">10</text><text x="769.5" y="367.5" font-size="6.6" text-anchor="middle">0</text><text x="769.5" y="392.1" font-size="6.6" text-anchor="middle">&minus;10</text><text x="769.5" y="416.3" font-size="6.6" text-anchor="middle">&minus;20</text><text x="769.5" y="441.5" font-size="6.6" text-anchor="middle">&minus;30</text><path d="M755.7 314.6l2.2 0.5M755.5 339.8l2.2 0.5M755.4 364.9l2.2 0.5M755.2 389.5l2.2 0.5M755.0 413.7l2.2 0.5M754.9 438.9l2.2 0.5" stroke="#333" stroke-width="0.5" fill="none"/><text x="778.9" y="378.6" font-size="6.6" text-anchor="middle">Z</text><text x="570.6" y="466.7" font-size="6.6" text-anchor="middle">X</text><text x="699.0" y="475.2" font-size="6.6" text-anchor="middle">Y</text><linearGradient id="g3480" x1="0" x2="1"><stop offset="0" stop-color="#ececec"/><stop offset="1" stop-color="#e2e2e2"/></linearGradient><polygon points="548.6,492.0 674.5,483.8 674.5,615.3 550.2,627.3" fill="#f3f3f3"/><polygon points="674.5,483.8 753.7,497.3 751.5,639.8 674.5,615.3" fill="url(#g3480)"/><polygon points="550.2,627.3 674.5,615.3 751.5,639.8 619.4,656.8" fill="#f1f1f1"/><path d="M570.0 490.6L571.3 625.2M548.9 515.0L674.5 506.1L753.4 521.5M687.9 486.1L687.6 619.5L561.9 632.3M571.3 625.2L641.9 654.0M590.1 489.3L591.2 623.3M549.1 536.6L674.5 527.2L753.0 544.3M700.6 488.2L699.9 623.4L573.0 637.0M591.2 623.3L663.0 651.2M611.5 487.9L612.3 621.3M549.4 559.6L674.5 549.5L752.6 568.6M714.1 490.5L713.0 627.6L584.8 642.1M612.3 621.3L685.5 648.3M632.9 486.5L633.4 619.3M549.6 582.6L674.5 571.9L752.3 592.8M727.6 492.8L726.1 631.7L596.5 647.1M633.4 619.3L707.9 645.5M653.1 485.2L653.3 617.3M549.9 604.3L674.5 592.9L751.9 615.6M740.3 495.0L738.4 635.7L607.6 651.8M653.3 617.3L729.1 642.7" stroke="#fff" stroke-width="0.5" fill="none" opacity="0.35"/><path d="M550.2 627.3L619.4 656.8L751.5 639.8L753.7 497.3" stroke="#333" stroke-width="0.6" fill="none"/><path d="M673.9 600.0h0M637.0 577.2h0M661.2 563.1h0M679.5 576.2h0M664.8 568.0h0M648.3 568.7h0M659.8 562.5h0M641.7 568.5h0M661.6 572.4h0M638.1 543.6h0M651.5 548.9h0M647.5 566.4h0M691.8 572.3h0M652.6 577.5h0M655.5 556.9h0M658.6 566.3h0M662.0 556.7h0M659.3 553.7h0M662.5 564.8h0M644.7 557.8h0M648.7 563.3h0M653.7 549.7h0M707.6 550.9h0M667.9 530.2h0M660.4 558.5h0M656.8 551.3h0M661.1 561.3h0M656.5 569.1h0M626.9 551.0h0M663.2 585.4h0M657.9 585.4h0M647.2 557.7h0M662.5 562.7h0M669.3 565.9h0M651.7 558.3h0M660.2 567.2h0M650.1 589.6h0M648.8 560.8h0M666.8 577.2h0M647.3 546.5h0M662.1 565.7h0M656.3 562.5h0M663.6 563.6h0M662.8 577.4h0M661.5 564.2h0M642.5 546.0h0M652.5 601.0h0M660.9 563.7h0M659.4 572.1h0M671.0 560.4h0M653.4 568.4h0M644.2 558.1h0M661.0 551.5h0M676.7 562.0h0M663.8 574.5h0M656.6 573.3h0M654.4 583.7h0M628.0 571.1h0M657.2 580.1h0M655.0 563.0h0M654.9 583.3h0M659.9 567.9h0M654.2 556.6h0M653.4 564.1h0M649.2 550.8h0M673.1 558.6h0M637.8 560.7h0M664.0 566.9h0M653.5 586.4h0M650.8 561.2h0M679.4 555.0h0M676.5 579.8h0M660.1 575.1h0M663.1 562.2h0M652.1 562.3h0M659.1 564.3h0M666.0 563.2h0M651.4 574.0h0M653.8 571.1h0M660.2 586.6h0M656.6 565.2h0M664.7 561.9h0M665.4 549.6h0M649.2 564.6h0M658.4 568.7h0M662.7 562.9h0M656.5 562.3h0M678.6 567.4h0M647.2 560.6h0M643.1 549.8h0M657.9 558.6h0M677.6 560.3h0M633.1 592.5h0M658.0 563.8h0M659.2 563.3h0M669.4 564.9h0M654.2 567.5h0M664.8 563.4h0M634.1 569.0h0M660.2 549.5h0M657.8 557.0h0M671.3 577.0h0M659.4 597.6h0M671.9 547.4h0M661.3 565.1h0M649.6 541.2h0M656.4 568.5h0M668.7 559.7h0M662.7 565.2h0M661.9 566.1h0M664.7 602.4h0M681.3 560.0h0M667.2 553.7h0M652.2 569.1h0M657.6 552.2h0M662.8 563.0h0M651.0 554.2h0M638.5 580.7h0M654.5 568.2h0M628.9 599.3h0M658.1 566.9h0M641.6 558.1h0M683.5 593.2h0M658.1 576.5h0M651.7 561.8h0M662.8 568.1h0M654.5 564.5h0M669.7 562.1h0M658.1 563.6h0M649.4 565.6h0M649.9 540.2h0M656.7 566.1h0M667.7 571.9h0M659.5 562.8h0M643.4 551.9h0M661.8 550.2h0M664.3 565.5h0M650.2 564.3h0M654.6 589.4h0M653.6 572.5h0M646.0 572.9h0M653.2 562.6h0M663.2 569.0h0M661.2 553.7h0M667.9 588.7h0M619.7 552.6h0M645.0 565.5h0M648.0 567.7h0M652.6 573.4h0M641.5 548.5h0M672.1 564.0h0M655.4 550.1h0M663.4 581.5h0M651.6 562.2h0M646.9 592.6h0M658.1 562.9h0M668.1 564.2h0M647.3 562.5h0M666.5 575.8h0M650.4 564.6h0M663.3 560.9h0M651.3 566.9h0M658.8 579.4h0M625.7 550.0h0M675.7 553.3h0M660.0 566.4h0M659.0 558.9h0M626.9 553.6h0M681.7 576.3h0M644.6 565.7h0M652.3 555.9h0M648.6 563.5h0M654.0 569.1h0M643.4 557.9h0M656.8 585.3h0M655.9 564.1h0M662.7 566.1h0M650.4 559.0h0M646.9 566.4h0M650.5 540.9h0M659.2 563.4h0M648.7 543.4h0M654.5 542.0h0M666.0 576.6h0M669.1 568.9h0M671.3 572.0h0M677.6 546.4h0M640.3 570.0h0M662.6 545.9h0M641.3 561.9h0M666.9 540.8h0M681.7 563.4h0M653.0 563.2h0M657.3 560.3h0M649.4 572.8h0M666.4 573.4h0M667.5 577.2h0M665.2 562.3h0M663.4 562.2h0M674.5 563.3h0M678.3 560.9h0M655.0 569.8h0M683.3 579.0h0M660.8 567.3h0M670.5 576.1h0M655.6 561.4h0M674.8 595.6h0M660.4 555.3h0M635.6 560.5h0M669.3 562.3h0M659.6 560.0h0M655.6 563.1h0M663.9 564.5h0M654.4 555.7h0M663.4 564.7h0M671.1 554.3h0M661.1 559.1h0M654.6 563.6h0M649.0 563.4h0M656.7 571.4h0M638.0 547.8h0M673.3 556.0h0M641.7 557.6h0M654.2 562.8h0M655.2 563.4h0M669.0 557.6h0M629.9 575.9h0M631.3 570.4h0M634.3 555.7h0M656.9 569.7h0M659.7 557.5h0M674.4 577.1h0M643.2 546.2h0M681.7 568.0h0M673.4 591.9h0M667.6 561.8h0M676.8 593.3h0M671.8 608.4h0M658.3 560.2h0M658.4 558.2h0M668.5 563.1h0M658.4 582.9h0M656.1 557.8h0M652.0 559.4h0M642.7 572.4h0M656.6 562.5h0M626.6 522.6h0M652.8 566.0h0M654.9 563.5h0M641.0 552.7h0M656.8 559.9h0M653.2 558.0h0M666.2 548.5h0M658.6 564.1h0M670.8 562.1h0M647.3 594.9h0M637.0 564.1h0M644.1 575.8h0M686.0 558.8h0M653.3 563.5h0M667.7 593.8h0M658.0 563.3h0M650.1 569.5h0M653.4 553.5h0M671.1 562.2h0M671.6 560.5h0M658.4 564.4h0M669.5 570.1h0M647.2 577.4h0M666.1 576.1h0M652.4 557.9h0M665.3 550.0h0M629.5 556.3h0M665.1 559.3h0M659.0 560.9h0M665.7 564.5h0M654.0 559.8h0M670.9 533.9h0M662.6 565.0h0M670.0 565.3h0M663.1 562.3h0M656.5 553.9h0M657.6 565.1h0M659.2 570.9h0M663.9 569.2h0M660.2 565.1h0M661.0 554.0h0M653.2 567.5h0M668.8 569.2h0M660.9 569.4h0M644.8 557.8h0M656.9 570.6h0M625.2 560.9h0M665.2 583.2h0M655.9 552.2h0M656.8 576.2h0M640.3 559.9h0M663.4 535.1h0M662.6 570.3h0M668.1 565.5h0M654.0 558.6h0M652.8 540.7h0M639.5 558.4h0M643.0 566.4h0M685.3 570.1h0M648.1 550.2h0M653.1 556.1h0M640.0 560.1h0M663.3 569.7h0M652.6 574.7h0M669.8 549.8h0M659.5 560.5h0M669.5 592.7h0M656.7 546.6h0M651.1 552.7h0M665.3 580.3h0M655.6 566.2h0M648.7 563.6h0M674.5 563.7h0M635.8 549.0h0M663.6 589.8h0M671.5 560.8h0M655.5 569.9h0M667.0 563.1h0M666.2 568.8h0M650.9 570.8h0M658.3 572.5h0M674.9 540.9h0M657.6 561.5h0M682.8 583.8h0M634.8 565.4h0M665.4 557.1h0M649.8 562.2h0M648.6 572.9h0M608.8 559.0h0M657.9 563.2h0M662.1 570.4h0M671.4 552.7h0M643.2 568.2h0M651.5 556.0h0M648.2 552.7h0M657.7 565.4h0M658.9 574.0h0M657.0 575.5h0M652.7 567.8h0M651.7 563.6h0M667.3 569.8h0M653.8 559.8h0M654.9 571.9h0M664.6 553.5h0M659.1 571.0h0M650.2 560.5h0M660.0 548.0h0M653.9 557.0h0M656.1 573.1h0M658.7 577.9h0M619.2 566.0h0M647.9 560.4h0M661.1 569.5h0M640.6 562.3h0M652.9 570.4h0M664.2 542.6h0M652.1 557.6h0M656.1 565.4h0M658.9 564.1h0M653.3 554.6h0M651.1 565.5h0M676.4 570.9h0M673.6 560.0h0M668.9 577.4h0M647.6 576.4h0M651.0 563.2h0M685.9 562.3h0M647.1 565.3h0M667.7 577.8h0M639.6 574.4h0M651.2 558.6h0M655.8 567.3h0M634.8 557.1h0M661.6 565.2h0M651.2 568.4h0M647.0 584.0h0M657.7 559.1h0M660.0 558.7h0M638.5 574.9h0M657.2 546.0h0M659.8 570.9h0M661.8 563.1h0M661.1 562.4h0M663.1 572.5h0M656.4 565.8h0M659.0 563.1h0M644.7 559.0h0M664.7 561.3h0M648.7 563.3h0M639.7 576.9h0M677.9 559.5h0M659.1 552.6h0M656.2 554.7h0M640.9 589.3h0M640.0 566.4h0M667.5 576.5h0M650.9 562.7h0M658.8 569.3h0M654.6 575.5h0M656.3 560.4h0M662.5 571.4h0M652.9 570.7h0M648.9 563.1h0M684.9 560.6h0M644.3 577.8h0M649.4 564.7h0M670.7 570.7h0M656.1 564.6h0M652.3 588.7h0M655.4 568.6h0M644.8 556.3h0M661.4 574.8h0M652.6 570.7h0M666.4 561.0h0M656.1 563.0h0M653.8 545.0h0M667.2 557.1h0M662.7 560.7h0M658.1 558.2h0M663.3 570.7h0M642.5 561.0h0M652.0 543.4h0M658.8 536.8h0M658.9 557.3h0M672.9 560.5h0M640.6 551.0h0M659.1 554.9h0M633.8 527.0h0M666.2 576.1h0M658.9 563.1h0M648.6 580.9h0M689.3 565.9h0M647.2 534.0h0M657.0 558.6h0M651.1 564.2h0M660.1 567.8h0M651.8 566.7h0M661.2 571.8h0M653.9 574.0h0M658.7 564.9h0M651.8 551.4h0M658.8 566.2h0M671.8 538.1h0M650.1 572.8h0M651.4 543.2h0M647.3 556.3h0M658.0 571.0h0M648.5 556.5h0M659.6 566.1h0M664.1 566.9h0M642.0 558.5h0M649.3 558.7h0M684.5 545.5h0M640.0 556.7h0M657.3 558.3h0M665.1 556.8h0M651.2 552.9h0M664.3 554.2h0M651.0 562.3h0M650.3 565.6h0M667.9 558.1h0M649.1 530.2h0M664.1 588.5h0M659.8 569.8h0M661.5 568.6h0M656.6 562.9h0M664.6 559.0h0M647.5 554.3h0M660.5 576.5h0M654.5 563.3h0M655.9 567.9h0M656.7 562.6h0M680.8 549.5h0M663.4 541.9h0M659.2 570.8h0M637.9 568.2h0M648.6 558.0h0M675.0 582.1h0M639.1 557.7h0M660.2 525.9h0M640.4 556.3h0M650.7 576.7h0M655.6 573.3h0M651.9 561.4h0M655.3 551.5h0M660.6 561.7h0M660.3 563.8h0M661.1 559.6h0M655.5 566.8h0M642.3 571.4h0M675.5 571.3h0M659.8 552.1h0M676.4 566.7h0M662.4 559.3h0M644.0 575.2h0M629.5 567.9h0M656.6 583.8h0M646.7 558.3h0M649.7 571.1h0M636.9 544.3h0M664.4 560.0h0M668.7 541.9h0M657.2 564.7h0M664.9 542.1h0M660.3 568.2h0M622.1 549.8h0M641.8 567.9h0M658.0 557.9h0M660.9 576.9h0M653.6 557.6h0M655.9 569.1h0M655.4 592.0h0M654.5 552.5h0M661.0 564.7h0M668.1 582.3h0M664.7 565.8h0M642.2 541.7h0M664.9 559.2h0M644.0 553.7h0M672.5 578.6h0M651.3 551.0h0M661.4 576.4h0M660.6 535.7h0M661.5 567.3h0M656.3 568.7h0M668.1 553.8h0M655.7 566.8h0M650.2 556.3h0M654.3 562.8h0M655.2 555.9h0M659.1 561.5h0M638.8 591.1h0M660.9 561.2h0M657.2 540.8h0M636.6 535.6h0M664.2 532.1h0M653.9 568.1h0M646.8 570.1h0M652.0 559.6h0M655.7 563.1h0M664.0 570.7h0M657.2 560.7h0M664.4 582.5h0M655.2 559.0h0M668.5 569.6h0M667.3 559.9h0M662.5 554.8h0M660.0 576.8h0M658.5 561.1h0M666.2 566.5h0M656.7 551.4h0M679.6 558.6h0M642.0 552.7h0M656.4 569.5h0M654.9 560.5h0M641.6 571.1h0M648.8 568.8h0M642.7 560.9h0M660.1 564.1h0M659.8 550.0h0M657.6 550.7h0M654.1 563.8h0M654.0 567.7h0M652.9 565.2h0M657.8 567.6h0M653.8 546.9h0M652.3 571.3h0M684.0 549.9h0M629.2 566.9h0M656.9 566.6h0M634.5 539.1h0M638.5 540.8h0M642.2 563.6h0M650.6 566.5h0M653.8 571.3h0M645.5 563.6h0M655.4 572.4h0M653.5 582.3h0M651.3 560.5h0M609.4 575.1h0M644.7 557.0h0M660.2 566.1h0M642.7 546.8h0M659.5 563.7h0M664.1 585.1h0M658.1 568.0h0M659.3 542.8h0M646.8 570.7h0M652.2 562.8h0M659.7 592.6h0M655.7 556.2h0M671.2 561.2h0M658.9 573.3h0M649.3 562.8h0M663.1 553.4h0M647.5 562.7h0M659.6 558.1h0M659.4 560.1h0M655.1 565.0h0M661.3 558.3h0M651.2 561.3h0M655.8 566.0h0M648.4 564.0h0M652.1 547.7h0M670.0 556.3h0M649.2 568.7h0M664.7 573.6h0M660.3 561.4h0M662.0 567.1h0M654.1 553.7h0M662.9 564.2h0M658.1 575.6h0M648.7 550.0h0M648.8 562.8h0M659.0 570.6h0M652.7 573.1h0M664.2 539.8h0M662.0 555.0h0M667.1 558.5h0M661.7 558.6h0M655.0 569.7h0M651.7 581.7h0M655.3 548.3h0M671.5 557.7h0M655.8 555.7h0M646.8 568.6h0M668.5 551.9h0M652.0 564.0h0M654.5 567.5h0M655.7 573.1h0M659.6 573.1h0M662.8 568.9h0M671.3 565.3h0M658.3 599.5h0M647.0 547.8h0M645.0 566.2h0M650.6 567.2h0M675.5 559.6h0M663.4 564.1h0M664.0 559.0h0M658.3 559.1h0M670.9 563.3h0M657.2 554.4h0M649.7 533.2h0M679.1 604.3h0M663.6 561.9h0M654.7 571.8h0M681.6 561.7h0M665.5 578.1h0M652.9 562.8h0M668.5 557.4h0M639.4 578.0h0M668.5 570.8h0M656.4 564.4h0M637.6 528.5h0M642.3 555.0h0M635.9 568.1h0M654.6 564.6h0M659.1 557.3h0M672.0 572.5h0M647.7 531.0h0M658.1 563.6h0M660.9 538.8h0M653.8 566.3h0M667.5 569.1h0M655.4 549.2h0M663.3 552.8h0M651.8 560.6h0M680.1 568.0h0M661.8 558.2h0M639.8 555.7h0M654.3 555.6h0M659.0 567.4h0M684.7 531.7h0M673.8 566.4h0M664.4 566.4h0M641.8 563.9h0M658.7 558.7h0M640.3 572.0h0M658.9 573.7h0M654.6 567.5h0M660.3 539.1h0M657.2 566.0h0M684.0 566.3h0M660.3 548.1h0M647.3 551.3h0M663.2 557.9h0M659.1 570.8h0M648.7 573.3h0M659.6 569.5h0M659.6 589.3h0M659.4 563.5h0M622.6 540.6h0M647.5 574.8h0M666.2 550.6h0M649.4 566.2h0M654.9 563.2h0M654.2 554.8h0M668.7 539.0h0M677.6 563.6h0M661.1 602.7h0M677.2 527.1h0M653.8 562.3h0M663.8 561.6h0M652.4 561.2h0M657.5 564.1h0M658.6 560.5h0M660.6 562.1h0M625.4 586.8h0M667.7 541.1h0M658.0 545.3h0M666.5 563.6h0M665.0 562.2h0M667.7 572.3h0M651.6 577.9h0M636.8 569.3h0M662.4 574.1h0M665.7 567.0h0M657.1 556.4h0M646.1 562.5h0M662.1 557.1h0M661.8 554.6h0M635.2 600.3h0M657.9 560.9h0M647.6 546.8h0M661.4 560.0h0M664.0 561.5h0M659.8 573.7h0M647.0 553.0h0M661.7 564.1h0M659.1 554.3h0M670.5 567.0h0M662.5 554.9h0M672.3 567.1h0M653.7 565.1h0M664.3 565.7h0M657.4 571.6h0M644.6 561.8h0M663.9 563.0h0M656.2 566.2h0M657.4 560.3h0M666.6 559.5h0M638.4 551.6h0M657.0 566.6h0M623.3 570.7h0M672.0 555.0h0M657.3 560.6h0M675.7 560.0h0M659.3 565.2h0M663.8 565.6h0M665.6 535.1h0M661.8 545.8h0M660.3 564.8h0M644.9 561.1h0M669.4 519.6h0M655.0 564.6h0M683.0 564.6h0M655.5 563.0h0M667.3 555.1h0M648.7 551.3h0M626.5 535.2h0M653.0 560.4h0M682.1 569.5h0M661.2 569.4h0M662.8 570.4h0M663.9 559.3h0M667.9 563.4h0M657.0 587.9h0M656.7 564.3h0M668.0 582.1h0M648.0 578.8h0M660.2 552.6h0M674.9 577.8h0M657.6 550.3h0M645.7 561.0h0M655.9 565.4h0M673.3 572.1h0M645.3 573.6h0M661.4 567.3h0M672.6 547.4h0M659.8 569.9h0M674.8 544.3h0M648.0 574.9h0M667.9 552.3h0M666.5 570.5h0M671.7 561.9h0M659.8 564.8h0M662.6 565.9h0M659.2 543.6h0M652.2 571.4h0M667.2 584.2h0M657.5 586.1h0M654.9 563.2h0M647.7 579.6h0M658.2 597.7h0M661.4 558.1h0M656.9 548.2h0M655.8 563.3h0M670.0 573.8h0M657.6 578.0h0M659.3 544.5h0M670.1 578.8h0M660.0 554.2h0M660.3 562.2h0M656.8 566.4h0M676.9 569.1h0M652.1 566.1h0M677.7 566.7h0M646.7 572.5h0M656.8 570.7h0M663.0 569.2h0M654.4 558.8h0M648.9 598.9h0M645.9 575.6h0M668.9 558.8h0M640.2 579.8h0M658.0 557.2h0M657.5 565.0h0M659.0 544.4h0M666.7 564.2h0M653.8 555.8h0M669.9 568.1h0M654.9 560.4h0M670.1 550.8h0M659.1 555.4h0M665.5 569.4h0M646.0 570.5h0M650.9 570.8h0M665.9 567.7h0M657.1 562.6h0M659.1 563.0h0M659.9 562.8h0M659.7 555.8h0M656.9 563.8h0M673.8 555.2h0M637.1 550.4h0M668.7 561.6h0M636.9 556.6h0M650.5 577.2h0M648.5 556.7h0M659.0 577.2h0M653.8 562.8h0M643.8 585.9h0M653.8 568.6h0M654.9 563.0h0M656.5 561.5h0M658.1 570.1h0M638.5 579.3h0M658.3 560.6h0M640.9 567.5h0M670.5 578.8h0M662.5 571.6h0M661.0 563.0h0M661.2 555.0h0M669.4 576.6h0M642.4 539.7h0M652.0 562.9h0M657.2 567.3h0M667.4 559.8h0M651.5 562.3h0M648.8 551.7h0M643.7 568.7h0M698.9 551.7h0M630.7 562.8h0M667.6 552.6h0M648.8 573.3h0M655.1 556.5h0M669.0 570.3h0M668.4 547.1h0M655.5 576.1h0M682.0 553.3h0M639.5 558.1h0M635.8 583.8h0M660.8 570.6h0M656.1 547.1h0M677.8 558.4h0M646.2 568.9h0M656.7 550.6h0M650.4 565.9h0M658.3 563.4h0M657.8 559.0h0M656.0 564.1h0M656.5 564.4h0M640.4 546.4h0M657.9 563.0h0M658.8 561.4h0M665.7 563.7h0M665.8 567.4h0M659.6 564.3h0M653.1 565.4h0M658.7 566.3h0M667.6 549.6h0M660.3 578.4h0M658.5 562.9h0M591.1 503.0h0M585.4 537.0h0M570.0 583.2h0M735.2 524.4h0M709.7 523.7h0M718.5 531.9h0M680.7 636.7h0M661.2 628.5h0M658.1 618.5h0M610.9 605.9h0M618.4 607.4h0" stroke="#000030" stroke-width="2.74" stroke-linecap="round" fill="none"/><path d="M673.9 600.0h0M637.0 577.2h0M661.2 563.1h0M679.5 576.2h0M664.8 568.0h0M648.3 568.7h0M659.8 562.5h0M641.7 568.5h0M661.6 572.4h0M638.1 543.6h0M651.5 548.9h0M647.5 566.4h0M691.8 572.3h0M652.6 577.5h0M655.5 556.9h0M658.6 566.3h0M662.0 556.7h0M659.3 553.7h0M662.5 564.8h0M644.7 557.8h0M648.7 563.3h0M653.7 549.7h0M707.6 550.9h0M667.9 530.2h0M660.4 558.5h0M656.8 551.3h0M661.1 561.3h0M656.5 569.1h0M626.9 551.0h0M663.2 585.4h0M657.9 585.4h0M647.2 557.7h0M662.5 562.7h0M669.3 565.9h0M651.7 558.3h0M660.2 567.2h0M650.1 589.6h0M648.8 560.8h0M666.8 577.2h0M647.3 546.5h0M662.1 565.7h0M656.3 562.5h0M663.6 563.6h0M662.8 577.4h0M661.5 564.2h0M642.5 546.0h0M652.5 601.0h0M660.9 563.7h0M659.4 572.1h0M671.0 560.4h0M653.4 568.4h0M644.2 558.1h0M661.0 551.5h0M676.7 562.0h0M663.8 574.5h0M656.6 573.3h0M654.4 583.7h0M628.0 571.1h0M657.2 580.1h0M655.0 563.0h0M654.9 583.3h0M659.9 567.9h0M654.2 556.6h0M653.4 564.1h0M649.2 550.8h0M673.1 558.6h0M637.8 560.7h0M664.0 566.9h0M653.5 586.4h0M650.8 561.2h0M679.4 555.0h0M676.5 579.8h0M660.1 575.1h0M663.1 562.2h0M652.1 562.3h0M659.1 564.3h0M666.0 563.2h0M651.4 574.0h0M653.8 571.1h0M660.2 586.6h0M656.6 565.2h0M664.7 561.9h0M665.4 549.6h0M649.2 564.6h0M658.4 568.7h0M662.7 562.9h0M656.5 562.3h0M678.6 567.4h0M647.2 560.6h0M643.1 549.8h0M657.9 558.6h0M677.6 560.3h0M633.1 592.5h0M658.0 563.8h0M659.2 563.3h0M669.4 564.9h0M654.2 567.5h0M664.8 563.4h0M634.1 569.0h0M660.2 549.5h0M657.8 557.0h0M671.3 577.0h0M659.4 597.6h0M671.9 547.4h0M661.3 565.1h0M649.6 541.2h0M656.4 568.5h0M668.7 559.7h0M662.7 565.2h0M661.9 566.1h0M664.7 602.4h0M681.3 560.0h0M667.2 553.7h0M652.2 569.1h0M657.6 552.2h0M662.8 563.0h0M651.0 554.2h0M638.5 580.7h0M654.5 568.2h0M628.9 599.3h0M658.1 566.9h0M641.6 558.1h0M683.5 593.2h0M658.1 576.5h0M651.7 561.8h0M662.8 568.1h0M654.5 564.5h0M669.7 562.1h0M658.1 563.6h0M649.4 565.6h0M649.9 540.2h0M656.7 566.1h0M667.7 571.9h0M659.5 562.8h0M643.4 551.9h0M661.8 550.2h0M664.3 565.5h0M650.2 564.3h0M654.6 589.4h0M653.6 572.5h0M646.0 572.9h0M653.2 562.6h0M663.2 569.0h0M661.2 553.7h0M667.9 588.7h0M619.7 552.6h0M645.0 565.5h0M648.0 567.7h0M652.6 573.4h0M641.5 548.5h0M672.1 564.0h0M655.4 550.1h0M663.4 581.5h0M651.6 562.2h0M646.9 592.6h0M658.1 562.9h0M668.1 564.2h0M647.3 562.5h0M666.5 575.8h0M650.4 564.6h0M663.3 560.9h0M651.3 566.9h0M658.8 579.4h0M625.7 550.0h0M675.7 553.3h0M660.0 566.4h0M659.0 558.9h0M626.9 553.6h0M681.7 576.3h0M644.6 565.7h0M652.3 555.9h0M648.6 563.5h0M654.0 569.1h0M643.4 557.9h0M656.8 585.3h0M655.9 564.1h0M662.7 566.1h0M650.4 559.0h0M646.9 566.4h0M650.5 540.9h0M659.2 563.4h0M648.7 543.4h0M654.5 542.0h0M666.0 576.6h0M669.1 568.9h0M671.3 572.0h0M677.6 546.4h0M640.3 570.0h0M662.6 545.9h0M641.3 561.9h0M666.9 540.8h0M681.7 563.4h0M653.0 563.2h0M657.3 560.3h0M649.4 572.8h0M666.4 573.4h0M667.5 577.2h0M665.2 562.3h0M663.4 562.2h0M674.5 563.3h0M678.3 560.9h0M655.0 569.8h0M683.3 579.0h0M660.8 567.3h0M670.5 576.1h0M655.6 561.4h0M674.8 595.6h0M660.4 555.3h0M635.6 560.5h0M669.3 562.3h0M659.6 560.0h0M655.6 563.1h0M663.9 564.5h0M654.4 555.7h0M663.4 564.7h0M671.1 554.3h0M661.1 559.1h0M654.6 563.6h0M649.0 563.4h0M656.7 571.4h0M638.0 547.8h0M673.3 556.0h0M641.7 557.6h0M654.2 562.8h0M655.2 563.4h0M669.0 557.6h0M629.9 575.9h0M631.3 570.4h0M634.3 555.7h0M656.9 569.7h0M659.7 557.5h0M674.4 577.1h0M643.2 546.2h0M681.7 568.0h0M673.4 591.9h0M667.6 561.8h0M676.8 593.3h0M671.8 608.4h0M658.3 560.2h0M658.4 558.2h0M668.5 563.1h0M658.4 582.9h0M656.1 557.8h0M652.0 559.4h0M642.7 572.4h0M656.6 562.5h0M626.6 522.6h0M652.8 566.0h0M654.9 563.5h0M641.0 552.7h0M656.8 559.9h0M653.2 558.0h0M666.2 548.5h0M658.6 564.1h0M670.8 562.1h0M647.3 594.9h0M637.0 564.1h0M644.1 575.8h0M686.0 558.8h0M653.3 563.5h0M667.7 593.8h0M658.0 563.3h0M650.1 569.5h0M653.4 553.5h0M671.1 562.2h0M671.6 560.5h0M658.4 564.4h0M669.5 570.1h0M647.2 577.4h0M666.1 576.1h0M652.4 557.9h0M665.3 550.0h0M629.5 556.3h0M665.1 559.3h0M659.0 560.9h0M665.7 564.5h0M654.0 559.8h0M670.9 533.9h0M662.6 565.0h0M670.0 565.3h0M663.1 562.3h0M656.5 553.9h0M657.6 565.1h0M659.2 570.9h0M663.9 569.2h0M660.2 565.1h0M661.0 554.0h0M653.2 567.5h0M668.8 569.2h0M660.9 569.4h0M644.8 557.8h0M656.9 570.6h0M625.2 560.9h0M665.2 583.2h0M655.9 552.2h0M656.8 576.2h0M640.3 559.9h0M663.4 535.1h0M662.6 570.3h0M668.1 565.5h0M654.0 558.6h0M652.8 540.7h0M639.5 558.4h0M643.0 566.4h0M685.3 570.1h0M648.1 550.2h0M653.1 556.1h0M640.0 560.1h0M663.3 569.7h0M652.6 574.7h0M669.8 549.8h0M659.5 560.5h0M669.5 592.7h0M656.7 546.6h0M651.1 552.7h0M665.3 580.3h0M655.6 566.2h0M648.7 563.6h0M674.5 563.7h0M635.8 549.0h0M663.6 589.8h0M671.5 560.8h0M655.5 569.9h0M667.0 563.1h0M666.2 568.8h0M650.9 570.8h0M658.3 572.5h0M674.9 540.9h0M657.6 561.5h0M682.8 583.8h0M634.8 565.4h0M665.4 557.1h0M649.8 562.2h0M648.6 572.9h0M608.8 559.0h0M657.9 563.2h0M662.1 570.4h0M671.4 552.7h0M643.2 568.2h0M651.5 556.0h0M648.2 552.7h0M657.7 565.4h0M658.9 574.0h0M657.0 575.5h0M652.7 567.8h0M651.7 563.6h0M667.3 569.8h0M653.8 559.8h0M654.9 571.9h0M664.6 553.5h0M659.1 571.0h0M650.2 560.5h0M660.0 548.0h0M653.9 557.0h0M656.1 573.1h0M658.7 577.9h0M619.2 566.0h0M647.9 560.4h0M661.1 569.5h0M640.6 562.3h0M652.9 570.4h0M664.2 542.6h0M652.1 557.6h0M656.1 565.4h0M658.9 564.1h0M653.3 554.6h0M651.1 565.5h0M676.4 570.9h0M673.6 560.0h0M668.9 577.4h0M647.6 576.4h0M651.0 563.2h0M685.9 562.3h0M647.1 565.3h0M667.7 577.8h0M639.6 574.4h0M651.2 558.6h0M655.8 567.3h0M634.8 557.1h0M661.6 565.2h0M651.2 568.4h0M647.0 584.0h0M657.7 559.1h0M660.0 558.7h0M638.5 574.9h0M657.2 546.0h0M659.8 570.9h0M661.8 563.1h0M661.1 562.4h0M663.1 572.5h0M656.4 565.8h0M659.0 563.1h0M644.7 559.0h0M664.7 561.3h0M648.7 563.3h0M639.7 576.9h0M677.9 559.5h0M659.1 552.6h0M656.2 554.7h0M640.9 589.3h0M640.0 566.4h0M667.5 576.5h0M650.9 562.7h0M658.8 569.3h0M654.6 575.5h0M656.3 560.4h0M662.5 571.4h0M652.9 570.7h0M648.9 563.1h0M684.9 560.6h0M644.3 577.8h0M649.4 564.7h0M670.7 570.7h0M656.1 564.6h0M652.3 588.7h0M655.4 568.6h0M644.8 556.3h0M661.4 574.8h0M652.6 570.7h0M666.4 561.0h0M656.1 563.0h0M653.8 545.0h0M667.2 557.1h0M662.7 560.7h0M658.1 558.2h0M663.3 570.7h0M642.5 561.0h0M652.0 543.4h0M658.8 536.8h0M658.9 557.3h0M672.9 560.5h0M640.6 551.0h0M659.1 554.9h0M633.8 527.0h0M666.2 576.1h0M658.9 563.1h0M648.6 580.9h0M689.3 565.9h0M647.2 534.0h0M657.0 558.6h0M651.1 564.2h0M660.1 567.8h0M651.8 566.7h0M661.2 571.8h0M653.9 574.0h0M658.7 564.9h0M651.8 551.4h0M658.8 566.2h0M671.8 538.1h0M650.1 572.8h0M651.4 543.2h0M647.3 556.3h0M658.0 571.0h0M648.5 556.5h0M659.6 566.1h0M664.1 566.9h0M642.0 558.5h0M649.3 558.7h0M684.5 545.5h0M640.0 556.7h0M657.3 558.3h0M665.1 556.8h0M651.2 552.9h0M664.3 554.2h0M651.0 562.3h0M650.3 565.6h0M667.9 558.1h0M649.1 530.2h0M664.1 588.5h0M659.8 569.8h0M661.5 568.6h0M656.6 562.9h0M664.6 559.0h0M647.5 554.3h0M660.5 576.5h0M654.5 563.3h0M655.9 567.9h0M656.7 562.6h0M680.8 549.5h0M663.4 541.9h0M659.2 570.8h0M637.9 568.2h0M648.6 558.0h0M675.0 582.1h0M639.1 557.7h0M660.2 525.9h0M640.4 556.3h0M650.7 576.7h0M655.6 573.3h0M651.9 561.4h0M655.3 551.5h0M660.6 561.7h0M660.3 563.8h0M661.1 559.6h0M655.5 566.8h0M642.3 571.4h0M675.5 571.3h0M659.8 552.1h0M676.4 566.7h0M662.4 559.3h0M644.0 575.2h0M629.5 567.9h0M656.6 583.8h0M646.7 558.3h0M649.7 571.1h0M636.9 544.3h0M664.4 560.0h0M668.7 541.9h0M657.2 564.7h0M664.9 542.1h0M660.3 568.2h0M622.1 549.8h0M641.8 567.9h0M658.0 557.9h0M660.9 576.9h0M653.6 557.6h0M655.9 569.1h0M655.4 592.0h0M654.5 552.5h0M661.0 564.7h0M668.1 582.3h0M664.7 565.8h0M642.2 541.7h0M664.9 559.2h0M644.0 553.7h0M672.5 578.6h0M651.3 551.0h0M661.4 576.4h0M660.6 535.7h0M661.5 567.3h0M656.3 568.7h0M668.1 553.8h0M655.7 566.8h0M650.2 556.3h0M654.3 562.8h0M655.2 555.9h0M659.1 561.5h0M638.8 591.1h0M660.9 561.2h0M657.2 540.8h0M636.6 535.6h0M664.2 532.1h0M653.9 568.1h0M646.8 570.1h0M652.0 559.6h0M655.7 563.1h0M664.0 570.7h0M657.2 560.7h0M664.4 582.5h0M655.2 559.0h0M668.5 569.6h0M667.3 559.9h0M662.5 554.8h0M660.0 576.8h0M658.5 561.1h0M666.2 566.5h0M656.7 551.4h0M679.6 558.6h0M642.0 552.7h0M656.4 569.5h0M654.9 560.5h0M641.6 571.1h0M648.8 568.8h0M642.7 560.9h0M660.1 564.1h0M659.8 550.0h0M657.6 550.7h0M654.1 563.8h0M654.0 567.7h0M652.9 565.2h0M657.8 567.6h0M653.8 546.9h0M652.3 571.3h0M684.0 549.9h0M629.2 566.9h0M656.9 566.6h0M634.5 539.1h0M638.5 540.8h0M642.2 563.6h0M650.6 566.5h0M653.8 571.3h0M645.5 563.6h0M655.4 572.4h0M653.5 582.3h0M651.3 560.5h0M609.4 575.1h0M644.7 557.0h0M660.2 566.1h0M642.7 546.8h0M659.5 563.7h0M664.1 585.1h0M658.1 568.0h0M659.3 542.8h0M646.8 570.7h0M652.2 562.8h0M659.7 592.6h0M655.7 556.2h0M671.2 561.2h0M658.9 573.3h0M649.3 562.8h0M663.1 553.4h0M647.5 562.7h0M659.6 558.1h0M659.4 560.1h0M655.1 565.0h0M661.3 558.3h0M651.2 561.3h0M655.8 566.0h0M648.4 564.0h0M652.1 547.7h0M670.0 556.3h0M649.2 568.7h0M664.7 573.6h0M660.3 561.4h0M662.0 567.1h0M654.1 553.7h0M662.9 564.2h0M658.1 575.6h0M648.7 550.0h0M648.8 562.8h0M659.0 570.6h0M652.7 573.1h0M664.2 539.8h0M662.0 555.0h0M667.1 558.5h0M661.7 558.6h0M655.0 569.7h0M651.7 581.7h0M655.3 548.3h0M671.5 557.7h0M655.8 555.7h0M646.8 568.6h0M668.5 551.9h0M652.0 564.0h0M654.5 567.5h0M655.7 573.1h0M659.6 573.1h0M662.8 568.9h0M671.3 565.3h0M658.3 599.5h0M647.0 547.8h0M645.0 566.2h0M650.6 567.2h0M675.5 559.6h0M663.4 564.1h0M664.0 559.0h0M658.3 559.1h0M670.9 563.3h0M657.2 554.4h0M649.7 533.2h0M679.1 604.3h0M663.6 561.9h0M654.7 571.8h0M681.6 561.7h0M665.5 578.1h0M652.9 562.8h0M668.5 557.4h0M639.4 578.0h0M668.5 570.8h0M656.4 564.4h0M637.6 528.5h0M642.3 555.0h0M635.9 568.1h0M654.6 564.6h0M659.1 557.3h0M672.0 572.5h0M647.7 531.0h0M658.1 563.6h0M660.9 538.8h0M653.8 566.3h0M667.5 569.1h0M655.4 549.2h0M663.3 552.8h0M651.8 560.6h0M680.1 568.0h0M661.8 558.2h0M639.8 555.7h0M654.3 555.6h0M659.0 567.4h0M684.7 531.7h0M673.8 566.4h0M664.4 566.4h0M641.8 563.9h0M658.7 558.7h0M640.3 572.0h0M658.9 573.7h0M654.6 567.5h0M660.3 539.1h0M657.2 566.0h0M684.0 566.3h0M660.3 548.1h0M647.3 551.3h0M663.2 557.9h0M659.1 570.8h0M648.7 573.3h0M659.6 569.5h0M659.6 589.3h0M659.4 563.5h0M622.6 540.6h0M647.5 574.8h0M666.2 550.6h0M649.4 566.2h0M654.9 563.2h0M654.2 554.8h0M668.7 539.0h0M677.6 563.6h0M661.1 602.7h0M677.2 527.1h0M653.8 562.3h0M663.8 561.6h0M652.4 561.2h0M657.5 564.1h0M658.6 560.5h0M660.6 562.1h0M625.4 586.8h0M667.7 541.1h0M658.0 545.3h0M666.5 563.6h0M665.0 562.2h0M667.7 572.3h0M651.6 577.9h0M636.8 569.3h0M662.4 574.1h0M665.7 567.0h0M657.1 556.4h0M646.1 562.5h0M662.1 557.1h0M661.8 554.6h0M635.2 600.3h0M657.9 560.9h0M647.6 546.8h0M661.4 560.0h0M664.0 561.5h0M659.8 573.7h0M647.0 553.0h0M661.7 564.1h0M659.1 554.3h0M670.5 567.0h0M662.5 554.9h0M672.3 567.1h0M653.7 565.1h0M664.3 565.7h0M657.4 571.6h0M644.6 561.8h0M663.9 563.0h0M656.2 566.2h0M657.4 560.3h0M666.6 559.5h0M638.4 551.6h0M657.0 566.6h0M623.3 570.7h0M672.0 555.0h0M657.3 560.6h0M675.7 560.0h0M659.3 565.2h0M663.8 565.6h0M665.6 535.1h0M661.8 545.8h0M660.3 564.8h0M644.9 561.1h0M669.4 519.6h0M655.0 564.6h0M683.0 564.6h0M655.5 563.0h0M667.3 555.1h0M648.7 551.3h0M626.5 535.2h0M653.0 560.4h0M682.1 569.5h0M661.2 569.4h0M662.8 570.4h0M663.9 559.3h0M667.9 563.4h0M657.0 587.9h0M656.7 564.3h0M668.0 582.1h0M648.0 578.8h0M660.2 552.6h0M674.9 577.8h0M657.6 550.3h0M645.7 561.0h0M655.9 565.4h0M673.3 572.1h0M645.3 573.6h0M661.4 567.3h0M672.6 547.4h0M659.8 569.9h0M674.8 544.3h0M648.0 574.9h0M667.9 552.3h0M666.5 570.5h0M671.7 561.9h0M659.8 564.8h0M662.6 565.9h0M659.2 543.6h0M652.2 571.4h0M667.2 584.2h0M657.5 586.1h0M654.9 563.2h0M647.7 579.6h0M658.2 597.7h0M661.4 558.1h0M656.9 548.2h0M655.8 563.3h0M670.0 573.8h0M657.6 578.0h0M659.3 544.5h0M670.1 578.8h0M660.0 554.2h0M660.3 562.2h0M656.8 566.4h0M676.9 569.1h0M652.1 566.1h0M677.7 566.7h0M646.7 572.5h0M656.8 570.7h0M663.0 569.2h0M654.4 558.8h0M648.9 598.9h0M645.9 575.6h0M668.9 558.8h0M640.2 579.8h0M658.0 557.2h0M657.5 565.0h0M659.0 544.4h0M666.7 564.2h0M653.8 555.8h0M669.9 568.1h0M654.9 560.4h0M670.1 550.8h0M659.1 555.4h0M665.5 569.4h0M646.0 570.5h0M650.9 570.8h0M665.9 567.7h0M657.1 562.6h0M659.1 563.0h0M659.9 562.8h0M659.7 555.8h0M656.9 563.8h0M673.8 555.2h0M637.1 550.4h0M668.7 561.6h0M636.9 556.6h0M650.5 577.2h0M648.5 556.7h0M659.0 577.2h0M653.8 562.8h0M643.8 585.9h0M653.8 568.6h0M654.9 563.0h0M656.5 561.5h0M658.1 570.1h0M638.5 579.3h0M658.3 560.6h0M640.9 567.5h0M670.5 578.8h0M662.5 571.6h0M661.0 563.0h0M661.2 555.0h0M669.4 576.6h0M642.4 539.7h0M652.0 562.9h0M657.2 567.3h0M667.4 559.8h0M651.5 562.3h0M648.8 551.7h0M643.7 568.7h0M698.9 551.7h0M630.7 562.8h0M667.6 552.6h0M648.8 573.3h0M655.1 556.5h0M669.0 570.3h0M668.4 547.1h0M655.5 576.1h0M682.0 553.3h0M639.5 558.1h0M635.8 583.8h0M660.8 570.6h0M656.1 547.1h0M677.8 558.4h0M646.2 568.9h0M656.7 550.6h0M650.4 565.9h0M658.3 563.4h0M657.8 559.0h0M656.0 564.1h0M656.5 564.4h0M640.4 546.4h0M657.9 563.0h0M658.8 561.4h0M665.7 563.7h0M665.8 567.4h0M659.6 564.3h0M653.1 565.4h0M658.7 566.3h0M667.6 549.6h0M660.3 578.4h0M658.5 562.9h0M591.1 503.0h0M585.4 537.0h0M570.0 583.2h0M735.2 524.4h0M709.7 523.7h0M718.5 531.9h0M680.7 636.7h0M661.2 628.5h0M658.1 618.5h0M610.9 605.9h0M618.4 607.4h0" stroke="#00008b" stroke-width="2.24" stroke-linecap="round" fill="none"/><text x="558.0" y="645.0" font-size="6.6" text-anchor="middle">&minus;5</text><text x="575.3" y="652.2" font-size="6.6" text-anchor="middle">0</text><text x="593.3" y="660.1" font-size="6.6" text-anchor="middle">5</text><text x="641.4" y="667.3" font-size="6.6" text-anchor="middle">&minus;40</text><text x="656.5" y="665.4" font-size="6.6" text-anchor="middle">&minus;30</text><text x="671.9" y="663.2" font-size="6.6" text-anchor="middle">&minus;20</text><text x="687.0" y="661.7" font-size="6.6" text-anchor="middle">&minus;10</text><text x="701.8" y="659.5" font-size="6.6" text-anchor="middle">0</text><text x="716.3" y="657.9" font-size="6.6" text-anchor="middle">10</text><text x="731.1" y="655.7" font-size="6.6" text-anchor="middle">20</text><text x="745.3" y="653.8" font-size="6.6" text-anchor="middle">30</text><text x="765.7" y="516.3" font-size="6.6" text-anchor="middle">40</text><text x="765.7" y="546.2" font-size="6.6" text-anchor="middle">20</text><text x="765.7" y="576.1" font-size="6.6" text-anchor="middle">0</text><text x="765.7" y="606.0" font-size="6.6" text-anchor="middle">&minus;20</text><text x="765.7" y="635.5" font-size="6.6" text-anchor="middle">&minus;40</text><path d="M753.0 513.7l2.2 0.5M752.5 543.6l2.2 0.5M752.1 573.5l2.2 0.5M751.6 603.4l2.2 0.5M751.1 632.9l2.2 0.5" stroke="#333" stroke-width="0.5" fill="none"/><text x="774.5" y="572.9" font-size="6.6" text-anchor="middle">Z</text><text x="570.0" y="660.7" font-size="6.6" text-anchor="middle">X</text><text x="695.5" y="668.0" font-size="6.6" text-anchor="middle">Y</text></svg>
<div class="b" style="left:77.3px;top:581.9px;width:369.7px;line-height:12.89px;font-size:12.00px;">
<div style="padding-left:10px;letter-spacing:0.61px"><span class="sc">Fig.</span> 2.&mdash; Top: H<i>&beta;</i> spectra in velocity units for each epoch in the</div>
<div style="letter-spacing:0.66px">light curve for data, left panel, and model, right panel. Dark red</div>
<div style="letter-spacing:0.56px">corresponds to the highest levels of flux and dark blue corresponds</div>
<div style="letter-spacing:0.51px">to the lowest levels, where the same color scale is used for the data</div>
<div style="letter-spacing:0.64px">and model. Middle: integrated H<i>&beta;</i> flux for each epoch in the light</div>
<div style="letter-spacing:0.66px">curve for the data, blue solid line with errorbars, and model, red</div>
<div style="letter-spacing:0.66px">dashed line. As an illustration of the range of solutions, we show</div>
<div style="letter-spacing:0.52px">light curves for five acceptable models as dotted gray lines. For the</div>
<div style="letter-spacing:0.66px">correct time separation between light curve epochs, see Figure 1.</div>
<div style="letter-spacing:0.66px">The model is able to reproduce the major features of the data.</div>
<div style="letter-spacing:0.66px">Bottom: two examples of H<i>&beta;</i> spectra fit by the model, with data</div>
<div style="letter-spacing:0.66px">shown by blue and green errorbars and model fits shown by red</div>
<div class="e" style="word-spacing:1.25px;letter-spacing:0.62px">lines.</div>
</div>
<div class="b" style="left:481.1px;top:676.1px;width:369.7px;line-height:12.87px;font-size:12.00px;">
<div style="padding-left:10px;letter-spacing:0.66px"><span class="sc">Fig.</span> 3.&mdash; Geometry of the BLR for three models, with the <i>x</i>, <i>y</i>,</div>
<div style="letter-spacing:0.49px">and <i>z</i> axis scales in light days and the observer&rsquo;s line of sight along</div>
<div style="letter-spacing:0.66px">the <i>x</i>-axis. The top panel BLR distribution is a close to face-on</div>
<div style="letter-spacing:0.66px">torus of clouds, the middle BLR distribution is a close to face-on</div>
<div style="letter-spacing:0.55px">disk of clouds similar to the geometry inferred for Mrk 50, and the</div>
<div class="e" style="word-spacing:1.25px;letter-spacing:0.62px">bottom BLR distribution is a dense sphere of clouds.</div>
</div>
<div class="b" style="left:77.3px;top:795.4px;width:369.7px;line-height:16.28px;font-size:15.00px;">
<div style="letter-spacing:0.74px">to compute mock data for comparison with the actual</div>
<div style="letter-spacing:0.74px">data.&nbsp; The observed continuum light curve is interpo-</div>
<div style="letter-spacing:0.72px">lated using Gaussian Processes to create a continuous</div>
<div style="letter-spacing:0.54px">light curve and to account for the uncertainty in the in-</div>
<div style="letter-spacing:0.57px">terpolation.&nbsp; Gaussian Processes have been found to be</div>
<div style="letter-spacing:0.73px">a good model for larger samples of AGN light curves</div>
<div style="letter-spacing:0.35px">(Kelly et al. 2009; Koz&#322;owski et al. 2010; MacLeod et al.</div>
<div class="e" style="word-spacing:0.93px;letter-spacing:0.46px">2010; Zu et al. 2011, 2012).</div>
<div style="padding-left:14px;letter-spacing:0.63px">The model for the BLR geometry is simple yet flex-</div>
<div style="letter-spacing:0.50px">ible, allowing for disk-like or spherical geometries with</div>
<div style="letter-spacing:0.56px">asymmetric illumination of the gas. Examples of possi-</div>
<div style="letter-spacing:0.54px">ble BLR geometries are shown in Figure 3.&nbsp; The model</div>
<div style="letter-spacing:0.45px">for the spatial distribution of the BLR gas is first gener-</div>
<div style="letter-spacing:0.51px">ated from an axisymmetric 2-D configuration in the <i>x</i>-<i>y</i></div>
<div style="letter-spacing:0.59px">plane, with a parameterized radial profile. The radius <i>r</i></div>
<div style="letter-spacing:0.46px">of a cloud from the origin is generated as follows. First,</div>
<div style="letter-spacing:0.67px">a variable <i>g</i> is drawn from a Gamma distribution with</div>
<div class="e" style="word-spacing:0.93px;letter-spacing:0.46px">shape parameter <i>&alpha;</i> and scale parameter 1:</div>
</div>
<div class="ln" style="left:224.0px;top:1096.4px;width:76.0px;line-height:18.00px;font-size:15.00px;letter-spacing:0.40px;"><i>g</i> &sim; &Gamma; (<i>&alpha;</i>, 1)</div>
<div class="ln r" style="left:420.0px;top:1096.4px;width:27.0px;line-height:18.00px;font-size:15.00px;">(1)</div>
<div class="b" style="left:77.3px;top:1122.2px;width:369.7px;line-height:16.28px;font-size:15.00px;">
<div style="letter-spacing:0.49px">Then, the radius <i>r</i> of the cloud is computed by applying</div>
</div>
<div class="b" style="left:481.1px;top:809.8px;width:369.7px;line-height:16.28px;font-size:15.00px;">
<div class="e" style="word-spacing:0.93px;letter-spacing:0.46px">the following linear transformation to <i>g</i>:</div>
</div>
<div class="ln" style="left:597.6px;top:845.8px;width:64.0px;line-height:18.00px;font-size:15.00px;letter-spacing:0.40px;"><i>r</i> = <i>F&mu;</i> +</div>
<div class="ln" style="left:664.2px;top:834.4px;width:62.1px;line-height:18.00px;font-size:15.00px;letter-spacing:0.30px;"><i>&mu;</i> (1 &minus; <i>F</i>)</div>
<div style="position:absolute;left:664.2px;top:853.1px;width:62.1px;height:0;border-top:0.9px solid #1a1a1a"></div>
<div class="ln c" style="left:689.0px;top:856.8px;width:12.0px;line-height:18.00px;font-size:15.00px;"><i>&alpha;</i></div>
<div class="ln l" style="left:727.6px;top:845.8px;width:10.0px;line-height:18.00px;font-size:15.00px;"><i>g</i></div>
<div class="ln r" style="left:824.0px;top:845.8px;width:27.0px;line-height:18.00px;font-size:15.00px;">(2)</div>
<div class="b" style="left:481.1px;top:878.0px;width:369.7px;line-height:16.28px;font-size:15.00px;">
<div style="letter-spacing:0.42px">The parameters {<i>&mu;, F, &alpha;</i>} control the radial profile of the</div>
<div style="letter-spacing:0.54px">BLR. <i>&mu;</i> is the overall mean radius of the BLR (this can</div>
<div style="letter-spacing:0.44px">be verified by taking the expectation value of <i>r</i> in Equa-</div>
<div style="letter-spacing:0.67px">tion 2).&nbsp; The parameter <i>F</i> &isin; [0, 1] allows for the pos-</div>
<div style="letter-spacing:0.65px">sible existence of a hard lower limit <i>F&mu;</i> on radius, be-</div>
<div style="letter-spacing:0.76px">cause there may be some radius interior to which the</div>
<div style="letter-spacing:0.35px">BLR gas would all be ionized and thus unable to respond</div>
<div style="letter-spacing:0.57px">to changes in the continuum emission (Korista &amp; Goad</div>
<div style="letter-spacing:0.45px">2004). <i>&alpha;</i> controls the shape of the gamma distribution: a</div>
<div style="letter-spacing:0.41px">value of <i>&alpha;</i> close to 1 imposes an exponential distribution</div>
<div style="letter-spacing:0.41px">(allowing for disk or ball configurations) , whereas large</div>
<div style="letter-spacing:0.37px">values of <i>&alpha;</i> create a narrow normal distribution (allowing</div>
<div style="letter-spacing:0.52px">for shell or ring configurations). In the implementation,</div>
<div style="letter-spacing:0.45px">and in the description of the same model in B11, we pa-</div>
<div style="letter-spacing:0.66px">rameterise the shape by <i>&beta;</i> = 1/&radic;<span style="border-top:0.8px solid #1a1a1a"><i>&alpha;</i></span> instead of <i>&alpha;</i> because</div>
<div style="letter-spacing:0.66px"><i>&beta;</i> has a simple interpretation as the standard deviation</div>
</div>
</div>
<div class="pg" style="left:2781px">
<div class="ln l" style="left:82.0px;top:64.7px;width:20.0px;line-height:18.00px;font-size:15.00px;">4</div>
<div class="ln" style="left:421.4px;top:64.7px;width:97.6px;line-height:18.00px;font-size:15.00px;letter-spacing:0.60px;">Pancoast et al.</div>
<svg style="left:0;top:0" width="927" height="1200" viewBox="0 0 927 1200"><path d="M285.2 269.3h0M275.2 254.3h0M263.6 274.3h0M248.3 230.8h0M250.7 236.3h0M250.1 244.5h0M240.2 219.2h0M280.1 263.4h0M225.6 212.4h0M293.0 263.5h0M287.5 268.7h0M235.2 216.7h0M258.5 248.2h0M253.1 258.5h0M239.0 221.0h0M294.1 273.6h0M247.5 250.2h0M248.9 253.5h0M319.1 280.5h0M263.2 246.5h0M260.7 257.7h0M285.4 264.0h0M284.5 256.0h0M259.3 245.2h0M258.9 266.1h0M288.1 274.2h0M306.9 281.2h0M271.7 252.2h0M243.9 222.8h0M219.3 195.2h0M219.2 199.2h0M300.9 268.5h0M221.0 199.7h0M323.7 277.7h0M275.4 254.4h0M232.9 235.8h0M256.3 232.3h0M266.6 252.8h0M267.0 245.0h0M260.7 254.8h0M279.0 260.2h0M283.5 269.3h0M254.6 252.4h0M263.8 257.2h0M281.2 263.5h0M305.7 272.2h0M297.1 292.9h0M244.4 234.5h0M228.7 204.1h0M325.9 280.4h0M309.8 266.8h0M281.1 259.4h0M220.6 201.0h0M269.5 251.2h0M282.2 259.5h0M260.3 241.4h0M278.1 253.6h0M245.8 229.9h0M276.6 257.0h0M238.0 223.1h0M258.6 256.9h0M286.0 266.9h0M252.1 250.4h0M272.9 256.5h0M227.8 226.0h0M241.6 226.5h0M305.5 281.4h0M234.2 222.3h0M238.7 230.3h0M266.9 248.2h0M309.0 274.5h0M281.0 259.3h0M237.1 220.9h0M218.3 193.8h0M315.7 274.7h0M252.2 248.9h0M269.5 270.0h0M304.8 272.9h0M286.1 260.5h0M231.2 211.2h0M255.6 254.8h0M274.6 251.8h0M310.0 284.2h0M228.0 211.5h0M282.9 253.8h0M278.8 254.3h0M273.7 253.8h0M275.1 246.9h0M268.9 252.1h0M236.1 222.9h0M293.3 263.7h0M260.3 263.3h0M280.9 262.0h0M239.6 217.0h0M286.7 266.8h0M243.2 226.9h0M272.2 260.7h0M273.4 256.2h0M251.9 246.8h0M304.3 275.4h0M297.0 267.0h0M291.4 261.2h0M246.5 232.2h0M282.8 273.2h0M258.7 241.9h0M232.9 221.1h0M274.7 276.1h0M238.8 220.5h0M284.5 255.9h0M261.5 245.5h0M294.4 263.8h0M235.3 226.8h0M308.7 272.0h0M256.6 244.3h0M252.4 232.5h0M284.9 261.5h0M254.5 244.7h0M255.1 237.9h0M276.8 260.7h0M302.1 282.4h0M251.1 232.8h0M319.0 294.0h0M282.3 265.7h0M283.9 259.2h0M298.7 281.3h0M248.1 234.9h0M267.0 247.0h0M230.6 226.3h0M320.9 276.5h0M254.2 255.6h0M233.9 213.6h0M316.4 295.5h0M276.0 259.9h0M219.6 194.5h0M256.5 242.4h0M313.3 268.9h0M272.6 259.2h0M242.8 227.9h0M227.0 208.4h0M279.2 259.0h0M261.8 246.0h0M222.6 211.0h0M220.7 203.3h0M250.2 230.7h0M287.1 261.1h0M279.1 257.0h0M306.7 286.5h0M251.9 239.7h0M244.5 232.5h0M257.1 246.6h0M292.1 284.4h0M258.8 252.7h0M286.5 258.7h0M285.0 255.5h0M261.8 261.2h0M299.6 264.9h0M252.2 239.9h0M235.5 223.1h0M257.8 249.7h0M258.8 250.6h0M225.1 201.8h0M266.9 247.4h0M240.9 217.1h0M239.5 223.7h0M266.5 246.3h0M280.1 275.2h0M261.9 260.5h0M246.6 230.8h0M296.7 268.5h0M283.6 253.5h0M286.4 262.6h0M250.6 239.4h0M278.8 257.0h0M267.2 248.6h0M276.7 257.1h0M222.9 207.4h0M223.3 207.9h0M296.1 275.1h0M230.1 208.0h0M260.0 271.2h0M278.6 262.7h0M286.7 285.5h0M259.1 246.4h0M242.5 233.5h0M252.1 234.6h0M215.2 183.0h0M262.4 244.7h0M285.4 266.2h0M243.7 230.4h0M289.3 258.6h0M254.9 239.7h0M264.4 249.2h0M269.3 245.4h0M242.0 218.0h0M230.2 209.9h0M264.6 251.6h0M216.2 193.8h0M295.5 271.6h0M252.5 240.5h0M244.0 228.0h0M226.9 202.0h0M265.4 265.2h0M290.6 259.7h0M293.0 275.5h0M340.1 285.7h0M262.5 248.2h0M251.3 240.3h0M274.7 255.7h0M301.5 266.1h0M250.7 234.6h0M250.7 228.8h0M311.4 275.6h0M247.4 244.3h0M297.5 269.7h0M251.3 235.4h0M307.0 275.1h0M258.8 242.0h0M266.2 245.5h0M283.2 279.2h0M285.1 264.6h0M228.2 216.6h0M273.9 255.3h0M254.4 242.8h0M239.7 223.6h0M252.9 237.8h0M283.7 267.0h0M269.5 255.6h0M273.0 251.7h0M259.4 237.6h0M284.7 264.0h0M278.7 261.6h0M270.5 249.7h0M284.1 267.3h0M271.1 258.1h0M262.3 239.5h0M283.9 260.9h0M282.9 257.3h0M304.4 274.6h0M274.6 252.1h0M242.3 226.4h0M281.9 259.3h0M289.7 268.8h0M224.6 216.2h0M285.1 280.9h0M302.8 269.8h0M269.1 249.7h0M252.2 236.4h0M284.3 257.7h0M221.8 196.7h0M249.0 240.1h0M276.5 251.6h0M295.8 266.2h0M243.9 228.0h0M311.7 280.5h0M300.1 274.3h0M276.4 253.3h0M268.1 249.3h0M224.4 227.2h0M281.9 256.4h0M225.3 220.2h0M265.5 246.3h0M280.4 263.4h0M275.2 262.6h0M273.3 252.0h0M280.0 260.1h0M287.2 278.4h0M279.5 252.8h0M258.6 247.0h0M281.8 261.2h0M233.1 236.6h0M256.8 245.5h0M307.5 276.3h0M247.5 244.7h0M247.9 237.1h0M220.7 198.7h0M270.6 247.1h0M271.5 250.3h0M251.3 242.2h0M255.3 238.6h0M274.1 258.2h0M259.2 242.8h0M246.9 227.1h0M280.2 250.1h0M312.0 283.6h0M246.0 228.3h0M213.4 191.8h0M258.2 246.4h0M273.7 281.1h0M286.6 261.3h0M266.8 250.0h0M338.2 291.6h0M258.3 237.4h0M290.2 262.7h0M318.0 280.5h0M241.5 226.2h0M239.8 221.5h0M279.2 267.1h0M274.5 255.8h0M281.3 254.7h0M263.5 247.8h0M360.8 291.0h0M267.2 279.1h0M214.3 192.3h0M229.0 207.7h0M248.8 237.0h0M256.2 238.5h0M228.5 212.2h0M256.6 243.0h0M243.3 227.6h0M268.2 252.0h0M273.8 251.1h0M267.1 254.6h0M271.7 243.7h0M279.2 256.1h0M247.6 256.1h0M247.2 241.7h0M272.2 276.4h0M276.7 261.1h0M287.5 270.3h0M239.7 222.7h0M285.0 260.6h0M256.7 261.2h0M262.0 247.3h0M274.1 262.3h0M295.6 270.1h0M330.0 278.0h0M259.4 238.7h0M280.7 255.2h0M300.9 282.7h0M265.0 246.0h0M279.7 264.5h0M261.8 244.5h0M243.0 228.6h0M290.6 277.3h0M271.5 246.2h0M228.4 221.7h0M290.9 271.3h0M260.1 236.1h0M341.5 285.7h0M273.9 252.4h0M273.2 253.0h0M242.4 233.9h0M282.1 262.7h0M312.0 278.1h0M253.4 243.9h0M215.6 187.5h0M285.7 261.4h0M251.8 238.6h0M281.2 260.1h0M296.4 271.0h0M224.7 204.3h0M267.7 247.8h0M240.6 251.2h0M252.4 236.5h0M217.1 188.3h0M252.4 231.7h0M244.4 242.3h0M282.3 254.0h0M243.2 232.7h0M272.1 249.6h0M281.2 260.3h0M263.6 265.6h0M315.9 272.4h0M252.6 231.8h0M220.6 193.9h0M251.4 234.7h0M286.3 256.6h0M249.2 233.8h0M294.9 280.5h0M301.3 272.0h0M283.2 264.4h0M253.2 241.3h0M298.8 277.6h0M279.6 251.7h0M308.3 270.8h0M239.8 228.2h0M288.7 263.3h0M270.0 248.4h0M267.2 245.8h0M283.0 258.8h0M293.2 270.8h0M251.9 237.2h0M294.8 262.3h0M255.5 259.6h0M239.4 220.5h0M219.1 195.9h0M311.9 275.2h0M292.0 269.1h0M245.2 232.7h0M244.9 226.4h0M266.2 250.0h0M261.4 245.2h0M234.4 220.2h0M257.9 236.5h0M249.0 238.4h0M258.0 240.1h0M274.8 253.1h0M262.2 248.2h0M273.4 264.2h0M286.0 259.0h0M291.3 276.7h0M260.6 243.0h0M251.2 236.4h0M238.5 222.0h0M279.9 255.3h0M265.7 252.5h0M260.2 247.2h0M278.2 264.1h0M224.9 206.1h0M292.0 283.5h0M304.5 277.2h0M285.3 265.3h0M268.3 253.6h0M294.7 270.9h0M286.2 270.8h0M288.1 269.4h0M287.6 268.2h0M265.1 252.4h0M225.8 215.2h0M284.3 264.9h0M260.6 242.0h0M266.6 249.9h0M315.3 268.0h0M223.8 195.4h0M284.3 256.2h0M285.1 263.9h0M291.2 264.8h0M250.0 228.0h0M256.6 250.0h0M319.3 280.7h0M225.3 206.7h0M218.4 202.3h0M291.6 267.5h0M262.3 254.6h0M325.5 276.7h0M326.3 279.2h0M265.9 251.3h0M313.2 272.7h0M236.2 220.9h0M283.8 261.5h0M274.0 254.4h0M246.0 230.1h0M293.2 264.3h0M262.9 240.4h0M283.4 271.9h0M257.3 256.1h0M270.8 250.1h0M236.0 223.8h0M229.1 212.7h0M215.7 189.3h0M260.4 260.2h0M286.7 262.4h0M269.0 250.7h0M278.2 254.3h0M300.9 270.1h0M218.7 192.3h0M241.6 231.6h0M300.0 272.1h0M262.5 245.3h0M240.0 221.5h0M265.4 251.9h0M253.1 244.5h0M287.6 274.8h0M265.5 245.9h0M281.4 254.9h0M302.9 262.9h0M279.1 264.4h0M250.9 235.6h0M269.3 251.5h0M259.3 246.1h0M275.5 254.7h0M240.7 229.3h0M261.7 243.5h0M276.3 255.5h0M312.9 277.8h0M240.2 221.1h0M274.4 252.5h0M270.1 261.7h0M248.2 240.9h0M267.5 265.6h0M215.1 185.5h0M278.2 253.5h0M278.9 256.5h0M276.7 255.2h0M298.4 268.6h0M262.5 266.5h0M277.5 253.0h0M321.7 284.3h0M233.9 212.4h0M286.9 277.2h0M353.0 291.9h0M239.9 217.7h0M300.7 277.2h0M241.7 246.4h0M273.1 251.4h0M222.1 201.3h0M259.6 264.1h0M283.8 277.5h0M288.2 263.6h0M251.2 240.9h0M298.4 270.1h0M257.4 239.7h0M288.2 263.3h0M222.4 202.1h0M256.6 243.5h0M283.6 259.2h0M280.6 249.1h0M274.2 246.9h0M283.3 269.7h0M274.8 257.8h0M340.0 286.4h0M289.4 286.1h0M227.3 228.4h0M262.1 245.4h0M224.5 206.5h0M239.4 245.7h0M260.6 241.7h0M300.2 270.2h0M296.2 279.7h0M292.3 266.9h0M270.2 254.5h0M267.7 250.0h0M313.4 276.5h0M233.9 218.4h0M285.5 257.4h0M271.3 243.6h0M258.3 259.6h0M226.8 205.2h0M275.0 253.0h0M242.2 233.7h0M262.3 256.6h0M292.3 266.5h0M259.2 243.0h0M259.8 245.7h0M294.7 263.6h0M221.2 196.0h0M322.8 278.3h0M241.2 230.4h0M223.5 203.2h0M285.9 262.4h0M310.4 289.7h0M236.7 223.8h0M259.4 236.8h0M293.9 266.4h0M229.5 210.2h0M294.6 263.5h0M275.3 262.3h0M228.2 212.2h0M260.8 251.8h0M234.1 219.4h0M263.5 242.5h0M281.9 271.4h0M279.2 261.8h0M296.6 286.2h0M292.0 288.3h0M277.3 273.2h0M279.4 256.7h0M259.9 239.1h0M229.3 219.6h0M285.7 265.3h0M308.6 275.1h0M266.3 252.8h0M258.5 242.7h0M259.4 234.1h0M306.3 268.7h0M251.4 236.6h0M257.2 247.8h0M236.1 225.8h0M276.7 259.3h0M295.0 269.5h0M282.3 253.4h0M304.7 266.5h0M288.3 256.2h0M219.3 196.4h0M271.6 264.2h0M219.6 200.3h0M265.5 249.5h0M264.0 245.5h0M225.2 216.0h0M259.7 241.1h0M300.7 265.4h0M238.6 233.0h0M268.0 248.2h0M260.0 252.0h0M269.8 246.6h0M269.5 244.4h0M261.2 243.9h0M262.3 266.0h0M308.5 274.6h0M251.2 233.6h0M233.5 209.8h0M265.7 245.9h0M240.0 225.8h0M293.3 280.3h0M297.7 274.0h0M214.4 186.4h0M245.7 247.2h0M228.8 209.6h0M308.4 279.4h0M303.0 271.8h0M256.6 238.5h0M337.5 291.3h0M251.3 227.2h0M261.4 259.6h0M285.4 271.0h0M254.7 236.9h0M263.5 249.3h0M291.0 259.2h0M222.1 197.3h0M249.5 246.0h0M245.8 231.0h0M260.3 244.9h0M275.6 258.9h0M306.6 269.1h0M347.0 284.6h0M255.8 236.5h0M277.4 254.6h0M288.3 282.9h0M262.9 243.3h0M235.5 242.2h0M271.0 250.9h0M308.8 269.5h0M251.1 250.4h0M259.4 243.6h0M266.6 244.4h0M239.1 227.8h0M241.3 223.1h0M284.9 256.8h0M272.2 259.4h0M281.9 267.5h0M242.0 229.4h0M255.5 243.7h0M254.8 235.4h0M259.4 250.3h0M269.3 250.3h0M254.6 234.4h0M283.0 263.7h0M280.3 261.6h0M263.1 255.3h0M320.7 279.9h0M217.5 193.2h0M290.8 267.1h0M257.9 244.3h0M247.0 227.1h0M254.5 238.5h0M309.4 274.2h0M259.3 241.7h0M306.2 274.8h0M246.6 244.1h0M277.6 278.8h0M293.5 267.3h0M250.9 232.8h0M295.3 284.1h0M285.0 262.0h0M274.3 255.0h0M282.3 256.4h0M280.1 261.5h0M265.5 250.7h0M246.3 229.9h0M247.7 231.1h0M255.4 246.9h0M301.4 276.1h0M305.5 280.2h0M271.8 249.4h0M322.4 282.6h0M262.5 250.6h0M239.0 227.2h0M270.5 248.4h0M302.2 285.0h0M235.9 220.2h0M252.3 233.3h0M264.9 267.4h0M245.0 245.7h0M294.1 263.1h0M216.1 199.5h0M227.3 205.6h0M282.6 264.0h0M229.8 212.4h0M214.3 177.2h0M279.8 259.3h0M285.3 279.0h0M228.8 215.2h0M280.9 262.1h0M296.1 266.7h0M319.8 278.9h0M273.4 258.7h0M238.6 224.0h0M265.0 248.3h0M248.3 237.6h0M227.7 229.3h0M294.5 266.9h0M306.0 282.1h0M288.7 258.3h0M262.4 247.5h0M241.5 228.1h0M270.2 253.6h0M222.7 198.6h0M284.2 263.2h0M292.2 284.9h0M224.7 206.0h0M276.2 256.0h0M283.5 266.6h0M297.1 282.1h0M241.8 247.1h0M238.9 224.1h0M256.8 243.5h0M277.3 252.1h0M289.6 264.0h0M270.8 254.8h0M245.4 226.5h0M316.1 278.5h0M262.9 247.3h0M295.9 276.1h0M311.7 290.3h0M238.4 220.3h0M259.0 246.2h0M268.1 244.9h0M240.4 228.3h0M217.3 187.3h0M297.9 265.1h0M215.8 189.7h0M294.3 272.2h0M271.4 258.1h0M286.9 261.2h0M273.1 258.4h0M276.1 260.2h0M287.8 257.3h0M264.0 248.0h0M270.7 264.0h0M250.2 234.2h0M251.9 226.6h0M241.9 228.4h0M270.0 263.0h0M336.2 287.9h0M271.0 268.5h0M277.8 269.4h0M226.1 210.6h0M293.0 261.7h0M263.2 244.9h0M280.7 261.2h0M228.1 207.6h0M238.2 220.8h0M258.5 234.1h0M285.4 260.3h0M272.7 245.1h0M229.6 211.5h0M258.2 246.2h0M226.7 213.4h0M300.6 268.1h0M280.0 255.4h0M261.6 244.2h0M321.4 277.1h0M287.3 269.5h0M269.7 246.6h0M220.6 202.4h0M251.2 237.0h0M240.8 222.4h0M268.6 244.5h0M313.1 275.0h0M281.9 265.9h0M255.1 258.5h0M215.7 182.3h0M283.5 259.5h0M269.8 255.7h0M294.3 267.8h0M311.4 279.3h0M272.0 252.0h0M251.1 230.7h0M288.5 270.3h0M240.3 228.4h0M311.2 269.7h0M279.3 254.7h0M248.5 232.0h0M322.0 281.9h0M359.5 295.7h0M252.8 244.9h0M311.7 279.0h0M310.3 276.4h0M264.0 250.3h0M221.6 195.0h0M279.4 273.7h0M238.7 223.8h0M256.8 241.1h0M271.1 252.8h0M278.8 272.8h0M256.5 238.8h0M256.7 244.6h0M257.3 255.7h0M246.1 242.1h0M324.8 283.6h0M280.8 279.0h0M221.8 206.9h0M262.7 263.2h0M280.0 262.1h0M288.0 258.8h0M354.8 299.1h0M270.2 251.3h0M262.7 247.0h0M280.2 259.3h0M261.2 246.4h0M276.3 258.9h0M305.3 285.1h0M216.2 187.1h0M323.3 282.5h0M282.6 260.0h0M312.7 296.8h0M275.7 267.5h0M303.0 273.6h0M299.7 279.8h0M277.9 263.0h0M255.8 242.7h0M216.5 202.7h0M269.5 253.0h0M284.1 256.1h0M292.5 268.3h0M214.4 187.4h0M282.9 260.7h0M274.6 269.2h0M297.2 264.0h0M298.5 263.7h0M307.5 287.8h0M259.0 235.8h0M273.0 248.0h0M251.5 240.5h0M262.3 246.4h0M263.9 241.8h0M237.0 217.5h0M217.0 189.4h0M275.7 253.2h0M249.7 248.7h0M275.4 262.9h0M249.8 228.7h0M290.7 274.3h0M268.9 250.5h0M213.7 182.2h0M299.0 276.9h0M330.3 285.4h0M248.2 233.1h0M283.7 264.0h0M299.8 280.5h0M285.2 257.3h0M224.0 193.7h0M280.3 258.0h0M264.1 246.2h0M277.3 256.4h0M242.5 228.4h0M236.4 232.2h0M250.8 245.5h0M289.4 266.0h0M267.5 249.4h0M240.6 224.0h0M279.6 262.9h0M269.0 255.9h0M279.9 270.2h0M247.2 230.4h0M218.5 202.0h0M248.9 227.4h0M295.2 261.7h0M288.7 286.9h0M240.3 229.5h0M224.8 202.6h0M246.7 225.6h0M261.8 250.6h0M336.7 286.0h0M242.7 230.3h0M215.9 192.1h0M324.8 281.1h0M229.1 210.5h0M286.6 266.8h0M307.5 282.2h0M284.0 263.6h0M294.1 297.5h0M281.1 263.5h0M249.8 234.3h0M293.8 264.8h0M215.3 186.5h0M256.4 236.6h0M273.8 255.7h0M260.9 247.6h0M286.8 281.8h0M286.6 273.7h0M261.5 242.0h0M250.6 239.5h0M265.7 253.4h0M297.0 287.7h0M260.5 257.4h0M225.0 206.8h0M280.3 253.7h0M279.0 253.7h0M288.4 263.6h0M296.3 275.8h0M267.5 243.7h0M224.9 212.0h0M288.8 259.9h0M294.7 266.2h0M274.8 251.9h0M276.4 278.0h0M272.6 248.1h0M240.1 221.9h0M255.9 234.2h0M256.5 239.2h0M223.6 204.6h0M266.8 250.0h0M264.4 247.1h0M266.7 251.0h0M287.2 267.0h0M287.6 275.0h0M240.8 232.9h0M293.2 262.0h0M261.9 244.8h0M274.1 251.3h0M261.7 242.2h0M226.6 208.1h0M281.8 289.3h0M247.9 233.4h0M244.8 222.9h0M265.0 238.5h0M298.8 266.2h0M215.4 196.4h0M255.8 239.6h0M344.7 286.8h0M228.9 209.9h0M331.8 283.2h0M263.5 248.1h0M251.4 246.2h0M311.3 291.8h0M263.1 268.8h0M265.3 251.6h0M281.8 257.6h0M287.6 265.6h0M282.4 252.2h0M225.9 228.5h0M270.5 248.1h0M257.3 241.5h0M280.6 273.6h0M228.3 210.6h0M283.4 260.1h0M252.9 242.0h0M246.9 239.6h0M262.4 242.9h0M297.8 272.5h0M238.6 223.4h0M242.2 235.1h0M266.1 249.8h0M285.8 257.4h0M260.3 254.0h0M252.0 246.9h0M294.5 263.1h0M263.2 241.6h0M253.7 233.6h0M239.0 219.9h0M260.2 238.9h0M315.9 277.7h0M271.4 247.2h0M268.1 262.8h0M247.6 258.0h0M282.0 267.5h0M243.8 228.5h0M287.7 259.8h0M227.6 202.1h0M256.0 266.4h0M273.4 257.9h0M280.8 278.1h0M276.3 254.1h0M253.8 239.5h0M281.2 258.2h0M297.6 290.0h0M268.4 250.8h0M226.0 203.6h0M227.2 228.6h0M254.1 235.8h0M262.8 247.3h0M255.0 242.4h0M250.6 250.6h0M328.0 284.2h0M283.2 255.5h0M243.5 226.4h0M288.3 263.7h0M276.1 254.4h0M279.3 253.2h0M252.9 235.0h0M274.8 259.0h0M292.1 260.4h0M251.2 235.6h0M255.6 236.7h0M266.0 251.4h0M243.7 225.9h0M270.5 255.3h0M248.6 229.9h0M256.8 241.8h0M291.5 266.6h0M286.4 256.5h0M289.6 265.7h0M252.9 248.3h0M227.8 212.1h0M292.8 267.4h0M321.0 283.4h0M238.6 223.2h0M229.3 209.8h0M270.2 271.3h0M270.3 253.7h0M266.0 253.1h0M256.8 229.6h0M225.9 229.7h0M329.9 289.1h0M264.2 241.1h0M312.9 275.7h0M279.8 261.4h0M270.9 249.4h0M291.9 257.9h0M274.3 256.2h0M218.5 196.1h0M267.3 249.0h0M275.4 251.7h0M290.7 275.8h0M231.9 204.9h0M240.5 225.5h0M310.0 289.3h0M217.1 196.0h0M281.3 255.6h0M274.0 255.0h0M275.5 263.4h0M288.4 259.3h0M265.6 247.8h0M280.1 265.9h0M312.2 275.8h0M329.2 286.2h0M255.2 241.9h0M240.5 223.9h0M287.5 275.2h0M280.1 264.5h0M277.7 259.7h0M281.6 259.1h0M289.4 258.5h0M245.4 239.6h0M232.4 214.4h0M269.9 250.1h0M248.5 248.7h0M230.2 211.6h0M244.9 240.3h0M295.5 268.8h0M279.5 271.3h0M305.8 272.0h0M225.4 209.4h0M216.7 184.0h0M279.5 261.5h0M279.7 272.9h0M256.8 243.4h0M268.9 270.4h0M267.4 250.3h0M266.2 250.5h0M311.5 277.9h0M261.7 240.1h0M268.6 250.6h0M253.0 239.2h0M280.5 264.6h0M295.8 271.2h0M261.4 240.9h0M279.5 262.0h0M307.3 296.1h0M242.5 224.8h0M276.2 251.3h0M337.9 282.4h0M221.7 201.8h0M263.7 239.9h0M275.6 276.1h0M258.7 267.3h0M247.2 227.4h0M266.6 250.0h0M282.9 253.4h0M314.0 279.7h0M243.5 229.8h0M312.6 273.3h0M286.5 261.7h0M300.0 272.1h0M294.5 267.1h0M262.2 241.8h0M259.1 258.5h0M252.9 240.4h0M293.7 262.9h0M298.1 273.0h0M250.2 243.1h0M250.8 230.5h0M258.9 236.7h0M263.5 248.5h0M301.5 262.1h0M299.6 271.2h0M287.8 262.0h0M270.9 275.0h0M288.2 262.6h0M282.8 259.7h0M276.7 258.5h0M255.4 250.1h0M272.8 255.2h0M273.5 247.0h0M300.5 276.6h0M288.2 262.1h0M269.0 254.2h0M239.2 220.8h0M287.8 258.3h0M291.8 281.1h0M244.7 227.2h0M281.6 258.5h0M298.3 266.2h0M293.2 279.7h0M261.7 246.9h0M273.8 255.9h0M273.0 269.3h0M214.9 182.7h0M262.2 257.8h0M244.0 246.7h0M243.5 228.7h0M261.3 245.5h0M278.2 256.7h0M223.6 200.8h0M325.4 278.0h0M266.1 269.6h0M328.4 278.4h0M255.7 239.3h0M275.4 249.5h0M255.9 234.4h0M258.2 244.9h0M240.2 239.2h0M267.6 263.5h0M303.3 274.2h0M306.4 269.0h0M335.6 284.0h0M287.5 282.8h0M255.9 242.4h0M289.9 273.4h0M267.1 244.3h0M245.8 228.6h0M229.5 209.4h0M242.5 225.4h0M255.3 237.8h0M250.3 245.1h0M228.8 209.0h0M294.4 274.8h0M286.0 273.7h0M253.2 234.8h0M245.3 242.6h0M233.2 214.0h0M308.2 280.0h0M224.4 196.4h0M263.9 260.7h0M213.4 191.3h0M221.6 205.5h0M263.2 249.8h0M256.8 256.1h0M308.3 275.6h0M320.2 279.7h0M281.5 267.0h0M264.6 265.3h0M259.7 242.2h0M221.0 193.7h0M254.9 236.7h0M253.6 242.7h0M307.3 275.3h0M286.4 268.2h0M236.7 230.6h0M285.7 257.6h0M267.9 248.3h0M229.0 211.5h0M263.2 243.7h0M295.4 279.6h0M262.5 240.6h0M278.1 260.4h0M259.3 259.8h0M255.9 241.7h0M282.4 260.0h0M232.8 214.3h0M264.2 242.6h0M229.6 214.1h0M273.7 262.1h0M280.6 252.8h0M304.5 275.0h0M287.0 289.7h0M292.5 264.7h0M263.7 245.8h0M258.0 240.4h0M242.5 222.5h0M238.7 225.3h0M223.9 200.8h0M251.8 233.9h0M250.9 234.5h0M287.9 260.3h0M235.8 212.5h0M280.7 260.2h0M272.9 250.6h0M243.7 231.6h0M275.9 260.5h0M242.7 223.9h0M215.0 196.0h0M260.1 246.1h0M259.2 241.3h0M267.1 253.7h0M270.6 246.5h0M274.9 256.6h0M275.0 251.3h0M267.0 249.2h0M229.4 215.4h0M253.8 267.4h0M280.8 256.8h0M236.7 214.2h0M255.9 241.2h0M280.0 254.7h0M261.1 240.7h0M275.0 260.6h0M224.9 205.3h0M242.7 224.1h0M286.9 261.0h0M283.0 263.0h0M274.6 258.2h0M257.9 248.1h0M283.9 261.6h0M280.1 254.8h0M243.8 228.9h0M258.2 241.4h0M261.3 257.4h0M240.7 227.7h0M298.2 271.4h0M285.0 260.4h0M268.9 244.5h0M262.8 245.8h0M300.2 278.0h0M301.9 271.7h0M241.3 228.5h0M271.5 250.5h0M262.9 243.5h0M296.4 275.3h0M246.4 234.7h0M258.7 245.4h0M296.5 270.4h0M258.4 239.5h0M263.0 255.3h0M275.8 255.6h0M222.5 199.7h0M309.3 293.4h0M246.5 228.5h0M281.8 269.0h0M245.2 227.0h0M277.5 255.2h0M281.4 265.8h0M295.1 268.3h0M214.9 195.0h0M240.5 219.6h0M262.6 242.4h0M259.8 241.1h0M259.4 246.3h0M288.0 264.0h0M283.3 262.8h0M261.7 246.0h0M295.8 280.8h0M283.8 256.6h0M269.4 256.4h0M288.9 275.3h0M258.2 237.2h0M222.1 194.3h0M242.7 230.4h0M271.3 251.5h0M232.4 229.4h0M220.5 196.5h0M271.5 253.9h0M309.3 267.5h0M244.2 247.2h0M245.3 234.1h0M241.3 227.7h0M260.5 272.9h0M285.6 259.9h0M288.6 275.0h0M251.1 253.1h0M258.9 239.2h0M295.5 265.2h0M261.9 251.4h0M235.9 221.5h0M280.4 262.9h0M253.4 238.0h0M276.2 252.3h0M243.2 232.8h0M280.3 256.6h0M255.0 239.7h0M262.8 242.4h0M227.5 222.6h0M290.1 264.7h0M326.1 279.7h0M280.9 259.1h0M269.1 257.3h0M288.2 277.0h0M262.0 248.3h0M225.1 212.0h0M215.8 190.0h0M286.7 273.7h0M257.8 236.4h0M270.4 261.7h0M275.9 256.1h0M288.7 266.7h0M239.8 223.0h0M281.2 260.3h0M257.7 237.4h0M276.1 259.1h0M257.1 238.0h0M271.7 250.0h0M281.9 272.1h0M247.8 255.0h0M267.1 248.5h0M303.9 269.1h0M260.5 242.4h0M299.8 269.6h0M241.9 245.8h0M285.7 265.8h0M270.6 258.4h0M300.3 271.4h0M273.8 265.8h0M253.3 254.6h0M247.5 227.4h0M231.0 217.0h0M227.2 213.6h0M271.8 253.6h0M273.4 269.9h0M251.1 234.9h0M257.8 242.8h0M327.8 279.4h0M272.2 253.5h0M279.5 255.0h0M261.8 244.4h0M281.4 256.6h0M250.6 231.0h0M231.6 221.6h0M276.3 265.8h0M234.6 218.3h0M251.1 239.2h0M242.0 240.2h0M252.7 254.1h0M306.9 291.0h0M305.0 287.2h0M255.2 244.4h0M296.3 271.0h0M284.1 264.4h0M279.7 253.2h0M237.9 225.0h0M294.3 270.7h0M239.4 217.7h0M287.7 291.5h0M223.2 205.5h0M276.3 249.2h0M299.4 272.2h0M248.5 235.4h0M235.3 223.7h0M261.6 246.8h0M303.7 271.4h0M264.8 245.7h0M263.6 253.8h0M317.1 293.6h0M308.0 277.4h0M268.8 255.3h0M288.3 262.7h0M277.0 251.1h0M257.5 239.0h0M248.5 236.6h0M280.4 255.6h0M285.9 261.2h0M261.1 244.0h0M253.8 253.0h0M261.4 246.4h0M245.7 248.6h0M242.3 227.7h0M335.6 284.9h0M237.9 221.6h0M254.6 240.3h0M249.5 234.3h0M293.8 268.3h0M257.4 239.2h0M280.6 279.9h0M266.1 247.2h0M263.3 241.1h0M271.7 253.7h0M251.7 236.0h0M214.1 185.4h0M289.5 267.0h0M281.1 259.5h0M310.9 270.4h0M283.4 260.6h0M226.4 211.8h0M227.7 233.5h0M267.2 246.3h0M218.0 190.0h0M269.2 257.9h0M241.5 223.6h0M248.0 240.8h0M251.7 260.8h0M284.9 265.3h0M305.6 276.2h0M247.5 238.3h0M275.7 273.6h0M284.5 281.3h0M299.0 265.5h0M232.8 220.7h0M282.0 271.0h0M279.8 269.7h0M247.9 233.6h0M281.4 261.1h0M233.3 215.3h0M243.3 224.1h0M279.2 260.0h0M259.8 241.5h0M274.1 255.6h0M324.9 276.0h0M266.5 252.0h0M258.2 246.4h0M262.9 238.3h0M257.7 237.4h0M275.2 253.6h0M227.1 211.9h0M312.4 281.0h0M300.3 275.4h0M228.9 224.3h0M253.0 247.8h0M287.5 270.5h0M253.7 231.5h0M244.8 231.2h0M285.9 261.7h0M270.0 256.5h0M287.9 269.5h0M234.4 219.2h0M265.3 244.4h0M277.8 252.1h0M268.1 252.9h0M290.1 273.7h0M295.9 289.3h0M277.7 256.8h0M293.5 262.8h0M273.2 261.7h0M284.0 262.7h0M288.3 261.8h0M235.6 214.5h0M244.4 239.3h0M272.9 275.4h0M278.9 277.4h0M253.5 258.6h0M239.1 242.2h0M271.8 251.5h0M299.3 272.0h0M317.0 286.0h0M248.8 235.1h0M258.4 236.3h0M270.1 252.0h0M255.0 251.4h0M249.0 234.8h0M268.4 242.0h0M280.3 262.6h0M277.5 255.7h0M262.8 263.8h0M260.1 261.2h0M232.3 218.5h0M271.9 263.3h0M294.9 271.5h0M243.1 225.2h0M300.0 270.1h0M323.4 275.7h0M248.1 233.5h0M270.3 262.5h0M240.5 218.1h0M298.3 268.7h0M287.7 268.1h0M343.5 282.0h0M264.9 253.9h0M242.9 237.4h0M260.8 249.5h0M287.4 274.5h0M245.4 221.2h0M264.2 245.9h0M275.6 258.4h0M263.1 246.3h0M290.6 268.2h0M233.8 220.9h0M304.1 275.0h0M292.0 266.1h0M266.0 242.9h0M296.4 274.2h0M247.3 235.2h0M256.5 242.1h0M254.3 234.7h0M271.5 245.6h0M224.1 212.9h0M265.2 247.8h0M271.6 254.9h0M240.7 242.0h0M264.7 253.6h0M239.0 224.4h0M269.6 243.7h0M272.7 251.2h0M278.1 274.9h0M239.6 231.6h0M259.3 243.2h0M282.0 257.8h0M271.8 258.1h0M265.7 249.3h0M305.4 283.6h0M256.7 245.0h0M277.1 250.5h0M274.4 253.1h0M282.1 264.4h0M292.0 267.9h0M289.8 281.4h0M282.7 258.0h0M254.6 263.6h0M281.3 258.9h0M266.0 255.3h0M287.1 260.1h0M235.5 225.4h0M296.5 265.2h0M258.3 252.3h0M277.2 259.8h0M284.6 260.9h0M236.7 218.3h0M295.6 268.1h0M346.1 280.1h0M272.3 251.0h0M220.9 195.2h0M284.8 269.9h0M217.9 192.7h0M243.3 246.1h0M276.3 264.2h0M226.2 212.9h0M286.7 263.2h0M325.7 285.2h0M252.2 236.4h0M257.2 242.4h0M213.7 191.5h0M218.7 194.3h0M237.6 219.9h0M276.7 284.3h0M294.7 269.6h0M219.8 205.0h0M224.1 203.9h0M238.5 218.1h0M249.7 233.6h0M261.0 248.4h0M280.8 265.2h0M239.8 240.8h0M274.5 256.3h0M276.4 260.3h0M243.1 225.2h0M282.2 262.0h0M281.4 262.0h0M286.2 262.8h0M288.4 273.8h0M247.0 225.7h0M271.2 252.0h0M274.6 280.1h0M268.2 258.5h0M300.5 260.9h0M272.2 281.4h0M262.4 241.9h0M278.2 254.0h0M249.9 243.7h0M283.4 256.0h0M259.3 245.4h0M309.4 277.8h0M251.2 241.2h0M264.2 244.4h0M256.8 249.5h0M273.5 256.4h0M250.8 235.5h0M248.9 236.5h0M285.7 260.7h0M295.3 276.2h0M267.1 253.8h0M273.3 268.1h0M275.8 250.2h0M229.2 230.8h0M229.9 213.1h0M264.4 240.8h0M285.7 272.3h0M294.4 269.1h0M223.3 200.0h0M214.2 185.3h0M266.4 244.7h0M268.7 253.2h0M288.8 281.8h0M250.3 235.3h0M302.1 265.4h0M286.2 267.1h0M274.8 262.0h0M244.3 227.1h0M283.9 260.9h0M288.4 286.1h0M237.7 220.9h0M239.4 239.3h0M233.9 209.4h0M240.4 227.2h0M231.0 206.7h0M233.6 211.9h0M254.3 248.6h0M251.1 234.7h0M223.0 197.0h0M267.0 250.1h0M291.7 278.4h0M276.9 258.8h0M253.3 237.7h0M262.9 256.9h0M272.8 252.1h0M245.2 251.9h0M283.7 260.3h0M274.9 268.3h0M302.1 269.0h0M273.7 248.3h0M249.7 241.0h0M289.8 268.6h0M268.1 269.5h0M273.7 272.7h0M310.4 280.4h0M295.0 267.3h0M276.6 249.3h0M250.8 231.3h0M308.8 276.4h0M233.8 219.0h0M284.4 263.9h0M265.7 246.2h0M271.7 245.3h0M321.4 271.4h0M271.2 251.3h0M242.9 226.4h0M230.5 210.2h0M224.2 221.1h0M269.0 252.9h0M280.0 256.8h0M231.6 207.6h0M225.3 208.1h0M242.5 224.2h0M282.4 258.9h0M269.4 251.4h0M253.5 236.7h0M221.8 209.0h0M278.7 256.2h0M294.6 268.3h0M247.3 228.8h0M274.2 253.8h0M270.4 263.0h0M269.5 253.2h0M288.6 271.0h0M217.2 199.7h0M255.6 241.7h0M225.5 209.6h0M233.9 214.8h0M298.8 272.3h0M299.3 271.4h0M250.3 233.6h0M253.2 276.0h0M225.2 202.4h0M284.9 271.7h0M283.7 258.8h0M309.8 274.1h0M260.8 248.3h0M246.8 225.7h0M241.5 232.1h0M286.0 262.8h0M285.3 267.4h0M273.0 251.0h0M296.2 269.1h0M270.0 251.9h0M286.7 264.2h0M218.3 194.0h0M246.9 245.2h0M305.6 269.9h0M273.9 263.0h0M297.2 295.3h0M275.8 251.2h0M239.3 226.9h0M275.9 252.5h0M296.0 271.4h0M276.1 250.6h0M218.1 199.5h0M255.3 237.8h0M250.0 232.3h0M266.7 242.0h0M220.4 191.8h0M280.5 259.3h0M241.2 240.4h0M286.8 262.7h0M275.5 248.8h0M301.5 274.8h0M271.0 255.0h0M279.3 261.2h0M287.7 262.9h0M296.9 284.9h0M277.3 255.9h0M273.9 255.6h0M273.7 273.1h0M248.1 231.1h0M274.9 252.7h0M216.6 188.6h0M306.2 271.1h0M219.5 198.6h0M302.4 270.9h0M268.8 250.3h0M271.7 259.8h0M242.5 250.4h0M295.6 281.1h0M267.7 245.1h0M248.0 232.0h0M269.0 256.5h0M266.4 262.3h0M240.7 226.5h0M273.5 253.3h0M279.3 258.6h0M275.1 270.1h0M224.5 201.4h0M251.1 240.2h0M227.5 212.5h0M248.1 252.8h0M303.8 271.9h0M261.9 247.9h0M246.9 232.9h0M249.4 235.7h0M277.9 269.5h0M270.2 254.1h0M265.9 247.9h0M284.6 264.2h0M240.5 224.1h0M253.0 231.6h0M247.3 247.5h0M276.0 258.1h0M219.9 197.9h0M298.6 272.8h0M307.9 275.2h0M242.5 232.2h0M271.0 257.0h0M231.1 209.3h0M281.8 260.0h0M265.7 241.0h0M283.3 257.5h0M287.8 264.2h0M255.1 237.4h0M277.8 249.1h0M241.4 218.4h0M275.6 251.8h0M227.5 208.2h0M275.8 267.6h0M244.1 227.4h0M242.0 226.8h0M283.2 258.2h0M257.4 253.0h0M267.7 252.0h0M269.5 262.1h0M256.4 254.7h0M214.3 189.5h0M248.6 245.8h0M271.1 252.7h0M320.6 270.7h0M331.6 285.4h0M272.7 254.4h0M234.4 211.7h0M223.9 201.9h0M272.0 267.7h0M270.5 267.3h0M268.3 256.2h0M262.6 254.0h0M272.7 263.3h0M284.9 257.4h0M257.1 237.1h0M274.9 263.3h0M217.9 195.8h0M251.5 231.7h0M267.5 247.9h0M260.2 240.4h0M270.7 264.7h0M258.1 254.4h0M302.0 273.8h0M259.7 237.4h0M287.6 261.3h0M267.4 252.9h0M254.0 247.0h0M259.6 242.6h0M262.6 268.5h0M260.5 258.7h0M224.8 205.8h0M284.7 256.1h0M248.6 225.8h0M265.0 241.4h0M259.5 239.7h0M291.2 261.0h0M316.8 294.3h0M249.4 244.8h0M214.2 186.2h0M224.9 201.8h0M243.2 227.9h0M286.2 262.0h0M278.2 255.9h0M269.5 273.0h0M294.9 266.5h0M238.4 219.7h0M259.7 257.0h0M245.5 245.4h0M215.4 189.6h0M278.5 250.9h0M248.1 225.9h0M265.3 251.5h0M263.9 257.1h0M262.7 252.7h0M302.3 275.8h0M251.0 235.7h0M282.1 258.1h0M228.3 206.3h0M286.9 262.7h0M232.6 212.0h0M262.4 235.0h0M283.5 254.1h0M241.1 227.6h0M235.8 229.3h0M245.6 226.2h0M250.4 249.7h0M255.6 235.9h0M300.5 282.9h0M257.1 240.6h0M276.6 252.4h0M264.1 244.4h0M260.6 243.9h0M281.9 257.0h0M252.3 250.5h0M274.6 263.9h0M266.2 260.8h0M257.1 251.3h0M288.2 262.4h0M310.8 285.7h0M293.3 289.6h0M231.2 222.9h0M287.5 286.1h0M275.4 277.3h0M287.9 264.3h0M273.7 254.8h0M225.2 229.7h0M263.7 248.0h0M300.2 264.9h0M274.1 256.6h0M291.0 282.0h0M253.8 234.8h0M294.8 283.7h0M312.5 281.1h0M233.6 230.9h0M250.3 233.1h0M257.1 243.9h0M267.2 245.7h0M281.7 264.9h0M289.3 273.1h0M227.7 206.0h0M255.7 243.4h0M236.8 211.2h0M255.2 245.8h0M255.2 242.9h0M267.6 268.6h0M274.4 258.0h0M269.2 255.7h0M235.9 211.7h0M275.9 253.1h0M268.4 247.5h0M234.2 221.0h0M221.0 202.7h0M282.1 256.5h0M261.0 255.1h0M215.2 191.7h0M302.8 265.8h0M292.7 265.9h0M278.9 259.3h0M267.1 248.1h0M262.6 249.1h0M249.4 232.4h0M240.9 225.6h0M295.7 265.0h0M280.3 259.1h0M302.8 271.8h0M253.9 240.4h0M285.1 262.2h0M312.1 287.2h0M259.1 249.9h0M282.0 264.7h0M220.6 198.5h0M254.6 235.1h0M284.5 261.5h0M269.6 249.6h0M279.3 266.8h0M240.2 226.2h0M255.0 243.4h0M293.9 294.0h0M280.9 259.5h0M220.6 193.4h0M251.5 248.7h0M307.0 273.9h0M253.5 236.7h0M288.8 268.9h0M251.6 263.4h0M266.9 247.4h0M288.9 262.9h0M258.4 261.3h0M315.9 275.1h0M265.7 248.7h0M243.8 231.3h0M291.9 253.7h0M245.7 235.8h0M266.0 264.1h0M264.6 249.4h0M254.6 243.9h0M294.8 262.8h0M272.8 250.3h0M241.7 238.7h0M254.0 242.6h0M256.1 242.0h0M289.2 261.3h0M273.4 248.3h0M291.1 272.4h0M263.5 247.7h0M262.2 244.0h0M280.5 260.8h0M269.1 251.1h0M253.7 244.6h0M284.0 260.6h0M250.0 255.1h0M260.0 247.7h0M260.0 242.2h0M279.9 253.9h0M259.3 249.4h0M288.2 268.5h0M238.9 218.1h0M286.6 269.6h0M284.0 280.3h0M295.5 263.9h0M246.6 232.9h0M247.0 253.9h0M307.8 276.9h0M292.3 263.1h0M254.8 235.6h0M240.2 227.0h0M286.9 265.8h0M255.4 234.6h0M253.3 230.7h0M276.6 259.0h0M250.5 237.1h0M285.6 262.4h0M257.2 241.6h0M268.7 249.9h0M291.4 269.5h0M262.4 248.1h0M325.3 280.4h0M227.0 210.5h0M269.9 257.1h0M278.4 256.1h0M234.0 226.5h0M267.9 256.5h0M220.1 193.5h0M310.8 278.3h0M294.6 266.5h0M266.7 249.7h0M232.9 225.3h0M310.4 270.2h0M276.8 257.7h0M219.4 197.0h0M264.4 265.5h0M283.7 262.9h0M249.7 234.2h0M261.3 250.8h0M310.1 280.9h0M348.3 291.7h0M277.5 255.9h0M278.7 272.9h0M250.8 235.1h0M308.4 285.2h0M261.2 243.8h0M248.6 227.6h0M302.5 267.0h0M251.5 238.9h0M264.8 256.3h0M215.0 187.1h0M289.5 258.9h0M265.4 248.0h0M265.0 251.0h0M228.3 209.5h0M260.0 263.4h0M226.0 205.3h0M277.9 255.5h0M322.6 284.6h0M227.1 203.8h0M253.3 244.6h0M251.8 254.9h0M277.7 256.3h0M299.5 267.2h0M293.9 267.4h0M272.2 257.2h0M333.3 282.0h0M284.7 261.6h0M243.0 225.8h0M271.1 267.0h0M285.0 264.3h0M290.3 268.8h0M268.6 253.4h0M274.1 261.2h0M228.1 208.3h0M306.9 275.9h0M274.9 252.9h0M282.7 261.6h0M267.1 241.0h0M262.0 242.2h0M244.7 232.2h0M272.7 254.3h0M313.8 270.4h0M257.1 253.5h0M324.2 285.5h0M269.7 258.5h0M226.0 203.8h0M284.8 265.9h0M251.2 237.3h0M252.8 258.4h0M237.7 214.1h0M285.8 258.8h0M236.6 238.3h0M241.4 225.4h0M279.8 259.1h0M283.7 250.9h0M302.3 274.8h0M249.3 240.2h0M289.1 266.8h0M265.4 249.7h0M265.5 258.6h0M262.1 241.5h0M292.5 271.6h0M280.2 261.7h0M283.4 257.9h0M285.6 258.1h0M288.2 268.5h0M276.8 258.0h0M292.6 263.3h0M280.7 256.4h0M280.1 257.1h0M245.1 240.0h0M255.0 244.7h0M294.8 265.4h0M325.0 281.3h0M241.8 227.8h0M295.8 274.8h0M247.1 234.3h0M260.7 249.5h0M237.9 237.2h0M270.1 263.0h0M296.2 259.8h0M249.1 232.5h0M273.2 255.5h0M261.7 256.8h0M291.1 274.7h0M267.6 251.5h0M258.5 241.8h0M265.1 257.2h0M276.0 249.6h0M308.9 276.3h0M252.6 237.4h0M241.1 226.9h0M246.0 231.2h0M257.5 254.7h0M255.5 257.8h0M239.5 221.9h0M267.9 245.1h0M247.8 233.0h0M269.8 259.7h0M273.2 262.4h0M282.9 261.2h0M291.4 261.5h0M254.0 250.3h0M256.5 240.7h0M282.4 257.3h0M270.5 253.8h0M252.4 238.5h0M283.1 261.2h0M263.3 255.9h0M255.5 240.0h0M245.3 241.0h0M226.0 201.2h0M223.5 199.0h0M272.0 255.3h0M301.5 277.6h0M254.6 240.7h0M241.1 226.7h0M244.4 243.6h0M278.0 268.2h0M281.6 258.3h0M259.5 237.9h0M232.9 227.4h0M217.4 196.8h0M263.1 238.5h0M269.7 252.5h0M223.1 198.2h0M268.5 253.8h0M304.4 279.0h0M308.1 275.5h0M255.5 237.3h0M251.3 237.2h0M263.1 242.9h0M260.2 245.3h0M252.0 234.1h0M271.7 265.5h0M291.9 266.3h0M279.4 263.7h0M252.6 237.4h0M269.5 250.4h0M246.3 240.3h0M269.9 254.1h0M265.0 261.3h0M267.1 260.8h0M271.2 253.1h0M275.6 251.5h0M256.2 233.1h0M274.9 253.8h0M302.0 275.0h0M257.5 262.8h0M289.3 259.7h0M274.8 272.6h0M262.1 261.0h0M227.7 212.7h0M301.2 288.1h0M282.8 263.6h0M263.8 249.1h0M310.2 273.6h0M247.8 230.5h0M237.9 233.1h0M266.6 247.2h0M242.5 225.7h0M286.1 255.4h0M247.2 259.6h0M279.9 253.4h0M281.0 262.3h0M237.9 233.4h0M239.4 220.1h0M275.6 260.0h0M215.3 192.4h0M215.4 204.6h0M313.8 276.8h0M243.9 239.9h0M240.3 223.7h0M289.6 277.7h0M293.9 271.6h0M241.6 224.6h0M296.7 265.2h0M302.9 273.5h0M288.5 274.9h0M311.2 276.0h0M268.7 268.6h0M265.1 244.0h0M237.7 224.3h0M253.5 239.2h0M280.9 259.3h0M304.4 271.0h0M228.1 209.4h0M236.3 231.4h0M284.8 260.9h0M348.3 292.9h0M263.0 252.9h0M255.0 238.2h0M227.7 208.2h0M269.8 249.8h0M242.2 234.6h0M319.4 281.5h0M272.8 256.2h0M252.9 236.3h0M281.6 256.5h0M277.4 252.4h0M245.5 235.9h0M278.7 257.6h0M263.7 246.9h0M265.9 252.6h0M284.1 288.4h0M255.3 237.0h0M279.9 271.3h0M295.1 263.7h0M250.3 231.5h0M271.8 253.7h0M271.7 252.6h0M243.3 217.4h0M294.5 300.2h0M232.9 221.8h0M286.6 261.2h0M288.1 268.8h0M294.1 265.6h0M277.8 260.2h0M293.2 272.1h0M289.8 276.5h0M295.7 290.1h0M267.1 250.8h0M248.5 260.0h0M284.5 258.9h0M258.6 243.9h0M262.4 248.5h0M259.2 241.4h0M291.6 265.2h0M260.7 244.4h0M255.9 237.8h0M279.5 256.3h0M280.8 258.1h0M285.9 266.4h0M261.6 246.0h0M262.6 247.2h0M257.4 256.8h0M247.8 230.9h0M235.7 218.8h0M254.3 242.9h0M276.2 269.5h0M286.8 281.1h0M256.2 238.1h0M311.5 273.9h0M264.9 263.0h0M282.7 275.4h0M256.5 252.9h0M225.1 209.7h0M252.8 237.0h0M287.3 279.6h0M307.8 274.3h0M272.3 254.4h0M259.1 236.2h0M245.8 237.0h0M243.5 247.0h0M291.7 259.6h0M285.3 266.0h0M306.2 267.3h0M242.8 227.7h0M282.3 257.0h0M311.2 276.2h0M247.5 245.8h0M278.2 256.5h0M311.8 274.2h0M253.8 235.9h0M325.1 285.0h0M273.7 252.0h0M271.6 255.0h0M293.8 273.2h0M260.5 242.3h0M311.0 283.4h0M310.7 270.7h0M265.2 257.4h0M277.7 256.7h0M214.7 194.4h0M272.3 256.8h0M233.2 207.9h0M242.4 226.5h0M290.2 265.0h0M259.4 238.4h0M296.7 289.9h0M283.6 262.6h0M270.8 251.9h0M273.5 248.8h0M278.9 261.8h0M311.5 291.5h0M264.0 257.4h0M294.8 270.6h0M295.7 270.8h0M242.9 227.5h0M249.4 230.0h0M286.3 264.3h0M260.0 232.8h0M254.9 237.8h0M277.5 265.1h0M284.5 258.9h0M280.8 262.3h0M279.7 280.6h0M285.3 269.0h0M299.7 268.9h0M275.4 249.8h0M287.7 263.0h0M223.7 198.3h0M287.9 257.6h0M228.0 212.0h0M260.7 247.0h0M218.5 191.7h0M276.5 279.8h0M289.3 261.8h0M259.3 239.2h0M248.9 225.6h0M225.9 220.5h0M221.8 198.0h0M258.2 239.9h0M290.6 275.8h0M283.1 262.4h0M340.1 281.8h0M229.1 204.4h0M245.5 231.2h0M268.3 249.4h0M305.3 275.5h0M298.9 289.2h0M277.4 250.4h0M281.2 259.7h0M264.7 242.4h0M297.6 270.4h0M308.8 267.7h0M298.4 268.2h0M230.5 219.6h0M303.8 271.1h0M219.1 196.7h0M216.1 190.6h0M267.9 251.9h0M221.4 198.9h0M283.4 270.4h0M296.4 274.6h0M269.1 249.1h0M340.1 288.6h0M215.9 184.6h0M275.1 260.2h0M225.3 208.7h0M277.4 258.6h0M299.4 268.9h0M242.5 222.8h0M293.8 270.4h0M275.1 261.9h0M216.9 191.3h0M243.9 232.8h0M254.0 243.1h0M253.3 238.3h0M249.4 236.0h0M277.1 255.1h0M278.9 260.9h0M306.0 273.8h0M299.9 267.0h0M306.9 266.1h0M278.5 254.3h0M220.3 194.0h0M260.0 247.1h0M281.8 283.5h0M258.9 240.3h0M243.3 230.1h0M232.0 218.5h0M298.2 268.5h0M238.3 223.7h0M300.2 303.8h0M286.2 257.0h0M300.5 269.1h0M278.9 260.2h0M274.6 248.3h0M306.4 277.9h0M273.4 250.7h0M298.2 270.5h0M294.5 261.9h0M244.3 227.7h0M252.5 246.2h0M223.4 199.0h0M260.6 247.1h0M283.8 258.6h0M280.8 252.4h0M266.7 252.9h0M252.9 242.9h0M256.7 242.2h0M277.0 255.3h0M262.8 251.9h0M262.0 243.8h0M250.2 242.6h0M271.1 251.6h0M346.5 290.4h0M275.2 246.8h0M248.7 243.2h0M255.3 236.3h0M222.4 204.6h0M273.1 262.4h0M252.6 240.1h0M285.7 278.7h0M255.5 260.1h0M264.0 239.4h0M261.7 246.3h0M243.5 229.5h0M268.9 248.2h0M273.1 250.5h0M254.1 235.9h0M324.6 287.3h0M271.4 247.2h0M255.1 234.5h0M258.2 266.0h0M285.8 262.3h0M353.8 292.0h0M281.9 272.7h0M266.1 246.7h0M304.2 269.9h0M314.9 272.6h0M253.2 241.2h0M253.1 258.8h0M265.4 251.7h0M244.1 232.4h0M306.4 267.3h0M245.4 229.2h0M271.1 254.4h0M338.6 290.6h0M242.6 224.5h0M286.1 264.1h0M219.4 195.7h0M313.0 279.4h0M293.9 270.6h0M317.9 279.8h0M283.8 260.6h0M273.6 251.9h0M241.3 226.8h0M257.3 240.4h0M225.4 219.9h0M268.7 245.5h0M262.7 246.9h0M229.3 213.9h0M292.7 269.9h0M275.7 258.8h0M255.5 235.3h0M248.6 234.5h0M283.1 273.8h0M269.0 273.1h0M282.9 257.0h0M233.4 212.4h0M265.2 249.8h0M287.2 260.6h0M304.1 272.0h0M217.9 190.8h0M300.5 267.0h0M258.9 247.1h0M258.7 243.9h0M296.0 277.4h0M241.4 226.4h0M254.0 258.3h0M261.8 245.8h0M282.4 256.8h0M257.1 246.3h0M259.6 240.2h0M267.0 248.5h0M245.4 228.9h0M267.5 257.3h0M278.4 261.0h0M284.7 261.8h0M286.0 264.5h0M279.4 249.2h0M259.7 243.7h0M257.2 251.4h0M254.0 234.4h0M260.1 262.6h0M263.2 246.8h0M247.3 227.6h0M237.4 243.8h0M293.2 264.4h0M280.1 260.1h0M282.7 260.4h0M289.6 260.6h0M260.1 247.8h0M288.7 266.5h0M298.8 291.7h0M282.2 252.1h0M279.7 259.3h0M314.9 278.4h0M270.0 244.1h0M285.9 273.9h0M251.0 235.3h0M292.3 274.9h0M318.2 276.0h0M287.1 280.7h0M222.3 198.9h0M305.8 275.3h0M284.6 263.8h0M261.7 250.4h0M276.2 253.8h0M297.9 272.9h0M325.5 275.9h0M232.4 209.8h0M272.0 248.0h0M287.0 270.2h0M252.5 242.9h0M280.9 257.0h0M215.2 188.2h0M263.8 240.4h0M237.4 220.2h0M224.0 204.2h0M263.9 238.6h0M229.3 216.7h0M322.7 278.5h0M251.4 243.3h0M301.1 268.4h0M318.1 275.0h0M228.0 209.4h0M274.0 272.3h0M276.1 265.2h0M295.9 266.9h0M251.0 235.3h0M235.7 234.0h0M296.5 284.5h0M267.2 248.8h0M260.5 242.6h0M250.6 239.8h0M295.8 275.4h0M269.2 248.6h0M277.6 252.2h0M257.9 250.6h0M257.4 259.2h0M281.2 265.4h0M294.4 271.7h0M293.7 264.8h0M280.9 262.2h0M312.1 285.1h0M269.7 268.6h0M267.7 278.2h0M253.3 229.2h0M259.9 258.0h0M291.1 276.0h0M303.8 272.7h0M247.5 229.5h0M308.1 274.0h0M291.3 259.7h0M232.9 232.1h0M215.3 196.7h0M217.7 173.3h0M220.2 199.5h0M216.1 196.9h0M214.6 177.3h0M219.8 173.2h0M220.1 191.7h0M216.1 186.9h0M220.4 206.4h0M220.0 188.4h0M223.5 196.5h0M218.0 201.5h0M219.1 206.9h0M218.4 193.2h0M219.5 198.5h0M218.3 190.1h0M217.2 192.9h0M220.9 203.9h0M218.4 195.0h0M219.8 203.3h0M219.7 192.3h0M217.3 188.1h0M221.5 190.9h0M227.9 171.1h0M219.1 205.1h0M222.2 208.6h0M215.5 199.3h0M216.2 181.4h0M219.2 202.8h0M216.6 189.3h0M220.7 201.0h0M221.5 169.8h0M222.1 178.2h0M222.7 203.6h0M221.9 195.6h0M215.4 172.0h0M220.7 188.7h0M211.4 191.9h0M216.0 205.4h0M219.1 172.3h0M219.3 196.0h0M218.1 178.8h0M221.9 204.6h0M223.7 202.0h0M219.8 196.1h0M220.8 190.7h0M217.1 170.1h0M219.1 182.5h0M219.5 193.8h0M219.8 169.0h0M218.3 193.8h0M217.5 193.9h0M220.5 189.6h0M219.8 173.3h0M217.0 179.8h0M219.6 199.8h0M222.3 202.5h0M216.6 193.4h0M218.7 194.0h0M220.2 204.1h0M220.8 199.1h0M217.4 191.8h0M218.7 197.6h0M218.9 174.7h0M218.7 172.8h0M223.7 205.7h0M219.2 200.4h0M221.0 187.1h0M222.0 204.1h0M220.2 196.9h0M218.2 175.7h0M223.5 202.0h0M218.0 207.1h0M219.2 201.0h0M217.9 201.7h0M219.6 194.4h0M219.0 201.8h0M220.2 204.4h0M223.6 186.0h0M215.1 192.2h0M220.1 177.0h0M216.2 192.1h0M214.7 197.0h0M219.7 193.9h0M222.1 196.3h0M216.0 182.9h0M213.7 191.8h0M216.3 182.5h0M216.5 199.6h0M216.6 191.4h0M217.6 177.9h0M217.3 191.4h0M217.9 194.5h0M215.4 177.0h0M220.1 185.3h0M218.9 201.6h0M220.6 174.5h0M218.0 189.1h0M214.7 190.6h0M219.0 206.2h0M216.8 192.7h0M217.9 198.6h0M213.9 171.6h0M218.6 197.2h0M218.2 178.3h0M220.0 176.0h0M224.1 171.0h0M223.8 193.4h0M219.0 192.6h0M216.3 185.8h0M218.0 195.1h0M224.7 208.4h0M220.7 191.0h0M217.7 188.1h0M219.3 177.8h0M224.3 169.9h0M219.2 187.2h0M219.0 209.1h0M219.4 193.6h0M222.8 179.2h0M221.2 199.2h0M217.8 190.9h0M219.3 169.6h0M222.7 192.8h0M218.1 203.8h0M219.2 184.3h0M218.1 201.4h0M215.0 194.1h0M217.4 171.6h0M218.3 186.0h0M220.7 186.0h0M218.8 169.0h0M221.6 199.0h0M223.7 169.7h0M215.4 195.4h0M217.1 183.8h0M217.1 188.8h0M221.5 202.0h0M219.4 183.0h0M219.5 176.0h0M220.0 194.8h0M216.6 177.4h0M214.6 206.6h0M221.6 198.2h0M217.6 197.4h0M218.2 172.8h0M216.5 189.9h0M215.3 171.2h0M219.3 209.6h0M217.8 195.4h0M217.7 184.7h0M219.8 196.8h0M217.6 184.1h0M219.6 199.6h0M221.0 196.3h0M223.8 204.5h0M214.3 206.6h0M217.4 207.8h0M216.8 187.5h0M216.4 192.5h0M219.3 198.5h0M219.0 198.9h0M218.8 193.8h0M213.2 183.7h0M220.0 193.4h0M221.1 192.4h0M214.0 186.1h0M214.6 194.6h0M222.0 184.2h0M216.6 175.8h0M317.6 314.2h0M321.4 312.3h0" stroke="#000" stroke-width="0.95" stroke-linecap="round" fill="none" opacity="0.85"/><path d="M437.4 269.3h0M411.4 254.3h0M420.8 274.3h0M406.8 230.8h0M392.2 236.3h0M413.9 244.5h0M423.3 219.2h0M427.4 263.4h0M406.1 212.4h0M418.7 263.5h0M403.6 268.7h0M401.4 216.7h0M396.3 248.2h0M438.3 258.5h0M395.4 221.0h0M446.9 273.6h0M402.6 250.2h0M404.9 253.5h0M446.9 280.5h0M410.0 246.5h0M398.4 257.7h0M422.5 264.0h0M434.9 256.0h0M415.8 245.2h0M413.6 266.1h0M413.5 274.2h0M436.0 281.2h0M415.4 252.2h0M398.1 222.8h0M392.0 195.2h0M390.2 199.2h0M439.5 268.5h0M399.0 199.7h0M454.1 277.7h0M415.7 254.4h0M395.3 235.8h0M414.7 232.3h0M404.6 252.8h0M430.0 245.0h0M384.2 254.8h0M437.0 260.2h0M389.2 269.3h0M404.3 252.4h0M411.0 257.2h0M411.8 263.5h0M443.3 272.2h0M434.4 292.9h0M396.4 234.5h0M395.2 204.1h0M388.2 280.4h0M451.9 266.8h0M426.1 259.4h0M393.2 201.0h0M401.3 251.2h0M413.4 259.5h0M409.2 241.4h0M419.7 253.6h0M407.5 229.9h0M425.9 257.0h0M395.6 223.1h0M415.4 256.9h0M432.2 266.9h0M435.1 250.4h0M455.0 256.5h0M395.9 226.0h0M406.3 226.5h0M433.2 281.4h0M399.7 222.3h0M405.1 230.3h0M416.2 248.2h0M452.8 274.5h0M459.2 259.3h0M402.9 220.9h0M399.2 193.8h0M424.9 274.7h0M403.7 248.9h0M407.2 270.0h0M442.2 272.9h0M432.6 260.5h0M393.9 211.2h0M439.5 254.8h0M408.4 251.8h0M401.8 284.2h0M396.3 211.5h0M473.3 253.8h0M417.2 254.3h0M387.4 253.8h0M388.2 246.9h0M422.4 252.1h0M407.0 222.9h0M431.7 263.7h0M414.7 263.3h0M421.0 262.0h0M406.3 217.0h0M414.7 266.8h0M406.4 226.9h0M429.0 260.7h0M415.6 256.2h0M436.0 246.8h0M387.5 275.4h0M429.0 267.0h0M418.9 261.2h0M410.3 232.2h0M404.8 273.2h0M391.2 241.9h0M399.7 221.1h0M425.4 276.1h0M418.6 220.5h0M388.9 255.9h0M398.9 245.5h0M486.2 263.8h0M402.6 226.8h0M388.0 272.0h0M411.2 244.3h0M401.8 232.5h0M434.7 261.5h0M404.7 244.7h0M403.5 237.9h0M429.7 260.7h0M438.3 282.4h0M407.8 232.8h0M452.0 294.0h0M468.2 265.7h0M471.3 259.2h0M411.5 281.3h0M415.1 234.9h0M409.1 247.0h0M399.5 226.3h0M455.2 276.5h0M396.8 255.6h0M400.3 213.6h0M427.3 295.5h0M406.1 259.9h0M397.5 194.5h0M404.9 242.4h0M433.6 268.9h0M404.6 259.2h0M402.8 227.9h0M400.9 208.4h0M419.3 259.0h0M415.1 246.0h0M390.3 211.0h0M400.1 203.3h0M437.6 230.7h0M388.3 261.1h0M427.0 257.0h0M444.5 286.5h0M409.9 239.7h0M393.1 232.5h0M405.2 246.6h0M484.9 284.4h0M405.2 252.7h0M420.2 258.7h0M426.9 255.5h0M448.5 261.2h0M425.1 264.9h0M405.2 239.9h0M416.7 223.1h0M399.2 249.7h0M395.7 250.6h0M391.5 201.8h0M392.4 247.4h0M406.1 217.1h0M398.3 223.7h0M419.6 246.3h0M407.6 275.2h0M413.6 260.5h0M408.5 230.8h0M438.8 268.5h0M390.8 253.5h0M473.9 262.6h0M392.3 239.4h0M432.4 257.0h0M398.4 248.6h0M420.8 257.1h0M402.7 207.4h0M391.7 207.9h0M486.2 275.1h0M411.4 208.0h0M417.0 271.2h0M422.3 262.7h0M428.8 285.5h0M403.1 246.4h0M401.1 233.5h0M399.7 234.6h0M389.1 183.0h0M447.1 244.7h0M430.0 266.2h0M404.4 230.4h0M419.2 258.6h0M412.5 239.7h0M406.3 249.2h0M423.2 245.4h0M424.6 218.0h0M384.6 209.9h0M396.9 251.6h0M392.2 193.8h0M439.8 271.6h0M411.6 240.5h0M384.2 228.0h0M388.5 202.0h0M415.2 265.2h0M426.3 259.7h0M444.3 275.5h0M453.0 285.7h0M418.5 248.2h0M404.1 240.3h0M398.8 255.7h0M436.9 266.1h0M390.4 234.6h0M410.2 228.8h0M403.0 275.6h0M409.9 244.3h0M442.6 269.7h0M409.0 235.4h0M439.4 275.1h0M415.1 242.0h0M452.4 245.5h0M427.3 279.2h0M435.4 264.6h0M395.8 216.6h0M425.0 255.3h0M407.3 242.8h0M384.7 223.6h0M412.1 237.8h0M474.0 267.0h0M420.5 255.6h0M415.0 251.7h0M410.2 237.6h0M424.7 264.0h0M419.0 261.6h0M399.4 249.7h0M413.9 267.3h0M429.6 258.1h0M413.1 239.5h0M425.5 260.9h0M473.9 257.3h0M442.4 274.6h0M423.2 252.1h0M408.3 226.4h0M471.8 259.3h0M431.2 268.8h0M398.0 216.2h0M384.2 280.9h0M422.2 269.8h0M423.8 249.7h0M410.6 236.4h0M412.6 257.7h0M393.6 196.7h0M409.9 240.1h0M430.8 251.6h0M437.8 266.2h0M405.7 228.0h0M448.4 280.5h0M391.6 274.3h0M416.7 253.3h0M414.2 249.3h0M403.7 227.2h0M407.4 256.4h0M387.4 220.2h0M425.2 246.3h0M427.0 263.4h0M425.3 262.6h0M392.3 252.0h0M427.7 260.1h0M397.7 278.4h0M417.8 252.8h0M398.0 247.0h0M422.8 261.2h0M396.0 236.6h0M413.1 245.5h0M422.1 276.3h0M412.9 244.7h0M404.5 237.1h0M390.9 198.7h0M423.7 247.1h0M405.1 250.3h0M409.3 242.2h0M408.0 238.6h0M392.9 258.2h0M403.9 242.8h0M430.3 227.1h0M422.5 250.1h0M403.6 283.6h0M401.3 228.3h0M389.6 191.8h0M402.5 246.4h0M467.1 281.1h0M405.7 261.3h0M415.0 250.0h0M467.0 291.6h0M415.2 237.4h0M399.2 262.7h0M462.4 280.5h0M407.8 226.2h0M406.4 221.5h0M434.6 267.1h0M420.3 255.8h0M474.2 254.7h0M421.3 247.8h0M459.1 291.0h0M398.9 279.1h0M389.3 192.3h0M400.3 207.7h0M404.8 237.0h0M409.9 238.5h0M390.8 212.2h0M415.8 243.0h0M426.1 227.6h0M405.1 252.0h0M409.2 251.1h0M416.2 254.6h0M425.4 243.7h0M423.6 256.1h0M408.6 256.1h0M410.9 241.7h0M424.3 276.4h0M434.6 261.1h0M433.9 270.3h0M390.7 222.7h0M436.0 260.6h0M414.5 261.2h0M385.4 247.3h0M411.4 262.3h0M439.3 270.1h0M425.3 278.0h0M401.7 238.7h0M400.3 255.2h0M442.7 282.7h0M420.4 246.0h0M434.3 264.5h0M411.9 244.5h0M384.2 228.6h0M485.1 277.3h0M407.5 246.2h0M391.1 221.7h0M430.3 271.3h0M407.5 236.1h0M456.1 285.7h0M413.4 252.4h0M424.0 253.0h0M395.7 233.9h0M415.6 262.7h0M439.0 278.1h0M392.6 243.9h0M385.8 187.5h0M420.0 261.4h0M438.1 238.6h0M422.9 260.1h0M433.8 271.0h0M393.2 204.3h0M417.7 247.8h0M404.3 251.2h0M412.1 236.5h0M391.0 188.3h0M411.3 231.7h0M402.8 242.3h0M412.3 254.0h0M407.6 232.7h0M407.2 249.6h0M401.9 260.3h0M412.3 265.6h0M439.7 272.4h0M390.8 231.8h0M387.7 193.9h0M407.4 234.7h0M422.7 256.6h0M407.0 233.8h0M418.2 280.5h0M491.2 272.0h0M395.4 264.4h0M404.4 241.3h0M427.4 277.6h0M428.1 251.7h0M445.2 270.8h0M422.0 228.2h0M432.7 263.3h0M390.0 248.4h0M424.3 245.8h0M430.5 258.8h0M440.5 270.8h0M404.3 237.2h0M439.2 262.3h0M441.5 259.6h0M387.3 220.5h0M384.2 195.9h0M432.4 275.2h0M413.2 269.1h0M398.4 232.7h0M405.7 226.4h0M421.0 250.0h0M418.5 245.2h0M403.4 220.2h0M416.5 236.5h0M397.6 238.4h0M411.3 240.1h0M426.5 253.1h0M412.2 248.2h0M404.3 264.2h0M421.4 259.0h0M422.7 276.7h0M423.4 243.0h0M411.4 236.4h0M425.7 222.0h0M425.9 255.3h0M415.1 252.5h0M402.4 247.2h0M426.9 264.1h0M396.3 206.1h0M479.2 283.5h0M499.5 277.2h0M394.0 265.3h0M429.0 253.6h0M432.7 270.9h0M400.9 270.8h0M420.0 269.4h0M483.9 268.2h0M421.2 252.4h0M408.6 215.2h0M410.0 264.9h0M449.8 242.0h0M416.6 249.9h0M449.0 268.0h0M390.6 195.4h0M398.2 256.2h0M468.7 263.9h0M478.0 264.8h0M398.9 228.0h0M440.6 250.0h0M454.2 280.7h0M403.7 206.7h0M390.8 202.3h0M411.0 267.5h0M420.3 254.6h0M459.6 276.7h0M442.0 279.2h0M417.0 251.3h0M386.4 272.7h0M395.4 220.9h0M412.4 261.5h0M419.1 254.4h0M405.7 230.1h0M424.4 264.3h0M390.8 240.4h0M415.1 271.9h0M405.7 256.1h0M408.7 250.1h0M415.0 223.8h0M389.5 212.7h0M394.7 189.3h0M412.8 260.2h0M486.1 262.4h0M429.1 250.7h0M423.8 254.3h0M441.1 270.1h0M391.8 192.3h0M393.1 231.6h0M434.7 272.1h0M419.0 245.3h0M386.8 221.5h0M408.0 251.9h0M414.0 244.5h0M418.4 274.8h0M451.5 245.9h0M422.3 254.9h0M423.7 262.9h0M425.6 264.4h0M406.2 235.6h0M420.2 251.5h0M400.2 246.1h0M419.9 254.7h0M409.5 229.3h0M400.9 243.5h0M423.2 255.5h0M427.3 277.8h0M422.5 221.1h0M424.9 252.5h0M417.1 261.7h0M410.9 240.9h0M405.0 265.6h0M390.2 185.5h0M433.6 253.5h0M430.4 256.5h0M410.4 255.2h0M445.1 268.6h0M414.1 266.5h0M466.1 253.0h0M466.8 284.3h0M393.5 212.4h0M409.3 277.2h0M451.7 291.9h0M424.6 217.7h0M446.9 277.2h0M399.4 246.4h0M424.0 251.4h0M400.4 201.3h0M403.8 264.1h0M476.0 277.5h0M410.0 263.6h0M399.1 240.9h0M390.7 270.1h0M412.9 239.7h0M438.5 263.3h0M387.2 202.1h0M415.5 243.5h0M384.4 259.2h0M467.6 249.1h0M465.6 246.9h0M431.7 269.7h0M400.4 257.8h0M460.9 286.4h0M432.1 286.1h0M387.5 228.4h0M407.1 245.4h0M385.0 206.5h0M400.1 245.7h0M386.9 241.7h0M436.2 270.2h0M437.5 279.7h0M434.3 266.9h0M411.6 254.5h0M410.1 250.0h0M409.8 276.5h0M394.4 218.4h0M409.2 257.4h0M418.4 243.6h0M416.8 259.6h0M391.5 205.2h0M403.9 253.0h0M408.5 233.7h0M446.9 256.6h0M443.8 266.5h0M442.7 243.0h0M417.4 245.7h0M439.2 263.6h0M385.2 196.0h0M448.7 278.3h0M389.6 230.4h0M393.4 203.2h0M411.4 262.4h0M438.2 289.7h0M388.5 223.8h0M397.4 236.8h0M422.9 266.4h0M412.0 210.2h0M403.6 263.5h0M430.2 262.3h0M389.3 212.2h0M406.3 251.8h0M398.6 219.4h0M418.1 242.5h0M428.5 271.4h0M413.8 261.8h0M451.5 286.2h0M443.4 288.3h0M387.5 273.2h0M400.6 256.7h0M406.8 239.1h0M396.5 219.6h0M473.6 265.3h0M397.3 275.1h0M423.3 252.8h0M405.7 242.7h0M418.3 234.1h0M507.8 268.7h0M410.9 236.6h0M405.5 247.8h0M399.6 225.8h0M427.1 259.3h0M400.1 269.5h0M427.7 253.4h0M496.7 266.5h0M413.6 256.2h0M392.8 196.4h0M417.2 264.2h0M398.9 200.3h0M398.2 249.5h0M421.8 245.5h0M389.3 216.0h0M412.5 241.1h0M491.0 265.4h0M407.4 233.0h0M417.4 248.2h0M407.6 252.0h0M413.7 246.6h0M404.7 244.4h0M396.7 243.9h0M409.6 266.0h0M390.3 274.6h0M397.9 233.6h0M386.4 209.8h0M409.9 245.9h0M404.2 225.8h0M438.3 280.3h0M495.5 274.0h0M392.1 186.4h0M404.9 247.2h0M394.0 209.6h0M499.6 279.4h0M428.2 271.8h0M407.9 238.5h0M467.3 291.3h0M401.6 227.2h0M399.6 259.6h0M400.0 271.0h0M415.5 236.9h0M416.3 249.3h0M397.0 259.2h0M401.3 197.3h0M397.6 246.0h0M388.1 231.0h0M417.5 244.9h0M421.3 258.9h0M450.7 269.1h0M456.8 284.6h0M443.9 236.5h0M419.8 254.6h0M437.5 282.9h0M406.1 243.3h0M417.1 242.2h0M409.8 250.9h0M453.7 269.5h0M409.5 250.4h0M389.4 243.6h0M413.5 244.4h0M394.5 227.8h0M426.3 223.1h0M428.4 256.8h0M422.3 259.4h0M403.9 267.5h0M421.5 229.4h0M405.9 243.7h0M391.8 235.4h0M414.7 250.3h0M418.2 250.3h0M406.9 234.4h0M472.2 263.7h0M429.0 261.6h0M447.0 255.3h0M402.3 279.9h0M386.3 193.2h0M420.1 267.1h0M413.7 244.3h0M407.0 227.1h0M414.9 238.5h0M444.7 274.2h0M384.2 241.7h0M412.0 274.8h0M406.8 244.1h0M408.5 278.8h0M432.1 267.3h0M406.2 232.8h0M394.1 284.1h0M430.6 262.0h0M417.7 255.0h0M395.1 256.4h0M426.6 261.5h0M418.2 250.7h0M402.9 229.9h0M408.1 231.1h0M438.8 246.9h0M432.9 276.1h0M457.1 280.2h0M387.8 249.4h0M452.4 282.6h0M384.2 250.6h0M396.0 227.2h0M410.8 248.4h0M485.8 285.0h0M420.8 220.2h0M411.2 233.3h0M412.9 267.4h0M405.8 245.7h0M402.6 263.1h0M391.4 199.5h0M391.8 205.6h0M409.6 264.0h0M397.3 212.4h0M387.1 177.2h0M427.2 259.3h0M430.7 279.0h0M394.7 215.2h0M470.3 262.1h0M439.3 266.7h0M446.5 278.9h0M403.1 258.7h0M401.0 224.0h0M412.5 248.3h0M396.5 237.6h0M391.4 229.3h0M384.2 266.9h0M490.6 282.1h0M438.1 258.3h0M452.0 247.5h0M425.2 228.1h0M427.7 253.6h0M393.8 198.6h0M411.3 263.2h0M433.3 284.9h0M394.1 206.0h0M390.6 256.0h0M388.0 266.6h0M415.2 282.1h0M391.6 247.1h0M392.8 224.1h0M401.9 243.5h0M420.8 252.1h0M478.6 264.0h0M428.4 254.8h0M390.3 226.5h0M447.8 278.5h0M405.5 247.3h0M474.7 276.1h0M498.3 290.3h0M394.4 220.3h0M413.0 246.2h0M420.2 244.9h0M398.9 228.3h0M388.9 187.3h0M429.9 265.1h0M390.4 189.7h0M427.2 272.2h0M420.3 258.1h0M475.5 261.2h0M416.4 258.4h0M407.4 260.2h0M477.0 257.3h0M404.3 248.0h0M424.6 264.0h0M412.7 234.2h0M404.8 226.6h0M406.8 228.4h0M418.7 263.0h0M456.4 287.9h0M456.6 268.5h0M424.1 269.4h0M393.7 210.6h0M420.0 261.7h0M447.0 244.9h0M433.2 261.2h0M389.2 207.6h0M402.8 220.8h0M419.2 234.1h0M385.6 260.3h0M420.8 245.1h0M409.6 211.5h0M414.2 246.2h0M390.6 213.4h0M436.4 268.1h0M417.1 255.4h0M406.1 244.2h0M449.3 277.1h0M425.2 269.5h0M420.6 246.6h0M393.1 202.4h0M414.4 237.0h0M404.8 222.4h0M411.7 244.5h0M408.4 275.0h0M470.5 265.9h0M443.9 258.5h0M391.4 182.3h0M419.5 259.5h0M389.8 255.7h0M394.8 267.8h0M414.0 279.3h0M386.5 252.0h0M412.9 230.7h0M405.5 270.3h0M400.7 228.4h0M456.1 269.7h0M426.8 254.7h0M407.1 232.0h0M423.0 281.9h0M471.8 295.7h0M406.9 244.9h0M454.0 279.0h0M445.1 276.4h0M411.2 250.3h0M391.3 195.0h0M465.7 273.7h0M394.3 223.8h0M399.5 241.1h0M427.8 252.8h0M419.7 272.8h0M441.5 238.8h0M413.9 244.6h0M401.3 255.7h0M396.0 242.1h0M452.9 283.6h0M391.3 279.0h0M391.5 206.9h0M420.6 263.2h0M464.2 262.1h0M422.6 258.8h0M475.3 299.1h0M459.4 251.3h0M410.9 247.0h0M424.9 259.3h0M390.5 246.4h0M395.8 258.9h0M435.1 285.1h0M385.9 187.1h0M463.3 282.5h0M421.8 260.0h0M450.5 296.8h0M422.7 267.5h0M445.1 273.6h0M433.3 279.8h0M387.0 263.0h0M412.1 242.7h0M390.7 202.7h0M407.4 253.0h0M406.8 256.1h0M403.4 268.3h0M392.6 187.4h0M437.2 260.7h0M414.2 269.2h0M440.4 264.0h0M412.9 263.7h0M384.2 287.8h0M417.4 235.8h0M412.0 248.0h0M400.2 240.5h0M408.3 246.4h0M401.0 241.8h0M394.8 217.5h0M394.4 189.4h0M429.5 253.2h0M405.6 248.7h0M414.4 262.9h0M396.1 228.7h0M436.8 274.3h0M429.2 250.5h0M388.4 182.2h0M432.2 276.9h0M470.0 285.4h0M395.6 233.1h0M410.8 264.0h0M426.1 280.5h0M473.5 257.3h0M396.2 193.7h0M418.8 258.0h0M384.2 246.2h0M428.3 256.4h0M408.4 228.4h0M401.0 232.2h0M400.4 245.5h0M432.1 266.0h0M386.4 249.4h0M397.5 224.0h0M398.8 262.9h0M408.7 255.9h0M469.7 270.2h0M408.5 230.4h0M390.2 202.0h0M412.1 227.4h0M445.8 261.7h0M440.0 286.9h0M407.4 229.5h0M396.7 202.6h0M400.7 225.6h0M415.0 250.6h0M432.5 286.0h0M410.6 230.3h0M385.7 192.1h0M408.3 281.1h0M391.6 210.5h0M428.7 266.8h0M455.8 282.2h0M419.7 263.6h0M434.8 297.5h0M430.1 263.5h0M406.6 234.3h0M439.3 264.8h0M395.4 186.5h0M420.2 236.6h0M462.1 255.7h0M417.4 247.6h0M384.4 281.8h0M389.8 273.7h0M422.3 242.0h0M406.0 239.5h0M451.5 253.4h0M436.6 287.7h0M413.8 257.4h0M395.2 206.8h0M430.7 253.7h0M460.9 253.7h0M478.6 263.6h0M413.2 275.8h0M414.1 243.7h0M394.5 212.0h0M398.5 259.9h0M400.8 266.2h0M414.0 251.9h0M418.8 278.0h0M420.4 248.1h0M399.6 221.9h0M413.5 234.2h0M401.4 239.2h0M389.4 204.6h0M456.1 250.0h0M406.5 247.1h0M416.9 251.0h0M412.7 267.0h0M433.4 275.0h0M422.9 232.9h0M430.2 262.0h0M402.0 244.8h0M384.9 251.3h0M390.6 242.2h0M387.2 208.1h0M430.6 289.3h0M411.3 233.4h0M403.3 222.9h0M453.6 238.5h0M487.2 266.2h0M389.1 196.4h0M413.3 239.6h0M432.8 286.8h0M408.1 209.9h0M453.1 283.2h0M407.7 248.1h0M407.7 246.2h0M419.1 291.8h0M402.2 268.8h0M411.4 251.6h0M469.4 257.6h0M402.7 265.6h0M433.4 252.2h0M393.9 228.5h0M409.4 248.1h0M416.2 241.5h0M428.6 273.6h0M392.4 210.6h0M417.0 260.1h0M434.1 242.0h0M395.3 239.6h0M419.9 242.9h0M426.9 272.5h0M405.4 223.4h0M399.5 235.1h0M412.5 249.8h0M476.2 257.4h0M397.7 254.0h0M410.6 246.9h0M413.9 263.1h0M384.5 241.6h0M407.7 233.6h0M396.8 219.9h0M414.0 238.9h0M439.9 277.7h0M384.3 247.2h0M418.2 262.8h0M405.5 258.0h0M411.1 267.5h0M404.7 228.5h0M420.1 259.8h0M392.1 202.1h0M385.7 266.4h0M413.1 257.9h0M424.1 278.1h0M460.1 254.1h0M405.0 239.5h0M432.8 258.2h0M418.5 290.0h0M419.0 250.8h0M394.8 203.6h0M392.3 228.6h0M412.8 235.8h0M416.3 247.3h0M437.7 242.4h0M400.9 250.6h0M429.2 284.2h0M438.0 255.5h0M398.0 226.4h0M439.5 263.7h0M410.9 254.4h0M412.0 253.2h0M412.5 235.0h0M418.5 259.0h0M431.2 260.4h0M389.4 235.6h0M418.8 236.7h0M412.3 251.4h0M403.2 225.9h0M415.6 255.3h0M405.1 229.9h0M388.7 241.8h0M441.6 266.6h0M432.5 256.5h0M438.4 265.7h0M411.8 248.3h0M384.2 212.1h0M415.9 267.4h0M430.6 283.4h0M396.0 223.2h0M385.8 209.8h0M422.5 271.3h0M459.8 253.7h0M421.6 253.1h0M398.2 229.6h0M393.7 229.7h0M395.8 289.1h0M405.0 241.1h0M418.5 275.7h0M421.4 261.4h0M410.3 249.4h0M398.1 257.9h0M459.3 256.2h0M388.6 196.1h0M387.2 249.0h0M386.1 251.7h0M408.0 275.8h0M399.1 204.9h0M395.1 225.5h0M435.0 289.3h0M390.0 196.0h0M413.9 255.6h0M398.8 255.0h0M464.6 263.4h0M439.0 259.3h0M421.9 247.8h0M419.3 265.9h0M452.8 275.8h0M463.5 286.2h0M405.7 241.9h0M384.7 223.9h0M410.7 275.2h0M414.3 264.5h0M425.7 259.7h0M422.9 259.1h0M415.6 258.5h0M402.7 239.6h0M396.8 214.4h0M410.3 250.1h0M403.4 248.7h0M393.6 211.6h0M396.3 240.3h0M429.6 268.8h0M464.9 271.3h0M388.5 272.0h0M393.5 209.4h0M385.3 184.0h0M418.2 261.5h0M392.5 272.9h0M399.9 243.4h0M458.3 270.4h0M396.6 250.3h0M451.6 250.5h0M407.7 277.9h0M413.8 240.1h0M418.4 250.6h0M400.7 239.2h0M468.6 264.6h0M403.4 271.2h0M410.9 240.9h0M400.0 262.0h0M434.4 296.1h0M399.7 224.8h0M421.6 251.3h0M444.3 282.4h0M391.7 201.8h0M389.5 239.9h0M408.7 276.1h0M391.3 267.3h0M399.5 227.4h0M416.5 250.0h0M426.6 253.4h0M441.0 279.7h0M405.8 229.8h0M433.9 273.3h0M407.6 261.7h0M490.0 272.1h0M422.1 267.1h0M448.9 241.8h0M418.4 258.5h0M411.1 240.4h0M398.9 262.9h0M433.4 273.0h0M414.0 243.1h0M412.7 230.5h0M440.2 236.7h0M416.6 248.5h0M439.8 262.1h0M489.2 271.2h0M393.5 262.0h0M411.4 275.0h0M440.3 262.6h0M419.7 259.7h0M462.2 258.5h0M404.3 250.1h0M416.4 255.2h0M411.4 247.0h0M419.6 276.6h0M396.8 262.1h0M412.6 254.2h0M421.6 220.8h0M422.8 258.3h0M428.0 281.1h0M400.6 227.2h0M433.5 258.5h0M436.8 266.2h0M394.6 279.7h0M406.1 246.9h0M411.7 255.9h0M407.7 269.3h0M391.2 182.7h0M396.0 257.8h0M405.4 246.7h0M409.9 228.7h0M420.4 245.5h0M388.7 256.7h0M385.0 200.8h0M455.3 278.0h0M401.0 269.6h0M450.9 278.4h0M408.6 239.3h0M464.3 249.5h0M439.1 234.4h0M419.6 244.9h0M422.4 239.2h0M420.0 263.5h0M404.8 274.2h0M442.5 269.0h0M464.3 284.0h0M427.3 282.8h0M416.1 242.4h0M396.5 273.4h0M453.1 244.3h0M429.8 228.6h0M391.4 209.4h0M423.5 225.4h0M391.9 237.8h0M404.8 245.1h0M396.4 209.0h0M423.5 274.8h0M432.2 273.7h0M408.0 234.8h0M391.2 242.6h0M393.5 214.0h0M441.6 280.0h0M394.0 196.4h0M416.9 260.7h0M384.2 191.3h0M394.0 205.5h0M421.1 249.8h0M414.4 256.1h0M449.8 275.6h0M408.6 279.7h0M419.3 267.0h0M425.5 265.3h0M394.7 242.2h0M385.7 193.7h0M407.6 236.7h0M409.9 242.7h0M443.2 275.3h0M432.1 268.2h0M397.1 230.6h0M430.9 257.6h0M414.7 248.3h0M396.2 211.5h0M387.3 243.7h0M441.7 279.6h0M422.5 240.6h0M391.3 260.4h0M404.7 259.8h0M435.4 241.7h0M424.6 260.0h0M413.2 214.3h0M412.5 242.6h0M395.5 214.1h0M411.3 262.1h0M419.4 252.8h0M439.7 275.0h0M421.1 289.7h0M478.5 264.7h0M449.7 245.8h0M390.0 240.4h0M406.7 222.5h0M397.0 225.3h0M395.8 200.8h0M405.6 233.9h0M402.5 234.5h0M420.1 260.3h0M395.3 212.5h0M419.6 260.2h0M423.8 250.6h0M404.1 231.6h0M413.7 260.5h0M407.8 223.9h0M393.9 196.0h0M419.9 246.1h0M413.1 241.3h0M412.9 253.7h0M421.1 246.5h0M437.1 256.6h0M386.6 251.3h0M420.6 249.2h0M390.4 215.4h0M401.6 267.4h0M405.7 256.8h0M399.7 214.2h0M414.1 241.2h0M408.3 254.7h0M415.1 240.7h0M412.1 260.6h0M404.2 205.3h0M403.6 224.1h0M438.8 261.0h0M418.9 263.0h0M429.9 258.2h0M418.0 248.1h0M428.1 261.6h0M389.9 254.8h0M389.3 228.9h0M414.1 241.4h0M397.3 257.4h0M398.9 227.7h0M392.8 271.4h0M417.9 260.4h0M413.8 244.5h0M443.7 245.8h0M420.6 278.0h0M444.9 271.7h0M397.0 228.5h0M424.2 250.5h0M419.5 243.5h0M430.4 275.3h0M396.1 234.7h0M418.9 245.4h0M410.8 270.4h0M414.4 239.5h0M449.1 255.3h0M420.3 255.6h0M392.0 199.7h0M438.8 293.4h0M405.2 228.5h0M428.9 269.0h0M407.5 227.0h0M422.1 255.2h0M421.4 265.8h0M488.0 268.3h0M389.7 195.0h0M401.7 219.6h0M394.5 242.4h0M416.6 241.1h0M386.0 246.3h0M430.0 264.0h0M407.2 262.8h0M393.7 246.0h0M427.3 280.8h0M394.9 256.6h0M393.8 256.4h0M414.0 275.3h0M413.4 237.2h0M395.4 194.3h0M407.5 230.4h0M460.9 251.5h0M392.9 229.4h0M395.3 196.5h0M397.7 253.9h0M386.4 267.5h0M406.6 247.2h0M402.1 234.1h0M401.9 227.7h0M414.0 272.9h0M422.6 259.9h0M415.9 275.0h0M413.2 253.1h0M418.6 239.2h0M404.5 265.2h0M418.0 251.4h0M400.9 221.5h0M468.3 262.9h0M410.7 238.0h0M425.4 252.3h0M401.0 232.8h0M389.6 256.6h0M413.9 239.7h0M399.9 242.4h0M392.9 222.6h0M432.0 264.7h0M445.7 279.7h0M466.1 259.1h0M412.3 257.3h0M424.6 277.0h0M392.9 248.3h0M394.2 212.0h0M391.6 190.0h0M406.1 273.7h0M443.7 236.4h0M409.8 261.7h0M427.4 256.1h0M425.0 266.7h0M404.0 223.0h0M407.6 260.3h0M390.1 237.4h0M456.8 259.1h0M417.0 238.0h0M457.3 250.0h0M411.9 272.1h0M399.9 255.0h0M418.2 248.5h0M432.8 269.1h0M415.2 242.4h0M432.3 269.6h0M402.2 245.8h0M423.5 265.8h0M457.7 258.4h0M439.8 271.4h0M405.7 265.8h0M441.8 254.6h0M400.6 227.4h0M394.9 217.0h0M389.6 213.6h0M457.3 253.6h0M421.5 269.9h0M411.3 234.9h0M386.1 242.8h0M417.2 279.4h0M422.4 253.5h0M413.4 255.0h0M406.2 244.4h0M418.1 256.6h0M417.2 231.0h0M396.3 221.6h0M405.3 265.8h0M414.1 218.3h0M405.7 239.2h0M400.8 240.2h0M440.7 254.1h0M494.7 291.0h0M386.7 287.2h0M409.1 244.4h0M434.1 271.0h0M402.9 264.4h0M429.6 253.2h0M401.1 225.0h0M399.1 270.7h0M389.8 217.7h0M433.3 291.5h0M390.8 205.5h0M422.9 249.2h0M439.2 272.2h0M407.7 235.4h0M386.3 223.7h0M421.5 246.8h0M443.0 271.4h0M454.4 245.7h0M446.3 253.8h0M449.7 293.6h0M409.2 277.4h0M418.1 255.3h0M436.7 262.7h0M418.4 251.1h0M407.8 239.0h0M392.3 236.6h0M426.1 255.6h0M431.8 261.2h0M418.0 244.0h0M412.8 253.0h0M413.3 246.4h0M399.8 248.6h0M403.8 227.7h0M409.6 284.9h0M391.2 221.6h0M408.5 240.3h0M412.8 234.3h0M427.1 268.3h0M394.7 239.2h0M429.5 279.9h0M392.0 247.2h0M416.6 241.1h0M413.8 253.7h0M408.0 236.0h0M388.8 185.4h0M429.1 267.0h0M428.1 259.5h0M501.3 270.4h0M422.1 260.6h0M394.2 211.8h0M398.4 233.5h0M420.6 246.3h0M388.9 190.0h0M412.2 257.9h0M393.4 223.6h0M405.9 240.8h0M406.0 260.8h0M420.5 265.3h0M438.1 276.2h0M411.0 238.3h0M415.1 273.6h0M399.7 281.3h0M408.7 265.5h0M401.3 220.7h0M430.4 271.0h0M397.8 269.7h0M401.2 233.6h0M435.6 261.1h0M399.7 215.3h0M399.2 224.1h0M433.0 260.0h0M401.1 241.5h0M426.3 255.6h0M447.4 276.0h0M405.3 252.0h0M443.5 246.4h0M412.8 238.3h0M389.0 237.4h0M459.4 253.6h0M386.4 211.9h0M451.1 281.0h0M446.8 275.4h0M396.3 224.3h0M439.1 247.8h0M426.6 270.5h0M436.5 231.5h0M409.9 231.2h0M429.9 261.7h0M418.1 256.5h0M432.6 269.5h0M401.2 219.2h0M395.4 244.4h0M407.5 252.1h0M417.2 252.9h0M433.8 273.7h0M413.0 289.3h0M386.7 256.8h0M423.8 262.8h0M422.3 261.7h0M471.8 262.7h0M415.3 261.8h0M404.3 214.5h0M403.0 239.3h0M423.1 275.4h0M406.3 277.4h0M386.9 258.6h0M402.9 242.2h0M403.8 251.5h0M419.0 272.0h0M441.6 286.0h0M410.9 235.1h0M406.8 236.3h0M398.8 252.0h0M409.5 251.4h0M393.8 234.8h0M404.1 242.0h0M424.4 262.6h0M407.1 255.7h0M416.1 263.8h0M410.0 261.2h0M409.6 218.5h0M418.4 263.3h0M409.7 271.5h0M402.0 225.2h0M422.8 270.1h0M446.6 275.7h0M400.5 233.5h0M391.1 262.5h0M392.6 218.1h0M439.7 268.7h0M430.0 268.1h0M477.5 282.0h0M405.3 253.9h0M395.9 237.4h0M407.1 249.5h0M415.8 274.5h0M395.4 221.2h0M400.4 245.9h0M401.3 258.4h0M404.5 246.3h0M413.6 268.2h0M399.0 220.9h0M444.5 275.0h0M444.4 266.1h0M416.0 242.9h0M432.9 274.2h0M396.7 235.2h0M407.7 242.1h0M398.1 234.7h0M425.4 245.6h0M392.6 212.9h0M393.9 247.8h0M424.3 254.9h0M390.3 242.0h0M414.1 253.6h0M405.4 224.4h0M405.8 243.7h0M406.4 251.2h0M461.2 274.9h0M407.2 231.6h0M413.7 243.2h0M425.7 257.8h0M462.5 258.1h0M424.1 249.3h0M438.6 283.6h0M417.4 245.0h0M423.3 250.5h0M427.6 253.1h0M407.9 264.4h0M415.6 267.9h0M416.8 281.4h0M417.6 258.0h0M398.6 263.6h0M426.3 258.9h0M414.7 255.3h0M408.8 260.1h0M417.7 225.4h0M442.8 265.2h0M412.2 252.3h0M419.4 259.8h0M435.7 260.9h0M396.2 218.3h0M433.1 268.1h0M468.1 280.1h0M391.5 251.0h0M390.9 195.2h0M430.1 269.9h0M391.4 192.7h0M407.3 246.1h0M406.5 264.2h0M409.4 212.9h0M427.8 263.2h0M467.4 285.2h0M384.7 236.4h0M441.1 242.4h0M384.9 191.5h0M385.9 194.3h0M401.4 219.9h0M408.9 284.3h0M425.2 269.6h0M392.0 205.0h0M394.1 203.9h0M425.0 218.1h0M435.5 233.6h0M389.7 248.4h0M426.3 265.2h0M405.3 240.8h0M405.3 256.3h0M422.5 260.3h0M397.6 225.2h0M426.3 262.0h0M428.2 262.0h0M434.1 262.8h0M437.5 273.8h0M386.9 225.7h0M419.1 252.0h0M411.4 280.1h0M409.2 258.5h0M411.7 260.9h0M421.3 281.4h0M408.0 241.9h0M424.2 254.0h0M402.5 243.7h0M469.8 256.0h0M425.3 245.4h0M443.5 277.8h0M411.1 241.2h0M418.2 244.4h0M417.8 249.5h0M428.5 256.4h0M407.6 235.5h0M410.2 236.5h0M469.3 260.7h0M443.9 276.2h0M454.1 253.8h0M432.6 268.1h0M427.3 250.2h0M384.2 230.8h0M398.4 213.1h0M449.8 240.8h0M428.1 272.3h0M427.6 269.1h0M401.9 200.0h0M387.5 185.3h0M393.9 244.7h0M457.0 253.2h0M428.0 281.8h0M402.8 235.3h0M431.8 265.4h0M434.9 267.1h0M410.1 262.0h0M405.3 227.1h0M424.8 260.9h0M430.9 286.1h0M395.5 220.9h0M421.7 239.3h0M399.8 209.4h0M408.3 227.2h0M398.0 206.7h0M410.1 211.9h0M412.4 248.6h0M408.1 234.7h0M393.0 197.0h0M395.8 250.1h0M411.4 278.4h0M466.1 258.8h0M410.0 237.7h0M405.7 256.9h0M412.3 252.1h0M386.9 251.9h0M415.9 260.3h0M402.6 268.3h0M402.8 269.0h0M387.4 248.3h0M390.3 241.0h0M420.2 268.6h0M453.4 269.5h0M426.0 272.7h0M418.9 280.4h0M441.0 267.3h0M425.9 249.3h0M409.1 231.3h0M424.2 276.4h0M395.8 219.0h0M481.2 263.9h0M412.9 246.2h0M419.1 245.3h0M455.1 271.4h0M420.9 251.3h0M407.1 226.4h0M414.8 210.2h0M384.8 221.1h0M428.9 252.9h0M402.6 256.8h0M392.1 207.6h0M388.9 208.1h0M426.2 224.2h0M430.8 258.9h0M409.2 251.4h0M410.5 236.7h0M395.0 209.0h0M432.7 256.2h0M397.4 268.3h0M432.4 228.8h0M390.5 253.8h0M419.2 263.0h0M458.2 253.2h0M431.7 271.0h0M392.5 199.7h0M445.3 241.7h0M399.4 209.6h0M402.5 214.8h0M436.4 272.3h0M427.5 271.4h0M402.3 233.6h0M414.1 276.0h0M387.1 202.4h0M425.4 271.7h0M429.4 258.8h0M434.1 274.1h0M419.4 248.3h0M401.0 225.7h0M402.6 232.1h0M422.5 262.8h0M428.0 267.4h0M426.1 251.0h0M428.2 269.1h0M418.1 251.9h0M432.8 264.2h0M384.2 194.0h0M433.0 245.2h0M417.7 269.9h0M410.0 263.0h0M439.8 295.3h0M421.8 251.2h0M406.1 226.9h0M424.4 252.5h0M487.8 271.4h0M420.3 250.6h0M386.1 199.5h0M399.8 237.8h0M384.4 232.3h0M413.6 242.0h0M391.1 191.8h0M407.9 259.3h0M406.4 240.4h0M416.1 262.7h0M403.1 248.8h0M444.9 274.8h0M411.0 255.0h0M437.7 261.2h0M419.2 262.9h0M420.0 284.9h0M463.0 255.9h0M398.0 255.6h0M415.7 273.1h0M411.1 231.1h0M426.3 252.7h0M384.2 188.6h0M443.8 271.1h0M391.2 198.6h0M437.2 270.9h0M400.5 250.3h0M432.6 259.8h0M395.9 250.4h0M437.7 281.1h0M455.8 245.1h0M399.3 232.0h0M430.3 256.5h0M397.2 262.3h0M400.3 226.5h0M424.7 253.3h0M426.5 258.6h0M413.4 270.1h0M393.6 201.4h0M406.8 240.2h0M393.7 212.5h0M407.6 252.8h0M420.5 271.9h0M410.2 247.9h0M432.1 232.9h0M410.3 235.7h0M421.7 269.5h0M423.0 254.1h0M455.1 247.9h0M415.4 264.2h0M395.6 224.1h0M400.8 231.6h0M406.8 247.5h0M463.4 258.1h0M391.8 197.9h0M406.2 272.8h0M447.0 275.2h0M408.3 232.2h0M456.2 257.0h0M399.7 209.3h0M401.8 260.0h0M417.0 241.0h0M388.5 257.5h0M438.6 264.2h0M440.5 237.4h0M419.2 249.1h0M398.4 218.4h0M410.7 251.8h0M399.9 208.2h0M430.2 267.6h0M406.4 227.4h0M404.2 226.8h0M425.7 258.2h0M409.8 253.0h0M387.6 252.0h0M458.0 262.1h0M405.2 254.7h0M391.5 189.5h0M411.0 245.8h0M421.8 252.7h0M449.2 270.7h0M462.1 285.4h0M458.5 254.4h0M398.5 211.7h0M384.8 201.9h0M415.2 267.7h0M415.5 267.3h0M409.3 256.2h0M409.7 254.0h0M423.5 263.3h0M384.2 257.4h0M404.7 237.1h0M406.8 263.3h0M386.9 195.8h0M405.7 231.7h0M408.2 247.9h0M445.9 240.4h0M422.8 264.7h0M399.5 254.4h0M440.1 273.8h0M395.0 237.4h0M425.5 261.3h0M415.3 252.9h0M411.9 247.0h0M414.1 242.6h0M446.4 268.5h0M403.6 258.7h0M394.1 205.8h0M413.8 256.1h0M401.7 225.8h0M453.2 241.4h0M421.2 239.7h0M477.5 261.0h0M431.0 294.3h0M431.5 244.8h0M386.4 186.2h0M393.3 201.8h0M401.8 227.9h0M434.2 262.0h0M435.0 255.9h0M399.6 273.0h0M403.0 266.5h0M396.4 219.7h0M400.8 257.0h0M384.6 245.4h0M389.2 189.6h0M402.2 250.9h0M407.1 225.9h0M456.2 251.5h0M408.5 257.1h0M447.3 252.7h0M493.8 275.8h0M439.6 235.7h0M430.9 258.1h0M396.0 206.3h0M392.7 262.7h0M401.6 212.0h0M415.5 235.0h0M437.8 254.1h0M425.6 227.6h0M399.8 229.3h0M399.7 226.2h0M433.0 249.7h0M398.9 235.9h0M434.0 282.9h0M440.1 240.6h0M394.8 252.4h0M393.0 244.4h0M411.5 243.9h0M394.1 257.0h0M406.2 250.5h0M427.0 263.9h0M406.5 260.8h0M402.4 251.3h0M420.7 262.4h0M425.1 285.7h0M408.1 289.6h0M391.1 222.9h0M417.0 286.1h0M425.7 277.3h0M431.4 264.3h0M417.8 254.8h0M396.2 229.7h0M412.9 248.0h0M491.6 264.9h0M424.2 256.6h0M428.9 282.0h0M411.4 234.8h0M388.3 283.7h0M498.0 281.1h0M393.0 230.9h0M397.5 233.1h0M411.7 243.9h0M424.7 245.7h0M427.7 264.9h0M430.7 273.1h0M398.9 206.0h0M391.3 243.4h0M397.3 211.2h0M440.7 245.8h0M413.1 242.9h0M408.2 268.6h0M408.0 258.0h0M423.1 255.7h0M393.8 211.7h0M465.5 253.1h0M419.0 247.5h0M403.9 221.0h0M391.9 202.7h0M432.1 256.5h0M416.2 255.1h0M386.3 191.7h0M389.3 265.8h0M388.7 265.9h0M424.4 259.3h0M393.4 248.1h0M415.8 249.1h0M407.9 232.4h0M401.2 225.6h0M384.2 265.0h0M468.1 259.1h0M440.8 271.8h0M401.8 240.4h0M475.5 262.2h0M442.3 287.2h0M399.2 249.9h0M432.1 264.7h0M393.8 198.5h0M398.5 235.1h0M422.7 261.5h0M422.9 249.6h0M424.7 266.8h0M385.1 226.2h0M407.9 243.4h0M418.9 294.0h0M417.8 259.5h0M394.7 193.4h0M408.4 248.7h0M451.4 273.9h0M412.8 236.7h0M420.2 268.9h0M398.3 263.4h0M385.3 247.4h0M415.6 262.9h0M395.8 261.3h0M398.1 275.1h0M420.5 248.7h0M409.1 231.3h0M416.4 253.7h0M389.4 235.8h0M419.3 264.1h0M416.8 249.4h0M438.5 243.9h0M411.0 262.8h0M408.9 250.3h0M398.9 238.7h0M407.7 242.6h0M409.7 242.0h0M433.3 261.3h0M461.2 248.3h0M475.4 272.4h0M402.8 247.7h0M446.5 244.0h0M414.5 260.8h0M416.1 251.1h0M396.7 244.6h0M433.9 260.6h0M407.5 255.1h0M408.2 247.7h0M441.4 242.2h0M407.5 253.9h0M409.3 249.4h0M434.5 268.5h0M398.0 218.1h0M419.1 269.6h0M417.3 280.3h0M419.5 263.9h0M406.1 232.9h0M407.3 253.9h0M445.8 276.9h0M435.6 263.1h0M414.6 235.6h0M387.4 227.0h0M437.8 265.8h0M409.1 234.6h0M408.9 230.7h0M408.3 259.0h0M409.1 237.1h0M430.3 262.4h0M404.5 241.6h0M418.3 249.9h0M385.1 269.5h0M403.1 248.1h0M434.0 280.4h0M399.0 210.5h0M406.4 257.1h0M421.0 256.1h0M388.9 226.5h0M398.8 256.5h0M391.8 193.5h0M438.2 278.3h0M413.2 266.5h0M409.5 249.7h0M416.2 225.3h0M425.4 270.2h0M424.4 257.7h0M387.8 197.0h0M399.5 265.5h0M413.4 262.9h0M410.9 234.2h0M407.3 250.8h0M448.5 280.9h0M390.9 291.7h0M463.9 255.9h0M403.0 272.9h0M415.0 235.1h0M497.6 285.2h0M445.0 243.8h0M404.3 227.6h0M432.4 267.0h0M402.0 238.9h0M408.4 256.3h0M388.1 187.1h0M416.3 258.9h0M422.1 248.0h0M417.9 251.0h0M388.4 209.5h0M417.7 263.4h0M395.8 205.3h0M429.1 255.5h0M429.6 284.6h0M406.5 203.8h0M401.5 244.6h0M397.4 254.9h0M424.6 256.3h0M419.8 267.2h0M446.3 267.4h0M419.1 257.2h0M401.9 282.0h0M442.9 261.6h0M424.4 225.8h0M411.3 267.0h0M389.0 264.3h0M422.0 268.8h0M432.5 253.4h0M425.2 261.2h0M394.3 208.3h0M443.8 275.9h0M405.0 252.9h0M472.5 261.6h0M425.1 241.0h0M421.8 242.2h0M394.2 232.2h0M465.1 254.3h0M441.5 270.4h0M440.0 253.5h0M424.2 285.5h0M421.9 258.5h0M390.9 203.8h0M411.5 265.9h0M404.3 237.3h0M393.6 258.4h0M399.2 214.1h0M477.0 258.8h0M405.5 238.3h0M398.3 225.4h0M413.3 259.1h0M430.7 250.9h0M400.5 274.8h0M406.2 240.2h0M436.1 266.8h0M390.2 249.7h0M401.7 258.6h0M414.4 241.5h0M437.4 271.6h0M385.3 261.7h0M384.2 257.9h0M427.9 258.1h0M419.8 268.5h0M386.3 258.0h0M402.4 263.3h0M428.3 256.4h0M426.9 257.1h0M406.4 240.0h0M402.2 244.7h0M433.8 265.4h0M464.0 281.3h0M422.4 227.8h0M430.4 274.8h0M395.7 234.3h0M402.6 249.5h0M422.0 237.2h0M420.1 263.0h0M401.1 259.8h0M407.5 232.5h0M420.1 255.5h0M418.8 256.8h0M436.0 274.7h0M417.6 251.5h0M409.6 241.8h0M395.0 257.2h0M409.1 249.6h0M410.3 276.3h0M404.1 237.4h0M398.8 226.9h0M398.4 231.2h0M409.8 254.7h0M417.6 257.8h0M394.0 221.9h0M419.9 245.1h0M405.2 233.0h0M454.8 259.7h0M417.9 262.4h0M400.8 261.2h0M480.5 261.5h0M389.0 250.3h0M402.1 240.7h0M395.0 257.3h0M398.3 253.8h0M411.2 238.5h0M430.5 261.2h0M449.6 255.9h0M405.3 240.0h0M405.5 241.0h0M397.8 201.2h0M391.9 199.0h0M457.9 255.3h0M445.8 277.6h0M407.1 240.7h0M423.4 226.7h0M426.6 243.6h0M392.3 268.2h0M424.9 258.3h0M387.8 237.9h0M413.4 227.4h0M388.4 196.8h0M412.3 238.5h0M430.2 252.5h0M395.8 198.2h0M422.8 253.8h0M496.3 279.0h0M388.0 275.5h0M408.9 237.3h0M435.6 237.2h0M412.8 242.9h0M396.3 245.3h0M399.4 234.1h0M404.9 265.5h0M408.9 266.3h0M411.8 263.7h0M402.2 237.4h0M389.2 250.4h0M388.5 240.3h0M396.2 254.1h0M408.4 261.3h0M411.1 260.8h0M425.0 253.1h0M418.2 251.5h0M414.1 233.1h0M422.3 253.8h0M442.2 275.0h0M444.8 262.8h0M418.5 259.7h0M422.5 272.6h0M401.9 261.0h0M393.9 212.7h0M489.9 288.1h0M468.2 263.6h0M420.2 249.1h0M417.7 273.6h0M429.2 230.5h0M420.6 233.1h0M412.5 247.2h0M384.2 225.7h0M414.3 255.4h0M411.4 259.6h0M422.3 253.4h0M427.5 262.3h0M396.1 233.4h0M406.8 220.1h0M405.2 260.0h0M387.6 192.4h0M388.2 204.6h0M438.7 276.8h0M390.7 239.9h0M404.4 223.7h0M424.6 277.7h0M424.2 271.6h0M402.4 224.6h0M435.7 265.2h0M419.6 273.5h0M480.2 274.9h0M430.6 276.0h0M418.5 268.6h0M400.8 244.0h0M395.3 224.3h0M412.5 239.2h0M390.7 259.3h0M424.8 271.0h0M398.2 209.4h0M389.9 231.4h0M423.4 260.9h0M465.5 292.9h0M415.6 252.9h0M414.3 238.2h0M408.6 208.2h0M400.2 249.8h0M404.8 234.6h0M465.5 281.5h0M416.8 256.2h0M414.5 236.3h0M415.3 256.5h0M419.0 252.4h0M409.0 235.9h0M422.2 257.6h0M416.3 246.9h0M402.8 252.6h0M422.6 288.4h0M410.7 237.0h0M401.0 271.3h0M408.3 263.7h0M434.2 231.5h0M426.9 253.7h0M415.4 252.6h0M408.8 217.4h0M410.1 300.2h0M395.7 221.8h0M433.1 261.2h0M486.4 268.8h0M429.3 265.6h0M437.3 260.2h0M429.4 272.1h0M481.8 276.5h0M434.4 290.1h0M399.0 250.8h0M399.8 260.0h0M419.0 258.9h0M401.8 243.9h0M414.6 248.5h0M413.6 241.4h0M485.5 265.2h0M418.0 244.4h0M407.9 237.8h0M408.3 256.3h0M472.7 258.1h0M404.6 266.4h0M398.4 246.0h0M420.1 247.2h0M410.7 256.8h0M406.0 230.9h0M401.0 218.8h0M413.9 242.9h0M418.1 269.5h0M420.3 281.1h0M412.8 238.1h0M416.9 273.9h0M416.4 263.0h0M470.5 275.4h0M397.5 252.9h0M395.3 209.7h0M403.2 237.0h0M437.7 279.6h0M488.0 274.3h0M409.5 254.4h0M403.4 236.2h0M388.9 237.0h0M405.1 247.0h0M404.0 259.6h0M418.5 266.0h0M451.6 267.3h0M401.0 227.7h0M388.8 257.0h0M439.3 276.2h0M405.1 245.8h0M468.7 256.5h0M405.6 274.2h0M435.4 235.9h0M457.6 285.0h0M416.1 252.0h0M422.1 255.0h0M422.6 273.2h0M419.0 242.3h0M500.5 283.4h0M508.6 270.7h0M420.4 257.4h0M407.1 256.7h0M391.9 194.4h0M421.4 256.8h0M398.5 207.9h0M401.6 226.5h0M437.1 265.0h0M406.4 238.4h0M410.7 289.9h0M473.2 262.6h0M427.7 251.9h0M415.6 248.8h0M426.2 261.8h0M452.4 291.5h0M411.9 257.4h0M439.6 270.6h0M418.7 270.8h0M384.2 227.5h0M408.9 230.0h0M478.5 264.3h0M416.8 232.8h0M407.8 237.8h0M419.8 265.1h0M421.3 258.9h0M420.5 262.3h0M433.1 280.6h0M427.9 269.0h0M433.3 268.9h0M418.3 249.8h0M424.8 263.0h0M394.4 198.3h0M416.5 257.6h0M396.0 212.0h0M415.9 247.0h0M391.0 191.7h0M414.2 279.8h0M426.2 261.8h0M441.7 239.2h0M433.1 225.6h0M404.7 220.5h0M392.0 198.0h0M412.7 239.9h0M422.6 275.8h0M402.8 262.4h0M391.5 281.8h0M409.1 204.4h0M393.9 231.2h0M415.9 249.4h0M430.3 275.5h0M436.2 289.2h0M399.3 250.4h0M465.0 259.7h0M447.8 242.4h0M405.6 270.4h0M422.8 267.7h0M486.8 268.2h0M392.5 219.6h0M505.7 271.1h0M391.8 196.7h0M386.7 190.6h0M403.1 251.9h0M391.2 198.9h0M388.9 270.4h0M444.7 274.6h0M409.0 249.1h0M444.4 288.6h0M384.2 184.6h0M422.6 260.2h0M386.4 208.7h0M406.0 258.6h0M491.8 268.9h0M405.8 222.8h0M418.7 270.4h0M461.2 261.9h0M390.0 191.3h0M405.2 232.8h0M384.2 243.1h0M418.4 238.3h0M434.4 236.0h0M463.6 255.1h0M423.8 260.9h0M409.6 273.8h0M442.0 267.0h0M445.4 266.1h0M404.7 254.3h0M391.9 194.0h0M412.4 247.1h0M468.4 283.5h0M420.7 240.3h0M405.0 230.1h0M397.6 218.5h0M430.7 268.5h0M389.0 223.7h0M438.3 303.8h0M428.3 257.0h0M444.9 269.1h0M431.3 260.2h0M462.5 248.3h0M390.6 277.9h0M424.8 250.7h0M420.0 270.5h0M423.4 261.9h0M391.8 227.7h0M431.9 246.2h0M391.9 199.0h0M414.5 247.1h0M414.1 258.6h0M422.3 252.4h0M409.8 252.9h0M437.6 242.9h0M443.1 242.2h0M413.5 255.3h0M408.1 251.9h0M412.2 243.8h0M393.2 242.6h0M460.8 251.6h0M419.3 290.4h0M428.2 246.8h0M408.6 243.2h0M414.7 236.3h0M393.3 204.6h0M458.2 262.4h0M401.1 240.1h0M435.0 278.7h0M441.3 260.1h0M411.8 239.4h0M415.9 246.3h0M398.6 229.5h0M405.3 248.2h0M412.3 250.5h0M390.2 235.9h0M427.1 287.3h0M428.3 247.2h0M401.0 234.5h0M397.3 266.0h0M417.4 262.3h0M393.0 292.0h0M427.5 272.7h0M419.7 246.7h0M432.0 269.9h0M429.3 272.6h0M384.2 241.2h0M408.4 258.8h0M404.2 251.7h0M390.3 232.4h0M441.1 267.3h0M403.8 229.2h0M417.8 254.4h0M389.2 290.6h0M407.3 224.5h0M475.3 264.1h0M388.4 195.7h0M427.6 279.4h0M481.1 270.6h0M448.4 279.8h0M474.8 260.6h0M406.6 251.9h0M405.5 226.8h0M404.2 240.4h0M395.0 219.9h0M424.5 245.5h0M450.0 246.9h0M399.6 213.9h0M404.6 269.9h0M410.7 258.8h0M405.5 235.3h0M393.6 234.5h0M428.9 273.8h0M419.6 273.1h0M427.4 257.0h0M401.3 212.4h0M384.2 249.8h0M477.4 260.6h0M435.1 272.0h0M388.5 190.8h0M429.7 267.0h0M406.3 247.1h0M410.7 243.9h0M474.3 277.4h0M422.3 226.4h0M437.9 258.3h0M406.4 245.8h0M469.7 256.8h0M410.1 246.3h0M410.5 240.2h0M392.1 248.5h0M400.2 228.9h0M454.0 257.3h0M431.4 261.0h0M406.7 261.8h0M419.3 264.5h0M432.4 249.2h0M404.1 243.7h0M410.6 251.4h0M437.4 234.4h0M392.5 262.6h0M388.2 246.8h0M404.3 227.6h0M401.3 243.8h0M433.6 264.4h0M428.7 260.1h0M422.4 260.4h0M395.6 260.6h0M444.8 247.8h0M430.4 266.5h0M438.4 291.7h0M431.7 252.1h0M429.7 259.3h0M445.0 278.4h0M427.0 244.1h0M431.3 273.9h0M400.2 235.3h0M402.4 274.9h0M441.1 276.0h0M424.2 280.7h0M394.7 198.9h0M450.2 275.3h0M431.3 263.8h0M417.3 250.4h0M431.4 253.8h0M431.1 272.9h0M425.9 275.9h0M396.1 209.8h0M416.1 248.0h0M431.4 270.2h0M396.6 242.9h0M415.7 257.0h0M387.6 188.2h0M405.9 240.4h0M408.4 220.2h0M388.6 204.2h0M450.5 238.6h0M394.4 216.7h0M461.5 278.5h0M399.7 243.3h0M433.8 268.4h0M421.0 275.0h0M410.2 209.4h0M426.4 272.3h0M420.8 265.2h0M434.4 266.9h0M413.3 235.3h0M393.5 234.0h0M446.8 284.5h0M415.3 248.8h0M418.0 242.6h0M394.4 239.8h0M438.1 275.4h0M419.8 248.6h0M464.1 252.2h0M406.9 250.6h0M402.3 259.2h0M405.6 265.4h0M435.1 271.7h0M434.1 264.8h0M399.1 262.2h0M451.5 285.1h0M408.3 268.6h0M408.1 278.2h0M412.0 229.2h0M403.5 258.0h0M419.6 276.0h0M445.7 272.7h0M413.2 229.5h0M445.1 274.0h0M390.8 259.7h0M392.0 232.1h0M394.3 196.7h0M397.1 173.3h0M400.2 199.5h0M394.7 196.9h0M393.4 177.3h0M399.7 173.2h0M399.2 191.7h0M395.3 186.9h0M400.3 206.4h0M399.3 188.4h0M401.6 196.5h0M397.6 201.5h0M398.2 206.9h0M398.0 193.2h0M399.5 198.5h0M397.5 190.1h0M396.2 192.9h0M399.4 203.9h0M397.6 195.0h0M398.6 203.3h0M399.0 192.3h0M397.0 188.1h0M401.7 190.9h0M409.0 171.1h0M399.0 205.1h0M400.6 208.6h0M394.3 199.3h0M395.8 181.4h0M398.0 202.8h0M396.5 189.3h0M400.0 201.0h0M400.8 169.8h0M402.5 178.2h0M402.8 203.6h0M402.7 195.6h0M394.5 172.0h0M399.8 188.7h0M390.0 191.9h0M395.2 205.4h0M398.8 172.3h0M398.1 196.0h0M397.6 178.8h0M402.1 204.6h0M403.1 202.0h0M398.7 196.1h0M401.2 190.7h0M396.9 170.1h0M399.2 182.5h0M400.2 193.8h0M399.9 169.0h0M398.9 193.8h0M396.5 193.9h0M398.9 189.6h0M399.6 173.3h0M395.9 179.8h0M398.8 199.8h0M401.6 202.5h0M395.9 193.4h0M398.5 194.0h0M402.2 204.1h0M400.6 199.1h0M396.1 191.8h0M397.7 197.6h0M398.1 174.7h0M397.8 172.8h0M403.6 205.7h0M398.3 200.4h0M401.8 187.1h0M402.2 204.1h0M399.8 196.9h0M398.2 175.7h0M403.8 202.0h0M397.0 207.1h0M398.8 201.0h0M397.7 201.7h0M399.8 194.4h0M398.9 201.8h0M399.8 204.4h0M402.9 186.0h0M394.2 192.2h0M400.3 177.0h0M395.1 192.1h0M394.0 197.0h0M399.3 193.9h0M401.6 196.3h0M395.0 182.9h0M392.5 191.8h0M394.4 182.5h0M396.0 199.6h0M395.3 191.4h0M397.3 177.9h0M396.1 191.4h0M397.2 194.5h0M394.1 177.0h0M399.7 185.3h0M398.6 201.6h0M400.5 174.5h0M398.0 189.1h0M393.2 190.6h0M398.6 206.2h0M395.8 192.7h0M397.7 198.6h0M392.9 171.6h0M397.9 197.2h0M397.2 178.3h0M399.1 176.0h0M404.1 171.0h0M404.7 193.4h0M398.1 192.6h0M395.0 185.8h0M398.3 195.1h0M405.2 208.4h0M400.3 191.0h0M396.9 188.1h0M397.8 177.8h0M405.5 169.9h0M399.3 187.2h0M397.6 209.1h0M398.0 193.6h0M402.3 179.2h0M401.5 199.2h0M396.0 190.9h0M398.3 169.6h0M401.3 192.8h0M398.1 203.8h0M399.1 184.3h0M397.6 201.4h0M394.1 194.1h0M397.3 171.6h0M396.8 186.0h0M399.8 186.0h0M399.1 169.0h0M400.5 199.0h0M403.5 169.7h0M394.3 195.4h0M396.6 183.8h0M396.3 188.8h0M402.9 202.0h0M399.5 183.0h0M398.2 176.0h0M399.7 194.8h0M396.1 177.4h0M393.4 206.6h0M401.2 198.2h0M396.5 197.4h0M397.5 172.8h0M395.0 189.9h0M394.0 171.2h0M398.9 209.6h0M397.3 195.4h0M397.5 184.7h0M399.2 196.8h0M396.7 184.1h0M399.4 199.6h0M401.6 196.3h0M403.3 204.5h0M393.3 206.6h0M396.1 207.8h0M396.1 187.5h0M394.9 192.5h0M398.1 198.5h0M398.7 198.9h0M397.7 193.8h0M392.3 183.7h0M401.1 193.4h0M400.1 192.4h0M392.2 186.1h0M392.9 194.6h0M402.6 184.2h0M395.7 175.8h0M531.6 314.2h0M534.6 312.3h0" stroke="#000" stroke-width="0.95" stroke-linecap="round" fill="none" opacity="0.85"/><path d="M285.2 473.9h0M275.2 500.7h0M263.6 491.0h0M248.3 505.4h0M250.7 520.5h0M250.1 498.1h0M240.2 488.4h0M280.1 484.2h0M225.6 506.2h0M293.0 493.2h0M287.5 508.7h0M235.2 511.0h0M258.5 516.3h0M253.1 472.9h0M239.0 517.2h0M294.1 464.1h0M247.5 509.7h0M248.9 507.4h0M319.1 464.0h0M263.2 502.1h0M260.7 514.1h0M285.4 489.2h0M284.5 476.4h0M259.3 496.1h0M258.9 498.4h0M288.1 498.5h0M306.9 475.3h0M271.7 496.5h0M243.9 514.4h0M219.3 520.7h0M219.2 522.5h0M300.9 471.7h0M221.0 513.5h0M323.7 456.6h0M275.4 496.3h0M232.9 517.4h0M256.3 497.2h0M266.6 507.7h0M267.0 481.5h0M260.7 528.8h0M279.0 474.2h0M283.5 523.7h0M254.6 508.1h0M263.8 501.1h0M281.2 500.3h0M305.7 467.8h0M297.1 476.9h0M244.4 516.2h0M228.7 517.4h0M325.9 524.6h0M309.8 458.9h0M281.1 485.5h0M220.6 519.4h0M269.5 511.1h0M282.2 498.6h0M260.3 503.0h0M278.1 492.2h0M245.8 504.7h0M276.6 485.7h0M238.0 517.0h0M258.6 496.5h0M286.0 479.3h0M252.1 476.3h0M272.9 455.6h0M227.8 516.7h0M241.6 506.0h0M305.5 478.2h0M234.2 512.8h0M238.7 507.2h0M266.9 495.7h0M309.0 457.9h0M281.0 451.3h0M237.1 509.5h0M218.3 513.3h0M315.7 486.8h0M252.2 508.7h0M269.5 505.0h0M304.8 468.9h0M286.1 478.8h0M231.2 518.8h0M255.6 471.6h0M274.6 503.8h0M310.0 510.6h0M228.0 516.2h0M282.9 436.8h0M278.8 494.7h0M273.7 525.5h0M275.1 524.7h0M268.9 489.4h0M236.1 505.2h0M293.3 479.8h0M260.3 497.3h0M280.9 490.8h0M239.6 505.9h0M286.7 497.3h0M243.2 505.9h0M272.2 482.6h0M273.4 496.4h0M251.9 475.2h0M304.3 525.4h0M297.0 482.5h0M291.4 492.9h0M246.5 501.8h0M282.8 507.5h0M258.7 521.5h0M232.9 512.8h0M274.7 486.2h0M238.8 493.3h0M284.5 523.9h0M261.5 513.6h0M294.4 423.5h0M235.3 509.8h0M308.7 524.8h0M256.6 500.9h0M252.4 510.6h0M284.9 476.7h0M254.5 507.6h0M255.1 508.8h0M276.8 481.8h0M302.1 472.9h0M251.1 504.4h0M319.0 458.7h0M282.3 442.1h0M283.9 438.8h0M298.7 500.6h0M248.1 496.9h0M267.0 503.1h0M230.6 513.0h0M320.9 455.4h0M254.2 515.8h0M233.9 512.1h0M316.4 484.3h0M276.0 506.2h0M219.6 515.0h0M256.5 507.4h0M313.3 477.8h0M272.6 507.7h0M242.8 509.5h0M227.0 511.6h0M279.2 492.6h0M261.8 496.8h0M222.6 522.5h0M220.7 512.4h0M250.2 473.6h0M287.1 524.5h0M279.1 484.6h0M306.7 466.6h0M251.9 502.2h0M244.5 519.6h0M257.1 507.1h0M292.1 424.8h0M258.8 507.1h0M286.5 491.6h0M285.0 484.7h0M261.8 462.4h0M299.6 486.6h0M252.2 507.0h0M235.5 495.2h0M257.8 513.3h0M258.8 516.9h0M225.1 521.2h0M266.9 520.3h0M240.9 506.2h0M239.5 514.2h0M266.5 492.3h0M280.1 504.6h0M261.9 498.5h0M246.6 503.7h0M296.7 472.4h0M283.6 522.0h0M286.4 436.2h0M250.6 520.4h0M278.8 479.0h0M267.2 514.2h0M276.7 491.0h0M222.9 509.7h0M223.3 521.1h0M296.1 423.5h0M230.1 500.7h0M260.0 494.9h0M278.6 489.5h0M286.7 482.7h0M259.1 509.3h0M242.5 511.4h0M252.1 512.7h0M215.2 523.7h0M262.4 463.8h0M285.4 481.4h0M243.7 508.0h0M289.3 492.7h0M254.9 499.6h0M264.4 505.9h0M269.3 488.5h0M242.0 487.1h0M230.2 528.4h0M264.6 515.7h0M216.2 520.5h0M295.5 471.4h0M252.5 500.5h0M244.0 528.8h0M226.9 524.3h0M265.4 496.8h0M290.6 485.3h0M293.0 466.7h0M340.1 457.8h0M262.5 493.4h0M251.3 508.2h0M274.7 513.7h0M301.5 474.4h0M250.7 522.4h0M250.7 501.9h0M311.4 509.4h0M247.4 502.3h0M297.5 468.5h0M251.3 503.2h0M307.0 471.8h0M258.8 496.8h0M266.2 458.4h0M283.2 484.3h0M285.1 476.0h0M228.2 516.8h0M273.9 486.6h0M254.4 504.9h0M239.7 528.2h0M252.9 499.9h0M283.7 436.1h0M269.5 491.3h0M273.0 497.0h0M259.4 501.9h0M284.7 486.9h0M278.7 492.9h0M270.5 513.1h0M284.1 498.2h0M271.1 481.9h0M262.3 498.9h0M283.9 486.1h0M282.9 436.2h0M304.4 468.7h0M274.6 488.6h0M242.3 503.9h0M281.9 438.3h0M289.7 480.2h0M224.6 514.6h0M285.1 528.8h0M302.8 489.5h0M269.1 487.9h0M252.2 501.5h0M284.3 499.4h0M221.8 519.1h0M249.0 502.2h0M276.5 480.7h0M295.8 473.5h0M243.9 506.5h0M311.7 462.5h0M300.1 521.1h0M276.4 495.2h0M268.1 497.8h0M224.4 508.7h0M281.9 504.8h0M225.3 525.4h0M265.5 486.5h0M280.4 484.6h0M275.2 486.3h0M273.3 520.5h0M280.0 483.8h0M287.2 514.8h0M279.5 494.1h0M258.6 514.5h0M281.8 488.9h0M233.1 516.6h0M256.8 499.0h0M307.5 489.6h0M247.5 499.2h0M247.9 507.8h0M220.7 521.8h0M270.6 487.9h0M271.5 507.2h0M251.3 502.9h0M255.3 504.2h0M274.1 519.8h0M259.2 508.4h0M246.9 481.2h0M280.2 489.3h0M312.0 508.8h0M246.0 511.1h0M213.4 523.2h0M258.2 509.9h0M273.7 443.2h0M286.6 506.6h0M266.8 497.0h0M338.2 443.2h0M258.3 496.8h0M290.2 513.3h0M318.0 448.1h0M241.5 504.4h0M239.8 505.9h0M279.2 476.7h0M274.5 491.6h0M281.3 435.9h0M263.5 490.5h0M360.8 451.4h0M267.2 513.6h0M214.3 523.5h0M229.0 512.1h0M248.8 507.5h0M256.2 502.3h0M228.5 522.0h0M256.6 496.1h0M243.3 485.5h0M268.2 507.2h0M273.8 502.9h0M267.1 495.7h0M271.7 486.2h0M279.2 488.1h0M247.6 503.6h0M247.2 501.3h0M272.2 487.3h0M276.7 476.7h0M287.5 477.5h0M239.7 522.1h0M285.0 475.3h0M256.7 497.5h0M262.0 527.5h0M274.1 500.7h0M295.6 471.9h0M330.0 486.3h0M259.4 510.8h0M280.7 512.2h0M300.9 468.4h0M265.0 491.4h0M279.7 477.1h0M261.8 500.2h0M243.0 528.8h0M290.6 424.6h0M271.5 504.7h0M228.4 521.6h0M290.9 481.2h0M260.1 504.8h0M341.5 454.6h0M273.9 498.7h0M273.2 487.7h0M242.4 517.0h0M282.1 496.3h0M312.0 472.2h0M253.4 520.1h0M215.6 527.1h0M285.7 491.8h0M251.8 473.1h0M281.2 488.8h0M296.4 477.6h0M224.7 519.5h0M267.7 494.2h0M240.6 508.0h0M252.4 500.0h0M217.1 521.7h0M252.4 500.8h0M244.4 509.6h0M282.3 499.7h0M243.2 504.6h0M272.1 505.0h0M281.2 510.5h0M263.6 499.8h0M315.9 471.4h0M252.6 521.9h0M220.6 525.2h0M251.4 504.8h0M286.3 489.0h0M249.2 505.2h0M294.9 493.7h0M301.3 418.3h0M283.2 517.2h0M253.2 507.9h0M298.8 484.2h0M279.6 483.4h0M308.3 465.8h0M239.8 489.8h0M288.7 478.7h0M270.0 522.8h0M267.2 487.4h0M283.0 481.0h0M293.2 470.6h0M251.9 508.1h0M294.8 472.0h0M255.5 469.6h0M239.4 525.6h0M219.1 528.8h0M311.9 479.0h0M292.0 498.9h0M245.2 514.1h0M244.9 506.6h0M266.2 490.8h0M261.4 493.4h0M234.4 508.9h0M257.9 495.4h0M249.0 514.9h0M258.0 500.8h0M274.8 485.1h0M262.2 499.8h0M273.4 508.0h0M286.0 490.4h0M291.3 489.0h0M260.6 488.3h0M251.2 500.7h0M238.5 485.9h0M279.9 485.8h0M265.7 496.9h0M260.2 509.9h0M278.2 484.7h0M224.9 516.3h0M292.0 430.7h0M304.5 409.7h0M285.3 518.6h0M268.3 482.6h0M294.7 478.7h0M286.2 511.6h0M288.1 491.8h0M287.6 425.9h0M265.1 490.6h0M225.8 503.6h0M284.3 502.1h0M260.6 461.0h0M266.6 495.3h0M315.3 461.8h0M223.8 522.2h0M284.3 514.3h0M285.1 441.6h0M291.2 431.9h0M250.0 513.6h0M256.6 470.5h0M319.3 456.5h0M225.3 508.6h0M218.4 521.9h0M291.6 501.1h0M262.3 491.5h0M325.5 450.9h0M326.3 469.1h0M265.9 494.9h0M313.2 526.5h0M236.2 517.2h0M283.8 499.7h0M274.0 492.8h0M246.0 506.5h0M293.2 487.3h0M262.9 522.0h0M283.4 496.9h0M257.3 506.6h0M270.8 503.5h0M236.0 497.0h0M229.1 523.3h0M215.7 518.0h0M260.4 499.2h0M286.7 423.5h0M269.0 482.5h0M278.2 487.9h0M300.9 470.1h0M218.7 521.0h0M241.6 519.5h0M300.0 476.6h0M262.5 492.9h0M240.0 526.1h0M265.4 504.2h0M253.1 498.0h0M287.6 493.4h0M265.5 459.3h0M281.4 489.4h0M302.9 488.0h0M279.1 486.1h0M250.9 506.0h0M269.3 491.6h0M259.3 512.3h0M275.5 491.9h0M240.7 502.7h0M261.7 511.5h0M276.3 488.5h0M312.9 484.3h0M240.2 489.2h0M274.4 486.7h0M270.1 494.8h0M248.2 501.2h0M267.5 507.3h0M215.1 522.6h0M278.2 477.8h0M278.9 481.1h0M276.7 501.8h0M298.4 465.9h0M262.5 498.0h0M277.5 444.2h0M321.7 443.5h0M233.9 519.1h0M286.9 502.9h0M353.0 459.1h0M239.9 487.0h0M300.7 464.0h0M241.7 513.1h0M273.1 487.6h0M222.1 512.1h0M259.6 508.6h0M283.8 434.0h0M288.2 502.2h0M251.2 513.3h0M298.4 522.1h0M257.4 499.1h0M288.2 472.7h0M222.4 525.7h0M256.6 496.5h0M283.6 528.6h0M280.6 442.7h0M274.2 444.7h0M283.3 479.8h0M274.8 512.1h0M340.0 449.5h0M289.4 479.3h0M227.3 525.4h0M262.1 505.1h0M224.5 527.9h0M239.4 512.3h0M260.6 526.0h0M300.2 475.0h0M296.2 473.7h0M292.3 477.0h0M270.2 500.5h0M267.7 502.1h0M313.4 502.4h0M233.9 518.2h0M285.5 503.0h0M271.3 493.5h0M258.3 495.1h0M226.8 521.2h0M275.0 508.4h0M242.2 503.7h0M262.3 464.0h0M292.3 467.3h0M259.2 468.3h0M259.8 494.5h0M294.7 471.9h0M221.2 527.8h0M322.8 462.2h0M241.2 523.2h0M223.5 519.3h0M285.9 500.7h0M310.4 473.0h0M236.7 524.4h0M259.4 515.1h0M293.9 488.8h0M229.5 500.1h0M294.6 508.7h0M275.3 481.3h0M228.2 523.5h0M260.8 505.9h0M234.1 514.0h0M263.5 493.7h0M281.9 483.1h0M279.2 498.3h0M296.6 459.3h0M292.0 467.7h0M277.3 525.3h0M279.4 511.8h0M259.9 505.4h0M229.3 516.1h0M285.7 436.4h0M308.6 515.2h0M266.3 488.4h0M258.5 506.6h0M259.4 493.5h0M306.3 401.1h0M251.4 501.2h0M257.2 506.8h0M236.1 512.9h0M276.7 484.4h0M295.0 512.4h0M282.3 483.9h0M304.7 412.6h0M288.3 498.5h0M219.3 519.9h0M271.6 494.7h0M219.6 513.6h0M265.5 514.4h0M264.0 490.0h0M225.2 523.5h0M259.7 499.6h0M300.7 418.5h0M238.6 504.8h0M268.0 494.5h0M260.0 504.6h0M269.8 498.3h0M269.5 507.6h0M261.2 515.8h0M262.3 502.6h0M308.5 522.4h0M251.2 514.7h0M233.5 526.5h0M265.7 502.2h0M240.0 508.1h0M293.3 472.9h0M297.7 413.9h0M214.4 520.7h0M245.7 507.4h0M228.8 518.7h0M308.4 409.6h0M303.0 483.3h0M256.6 504.3h0M337.5 443.0h0M251.3 510.8h0M261.4 512.9h0M285.4 512.5h0M254.7 496.4h0M263.5 495.7h0M291.0 515.5h0M222.1 511.1h0M249.5 514.9h0M245.8 524.8h0M260.3 494.4h0M275.6 490.5h0M306.6 460.2h0M347.0 453.8h0M255.8 467.1h0M277.4 492.0h0M288.3 473.7h0M262.9 506.2h0M235.5 494.8h0M271.0 502.4h0M308.8 457.1h0M251.1 502.6h0M259.4 523.4h0M266.6 498.5h0M239.1 518.1h0M241.3 485.3h0M284.9 483.1h0M272.2 489.4h0M281.9 508.4h0M242.0 490.3h0M255.5 506.4h0M254.8 520.9h0M259.4 497.3h0M269.3 493.6h0M254.6 505.3h0M283.0 438.0h0M280.3 482.5h0M263.1 464.0h0M320.7 510.1h0M217.5 526.6h0M290.8 491.7h0M257.9 498.3h0M247.0 505.2h0M254.5 497.1h0M309.4 466.3h0M259.3 528.8h0M306.2 500.1h0M246.6 505.4h0M277.6 503.7h0M293.5 479.3h0M250.9 506.1h0M295.3 518.6h0M285.0 480.9h0M274.3 494.2h0M282.3 517.5h0M280.1 485.0h0M265.5 493.7h0M246.3 509.5h0M247.7 504.1h0M255.4 472.4h0M301.4 478.5h0M305.5 453.5h0M271.8 525.0h0M322.4 458.4h0M262.5 528.8h0M239.0 516.6h0M270.5 501.3h0M302.2 423.9h0M235.9 491.0h0M252.3 500.9h0M264.9 499.1h0M245.0 506.5h0M294.1 509.7h0M216.1 521.4h0M227.3 520.9h0M282.6 502.6h0M229.8 515.2h0M214.3 525.8h0M279.8 484.4h0M285.3 480.7h0M228.8 517.9h0M280.9 439.9h0M296.1 471.8h0M319.8 464.5h0M273.4 509.3h0M238.6 511.5h0M265.0 499.5h0M248.3 516.0h0M227.7 521.3h0M294.5 528.8h0M306.0 418.9h0M288.7 473.1h0M262.4 458.7h0M241.5 486.5h0M270.2 483.8h0M222.7 518.9h0M284.2 500.8h0M292.2 478.1h0M224.7 518.5h0M276.2 522.2h0M283.5 524.9h0M297.1 496.8h0M241.8 521.1h0M238.9 519.9h0M256.8 510.5h0M277.3 491.0h0M289.6 431.3h0M270.8 483.1h0M245.4 522.4h0M316.1 463.1h0M262.9 506.7h0M295.9 435.3h0M311.7 410.9h0M238.4 518.3h0M259.0 499.0h0M268.1 491.6h0M240.4 513.6h0M217.3 524.0h0M297.9 481.5h0M215.8 522.3h0M294.3 484.3h0M271.4 491.5h0M286.9 434.5h0M273.1 495.6h0M276.1 504.8h0M287.8 432.9h0M264.0 508.0h0M270.7 487.0h0M250.2 499.4h0M251.9 507.5h0M241.9 505.5h0M270.0 493.2h0M336.2 454.2h0M271.0 454.0h0M277.8 487.5h0M226.1 518.9h0M293.0 491.8h0M263.2 463.9h0M280.7 478.1h0M228.1 523.6h0M238.2 509.5h0M258.5 492.6h0M285.4 527.4h0M272.7 491.0h0M229.6 502.6h0M258.2 497.8h0M226.7 522.2h0M300.6 474.9h0M280.0 494.8h0M261.6 506.2h0M321.4 461.5h0M287.3 486.5h0M269.7 491.2h0M220.6 519.6h0M251.2 497.5h0M240.8 507.5h0M268.6 500.3h0M313.1 503.7h0M281.9 439.6h0M255.1 467.1h0M215.7 521.3h0M283.5 492.4h0M269.8 523.0h0M294.3 517.8h0M311.4 498.0h0M272.0 526.5h0M251.1 499.1h0M288.5 506.8h0M240.3 511.7h0M311.2 454.5h0M279.3 484.8h0M248.5 505.1h0M322.0 488.8h0M359.5 438.3h0M252.8 505.4h0M311.7 456.7h0M310.3 465.9h0M264.0 500.9h0M221.6 521.4h0M279.4 444.7h0M238.7 518.3h0M256.8 513.0h0M271.1 483.8h0M278.8 492.1h0M256.5 469.6h0M256.7 498.2h0M257.3 511.1h0M246.1 516.6h0M324.8 457.8h0M280.8 521.4h0M221.8 521.2h0M262.7 491.2h0M280.0 446.2h0M288.0 489.2h0M354.8 434.7h0M270.2 451.1h0M262.7 501.2h0M280.2 486.7h0M261.2 522.3h0M276.3 516.8h0M305.3 476.2h0M216.2 527.0h0M323.3 447.1h0M282.6 489.9h0M312.7 460.3h0M275.7 489.0h0M303.0 465.9h0M299.7 478.1h0M277.9 525.9h0M255.8 500.0h0M216.5 522.1h0M269.5 504.9h0M284.1 505.4h0M292.5 508.9h0M214.4 520.1h0M282.9 474.0h0M274.6 497.8h0M297.2 470.8h0M298.5 499.2h0M307.5 528.8h0M259.0 494.5h0M273.0 500.1h0M251.5 512.3h0M262.3 503.9h0M263.9 511.4h0M237.0 517.9h0M217.0 518.3h0M275.7 482.0h0M249.7 506.7h0M275.4 497.6h0M249.8 516.5h0M290.7 474.4h0M268.9 482.3h0M213.7 524.4h0M299.0 479.2h0M330.3 440.2h0M248.2 517.0h0M283.7 501.3h0M299.8 485.5h0M285.2 436.5h0M224.0 516.4h0M280.3 493.0h0M264.1 528.8h0M277.3 483.3h0M242.5 503.8h0M236.4 511.5h0M250.8 512.0h0M289.4 479.3h0M267.5 526.5h0M240.6 515.1h0M279.6 513.7h0M269.0 503.5h0M279.9 440.5h0M247.2 503.7h0M218.5 522.6h0M248.9 500.0h0M295.2 465.2h0M288.7 471.1h0M240.3 504.8h0M224.8 515.9h0M246.7 511.8h0M261.8 497.0h0M336.7 478.9h0M242.7 501.5h0M215.9 527.3h0M324.8 503.9h0M229.1 521.2h0M286.6 482.8h0M307.5 454.8h0M284.0 492.1h0M294.1 476.6h0M281.1 481.4h0M249.8 505.7h0M293.8 471.9h0M215.3 517.3h0M256.4 491.6h0M273.8 448.3h0M260.9 494.5h0M286.8 528.6h0M286.6 523.0h0M261.5 489.4h0M250.6 506.2h0M265.7 459.3h0M297.0 474.6h0M260.5 498.3h0M225.0 517.4h0M280.3 480.8h0M279.0 449.6h0M288.4 431.3h0M296.3 498.9h0M267.5 497.9h0M224.9 518.1h0M288.8 514.1h0M294.7 511.6h0M274.8 498.0h0M276.4 493.0h0M272.6 491.4h0M240.1 512.9h0M255.9 498.5h0M256.5 511.0h0M223.6 523.4h0M266.8 454.6h0M264.4 505.8h0M266.7 495.1h0M287.2 499.4h0M287.6 477.9h0M240.8 488.9h0M293.2 481.3h0M261.9 510.4h0M274.1 528.0h0M261.7 522.1h0M226.6 525.7h0M281.8 480.9h0M247.9 500.8h0M244.8 509.1h0M265.0 457.2h0M298.8 422.5h0M215.4 523.7h0M255.8 498.8h0M344.7 478.6h0M228.9 504.1h0M331.8 457.6h0M263.5 504.5h0M251.4 504.5h0M311.3 492.8h0M263.1 510.2h0M265.3 500.6h0M281.8 440.8h0M287.6 509.7h0M282.4 477.9h0M225.9 518.7h0M270.5 502.8h0M257.3 495.7h0M280.6 482.9h0M228.3 520.4h0M283.4 494.9h0M252.9 477.2h0M246.9 517.3h0M262.4 492.0h0M297.8 484.7h0M238.6 506.9h0M242.2 512.9h0M266.1 499.5h0M285.8 433.8h0M260.3 514.9h0M252.0 501.5h0M294.5 498.1h0M263.2 528.5h0M253.7 504.5h0M239.0 515.8h0M260.2 498.0h0M315.9 471.3h0M271.4 528.7h0M268.1 493.6h0M247.6 506.8h0M282.0 501.0h0M243.8 507.6h0M287.7 491.7h0M227.6 520.6h0M256.0 527.3h0M273.4 498.9h0M280.8 487.5h0M276.3 450.4h0M253.8 507.3h0M281.2 478.6h0M297.6 493.3h0M268.4 492.8h0M226.0 517.8h0M227.2 520.4h0M254.1 499.2h0M262.8 495.6h0M255.0 473.6h0M250.6 511.5h0M328.0 482.3h0M283.2 473.2h0M243.5 514.5h0M288.3 471.7h0M276.1 501.2h0M279.3 500.1h0M252.9 499.5h0M274.8 493.4h0M292.1 480.2h0M251.2 523.4h0M255.6 493.1h0M266.0 499.7h0M243.7 509.2h0M270.5 496.3h0M248.6 507.2h0M256.8 524.1h0M291.5 469.5h0M286.4 478.9h0M289.6 472.9h0M252.9 500.2h0M227.8 528.8h0M292.8 496.0h0M321.0 480.8h0M238.6 516.6h0M229.3 527.1h0M270.2 489.2h0M270.3 450.7h0M266.0 490.2h0M256.8 514.3h0M225.9 518.9h0M329.9 516.8h0M264.2 507.3h0M312.9 493.4h0M279.8 490.4h0M270.9 501.8h0M291.9 514.4h0M274.3 451.3h0M218.5 524.3h0M267.3 525.7h0M275.4 526.8h0M290.7 504.2h0M231.9 513.4h0M240.5 517.5h0M310.0 476.3h0M217.1 522.8h0M281.3 498.1h0M274.0 513.7h0M275.5 445.7h0M288.4 472.2h0M265.6 489.9h0M280.1 492.6h0M312.2 458.0h0M329.2 446.8h0M255.2 506.5h0M240.5 528.2h0M287.5 501.4h0M280.1 497.7h0M277.7 485.9h0M281.6 488.8h0M289.4 496.4h0M245.4 509.7h0M232.4 515.8h0M269.9 501.8h0M248.5 508.9h0M230.2 519.1h0M244.9 516.3h0M295.5 481.9h0M279.5 445.5h0M305.8 524.3h0M225.4 519.2h0M216.7 527.7h0M279.5 493.7h0M279.7 520.2h0M256.8 512.6h0M268.9 452.2h0M267.4 516.0h0M266.2 459.2h0M311.5 504.5h0M261.7 498.3h0M268.6 493.4h0M253.0 511.7h0M280.5 441.6h0M295.8 508.9h0M261.4 501.2h0M279.5 512.4h0M307.3 477.0h0M242.5 512.8h0M276.2 490.2h0M337.9 466.8h0M221.7 521.1h0M263.7 523.3h0M275.6 503.5h0M258.7 521.5h0M247.2 513.0h0M266.6 495.4h0M282.9 485.0h0M314.0 470.1h0M243.5 506.5h0M312.6 477.4h0M286.5 504.6h0M300.0 419.6h0M294.5 489.7h0M262.2 461.9h0M259.1 493.4h0M252.9 501.0h0M293.7 513.6h0M298.1 478.0h0M250.2 498.0h0M250.8 499.3h0M258.9 471.0h0M263.5 495.3h0M301.5 471.3h0M299.6 420.3h0M287.8 519.2h0M270.9 500.7h0M288.2 470.9h0M282.8 492.1h0M276.7 448.2h0M255.4 508.0h0M272.8 495.5h0M273.5 500.7h0M300.5 492.2h0M288.2 515.7h0M269.0 499.4h0M239.2 490.2h0M287.8 488.9h0M291.8 483.6h0M244.7 511.8h0M281.6 477.8h0M298.3 474.4h0M293.2 518.1h0M261.7 506.2h0M273.8 500.4h0M273.0 504.5h0M214.9 521.6h0M262.2 516.6h0M244.0 506.9h0M243.5 502.3h0M261.3 491.4h0M278.2 524.1h0M223.6 527.9h0M325.4 455.3h0M266.1 511.4h0M328.4 459.9h0M255.7 503.5h0M275.4 446.0h0M255.9 472.1h0M258.2 492.2h0M240.2 489.3h0M267.6 491.8h0M303.3 507.5h0M306.4 468.5h0M335.6 446.1h0M287.5 484.2h0M255.9 495.8h0M289.9 516.1h0M267.1 457.6h0M245.8 481.6h0M229.5 521.4h0M242.5 488.2h0M255.3 520.8h0M250.3 507.5h0M228.8 516.2h0M294.4 488.2h0M286.0 479.2h0M253.2 504.2h0M245.3 521.6h0M233.2 519.1h0M308.2 469.5h0M224.4 518.6h0M263.9 495.0h0M213.4 528.8h0M221.6 518.7h0M263.2 490.7h0M256.8 497.6h0M308.3 461.1h0M320.2 503.6h0M281.5 492.5h0M264.6 486.2h0M259.7 517.9h0M221.0 527.2h0M254.9 504.6h0M253.6 502.2h0M307.3 467.8h0M286.4 479.4h0M236.7 515.4h0M285.7 480.5h0M267.9 497.3h0M229.0 516.4h0M263.2 525.6h0M295.4 469.4h0M262.5 489.2h0M278.1 521.5h0M259.3 507.6h0M255.9 475.9h0M282.4 487.0h0M232.8 498.8h0M264.2 499.6h0M229.6 517.1h0M273.7 500.8h0M280.6 492.5h0M304.5 471.4h0M287.0 490.7h0M292.5 431.4h0M263.7 461.2h0M258.0 522.8h0M242.5 505.6h0M238.7 515.6h0M223.9 516.8h0M251.8 506.6h0M250.9 509.9h0M287.9 491.7h0M235.8 517.3h0M280.7 492.2h0M272.9 487.9h0M243.7 508.2h0M275.9 498.4h0M242.7 504.5h0M215.0 518.7h0M260.1 491.9h0M259.2 498.9h0M267.1 499.1h0M270.6 490.7h0M274.9 474.2h0M275.0 526.3h0M267.0 491.2h0M229.4 522.3h0M253.8 510.8h0M280.8 506.6h0M236.7 512.8h0M255.9 497.9h0M280.0 503.9h0M261.1 496.9h0M275.0 500.0h0M224.9 508.2h0M242.7 508.7h0M286.9 472.4h0M283.0 492.9h0M274.6 481.6h0M257.9 493.9h0M283.9 483.4h0M280.1 522.9h0M243.8 523.5h0M258.2 497.9h0M261.3 515.3h0M240.7 513.6h0M298.2 519.9h0M285.0 494.0h0M268.9 498.2h0M262.8 467.4h0M300.2 491.2h0M301.9 466.1h0M241.3 515.5h0M271.5 487.5h0M262.9 492.3h0M296.4 481.1h0M246.4 516.5h0M258.7 492.9h0M296.5 501.4h0M258.4 497.6h0M263.0 461.8h0M275.8 491.5h0M222.5 520.7h0M309.3 472.4h0M246.5 507.1h0M281.8 482.6h0M245.2 504.7h0M277.5 489.6h0M281.4 490.4h0M295.1 421.6h0M214.9 523.1h0M240.5 510.7h0M262.6 518.1h0M259.8 495.3h0M259.4 526.9h0M288.0 481.5h0M283.3 505.0h0M261.7 519.0h0M295.8 484.2h0M283.8 517.7h0M269.4 518.9h0M288.9 498.0h0M258.2 498.6h0M222.1 517.2h0M242.7 504.7h0M271.3 449.6h0M232.4 519.8h0M220.5 517.4h0M271.5 514.9h0M309.3 526.5h0M244.2 505.6h0M245.3 510.3h0M241.3 510.5h0M260.5 498.1h0M285.6 489.2h0M288.6 496.1h0M251.1 498.9h0M258.9 493.3h0M295.5 507.8h0M261.9 493.9h0M235.9 511.5h0M280.4 442.0h0M253.4 501.4h0M276.2 486.2h0M243.2 511.4h0M280.3 523.2h0M255.0 498.1h0M262.8 512.6h0M227.5 519.8h0M290.1 479.4h0M326.1 465.2h0M280.9 444.2h0M269.1 499.8h0M288.2 487.1h0M262.0 519.8h0M225.1 518.5h0M215.8 521.2h0M286.7 506.2h0M257.8 467.4h0M270.4 502.3h0M275.9 484.1h0M288.7 486.6h0M239.8 508.4h0M281.2 504.6h0M257.7 522.7h0M276.1 453.8h0M257.1 494.9h0M271.7 453.3h0M281.9 500.2h0M247.8 512.5h0M267.1 493.7h0M303.9 478.6h0M260.5 496.8h0M299.8 479.1h0M241.9 510.2h0M285.7 488.2h0M270.6 452.8h0M300.3 471.4h0M273.8 506.6h0M253.3 469.3h0M247.5 511.9h0M231.0 517.7h0M227.2 523.2h0M271.8 453.3h0M273.4 490.3h0M251.1 500.8h0M257.8 526.8h0M327.8 494.7h0M272.2 489.3h0M279.5 498.6h0M261.8 506.1h0M281.4 493.8h0M250.6 494.7h0M231.6 516.3h0M276.3 507.0h0M234.6 497.9h0M251.1 506.6h0M242.0 511.7h0M252.7 470.4h0M306.9 414.6h0M305.0 526.2h0M255.2 503.1h0M296.3 477.2h0M284.1 509.5h0M279.7 481.9h0M237.9 511.4h0M294.3 513.4h0M239.4 523.0h0M287.7 478.0h0M223.2 522.0h0M276.3 488.8h0M299.4 472.0h0M248.5 504.5h0M235.3 526.7h0M261.6 490.3h0M303.7 468.1h0M264.8 456.3h0M263.6 464.6h0M317.1 461.2h0M308.0 503.0h0M268.8 493.8h0M288.3 474.6h0M277.0 493.4h0M257.5 504.4h0M248.5 520.4h0M280.4 485.5h0M285.9 479.6h0M261.1 493.9h0M253.8 499.3h0M261.4 498.7h0M245.7 512.7h0M242.3 508.5h0M335.6 502.6h0M237.9 521.5h0M254.6 503.7h0M249.5 499.3h0M293.8 484.5h0M257.4 518.0h0M280.6 482.0h0M266.1 520.7h0M263.3 495.3h0M271.7 498.2h0M251.7 504.2h0M214.1 524.0h0M289.5 482.4h0M281.1 483.5h0M310.9 407.9h0M283.4 489.6h0M226.4 518.5h0M227.7 514.1h0M267.2 491.1h0M218.0 523.9h0M269.2 499.9h0M241.5 519.3h0M248.0 506.4h0M251.7 506.3h0M284.9 491.3h0M305.6 473.1h0M247.5 501.1h0M275.7 496.9h0M284.5 512.8h0M299.0 503.5h0M232.8 511.1h0M282.0 481.1h0M279.8 514.7h0M247.9 511.2h0M281.4 475.7h0M233.3 512.8h0M243.3 513.3h0M279.2 478.4h0M259.8 511.3h0M274.1 485.3h0M324.9 463.5h0M266.5 507.0h0M258.2 467.5h0M262.9 499.2h0M257.7 523.8h0M275.2 451.1h0M227.1 526.6h0M312.4 459.7h0M300.3 464.1h0M228.9 516.2h0M253.0 472.0h0M287.5 484.9h0M253.7 474.8h0M244.8 502.2h0M285.9 481.6h0M270.0 493.7h0M287.9 478.8h0M234.4 511.2h0M265.3 517.2h0M277.8 504.7h0M268.1 494.7h0M290.1 477.6h0M295.9 499.0h0M277.7 526.2h0M293.5 487.9h0M273.2 489.5h0M284.0 438.3h0M288.3 496.7h0M235.6 508.0h0M244.4 509.3h0M272.9 488.7h0M278.9 505.9h0M253.5 526.0h0M239.1 509.5h0M271.8 508.6h0M299.3 492.8h0M317.0 469.5h0M248.8 501.2h0M258.4 505.4h0M270.1 513.7h0M255.0 502.6h0M249.0 518.9h0M268.4 508.3h0M280.3 487.3h0M277.5 505.1h0M262.8 495.8h0M260.1 502.2h0M232.3 502.6h0M271.9 493.5h0M294.9 502.4h0M243.1 510.4h0M300.0 489.0h0M323.4 464.4h0M248.1 511.9h0M270.3 521.7h0M240.5 520.1h0M298.3 471.5h0M287.7 481.5h0M343.5 432.5h0M264.9 507.0h0M242.9 516.7h0M260.8 505.1h0M287.4 496.2h0M245.4 517.2h0M264.2 512.0h0M275.6 511.1h0M263.1 507.8h0M290.6 498.4h0M233.8 513.5h0M304.1 466.6h0M292.0 466.6h0M266.0 496.0h0M296.4 478.5h0M247.3 515.8h0M256.5 504.5h0M254.3 514.4h0M271.5 486.2h0M224.1 520.1h0M265.2 518.7h0M271.6 487.4h0M240.7 522.4h0M264.7 497.9h0M239.0 506.9h0M269.6 506.5h0M272.7 505.8h0M278.1 449.2h0M239.6 505.1h0M259.3 498.3h0M282.0 485.9h0M271.8 447.9h0M265.7 487.6h0M305.4 472.6h0M256.7 494.5h0M277.1 488.4h0M274.4 483.9h0M282.1 504.3h0M292.0 496.4h0M289.8 495.1h0M282.7 494.2h0M254.6 513.9h0M281.3 485.3h0M266.0 497.3h0M287.1 503.4h0M235.5 494.2h0M296.5 468.3h0M258.3 499.9h0M277.2 492.5h0M284.6 475.6h0M236.7 516.4h0M295.6 478.3h0M346.1 442.2h0M272.3 521.3h0M220.9 521.9h0M284.8 481.4h0M217.9 521.4h0M243.3 504.9h0M276.3 505.8h0M226.2 502.7h0M286.7 483.7h0M325.7 442.9h0M252.2 528.3h0M257.2 470.0h0M213.7 528.1h0M218.7 527.0h0M237.6 511.0h0M276.7 503.2h0M294.7 486.5h0M219.8 520.7h0M224.1 518.6h0M238.5 486.7h0M249.7 475.8h0M261.0 523.1h0M280.8 485.3h0M239.8 507.0h0M274.5 507.0h0M276.4 489.2h0M243.1 514.9h0M282.2 485.3h0M281.4 483.3h0M286.2 477.3h0M288.4 473.7h0M247.0 526.0h0M271.2 492.7h0M274.6 500.7h0M268.2 502.9h0M300.5 500.4h0M272.2 490.4h0M262.4 504.2h0M278.2 487.5h0M249.9 509.9h0M283.4 440.3h0M259.3 486.3h0M309.4 467.6h0M251.2 501.0h0M264.2 493.6h0M256.8 494.1h0M273.5 483.1h0M250.8 504.6h0M248.9 501.9h0M285.7 440.9h0M295.3 467.1h0M267.1 456.6h0M273.3 478.8h0M275.8 484.3h0M229.2 528.8h0M229.9 514.1h0M264.4 461.1h0M285.7 483.5h0M294.4 483.9h0M223.3 510.5h0M214.2 525.4h0M266.4 518.8h0M268.7 453.6h0M288.8 483.6h0M250.3 509.5h0M302.1 479.7h0M286.2 476.5h0M274.8 502.0h0M244.3 507.0h0M283.9 486.8h0M288.4 480.6h0M237.7 517.1h0M239.4 490.1h0M233.9 512.7h0M240.4 503.9h0M231.0 514.5h0M233.6 502.0h0M254.3 499.6h0M251.1 504.1h0M223.0 519.7h0M267.0 516.8h0M291.7 500.7h0M276.9 444.2h0M253.3 502.2h0M262.9 506.6h0M272.8 499.8h0M245.2 526.0h0M283.7 496.0h0M274.9 509.7h0M302.1 509.5h0M273.7 525.4h0M249.7 522.5h0M289.8 491.6h0M268.1 457.3h0M273.7 485.6h0M310.4 492.9h0M295.0 470.1h0M276.6 485.7h0M250.8 503.1h0M308.8 487.5h0M233.8 516.8h0M284.4 428.7h0M265.7 499.2h0M271.7 492.7h0M321.4 455.5h0M271.2 490.9h0M242.9 505.1h0M230.5 497.2h0M224.2 528.1h0M269.0 482.6h0M280.0 509.7h0M231.6 520.6h0M225.3 524.0h0M242.5 485.4h0M282.4 480.7h0M269.4 502.9h0M253.5 501.6h0M221.8 517.6h0M278.7 478.7h0M294.6 515.2h0M247.3 479.0h0M274.2 522.3h0M270.4 492.7h0M269.5 452.3h0M288.6 479.8h0M217.2 520.3h0M255.6 465.7h0M225.5 513.1h0M233.9 509.9h0M298.8 474.9h0M299.3 484.1h0M250.3 510.1h0M253.2 497.9h0M225.2 525.8h0M284.9 486.3h0M283.7 482.1h0M309.8 477.3h0M260.8 492.4h0M246.8 511.4h0M241.5 509.8h0M286.0 489.2h0M285.3 483.6h0M273.0 485.5h0M296.2 483.4h0M270.0 493.8h0M286.7 478.6h0M218.3 528.8h0M246.9 478.4h0M305.6 494.1h0M273.9 502.2h0M297.2 471.4h0M275.8 490.0h0M239.3 506.2h0M275.9 487.3h0M296.0 421.7h0M276.1 491.5h0M218.1 526.8h0M255.3 512.7h0M250.0 528.6h0M266.7 498.4h0M220.4 521.7h0M280.5 504.3h0M241.2 505.9h0M286.8 495.8h0M275.5 509.3h0M301.5 466.1h0M271.0 501.1h0M279.3 473.5h0M287.7 492.7h0M296.9 491.8h0M277.3 447.5h0M273.9 514.6h0M273.7 496.2h0M248.1 501.0h0M274.9 485.3h0M216.6 528.8h0M306.2 467.3h0M219.5 521.6h0M302.4 474.0h0M268.8 512.0h0M271.7 478.8h0M242.5 516.7h0M295.6 473.5h0M267.7 454.8h0M248.0 513.2h0M269.0 481.2h0M266.4 515.3h0M240.7 512.2h0M273.5 487.0h0M279.3 485.1h0M275.1 498.6h0M224.5 519.1h0M251.1 505.4h0M227.5 519.0h0M248.1 504.6h0M303.8 491.3h0M261.9 501.9h0M246.9 479.3h0M249.4 501.8h0M277.9 490.1h0M270.2 488.7h0M265.9 455.6h0M284.6 496.6h0M240.5 517.0h0M253.0 511.6h0M247.3 505.4h0M276.0 447.0h0M219.9 520.9h0M298.6 506.1h0M307.9 464.0h0M242.5 503.9h0M271.0 454.4h0M231.1 512.7h0M281.8 510.6h0M265.7 494.9h0M283.3 524.4h0M287.8 472.6h0M255.1 470.6h0M277.8 492.7h0M241.4 514.1h0M275.6 501.4h0M227.5 512.5h0M275.8 481.2h0M244.1 505.8h0M242.0 508.2h0M283.2 485.9h0M257.4 502.3h0M267.7 525.3h0M269.5 452.6h0M256.4 507.1h0M214.3 521.2h0M248.6 501.2h0M271.1 489.9h0M320.6 461.6h0M331.6 448.3h0M272.7 452.0h0M234.4 514.0h0M223.9 528.1h0M272.0 496.8h0M270.5 496.5h0M268.3 502.8h0M262.6 502.4h0M272.7 488.2h0M284.9 528.8h0M257.1 507.6h0M274.9 505.5h0M217.9 526.0h0M251.5 506.5h0M267.5 504.0h0M260.2 465.1h0M270.7 488.9h0M258.1 513.0h0M302.0 471.1h0M259.7 517.6h0M287.6 486.2h0M267.4 496.7h0M254.0 500.2h0M259.6 497.9h0M262.6 464.5h0M260.5 508.8h0M224.8 518.6h0M284.7 498.2h0M248.6 510.7h0M265.0 457.5h0M259.5 490.6h0M291.2 432.4h0M316.8 480.5h0M249.4 479.9h0M214.2 526.5h0M224.9 519.3h0M243.2 510.7h0M286.2 477.2h0M278.2 476.3h0M269.5 512.9h0M294.9 509.3h0M238.4 516.1h0M259.7 511.6h0M245.5 528.4h0M215.4 523.6h0M278.5 510.2h0M248.1 505.2h0M265.3 454.4h0M263.9 503.7h0M262.7 463.6h0M302.3 415.6h0M251.0 471.6h0M282.1 480.5h0M228.3 516.6h0M286.9 520.0h0M232.6 510.8h0M262.4 496.5h0M283.5 473.4h0M241.1 486.1h0M235.8 512.6h0M245.6 512.8h0M250.4 478.4h0M255.6 513.6h0M300.5 477.4h0M257.1 471.0h0M276.6 517.8h0M264.1 519.7h0M260.6 500.6h0M281.9 518.6h0M252.3 506.0h0M274.6 484.6h0M266.2 505.8h0M257.1 509.9h0M288.2 491.1h0M310.8 486.6h0M293.3 504.1h0M231.2 521.7h0M287.5 494.9h0M275.4 485.9h0M287.9 480.0h0M273.7 494.1h0M225.2 516.4h0M263.7 499.1h0M300.2 417.9h0M274.1 487.5h0M291.0 482.7h0M253.8 500.7h0M294.8 524.6h0M312.5 411.3h0M233.6 519.7h0M250.3 515.0h0M257.1 500.4h0M267.2 487.0h0M281.7 483.8h0M289.3 480.7h0M227.7 513.6h0M255.7 521.4h0M236.8 515.3h0M255.2 470.5h0M255.2 499.0h0M267.6 504.0h0M274.4 504.2h0M269.2 488.6h0M235.9 518.9h0M275.9 444.8h0M268.4 492.9h0M234.2 508.5h0M221.0 520.9h0M282.1 479.3h0M261.0 495.7h0M215.2 526.6h0M302.8 523.6h0M292.7 524.1h0M278.9 487.2h0M267.1 519.3h0M262.6 496.1h0M249.4 504.3h0M240.9 511.2h0M295.7 528.8h0M280.3 442.1h0M302.8 470.3h0M253.9 510.6h0M285.1 434.5h0M312.1 468.8h0M259.1 513.3h0M282.0 479.3h0M220.6 518.9h0M254.6 514.1h0M284.5 489.0h0M269.6 488.9h0M279.3 487.0h0M240.2 527.8h0M255.0 504.3h0M293.9 492.9h0M280.9 494.1h0M220.6 517.9h0M251.5 503.8h0M307.0 459.4h0M253.5 499.2h0M288.8 491.6h0M251.6 514.2h0M266.9 527.6h0M288.9 496.4h0M258.4 516.8h0M315.9 514.4h0M265.7 491.3h0M243.8 503.1h0M291.9 495.5h0M245.7 523.4h0M266.0 492.5h0M264.6 495.1h0M254.6 472.7h0M294.8 501.1h0M272.8 503.3h0M241.7 513.6h0M254.0 504.5h0M256.1 502.5h0M289.2 478.1h0M273.4 449.3h0M291.1 434.7h0M263.5 509.6h0M262.2 464.4h0M280.5 497.5h0M269.1 495.8h0M253.7 515.9h0M284.0 477.5h0M250.0 504.7h0M260.0 504.0h0M260.0 469.7h0M279.9 504.7h0M259.3 502.9h0M288.2 476.9h0M238.9 514.5h0M286.6 492.8h0M284.0 494.7h0M295.5 492.4h0M246.6 506.1h0M247.0 504.9h0M307.8 465.2h0M292.3 475.7h0M254.8 497.4h0M240.2 525.5h0M286.9 473.5h0M255.4 503.0h0M253.3 503.3h0M276.6 503.9h0M250.5 503.1h0M285.6 481.1h0M257.2 507.9h0M268.7 493.5h0M291.4 527.9h0M262.4 509.2h0M325.3 477.3h0M227.0 513.5h0M269.9 505.9h0M278.4 490.7h0M234.0 523.9h0M267.9 513.7h0M220.1 521.0h0M310.8 473.1h0M294.6 498.8h0M266.7 502.7h0M232.9 495.8h0M310.4 486.3h0M276.8 487.3h0M219.4 525.0h0M264.4 513.0h0M283.7 498.6h0M249.7 501.2h0M261.3 505.0h0M310.1 462.4h0M348.3 521.8h0M277.5 446.5h0M278.7 509.4h0M250.8 497.0h0M308.4 411.7h0M261.2 466.0h0M248.6 508.0h0M302.5 479.0h0M251.5 510.4h0M264.8 503.7h0M215.0 524.7h0M289.5 495.6h0M265.4 489.6h0M265.0 494.0h0M228.3 524.4h0M260.0 494.2h0M226.0 516.8h0M277.9 482.4h0M322.6 481.9h0M227.1 505.8h0M253.3 510.9h0M251.8 515.2h0M277.7 487.1h0M299.5 492.0h0M293.9 464.6h0M272.2 492.7h0M333.3 510.5h0M284.7 468.2h0M243.0 487.3h0M271.1 500.8h0M285.0 523.8h0M290.3 489.7h0M268.6 478.9h0M274.1 486.4h0M228.1 518.3h0M306.9 467.2h0M274.9 507.3h0M282.7 437.6h0M267.1 486.6h0M262.0 489.9h0M244.7 518.5h0M272.7 445.3h0M313.8 469.6h0M257.1 471.2h0M324.2 487.4h0M269.7 489.9h0M226.0 521.9h0M284.8 500.6h0M251.2 508.1h0M252.8 519.1h0M237.7 513.3h0M285.8 433.0h0M236.6 506.8h0M241.4 514.2h0M279.8 498.7h0M283.7 480.8h0M302.3 511.9h0M249.3 506.0h0M289.1 475.2h0M265.4 522.5h0M265.5 510.7h0M262.1 497.5h0M292.5 473.8h0M280.2 527.7h0M283.4 528.8h0M285.6 483.7h0M288.2 492.1h0M276.8 526.6h0M292.6 510.0h0M280.7 483.2h0M280.1 484.7h0M245.1 505.9h0M255.0 510.2h0M294.8 477.6h0M325.0 446.4h0M241.8 489.4h0M295.8 481.1h0M247.1 516.9h0M260.7 509.8h0M237.9 489.8h0M270.1 491.7h0M296.2 511.3h0M249.1 504.7h0M273.2 491.7h0M261.7 493.0h0M291.1 475.3h0M267.6 494.3h0M258.5 502.6h0M265.1 517.6h0M276.0 503.0h0M308.9 501.8h0M252.6 508.2h0M241.1 513.7h0M246.0 514.1h0M257.5 502.3h0M255.5 494.2h0M239.5 518.7h0M267.9 491.9h0M247.8 507.1h0M269.8 455.9h0M273.2 494.0h0M282.9 511.6h0M291.4 429.4h0M254.0 523.8h0M256.5 510.3h0M282.4 517.6h0M270.5 514.2h0M252.4 500.9h0M283.1 481.0h0M263.3 461.3h0M255.5 507.0h0M245.3 506.8h0M226.0 514.8h0M223.5 520.8h0M272.0 452.6h0M301.5 465.2h0M254.6 505.1h0M241.1 488.3h0M244.4 485.0h0M278.0 520.5h0M281.6 486.8h0M259.5 525.0h0M232.9 498.6h0M217.4 524.5h0M263.1 499.8h0M269.7 481.2h0M223.1 516.8h0M268.5 488.9h0M304.4 413.0h0M308.1 524.9h0M255.5 503.2h0M251.3 475.7h0M263.1 499.2h0M260.2 516.3h0M252.0 513.0h0M271.7 507.4h0M291.9 503.3h0M279.4 500.2h0M252.6 510.2h0M269.5 523.6h0M246.3 524.3h0M269.9 516.4h0M265.0 503.8h0M267.1 501.0h0M271.2 486.7h0M275.6 493.7h0M256.2 497.9h0M274.9 489.5h0M302.0 468.9h0M257.5 466.2h0M289.3 493.3h0M274.8 489.2h0M262.1 510.5h0M227.7 518.8h0M301.2 419.6h0M282.8 442.1h0M263.8 491.6h0M310.2 494.2h0M247.8 482.3h0M237.9 491.2h0M266.6 499.5h0M242.5 528.8h0M286.1 497.7h0M247.2 500.7h0M279.9 489.5h0M281.0 484.0h0M237.9 516.5h0M239.4 505.5h0M275.6 507.1h0M215.3 525.3h0M215.4 524.6h0M313.8 472.5h0M243.9 522.1h0M240.3 507.9h0M289.6 487.0h0M293.9 487.5h0M241.6 509.9h0M296.7 475.6h0M302.9 492.3h0M288.5 429.7h0M311.2 480.9h0M268.7 493.4h0M265.1 511.7h0M237.7 517.3h0M253.5 499.5h0M280.9 522.1h0M304.4 486.9h0M228.1 514.3h0M236.3 522.9h0M284.8 488.3h0M348.3 444.9h0M263.0 496.3h0M255.0 497.7h0M227.7 503.6h0M269.8 512.3h0M242.2 507.5h0M319.4 444.8h0M272.8 495.1h0M252.9 497.5h0M281.6 496.7h0M277.4 492.8h0M245.5 503.2h0M278.7 489.6h0M263.7 495.6h0M265.9 509.5h0M284.1 489.1h0M255.3 501.5h0M279.9 511.5h0M295.1 503.9h0M250.3 477.1h0M271.8 484.7h0M271.7 496.6h0M243.3 503.3h0M294.5 502.1h0M232.9 516.9h0M286.6 478.3h0M288.1 423.3h0M294.1 482.2h0M277.8 473.9h0M293.2 482.1h0M289.8 428.0h0M295.7 476.9h0M267.1 513.5h0M248.5 512.6h0M284.5 492.9h0M258.6 510.6h0M262.4 497.4h0M259.2 498.4h0M291.6 424.2h0M260.7 493.9h0M255.9 504.3h0M279.5 503.9h0M280.8 437.4h0M285.9 507.7h0M261.6 514.1h0M262.6 491.7h0M257.4 501.4h0M247.8 506.3h0M235.7 511.5h0M254.3 498.1h0M276.2 493.7h0M286.8 491.6h0M256.2 499.3h0M311.5 495.0h0M264.9 495.5h0M282.7 439.7h0M256.5 515.1h0M225.1 517.3h0M252.8 509.2h0M287.3 473.5h0M307.8 421.6h0M272.3 502.6h0M259.1 508.9h0M245.8 523.9h0M243.5 507.2h0M291.7 508.4h0M285.3 493.3h0M306.2 459.2h0M242.8 511.4h0M282.3 524.0h0M311.2 471.9h0M247.5 507.2h0M278.2 441.5h0M311.8 506.6h0M253.8 475.9h0M325.1 453.0h0M273.7 495.8h0M271.6 489.7h0M293.8 489.2h0M260.5 492.9h0M311.0 408.7h0M310.7 400.3h0M265.2 491.4h0M277.7 505.1h0M214.7 520.9h0M272.3 490.4h0M233.2 514.1h0M242.4 510.9h0M290.2 474.1h0M259.4 505.8h0M296.7 501.4h0M283.6 436.9h0M270.8 483.8h0M273.5 496.3h0M278.9 485.4h0M311.5 458.3h0M264.0 500.2h0M294.8 471.6h0M295.7 493.1h0M242.9 528.8h0M249.4 503.3h0M286.3 431.4h0M260.0 495.1h0M254.9 504.4h0M277.5 492.0h0M284.5 490.4h0M280.8 491.3h0M279.7 478.3h0M285.3 483.7h0M299.7 478.1h0M275.4 493.6h0M287.7 486.8h0M223.7 518.3h0M287.9 495.5h0M228.0 516.6h0M260.7 496.1h0M218.5 521.8h0M276.5 497.8h0M289.3 485.4h0M259.3 469.4h0M248.9 478.2h0M225.9 507.6h0M221.8 520.8h0M258.2 499.4h0M290.6 489.1h0M283.1 509.6h0M340.1 521.2h0M229.1 503.0h0M245.5 518.8h0M268.3 496.0h0M305.3 481.2h0M298.9 475.1h0M277.4 513.1h0M281.2 445.3h0M264.7 463.1h0M297.6 506.7h0M308.8 488.9h0M298.4 422.8h0M230.5 520.2h0M303.8 403.3h0M219.1 520.9h0M216.1 526.2h0M267.9 509.3h0M221.4 521.5h0M283.4 524.0h0M296.4 466.3h0M269.1 503.2h0M340.1 466.6h0M215.9 528.8h0M275.1 489.1h0M225.3 526.5h0M277.4 506.3h0M299.4 417.7h0M242.5 506.5h0M293.8 493.2h0M275.1 449.3h0M216.9 522.8h0M243.9 507.1h0M254.0 528.8h0M253.3 493.5h0M249.4 476.9h0M277.1 446.8h0M278.9 487.9h0M306.0 502.5h0M299.9 469.1h0M306.9 465.6h0M278.5 507.6h0M220.3 520.8h0M260.0 499.6h0M281.8 441.8h0M258.9 491.1h0M243.3 507.3h0M232.0 515.0h0M298.2 480.7h0M238.3 523.9h0M300.2 473.0h0M286.2 483.3h0M300.5 466.1h0M278.9 480.1h0M274.6 448.0h0M306.4 522.2h0M273.4 486.8h0M298.2 491.8h0M294.5 488.3h0M244.3 520.9h0M252.5 479.5h0M223.4 520.9h0M260.6 497.5h0M283.8 497.9h0M280.8 489.5h0M266.7 502.3h0M252.9 473.7h0M256.7 468.0h0M277.0 498.5h0M262.8 504.1h0M262.0 499.9h0M250.2 519.5h0M271.1 449.7h0M346.5 492.6h0M275.2 483.3h0M248.7 503.6h0M255.3 497.3h0M222.4 519.3h0M273.1 452.3h0M252.6 511.3h0M285.7 476.3h0M255.5 469.8h0M264.0 500.3h0M261.7 496.1h0M243.5 513.9h0M268.9 507.0h0M273.1 499.8h0M254.1 522.6h0M324.6 484.5h0M271.4 483.2h0M255.1 511.5h0M258.2 515.2h0M285.8 494.5h0M353.8 519.7h0M281.9 484.1h0M266.1 492.1h0M304.2 479.5h0M314.9 482.2h0M253.2 528.8h0M253.1 503.8h0M265.4 508.1h0M244.1 522.4h0M306.4 470.0h0M245.4 508.6h0M271.1 494.1h0M338.6 523.6h0M242.6 504.9h0M286.1 434.7h0M219.4 524.5h0M313.0 484.0h0M293.9 428.7h0M317.9 462.5h0M283.8 435.2h0M273.6 505.6h0M241.3 506.8h0M257.3 508.1h0M225.4 517.6h0M268.7 487.1h0M262.7 460.8h0M229.3 512.9h0M292.7 507.8h0M275.7 501.4h0M255.5 506.8h0M248.6 519.0h0M283.1 482.7h0M269.0 492.3h0M282.9 484.2h0M233.4 511.2h0M265.2 528.8h0M287.2 432.5h0M304.1 476.2h0M217.9 524.3h0M300.5 481.8h0M258.9 506.0h0M258.7 501.4h0M296.0 435.7h0M241.4 489.4h0M254.0 473.3h0M261.8 505.8h0M282.4 440.5h0M257.1 502.0h0M259.6 501.7h0M267.0 520.6h0M245.4 512.3h0M267.5 456.7h0M278.4 480.0h0M284.7 505.5h0M286.0 492.5h0M279.4 479.0h0M259.7 508.3h0M257.2 501.6h0M254.0 473.8h0M260.1 520.2h0M263.2 524.6h0M247.3 508.1h0M237.4 511.1h0M293.2 477.8h0M280.1 482.9h0M282.7 489.4h0M289.6 517.0h0M260.1 466.2h0M288.7 481.1h0M298.8 472.8h0M282.2 479.8h0M279.7 481.8h0M314.9 466.0h0M270.0 484.6h0M285.9 480.2h0M251.0 512.3h0M292.3 510.0h0M318.2 470.0h0M287.1 487.5h0M222.3 517.9h0M305.8 460.6h0M284.6 480.2h0M261.7 494.6h0M276.2 480.1h0M297.9 480.4h0M325.5 485.7h0M232.4 516.5h0M272.0 495.9h0M287.0 480.1h0M252.5 516.0h0M280.9 496.2h0M215.2 525.3h0M263.8 506.4h0M237.4 503.8h0M224.0 524.2h0M263.9 460.3h0M229.3 518.2h0M322.7 448.9h0M251.4 512.8h0M301.1 477.6h0M318.1 490.7h0M228.0 501.9h0M274.0 485.2h0M276.1 491.0h0M295.9 477.0h0M251.0 498.8h0M235.7 519.2h0M296.5 464.1h0M267.2 496.6h0M260.5 493.9h0M250.6 518.3h0M295.8 473.1h0M269.2 492.0h0M277.6 446.3h0M257.9 505.4h0M257.4 510.0h0M281.2 506.7h0M294.4 476.2h0M293.7 477.2h0M280.9 513.4h0M312.1 459.3h0M269.7 503.9h0M267.7 504.1h0M253.3 500.1h0M259.9 508.9h0M291.1 492.2h0M303.8 465.3h0M247.5 498.9h0M308.1 465.9h0M291.3 521.9h0M232.9 520.7h0M215.3 518.4h0M217.7 515.5h0M220.2 512.2h0M216.1 517.9h0M214.6 519.3h0M219.8 512.8h0M220.1 513.3h0M216.1 517.3h0M220.4 512.2h0M220.0 513.2h0M223.5 510.9h0M218.0 514.9h0M219.1 514.3h0M218.4 514.5h0M219.5 513.0h0M218.3 515.1h0M217.2 516.4h0M220.9 513.1h0M218.4 514.9h0M219.8 513.9h0M219.7 513.5h0M217.3 515.5h0M221.5 510.7h0M227.9 503.2h0M219.1 513.5h0M222.2 511.9h0M215.5 518.3h0M216.2 516.8h0M219.2 514.5h0M216.6 516.1h0M220.7 512.5h0M221.5 511.7h0M222.1 509.9h0M222.7 509.6h0M221.9 509.7h0M215.4 518.1h0M220.7 512.6h0M211.4 522.8h0M216.0 517.4h0M219.1 513.7h0M219.3 514.4h0M218.1 515.0h0M221.9 510.3h0M223.7 509.2h0M219.8 513.8h0M220.8 511.2h0M217.1 515.7h0M219.1 513.3h0M219.5 512.2h0M219.8 512.6h0M218.3 513.6h0M217.5 516.1h0M220.5 513.6h0M219.8 512.9h0M217.0 516.7h0M219.6 513.7h0M222.3 510.8h0M216.6 516.7h0M218.7 514.1h0M220.2 510.2h0M220.8 511.9h0M217.4 516.5h0M218.7 514.9h0M218.9 514.5h0M218.7 514.8h0M223.7 508.8h0M219.2 514.3h0M221.0 510.6h0M222.0 510.1h0M220.2 512.7h0M218.2 514.3h0M223.5 508.6h0M218.0 515.5h0M219.2 513.7h0M217.9 514.8h0M219.6 512.6h0M219.0 513.6h0M220.2 512.7h0M223.6 509.4h0M215.1 518.5h0M220.1 512.2h0M216.2 517.5h0M214.7 518.6h0M219.7 513.2h0M222.1 510.8h0M216.0 517.6h0M213.7 520.2h0M216.3 518.3h0M216.5 516.6h0M216.6 517.4h0M217.6 515.2h0M217.3 516.5h0M217.9 515.4h0M215.4 518.5h0M220.1 512.7h0M218.9 514.0h0M220.6 511.9h0M218.0 514.6h0M214.7 519.4h0M219.0 513.9h0M216.8 516.8h0M217.9 514.9h0M213.9 519.8h0M218.6 514.6h0M218.2 515.4h0M220.0 513.4h0M224.1 508.3h0M223.8 507.6h0M219.0 514.4h0M216.3 517.7h0M218.0 514.2h0M224.7 507.1h0M220.7 512.2h0M217.7 515.7h0M219.3 514.7h0M224.3 506.8h0M219.2 513.2h0M219.0 514.9h0M219.4 514.5h0M222.8 510.1h0M221.2 510.9h0M217.8 516.6h0M219.3 514.2h0M222.7 511.1h0M218.1 514.4h0M219.2 513.4h0M218.1 514.9h0M215.0 518.5h0M217.4 515.3h0M218.3 515.8h0M220.7 512.7h0M218.8 513.4h0M221.6 511.9h0M223.7 508.8h0M215.4 518.4h0M217.1 516.0h0M217.1 516.3h0M221.5 509.5h0M219.4 513.0h0M219.5 514.4h0M220.0 512.8h0M216.6 516.5h0M214.6 519.3h0M221.6 511.3h0M217.6 516.1h0M218.2 515.1h0M216.5 517.6h0M215.3 518.6h0M219.3 513.6h0M217.8 515.3h0M217.7 515.1h0M219.8 513.3h0M217.6 515.9h0M219.6 513.1h0M221.0 510.8h0M223.8 509.0h0M214.3 519.4h0M217.4 516.4h0M216.8 516.5h0M216.4 517.7h0M219.3 514.4h0M219.0 513.8h0M218.8 514.8h0M213.2 520.4h0M220.0 511.4h0M221.1 512.4h0M214.0 520.5h0M214.6 519.8h0M222.0 509.8h0M216.6 516.9h0M317.6 376.6h0M321.4 373.5h0" stroke="#000" stroke-width="0.95" stroke-linecap="round" fill="none" opacity="0.85"/><g fill="#0000ff" stroke="#000" stroke-width="0.55"><rect x="590.6" y="344.9" width="12.2" height="1.1"/><rect x="602.7" y="343.2" width="11.8" height="2.8"/><rect x="614.5" y="321.8" width="11.8" height="24.2"/><rect x="626.3" y="260.9" width="11.8" height="85.1"/><rect x="638.0" y="173.6" width="12.2" height="172.4"/><rect x="650.2" y="192.5" width="11.8" height="153.5"/><rect x="661.9" y="249.6" width="12.2" height="96.4"/><rect x="674.1" y="281.9" width="11.8" height="64.1"/><rect x="685.9" y="317.2" width="12.2" height="28.8"/><rect x="698.0" y="315.9" width="11.8" height="30.1"/><rect x="709.8" y="328.5" width="11.8" height="17.5"/><rect x="721.6" y="343.2" width="12.2" height="2.8"/></g><g fill="#0000ff" stroke="#000" stroke-width="0.55"><rect x="383.6" y="435.8" width="12.6" height="93.6"/><rect x="396.2" y="360.6" width="12.6" height="168.8"/><rect x="408.8" y="398.4" width="12.6" height="131.0"/><rect x="421.4" y="439.2" width="12.6" height="90.2"/><rect x="434.0" y="474.8" width="12.6" height="54.6"/><rect x="446.6" y="513.9" width="12.2" height="15.5"/><rect x="458.7" y="524.8" width="12.6" height="4.6"/><rect x="471.3" y="524.8" width="12.6" height="4.6"/><rect x="483.9" y="526.1" width="12.6" height="3.3"/><rect x="520.0" y="528.6" width="12.6" height="0.8"/></g><g fill="#0000ff" stroke="#000" stroke-width="0.55"><rect x="212.7" y="656.1" width="12.6" height="56.7"/><rect x="225.3" y="649.0" width="12.6" height="63.8"/><rect x="237.9" y="596.1" width="12.6" height="116.7"/><rect x="250.5" y="532.3" width="12.6" height="180.5"/><rect x="263.1" y="546.9" width="12.2" height="165.9"/><rect x="275.3" y="535.6" width="12.6" height="177.2"/><rect x="287.9" y="598.6" width="12.6" height="114.2"/><rect x="300.5" y="657.4" width="12.2" height="55.4"/><rect x="312.7" y="689.3" width="12.6" height="23.5"/><rect x="325.2" y="702.3" width="12.6" height="10.5"/><rect x="337.8" y="707.3" width="12.6" height="5.5"/><rect x="350.4" y="710.7" width="12.6" height="2.1"/></g><path d="M206.0 162.3H383.6V346.0H206.0ZM383.6 162.3H561.2V346.0H383.6ZM561.2 162.3H739.2V346.0H561.2ZM206.0 346.0H383.6V529.4H206.0ZM383.6 346.0H561.2V529.4H383.6ZM206.0 529.4H383.6V712.8H206.0Z" fill="none" stroke="#000" stroke-width="0.65"/><text x="203.0" y="319.5" font-size="12.2" text-anchor="end" class="se">6.5</text><text x="590.9" y="357.9" font-size="12.2" text-anchor="middle" class="se">6.5</text><text x="203.0" y="288.9" font-size="12.2" text-anchor="end" class="se">7.0</text><text x="620.5" y="357.9" font-size="12.2" text-anchor="middle" class="se">7.0</text><text x="203.0" y="258.3" font-size="12.2" text-anchor="end" class="se">7.5</text><text x="650.2" y="357.9" font-size="12.2" text-anchor="middle" class="se">7.5</text><text x="203.0" y="227.6" font-size="12.2" text-anchor="end" class="se">8.0</text><text x="679.9" y="357.9" font-size="12.2" text-anchor="middle" class="se">8.0</text><text x="203.0" y="197.0" font-size="12.2" text-anchor="end" class="se">8.5</text><text x="709.5" y="357.9" font-size="12.2" text-anchor="middle" class="se">8.5</text><text x="256.7" y="724.2" font-size="12.2" text-anchor="middle" class="se">20</text><text x="307.5" y="724.2" font-size="12.2" text-anchor="middle" class="se">40</text><text x="358.2" y="724.2" font-size="12.2" text-anchor="middle" class="se">60</text><text x="206.0" y="724.2" font-size="12.2" text-anchor="middle" class="se">0</text><text x="413.2" y="541.2" font-size="12.2" text-anchor="middle" class="se">10</text><text x="203.0" y="502.9" font-size="12.2" text-anchor="end" class="se">10</text><text x="442.8" y="541.2" font-size="12.2" text-anchor="middle" class="se">20</text><text x="203.0" y="472.4" font-size="12.2" text-anchor="end" class="se">20</text><text x="472.4" y="541.2" font-size="12.2" text-anchor="middle" class="se">30</text><text x="203.0" y="441.8" font-size="12.2" text-anchor="end" class="se">30</text><text x="502.0" y="541.2" font-size="12.2" text-anchor="middle" class="se">40</text><text x="203.0" y="411.2" font-size="12.2" text-anchor="end" class="se">40</text><text x="531.6" y="541.2" font-size="12.2" text-anchor="middle" class="se">50</text><text x="203.0" y="380.7" font-size="12.2" text-anchor="end" class="se">50</text><text x="203.0" y="533.5" font-size="12.2" text-anchor="end" class="se">0</text><path d="M206.0 315.4h3M383.6 315.4h-3M383.6 315.4h3M561.2 315.4h-3M590.9 346.0v-3M590.9 162.3v3M206.0 284.8h3M383.6 284.8h-3M383.6 284.8h3M561.2 284.8h-3M620.5 346.0v-3M620.5 162.3v3M206.0 254.2h3M383.6 254.2h-3M383.6 254.2h3M561.2 254.2h-3M650.2 346.0v-3M650.2 162.3v3M206.0 223.5h3M383.6 223.5h-3M383.6 223.5h3M561.2 223.5h-3M679.9 346.0v-3M679.9 162.3v3M206.0 192.9h3M383.6 192.9h-3M383.6 192.9h3M561.2 192.9h-3M709.5 346.0v-3M709.5 162.3v3M256.7 162.3v3M256.7 346.0v-3M256.7 346.0v3M256.7 529.4v-3M256.7 529.4v3M256.7 712.8v-3M307.5 162.3v3M307.5 346.0v-3M307.5 346.0v3M307.5 529.4v-3M307.5 529.4v3M307.5 712.8v-3M358.2 162.3v3M358.2 346.0v-3M358.2 346.0v3M358.2 529.4v-3M358.2 529.4v3M358.2 712.8v-3M413.2 162.3v3M413.2 346.0v-3M413.2 346.0v3M413.2 529.4v-3M206.0 498.8h3M383.6 498.8h-3M442.8 162.3v3M442.8 346.0v-3M442.8 346.0v3M442.8 529.4v-3M206.0 468.3h3M383.6 468.3h-3M472.4 162.3v3M472.4 346.0v-3M472.4 346.0v3M472.4 529.4v-3M206.0 437.7h3M383.6 437.7h-3M502.0 162.3v3M502.0 346.0v-3M502.0 346.0v3M502.0 529.4v-3M206.0 407.1h3M383.6 407.1h-3M531.6 162.3v3M531.6 346.0v-3M531.6 346.0v3M531.6 529.4v-3M206.0 376.6h3M383.6 376.6h-3M561.2 293.6h3M739.2 293.6h-3M383.6 483.4h3M561.2 483.4h-3M206.0 660.5h3M383.6 660.5h-3M561.2 241.3h3M739.2 241.3h-3M383.6 437.4h3M561.2 437.4h-3M206.0 608.3h3M383.6 608.3h-3M561.2 188.9h3M739.2 188.9h-3M383.6 391.4h3M561.2 391.4h-3M206.0 556.0h3M383.6 556.0h-3" fill="none" stroke="#000" stroke-width="0.5"/><text x="649.3" y="371.8" font-size="13.2" text-anchor="middle" textLength="93.0" lengthAdjust="spacingAndGlyphs">log<tspan font-size="8.5" dy="2">10</tspan><tspan dy="-2" class="se" font-family="Liberation Serif" font-style="italic">(M<tspan font-size="8.5" dy="2">BH</tspan><tspan dy="-2">/M</tspan><tspan font-size="8.5" dy="2">&#8857;</tspan><tspan dy="-2">)</tspan></tspan></text><text transform="translate(182.3,253.3) rotate(-90)" font-size="13.2" text-anchor="middle" textLength="93.0" lengthAdjust="spacingAndGlyphs">log<tspan font-size="8.5" dy="2">10</tspan><tspan dy="-2" class="se" font-family="Liberation Serif" font-style="italic">(M<tspan font-size="8.5" dy="2">BH</tspan><tspan dy="-2">/M</tspan><tspan font-size="8.5" dy="2">&#8857;</tspan><tspan dy="-2">)</tspan></tspan></text><text x="471.8" y="554.2" font-size="13.2" text-anchor="middle" textLength="122.6" lengthAdjust="spacingAndGlyphs">Inclination (degrees)</text><text transform="translate(184.6,438.3) rotate(-90)" font-size="13.2" text-anchor="middle" textLength="120.5" lengthAdjust="spacingAndGlyphs">Inclination (degrees)</text><text x="294.6" y="737.5" font-size="13.2" text-anchor="middle" textLength="148.6" lengthAdjust="spacingAndGlyphs">Opening angle (degrees)</text></svg>
<div class="b" style="left:77.3px;top:789.9px;width:773.5px;line-height:12.60px;font-size:12.00px;">
<div style="padding-left:10px;letter-spacing:0.66px"><span class="sc">Fig.</span> 4.&mdash; Inferred posterior PDFs for model parameters, including <i>M</i><sub>BH</sub>, inclination angle (0 degrees is face-on), and opening angle of</div>
<div class="e" style="word-spacing:1.25px;letter-spacing:0.62px">the BLR disk. Joint posterior PDFs are also shown to illustrate the major degeneracies.</div>
</div>
<div class="b" style="left:77.3px;top:871.8px;width:369.7px;line-height:16.28px;font-size:15.00px;">
<div style="letter-spacing:0.57px">of <i>g</i> in units of its mean.&nbsp; The radial width of the BLR</div>
<div class="e" style="word-spacing:0.93px;letter-spacing:0.46px">can be defined as the standard deviation of <i>r</i>:</div>
</div>
<div class="ln l" style="left:207.9px;top:920.0px;width:400.0px;line-height:18.00px;font-size:15.00px;letter-spacing:0.5px;word-spacing:1px;"><i>&sigma;<sub>r</sub></i> = <i>&mu;&beta;</i>(1 &minus; <i>F</i>).</div>
<div class="ln r" style="left:420.0px;top:920.0px;width:26.6px;line-height:18.00px;font-size:15.00px;">(3)</div>
<div class="b" style="left:77.3px;top:951.8px;width:369.7px;line-height:16.28px;font-size:15.00px;">
<div style="padding-left:14px;letter-spacing:0.70px">In order to assign velocities to the BLR gas clouds,</div>
<div style="letter-spacing:0.47px">the model uses probabilistic perturbations about circular</div>
<div style="letter-spacing:0.29px">orbits. The solution for the radial velocity of a BLR cloud</div>
<div style="letter-spacing:0.70px">given its position <i>r</i>, energy <i>E</i>, and angular momentum</div>
<div class="e" style="word-spacing:0.93px;letter-spacing:0.46px"><i>L</i> is:</div>
</div>
<svg style="left:0;top:0" width="927" height="1200" viewBox="0 0 927 1200"><path d="M201.8 1067.8l1.8 -1.2L209.2 1086.5L215.2 1042.0H364.7" fill="none" stroke="#1a1a1a" stroke-width="0.9" stroke-linejoin="miter"/><path d="M236.0 1048.5Q223.7 1066.5 236.0 1084.5" fill="none" stroke="#1a1a1a" stroke-width="1.0"/><path d="M316.5 1048.5Q324.1 1066.5 316.5 1084.5" fill="none" stroke="#1a1a1a" stroke-width="1.0"/><path d="M268.0 1066.5H313.0" stroke="#1a1a1a" stroke-width="0.9"/><path d="M346.0 1066.5H363.5" stroke="#1a1a1a" stroke-width="0.9"/></svg>
<div class="ln l" style="left:154.4px;top:1057.3px;width:400.0px;line-height:18.00px;font-size:15.00px;letter-spacing:0.4px;word-spacing:1.5px;"><i>v<sub>r</sub></i> = &plusmn;</div>
<div class="ln l" style="left:218.5px;top:1057.3px;width:400.0px;line-height:18.00px;font-size:15.00px;">2</div>
<div class="ln l" style="left:237.5px;top:1057.3px;width:400.0px;line-height:18.00px;font-size:15.00px;word-spacing:1.5px;"><i>E</i> +</div>
<div class="ln l" style="left:268.5px;top:1047.0px;width:400.0px;line-height:18.00px;font-size:15.00px;letter-spacing:0.5px;"><i>GM</i><sub>BH</sub></div>
<div class="ln l" style="left:287.5px;top:1067.3px;width:400.0px;line-height:18.00px;font-size:15.00px;"><i>r</i></div>
<div class="ln l" style="left:332.5px;top:1057.3px;width:400.0px;line-height:18.00px;font-size:15.00px;">&minus;</div>
<div class="ln l" style="left:346.5px;top:1046.6px;width:400.0px;line-height:18.00px;font-size:15.00px;"><i>L</i><sup>2</sup></div>
<div class="ln l" style="left:347.5px;top:1067.6px;width:400.0px;line-height:18.00px;font-size:15.00px;"><i>r</i><sup>2</sup></div>
<div class="ln l" style="left:366.0px;top:1057.3px;width:400.0px;line-height:18.00px;font-size:15.00px;">.</div>
<div class="ln r" style="left:420.0px;top:1057.3px;width:26.4px;line-height:18.00px;font-size:15.00px;">(4)</div>
<div class="b" style="left:77.3px;top:1105.9px;width:369.7px;line-height:16.28px;font-size:15.00px;">
<div style="letter-spacing:0.53px">If we wished to impose circular orbits, the values for <i>E</i></div>
<div style="letter-spacing:0.59px">and <i>L</i> would be fully determined by the radius <i>r</i> of the</div>
</div>
<div class="b" style="left:481.1px;top:871.9px;width:369.7px;line-height:16.28px;font-size:15.00px;">
<div class="e" style="word-spacing:0.93px;letter-spacing:0.46px">cloud:</div>
</div>
<svg style="left:0;top:0" width="927" height="1200" viewBox="0 0 927 1200"><path d="M628.2 912.3H636.5" stroke="#1a1a1a" stroke-width="0.9"/><path d="M639.2 912.3H684.4" stroke="#1a1a1a" stroke-width="0.9"/><path d="M634.3 958.4l1.8 -1.2L641.7 977.0L647.7 932.6H760.2" fill="none" stroke="#1a1a1a" stroke-width="0.9" stroke-linejoin="miter"/><path d="M669.0 939.0Q656.6 957.0 669.0 975.0" fill="none" stroke="#1a1a1a" stroke-width="1.0"/><path d="M750.0 939.0Q757.6 957.0 750.0 975.0" fill="none" stroke="#1a1a1a" stroke-width="1.0"/><path d="M702.2 957.1H746.7" stroke="#1a1a1a" stroke-width="0.9"/><path d="M619.0 1062.0Q605.7 1080.2 619.0 1098.5" fill="none" stroke="#1a1a1a" stroke-width="1.0"/><path d="M706.0 1062.0Q714.2 1080.2 706.0 1098.5" fill="none" stroke="#1a1a1a" stroke-width="1.0"/><path d="M621.9 1080.3H704.0" stroke="#1a1a1a" stroke-width="0.9"/><path d="M716.0 1104.5Q703.6 1122.5 716.0 1140.5" fill="none" stroke="#1a1a1a" stroke-width="1.0"/><path d="M739.5 1104.5Q747.1 1122.5 739.5 1140.5" fill="none" stroke="#1a1a1a" stroke-width="1.0"/><path d="M719.0 1122.8H737.2" stroke="#1a1a1a" stroke-width="0.9"/></svg>
<div class="ln l" style="left:569.0px;top:903.2px;width:400.0px;line-height:18.00px;font-size:15.00px;letter-spacing:0.4px;word-spacing:0.5px;"><i>E</i><sub>circ</sub> = &minus;</div>
<div class="ln l" style="left:628.8px;top:892.6px;width:400.0px;line-height:18.00px;font-size:15.00px;">1</div>
<div class="ln l" style="left:628.8px;top:911.9px;width:400.0px;line-height:18.00px;font-size:15.00px;">2</div>
<div class="ln l" style="left:639.8px;top:893.0px;width:400.0px;line-height:18.00px;font-size:15.00px;letter-spacing:0.5px;"><i>GM</i><sub>BH</sub></div>
<div class="ln l" style="left:658.5px;top:912.4px;width:400.0px;line-height:18.00px;font-size:15.00px;"><i>r</i></div>
<div class="ln r" style="left:824.0px;top:903.2px;width:26.4px;line-height:18.00px;font-size:15.00px;">(5)</div>
<div class="ln l" style="left:569.0px;top:947.7px;width:400.0px;line-height:18.00px;font-size:15.00px;letter-spacing:0.4px;word-spacing:0.5px;"><i>L</i><sub>circ</sub> = &plusmn;<i>r</i></div>
<div class="ln l" style="left:649.5px;top:947.7px;width:400.0px;line-height:18.00px;font-size:15.00px;">2</div>
<div class="ln l" style="left:671.0px;top:947.7px;width:400.0px;line-height:18.00px;font-size:15.00px;word-spacing:1.5px;"><i>E</i> +</div>
<div class="ln l" style="left:702.7px;top:938.5px;width:400.0px;line-height:18.00px;font-size:15.00px;letter-spacing:0.5px;"><i>GM</i><sub>BH</sub></div>
<div class="ln l" style="left:721.5px;top:958.0px;width:400.0px;line-height:18.00px;font-size:15.00px;"><i>r</i></div>
<div class="ln l" style="left:760.8px;top:947.7px;width:400.0px;line-height:18.00px;font-size:15.00px;">.</div>
<div class="ln r" style="left:824.0px;top:947.7px;width:26.4px;line-height:18.00px;font-size:15.00px;">(6)</div>
<div class="b" style="left:481.1px;top:986.6px;width:369.7px;line-height:16.28px;font-size:15.00px;">
<div style="letter-spacing:0.50px">To obtain elliptical orbits, we generate values for <i>E</i> and</div>
<div style="letter-spacing:0.47px"><i>L</i> probabilistically, given <i>r</i>. The probability distributions</div>
<div style="letter-spacing:0.49px">for energy and angular momentum are parameterized by</div>
<div class="e" style="word-spacing:0.93px;letter-spacing:0.46px">the parameter <i>&lambda;</i> and are given by:</div>
</div>
<div class="ln l" style="left:578.0px;top:1070.8px;width:400.0px;line-height:18.00px;font-size:15.00px;word-spacing:2px;"><i>E</i> =</div>
<div class="ln l" style="left:659.5px;top:1061.2px;width:400.0px;line-height:18.00px;font-size:15.00px;">1</div>
<div class="ln l" style="left:622.5px;top:1081.6px;width:400.0px;line-height:18.00px;font-size:15.00px;letter-spacing:0.45px;word-spacing:0.5px;">1 + exp(&minus;<i>&chi;</i>)</div>
<div class="ln l" style="left:719.7px;top:1070.8px;width:400.0px;line-height:18.00px;font-size:15.00px;letter-spacing:0.4px;"><i>E</i><sub>circ</sub></div>
<div class="ln r" style="left:824.0px;top:1070.8px;width:26.4px;line-height:18.00px;font-size:15.00px;">(7)</div>
<div class="ln l" style="left:630.4px;top:1113.5px;width:400.0px;line-height:18.00px;font-size:15.00px;letter-spacing:0.45px;word-spacing:0.5px;"><i>p</i>(<i>L</i>) &prop; exp</div>
<div class="ln l" style="left:719.5px;top:1102.6px;width:400.0px;line-height:18.00px;font-size:15.00px;letter-spacing:0.4px;">|<i>L</i>|</div>
<div class="ln l" style="left:724.0px;top:1124.3px;width:400.0px;line-height:18.00px;font-size:15.00px;"><i>&lambda;</i></div>
<div class="ln r" style="left:824.0px;top:1113.5px;width:26.4px;line-height:18.00px;font-size:15.00px;">(8)</div>
</div>
<div class="pg" style="left:3708px">
<div class="ln" style="left:273.4px;top:64.7px;width:379.5px;line-height:18.00px;font-size:15.00px;letter-spacing:0.43px;">Dynamical Modeling of the Broad Line Region in Mrk 50</div>
<div class="ln r" style="left:830.0px;top:64.7px;width:21.0px;line-height:18.00px;font-size:15.00px;">5</div>
<svg style="left:0;top:0" width="927" height="1200" viewBox="0 0 927 1200"><g fill="#0000ff" stroke="#000" stroke-width="0.55"><rect x="182.4" y="244.3" width="13.5" height="0.6"/><rect x="195.9" y="243.1" width="13.2" height="1.8"/><rect x="209.1" y="230.8" width="13.2" height="14.1"/><rect x="222.3" y="202.3" width="13.5" height="42.6"/><rect x="235.8" y="156.1" width="13.2" height="88.8"/><rect x="249.0" y="111.4" width="13.2" height="133.5"/><rect x="262.2" y="102.4" width="13.5" height="142.5"/><rect x="275.7" y="133.9" width="13.2" height="111.0"/><rect x="288.9" y="159.1" width="13.2" height="85.8"/><rect x="302.1" y="190.3" width="13.2" height="54.6"/><rect x="315.3" y="208.6" width="13.5" height="36.3"/><rect x="328.8" y="228.4" width="13.2" height="16.5"/><rect x="342.0" y="236.5" width="13.2" height="8.4"/><rect x="355.2" y="242.8" width="13.5" height="2.1"/><rect x="368.7" y="244.0" width="12.9" height="0.9"/></g><rect x="182.4" y="102.4" width="199.2" height="142.5" fill="none" stroke="#000" stroke-width="0.7"/><path d="M182.4 244.9H381.6" stroke="#000" stroke-width="1.4"/><g fill="#0000ff" stroke="#000" stroke-width="0.55"><rect x="195.9" y="422.7" width="13.2" height="0.6"/><rect x="222.3" y="418.5" width="13.5" height="4.8"/><rect x="235.8" y="402.3" width="13.2" height="21.0"/><rect x="249.0" y="370.2" width="13.2" height="53.1"/><rect x="262.2" y="307.8" width="13.5" height="115.5"/><rect x="275.7" y="280.5" width="13.2" height="142.8"/><rect x="288.9" y="339.0" width="13.2" height="84.3"/><rect x="302.1" y="380.4" width="13.2" height="42.9"/><rect x="315.3" y="409.5" width="13.5" height="13.8"/><rect x="328.8" y="417.9" width="13.2" height="5.4"/><rect x="342.0" y="420.6" width="13.2" height="2.7"/><rect x="355.2" y="422.7" width="13.5" height="0.6"/><rect x="368.7" y="423.0" width="12.9" height="0.3"/></g><rect x="182.4" y="280.5" width="199.2" height="142.8" fill="none" stroke="#000" stroke-width="0.7"/><path d="M182.4 423.3H381.6" stroke="#000" stroke-width="1.4"/><g fill="#0000ff" stroke="#000" stroke-width="0.55"><rect x="182.4" y="458.4" width="13.5" height="142.5"/><rect x="195.9" y="561.3" width="13.2" height="39.6"/><rect x="209.1" y="588.6" width="13.2" height="12.3"/><rect x="222.3" y="597.3" width="13.5" height="3.6"/><rect x="235.8" y="600.6" width="13.2" height="0.3"/><rect x="328.8" y="600.3" width="13.2" height="0.6"/><rect x="342.0" y="596.4" width="13.2" height="4.5"/><rect x="355.2" y="571.5" width="13.5" height="29.4"/><rect x="368.7" y="507.9" width="12.9" height="93.0"/></g><rect x="182.4" y="458.4" width="199.2" height="142.5" fill="none" stroke="#000" stroke-width="0.7"/><path d="M182.4 600.9H381.6" stroke="#000" stroke-width="1.4"/><text x="178.5" y="109.5" font-size="12.2" text-anchor="end" class="se">0.4</text><text x="178.5" y="144.0" font-size="12.2" text-anchor="end" class="se">0.3</text><text x="178.5" y="179.1" font-size="12.2" text-anchor="end" class="se">0.2</text><text x="178.5" y="214.2" font-size="12.2" text-anchor="end" class="se">0.1</text><text x="225.0" y="257.8" font-size="12.2" text-anchor="middle" class="se">8</text><text x="281.1" y="257.8" font-size="12.2" text-anchor="middle" class="se">10</text><text x="337.2" y="257.8" font-size="12.2" text-anchor="middle" class="se">12</text><text x="178.5" y="306.2" font-size="12.2" text-anchor="end" class="se">0.3</text><text x="178.5" y="346.7" font-size="12.2" text-anchor="end" class="se">0.2</text><text x="178.5" y="387.5" font-size="12.2" text-anchor="end" class="se">0.1</text><text x="201.6" y="436.2" font-size="12.2" text-anchor="middle" class="se">2</text><text x="234.0" y="436.2" font-size="12.2" text-anchor="middle" class="se">4</text><text x="266.1" y="436.2" font-size="12.2" text-anchor="middle" class="se">6</text><text x="298.5" y="436.2" font-size="12.2" text-anchor="middle" class="se">8</text><text x="330.6" y="436.2" font-size="12.2" text-anchor="middle" class="se">10</text><text x="363.0" y="436.2" font-size="12.2" text-anchor="middle" class="se">12</text><text x="178.5" y="473.3" font-size="12.2" text-anchor="end" class="se">6</text><text x="178.5" y="495.2" font-size="12.2" text-anchor="end" class="se">5</text><text x="178.5" y="517.4" font-size="12.2" text-anchor="end" class="se">4</text><text x="178.5" y="539.3" font-size="12.2" text-anchor="end" class="se">3</text><text x="178.5" y="561.5" font-size="12.2" text-anchor="end" class="se">2</text><text x="178.5" y="583.4" font-size="12.2" text-anchor="end" class="se">1</text><text x="222.3" y="613.8" font-size="12.2" text-anchor="middle" class="se">0.2</text><text x="262.2" y="613.8" font-size="12.2" text-anchor="middle" class="se">0.4</text><text x="302.1" y="613.8" font-size="12.2" text-anchor="middle" class="se">0.6</text><text x="342.0" y="613.8" font-size="12.2" text-anchor="middle" class="se">0.8</text><path d="M182.4 105.4h3M381.6 105.4h-3M182.4 139.9h3M381.6 139.9h-3M182.4 175.0h3M381.6 175.0h-3M182.4 210.1h3M381.6 210.1h-3M225.0 244.9v-3M225.0 102.4v3M281.1 244.9v-3M281.1 102.4v3M337.2 244.9v-3M337.2 102.4v3M182.4 302.1h3M381.6 302.1h-3M182.4 342.6h3M381.6 342.6h-3M182.4 383.4h3M381.6 383.4h-3M201.6 423.3v-3M201.6 280.5v3M234.0 423.3v-3M234.0 280.5v3M266.1 423.3v-3M266.1 280.5v3M298.5 423.3v-3M298.5 280.5v3M330.6 423.3v-3M330.6 280.5v3M363.0 423.3v-3M363.0 280.5v3M182.4 469.2h3M381.6 469.2h-3M182.4 491.1h3M381.6 491.1h-3M182.4 513.3h3M381.6 513.3h-3M182.4 535.2h3M381.6 535.2h-3M182.4 557.4h3M381.6 557.4h-3M182.4 579.3h3M381.6 579.3h-3M222.3 600.9v-3M222.3 458.4v3M262.2 600.9v-3M262.2 458.4v3M302.1 600.9v-3M302.1 458.4v3M342.0 600.9v-3M342.0 458.4v3" stroke="#000" stroke-width="0.5" fill="none"/><text x="282.0" y="271.7" font-size="13.2" text-anchor="middle" textLength="145.2" lengthAdjust="spacingAndGlyphs">Mean Radius (light days)</text><text x="282.0" y="449.5" font-size="13.2" text-anchor="middle" textLength="101.4" lengthAdjust="spacingAndGlyphs">Width (light days)</text><text x="282.0" y="628.0" font-size="13.2" text-anchor="middle" textLength="84.0" lengthAdjust="spacingAndGlyphs">Inflow Fraction</text><text transform="translate(156.2,175.0) rotate(-90)" font-size="13.2" text-anchor="middle" textLength="94.5" lengthAdjust="spacingAndGlyphs">P(Mean Radius)</text><text transform="translate(156.2,351.6) rotate(-90)" font-size="13.2" text-anchor="middle" textLength="52.5" lengthAdjust="spacingAndGlyphs">P(Width)</text><text transform="translate(166.6,530.4) rotate(-90)" font-size="13.2" text-anchor="middle" textLength="102.0" lengthAdjust="spacingAndGlyphs">P(Inflow Fraction)</text></svg>
<svg style="left:0;top:0" width="927" height="1200" viewBox="0 0 927 1200"><defs><linearGradient id="gau" x1="0" x2="1" y1="0" y2="0"><stop offset="0.0000" stop-color="#fff" stop-opacity="0.017"/><stop offset="0.0312" stop-color="#fff" stop-opacity="0.034"/><stop offset="0.0625" stop-color="#fff" stop-opacity="0.064"/><stop offset="0.0938" stop-color="#fff" stop-opacity="0.111"/><stop offset="0.1250" stop-color="#fff" stop-opacity="0.178"/><stop offset="0.1562" stop-color="#fff" stop-opacity="0.264"/><stop offset="0.1875" stop-color="#fff" stop-opacity="0.368"/><stop offset="0.2188" stop-color="#fff" stop-opacity="0.482"/><stop offset="0.2500" stop-color="#fff" stop-opacity="0.599"/><stop offset="0.2812" stop-color="#fff" stop-opacity="0.710"/><stop offset="0.3125" stop-color="#fff" stop-opacity="0.806"/><stop offset="0.3438" stop-color="#fff" stop-opacity="0.882"/><stop offset="0.3750" stop-color="#fff" stop-opacity="0.938"/><stop offset="0.4062" stop-color="#fff" stop-opacity="0.973"/><stop offset="0.4375" stop-color="#fff" stop-opacity="0.992"/><stop offset="0.4688" stop-color="#fff" stop-opacity="0.999"/><stop offset="0.5000" stop-color="#fff" stop-opacity="1.000"/><stop offset="0.5312" stop-color="#fff" stop-opacity="0.999"/><stop offset="0.5625" stop-color="#fff" stop-opacity="0.992"/><stop offset="0.5938" stop-color="#fff" stop-opacity="0.973"/><stop offset="0.6250" stop-color="#fff" stop-opacity="0.938"/><stop offset="0.6562" stop-color="#fff" stop-opacity="0.882"/><stop offset="0.6875" stop-color="#fff" stop-opacity="0.806"/><stop offset="0.7188" stop-color="#fff" stop-opacity="0.710"/><stop offset="0.7500" stop-color="#fff" stop-opacity="0.599"/><stop offset="0.7812" stop-color="#fff" stop-opacity="0.482"/><stop offset="0.8125" stop-color="#fff" stop-opacity="0.368"/><stop offset="0.8438" stop-color="#fff" stop-opacity="0.264"/><stop offset="0.8750" stop-color="#fff" stop-opacity="0.178"/><stop offset="0.9062" stop-color="#fff" stop-opacity="0.111"/><stop offset="0.9375" stop-color="#fff" stop-opacity="0.064"/><stop offset="0.9688" stop-color="#fff" stop-opacity="0.034"/><stop offset="1.0000" stop-color="#fff" stop-opacity="0.017"/></linearGradient></defs><clipPath id="vac"><rect x="521.9" y="101.3" width="147.7" height="139.8"/></clipPath><filter id="vaf" filterUnits="userSpaceOnUse" x="521.9" y="101.3" width="147.7" height="139.8" color-interpolation-filters="sRGB"><feGaussianBlur in="SourceGraphic" stdDeviation="0.6 1.3" result="b"/><feTurbulence type="fractalNoise" baseFrequency="0.5" numOctaves="2" seed="3" result="n"/><feColorMatrix in="n" type="matrix" values="1 0 0 0 0 1 0 0 0 0 1 0 0 0 0 0 0 0 0 1" result="n1"/><feComposite in="b" in2="n1" operator="arithmetic" k1="1.35" k2="0.32" k3="0.1" k4="-0.035" result="m"/><feComponentTransfer in="m"><feFuncR type="table" tableValues="0 0 0 0 0.5 1 1 1 0.5"/><feFuncG type="table" tableValues="0 0 0.5 1 1 1 0.5 0 0"/><feFuncB type="table" tableValues="0.5 1 1 1 0.5 0 0 0 0"/><feFuncA type="linear" slope="0" intercept="1"/></feComponentTransfer></filter><g clip-path="url(#vac)"><g filter="url(#vaf)"><rect x="518.9" y="98.3" width="153.7" height="145.8" fill="#000"/><g fill="url(#gau)"><rect x="475.5" y="238.30" width="234.5" height="3.10" opacity="0.021"/><rect x="477.1" y="235.51" width="231.0" height="3.10" opacity="0.108"/><rect x="478.8" y="232.71" width="227.5" height="3.10" opacity="0.293"/><rect x="480.4" y="229.92" width="223.9" height="3.10" opacity="0.417"/><rect x="482.6" y="227.12" width="219.2" height="3.10" opacity="0.497"/><rect x="485.5" y="224.32" width="213.3" height="3.10" opacity="0.530"/><rect x="488.3" y="221.53" width="207.4" height="3.10" opacity="0.563"/><rect x="491.1" y="218.73" width="201.5" height="3.10" opacity="0.586"/><rect x="494.3" y="215.94" width="195.0" height="3.10" opacity="0.598"/><rect x="497.7" y="213.14" width="187.9" height="3.10" opacity="0.610"/><rect x="501.1" y="210.34" width="180.8" height="3.10" opacity="0.622"/><rect x="504.5" y="207.55" width="173.7" height="3.10" opacity="0.634"/><rect x="507.7" y="204.75" width="167.5" height="3.10" opacity="0.633"/><rect x="510.6" y="201.96" width="162.2" height="3.10" opacity="0.620"/><rect x="513.5" y="199.16" width="156.9" height="3.10" opacity="0.607"/><rect x="516.4" y="196.36" width="151.5" height="3.10" opacity="0.593"/><rect x="519.3" y="193.57" width="146.2" height="3.10" opacity="0.580"/><rect x="522.2" y="190.77" width="140.9" height="3.10" opacity="0.567"/><rect x="525.1" y="187.98" width="135.6" height="3.10" opacity="0.548"/><rect x="528.0" y="185.18" width="130.3" height="3.10" opacity="0.525"/><rect x="530.7" y="182.38" width="125.5" height="3.10" opacity="0.502"/><rect x="533.0" y="179.59" width="121.2" height="3.10" opacity="0.478"/><rect x="535.4" y="176.79" width="117.0" height="3.10" opacity="0.455"/><rect x="537.8" y="174.00" width="112.7" height="3.10" opacity="0.432"/><rect x="540.2" y="171.20" width="108.5" height="3.10" opacity="0.411"/><rect x="542.5" y="168.40" width="104.2" height="3.10" opacity="0.392"/><rect x="544.9" y="165.61" width="100.0" height="3.10" opacity="0.374"/><rect x="547.3" y="162.81" width="95.7" height="3.10" opacity="0.356"/><rect x="549.7" y="160.02" width="91.5" height="3.10" opacity="0.338"/><rect x="552.0" y="157.22" width="87.2" height="3.10" opacity="0.319"/><rect x="553.9" y="154.42" width="83.8" height="3.10" opacity="0.304"/><rect x="555.3" y="151.63" width="81.2" height="3.10" opacity="0.293"/><rect x="556.6" y="148.83" width="78.6" height="3.10" opacity="0.282"/><rect x="558.0" y="146.04" width="76.0" height="3.10" opacity="0.272"/><rect x="559.4" y="143.24" width="73.4" height="3.10" opacity="0.261"/><rect x="560.8" y="140.44" width="70.8" height="3.10" opacity="0.249"/><rect x="562.1" y="137.65" width="68.2" height="3.10" opacity="0.239"/><rect x="563.5" y="134.85" width="65.6" height="3.10" opacity="0.228"/><rect x="564.9" y="132.06" width="63.0" height="3.10" opacity="0.217"/><rect x="566.3" y="129.26" width="60.4" height="3.10" opacity="0.206"/><rect x="567.4" y="126.46" width="58.3" height="3.10" opacity="0.197"/><rect x="568.3" y="123.67" width="56.6" height="3.10" opacity="0.191"/><rect x="569.2" y="120.87" width="54.9" height="3.10" opacity="0.185"/><rect x="570.1" y="118.08" width="53.3" height="3.10" opacity="0.179"/><rect x="571.0" y="115.28" width="51.6" height="3.10" opacity="0.173"/><rect x="571.9" y="112.48" width="50.0" height="3.10" opacity="0.167"/><rect x="572.8" y="109.69" width="48.3" height="3.10" opacity="0.161"/><rect x="573.7" y="106.89" width="46.7" height="3.10" opacity="0.155"/><rect x="574.6" y="104.10" width="45.0" height="3.10" opacity="0.149"/><rect x="575.5" y="101.30" width="43.4" height="3.10" opacity="0.143"/></g></g></g><rect x="521.9" y="101.3" width="147.7" height="139.8" fill="none" stroke="#000" stroke-width="0.7"/><clipPath id="vbc"><rect x="686.6" y="101.3" width="147.9" height="139.8"/></clipPath><filter id="vbf" filterUnits="userSpaceOnUse" x="686.6" y="101.3" width="147.9" height="139.8" color-interpolation-filters="sRGB"><feGaussianBlur in="SourceGraphic" stdDeviation="0.6 1.3" result="b"/><feTurbulence type="fractalNoise" baseFrequency="0.5" numOctaves="2" seed="8" result="n"/><feColorMatrix in="n" type="matrix" values="1 0 0 0 0 1 0 0 0 0 1 0 0 0 0 0 0 0 0 1" result="n1"/><feComposite in="b" in2="n1" operator="arithmetic" k1="1.35" k2="0.32" k3="0.1" k4="-0.035" result="m"/><feComponentTransfer in="m"><feFuncR type="table" tableValues="0 0 0 0 0.5 1 1 1 0.5"/><feFuncG type="table" tableValues="0 0 0.5 1 1 1 0.5 0 0"/><feFuncB type="table" tableValues="0.5 1 1 1 0.5 0 0 0 0"/><feFuncA type="linear" slope="0" intercept="1"/></feComponentTransfer></filter><g clip-path="url(#vbc)"><g filter="url(#vbf)"><rect x="683.6" y="98.3" width="153.9" height="145.8" fill="#000"/><g fill="url(#gau)"><rect x="642.5" y="238.30" width="206.8" height="3.10" opacity="0.075"/><rect x="644.1" y="235.51" width="204.0" height="3.10" opacity="0.275"/><rect x="645.8" y="232.71" width="201.1" height="3.10" opacity="0.506"/><rect x="647.5" y="229.92" width="198.3" height="3.10" opacity="0.568"/><rect x="649.1" y="227.12" width="195.5" height="3.10" opacity="0.629"/><rect x="651.5" y="224.32" width="191.2" height="3.10" opacity="0.655"/><rect x="654.9" y="221.53" width="185.5" height="3.10" opacity="0.645"/><rect x="658.6" y="218.73" width="179.8" height="3.10" opacity="0.635"/><rect x="662.4" y="215.94" width="174.2" height="3.10" opacity="0.619"/><rect x="666.1" y="213.14" width="168.5" height="3.10" opacity="0.596"/><rect x="669.4" y="210.34" width="163.8" height="3.10" opacity="0.574"/><rect x="672.1" y="207.55" width="160.0" height="3.10" opacity="0.551"/><rect x="674.9" y="204.75" width="156.2" height="3.10" opacity="0.529"/><rect x="677.7" y="201.96" width="152.4" height="3.10" opacity="0.506"/><rect x="680.5" y="199.16" width="148.6" height="3.10" opacity="0.484"/><rect x="683.3" y="196.36" width="144.8" height="3.10" opacity="0.461"/><rect x="685.9" y="193.57" width="141.0" height="3.10" opacity="0.441"/><rect x="688.4" y="190.77" width="137.3" height="3.10" opacity="0.424"/><rect x="691.0" y="187.98" width="133.5" height="3.10" opacity="0.406"/><rect x="693.5" y="185.18" width="129.7" height="3.10" opacity="0.389"/><rect x="696.0" y="182.38" width="125.9" height="3.10" opacity="0.374"/><rect x="698.5" y="179.59" width="122.1" height="3.10" opacity="0.363"/><rect x="701.1" y="176.79" width="118.3" height="3.10" opacity="0.353"/><rect x="703.6" y="174.00" width="114.5" height="3.10" opacity="0.342"/><rect x="706.1" y="171.20" width="110.7" height="3.10" opacity="0.331"/><rect x="708.7" y="168.40" width="107.0" height="3.10" opacity="0.320"/><rect x="711.2" y="165.61" width="103.2" height="3.10" opacity="0.308"/><rect x="713.7" y="162.81" width="99.4" height="3.10" opacity="0.297"/><rect x="716.2" y="160.02" width="95.6" height="3.10" opacity="0.287"/><rect x="718.8" y="157.22" width="91.8" height="3.10" opacity="0.276"/><rect x="720.8" y="154.42" width="88.5" height="3.10" opacity="0.266"/><rect x="722.5" y="151.63" width="85.7" height="3.10" opacity="0.258"/><rect x="724.1" y="148.83" width="82.8" height="3.10" opacity="0.250"/><rect x="725.8" y="146.04" width="80.0" height="3.10" opacity="0.242"/><rect x="727.4" y="143.24" width="77.1" height="3.10" opacity="0.234"/><rect x="729.1" y="140.44" width="74.3" height="3.10" opacity="0.226"/><rect x="730.7" y="137.65" width="71.5" height="3.10" opacity="0.218"/><rect x="732.3" y="134.85" width="68.6" height="3.10" opacity="0.210"/><rect x="734.0" y="132.06" width="65.8" height="3.10" opacity="0.202"/><rect x="735.6" y="129.26" width="62.9" height="3.10" opacity="0.194"/><rect x="737.0" y="126.46" width="60.6" height="3.10" opacity="0.187"/><rect x="738.2" y="123.67" width="58.7" height="3.10" opacity="0.181"/><rect x="739.4" y="120.87" width="56.8" height="3.10" opacity="0.175"/><rect x="740.5" y="118.08" width="54.9" height="3.10" opacity="0.169"/><rect x="741.7" y="115.28" width="53.0" height="3.10" opacity="0.163"/><rect x="742.9" y="112.48" width="51.1" height="3.10" opacity="0.157"/><rect x="744.0" y="109.69" width="49.2" height="3.10" opacity="0.151"/><rect x="745.2" y="106.89" width="47.3" height="3.10" opacity="0.145"/><rect x="746.4" y="104.10" width="45.4" height="3.10" opacity="0.139"/><rect x="747.5" y="101.30" width="43.5" height="3.10" opacity="0.133"/></g></g></g><rect x="686.6" y="101.3" width="147.9" height="139.8" fill="none" stroke="#000" stroke-width="0.7"/><clipPath id="vcc"><rect x="521.9" y="256.3" width="147.7" height="139.8"/></clipPath><filter id="vcf" filterUnits="userSpaceOnUse" x="521.9" y="256.3" width="147.7" height="139.8" color-interpolation-filters="sRGB"><feGaussianBlur in="SourceGraphic" stdDeviation="0.6 1.3" result="b"/><feTurbulence type="fractalNoise" baseFrequency="0.5" numOctaves="2" seed="14" result="n"/><feColorMatrix in="n" type="matrix" values="1 0 0 0 0 1 0 0 0 0 1 0 0 0 0 0 0 0 0 1" result="n1"/><feComposite in="b" in2="n1" operator="arithmetic" k1="1.35" k2="0.32" k3="0.1" k4="-0.035" result="m"/><feComponentTransfer in="m"><feFuncR type="table" tableValues="0 0 0 0 0.5 1 1 1 0.5"/><feFuncG type="table" tableValues="0 0 0.5 1 1 1 0.5 0 0"/><feFuncB type="table" tableValues="0.5 1 1 1 0.5 0 0 0 0"/><feFuncA type="linear" slope="0" intercept="1"/></feComponentTransfer></filter><g clip-path="url(#vcc)"><g filter="url(#vcf)"><rect x="518.9" y="253.3" width="153.7" height="145.8" fill="#000"/><g fill="url(#gau)"><rect x="447.7" y="393.30" width="296.2" height="3.10" opacity="0.025"/><rect x="454.0" y="390.51" width="283.6" height="3.10" opacity="0.235"/><rect x="460.3" y="387.71" width="271.0" height="3.10" opacity="0.475"/><rect x="469.0" y="384.92" width="253.7" height="3.10" opacity="0.585"/><rect x="480.1" y="382.12" width="231.6" height="3.10" opacity="0.647"/><rect x="491.1" y="379.32" width="209.5" height="3.10" opacity="0.660"/><rect x="499.6" y="376.53" width="192.6" height="3.10" opacity="0.673"/><rect x="505.6" y="373.73" width="180.8" height="3.10" opacity="0.670"/><rect x="511.5" y="370.94" width="169.0" height="3.10" opacity="0.650"/><rect x="517.5" y="368.14" width="157.2" height="3.10" opacity="0.630"/><rect x="521.6" y="365.34" width="148.9" height="3.10" opacity="0.609"/><rect x="524.0" y="362.55" width="144.2" height="3.10" opacity="0.588"/><rect x="526.4" y="359.75" width="139.4" height="3.10" opacity="0.566"/><rect x="528.8" y="356.96" width="134.7" height="3.10" opacity="0.544"/><rect x="531.2" y="354.16" width="130.0" height="3.10" opacity="0.522"/><rect x="533.6" y="351.36" width="125.2" height="3.10" opacity="0.501"/><rect x="536.0" y="348.57" width="120.5" height="3.10" opacity="0.480"/><rect x="538.4" y="345.77" width="115.8" height="3.10" opacity="0.460"/><rect x="540.8" y="342.98" width="111.1" height="3.10" opacity="0.440"/><rect x="543.2" y="340.18" width="106.3" height="3.10" opacity="0.420"/><rect x="545.0" y="337.38" width="102.7" height="3.10" opacity="0.404"/><rect x="546.3" y="334.59" width="100.1" height="3.10" opacity="0.392"/><rect x="547.7" y="331.79" width="97.5" height="3.10" opacity="0.380"/><rect x="549.0" y="329.00" width="94.9" height="3.10" opacity="0.368"/><rect x="550.3" y="326.20" width="92.3" height="3.10" opacity="0.356"/><rect x="551.7" y="323.40" width="89.7" height="3.10" opacity="0.344"/><rect x="553.0" y="320.61" width="87.1" height="3.10" opacity="0.332"/><rect x="554.3" y="317.81" width="84.5" height="3.10" opacity="0.320"/><rect x="555.6" y="315.02" width="81.9" height="3.10" opacity="0.308"/><rect x="557.0" y="312.22" width="79.3" height="3.10" opacity="0.296"/><rect x="558.1" y="309.42" width="77.0" height="3.10" opacity="0.285"/><rect x="559.1" y="306.63" width="75.1" height="3.10" opacity="0.276"/><rect x="560.1" y="303.83" width="73.3" height="3.10" opacity="0.267"/><rect x="561.1" y="301.04" width="71.4" height="3.10" opacity="0.259"/><rect x="562.0" y="298.24" width="69.5" height="3.10" opacity="0.249"/><rect x="563.0" y="295.44" width="67.6" height="3.10" opacity="0.240"/><rect x="564.0" y="292.65" width="65.7" height="3.10" opacity="0.232"/><rect x="565.0" y="289.85" width="63.8" height="3.10" opacity="0.223"/><rect x="565.9" y="287.06" width="61.9" height="3.10" opacity="0.214"/><rect x="566.9" y="284.26" width="60.0" height="3.10" opacity="0.205"/><rect x="567.7" y="281.46" width="58.5" height="3.10" opacity="0.197"/><rect x="568.3" y="278.67" width="57.3" height="3.10" opacity="0.191"/><rect x="568.9" y="275.87" width="56.1" height="3.10" opacity="0.185"/><rect x="569.6" y="273.08" width="54.9" height="3.10" opacity="0.179"/><rect x="570.2" y="270.28" width="53.8" height="3.10" opacity="0.173"/><rect x="570.8" y="267.48" width="52.6" height="3.10" opacity="0.167"/><rect x="571.4" y="264.69" width="51.4" height="3.10" opacity="0.161"/><rect x="572.0" y="261.89" width="50.2" height="3.10" opacity="0.155"/><rect x="572.7" y="259.10" width="49.0" height="3.10" opacity="0.149"/><rect x="573.3" y="256.30" width="47.9" height="3.10" opacity="0.143"/></g></g></g><rect x="521.9" y="256.3" width="147.7" height="139.8" fill="none" stroke="#000" stroke-width="0.7"/><path d="M686.6 374.1L689.6 373.2L692.5 373.8L695.5 372.9L698.4 370.7L701.4 370.0L704.3 369.0L707.3 368.5L710.3 366.8L713.2 365.7L716.2 364.6L719.1 363.6L722.1 361.3L725.1 359.6L728.0 357.3L731.0 355.0L733.9 352.2L736.9 349.9L739.8 347.0L742.8 343.9L745.8 341.0L748.7 338.7L751.7 335.8L754.6 334.3L757.6 333.1L760.5 331.1L763.5 331.1L766.5 330.3L769.4 330.9L772.4 331.9L775.3 332.1L778.3 335.1L781.3 337.1L784.2 338.9L787.2 341.9L790.1 345.2L793.1 346.2L796.0 348.6L799.0 350.9L802.0 352.6L804.9 354.8L807.9 356.1L810.8 358.2L813.8 358.6L816.8 360.2L819.7 363.1L822.7 363.5L825.6 364.9L828.6 366.6L831.5 367.9L834.5 369.3" fill="none" stroke="#000" stroke-width="1.0" stroke-dasharray="1 1.7"/><path d="M686.6 379.7L689.6 380.0L692.5 379.0L695.5 379.6L698.4 378.7L701.4 378.7L704.3 378.7L707.3 377.9L710.3 376.4L713.2 375.6L716.2 374.9L719.1 373.1L722.1 370.7L725.1 367.4L728.0 365.1L731.0 360.7L733.9 357.8L736.9 352.7L739.8 349.7L742.8 344.6L745.8 341.0L748.7 338.6L751.7 335.9L754.6 333.4L757.6 331.8L760.5 330.4L763.5 329.7L766.5 328.3L769.4 326.4L772.4 325.4L775.3 328.6L778.3 329.6L781.3 332.7L784.2 335.0L787.2 338.5L790.1 339.8L793.1 343.2L796.0 344.4L799.0 347.0L802.0 348.9L804.9 349.6L807.9 352.5L810.8 353.3L813.8 354.1L816.8 356.3L819.7 357.4L822.7 358.1L825.6 360.7L828.6 361.7L831.5 364.2L834.5 365.0" fill="none" stroke="#000" stroke-width="0.8" stroke-dasharray="4 2.6"/><path d="M686.6 387.0L689.6 385.7L692.5 385.8L695.5 384.1L698.4 384.9L701.4 383.5L704.3 383.1L707.3 381.4L710.3 379.0L713.2 377.9L716.2 375.8L719.1 372.2L722.1 369.7L725.1 366.7L728.0 361.4L731.0 358.5L733.9 353.8L736.9 348.4L739.8 343.4L742.8 338.7L745.8 335.1L748.7 331.1L751.7 328.8L754.6 326.5L757.6 324.7L760.5 323.6L763.5 322.7L766.5 322.5L769.4 322.4L772.4 324.4L775.3 327.7L778.3 332.2L781.3 336.4L784.2 341.9L787.2 347.4L790.1 351.4L793.1 355.3L796.0 360.3L799.0 363.6L802.0 367.2L804.9 370.4L807.9 372.9L810.8 373.8L813.8 376.1L816.8 376.3L819.7 377.2L822.7 378.6L825.6 378.8L828.6 380.5L831.5 381.9L834.5 383.3" fill="none" stroke="#000" stroke-width="0.8"/><path d="M716.9 384.9V373.7M737.6 343.0V332.9M750.9 322.3V313.9M760.1 320.6V311.1M769.1 322.3V312.2M782.7 337.4V329.0M802.7 374.3V359.8" stroke="#e81818" stroke-width="1.7" fill="none"/><path d="M716.9 374.9V353.0M737.6 354.7V339.1M750.9 341.9V328.4M760.1 337.4V326.2M769.1 336.8V327.3M782.7 346.3V331.8M802.7 367.0V345.8" stroke="#20bcbc" stroke-width="1.7" fill="none" opacity="0.9"/><rect x="686.6" y="256.3" width="147.9" height="139.8" fill="none" stroke="#000" stroke-width="0.7"/><path d="M695.2 269.8h20.3" stroke="#000" stroke-width="1.0" stroke-dasharray="1 1.7"/><path d="M695.2 283.6h20.3" stroke="#000" stroke-width="0.8" stroke-dasharray="4 2.6"/><path d="M695.2 297.6h20.3" stroke="#000" stroke-width="0.8"/><text x="723.0" y="273.4" font-size="10.3" text-anchor="start" textLength="84.2" lengthAdjust="spacingAndGlyphs">Top left mean lag</text><text x="723.0" y="287.2" font-size="10.3" text-anchor="start" textLength="91.0" lengthAdjust="spacingAndGlyphs">Top right mean lag</text><text x="723.0" y="301.2" font-size="10.3" text-anchor="start" textLength="67.0" lengthAdjust="spacingAndGlyphs">Left mean lag</text><text x="536.7" y="252.8" font-size="10.3" text-anchor="middle">&minus;40</text><text x="566.2" y="252.8" font-size="10.3" text-anchor="middle">&minus;20</text><text x="595.8" y="252.8" font-size="10.3" text-anchor="middle">0</text><text x="625.3" y="252.8" font-size="10.3" text-anchor="middle">20</text><text x="654.8" y="252.8" font-size="10.3" text-anchor="middle">40</text><text x="520.1" y="244.8" font-size="10.3" text-anchor="end">0</text><text x="520.1" y="216.8" font-size="10.3" text-anchor="end">5</text><text x="520.1" y="188.9" font-size="10.3" text-anchor="end">10</text><text x="520.1" y="160.9" font-size="10.3" text-anchor="end">15</text><text x="520.1" y="133.0" font-size="10.3" text-anchor="end">20</text><text x="520.1" y="105.0" font-size="10.3" text-anchor="end">25</text><text x="701.4" y="252.8" font-size="10.3" text-anchor="middle">&minus;40</text><text x="731.0" y="252.8" font-size="10.3" text-anchor="middle">&minus;20</text><text x="760.5" y="252.8" font-size="10.3" text-anchor="middle">0</text><text x="790.1" y="252.8" font-size="10.3" text-anchor="middle">20</text><text x="819.7" y="252.8" font-size="10.3" text-anchor="middle">40</text><text x="684.8" y="244.8" font-size="10.3" text-anchor="end">0</text><text x="684.8" y="216.8" font-size="10.3" text-anchor="end">5</text><text x="684.8" y="188.9" font-size="10.3" text-anchor="end">10</text><text x="684.8" y="160.9" font-size="10.3" text-anchor="end">15</text><text x="684.8" y="133.0" font-size="10.3" text-anchor="end">20</text><text x="684.8" y="105.0" font-size="10.3" text-anchor="end">25</text><text x="536.7" y="407.8" font-size="10.3" text-anchor="middle">&minus;40</text><text x="566.2" y="407.8" font-size="10.3" text-anchor="middle">&minus;20</text><text x="595.8" y="407.8" font-size="10.3" text-anchor="middle">0</text><text x="625.3" y="407.8" font-size="10.3" text-anchor="middle">20</text><text x="654.8" y="407.8" font-size="10.3" text-anchor="middle">40</text><text x="520.1" y="399.8" font-size="10.3" text-anchor="end">0</text><text x="520.1" y="371.8" font-size="10.3" text-anchor="end">5</text><text x="520.1" y="343.9" font-size="10.3" text-anchor="end">10</text><text x="520.1" y="315.9" font-size="10.3" text-anchor="end">15</text><text x="520.1" y="288.0" font-size="10.3" text-anchor="end">20</text><text x="520.1" y="260.0" font-size="10.3" text-anchor="end">25</text><text x="701.4" y="407.8" font-size="10.3" text-anchor="middle">&minus;40</text><text x="731.0" y="407.8" font-size="10.3" text-anchor="middle">&minus;20</text><text x="760.5" y="407.8" font-size="10.3" text-anchor="middle">0</text><text x="790.1" y="407.8" font-size="10.3" text-anchor="middle">20</text><text x="819.7" y="407.8" font-size="10.3" text-anchor="middle">40</text><text x="684.8" y="399.8" font-size="10.3" text-anchor="end">0</text><text x="684.8" y="371.8" font-size="10.3" text-anchor="end">5</text><text x="684.8" y="343.9" font-size="10.3" text-anchor="end">10</text><text x="684.8" y="315.9" font-size="10.3" text-anchor="end">15</text><text x="684.8" y="288.0" font-size="10.3" text-anchor="end">20</text><text x="684.8" y="260.0" font-size="10.3" text-anchor="end">25</text><path d="M536.7 241.1v-2.5M536.7 101.3v2.5M566.2 241.1v-2.5M566.2 101.3v2.5M595.8 241.1v-2.5M595.8 101.3v2.5M625.3 241.1v-2.5M625.3 101.3v2.5M654.8 241.1v-2.5M654.8 101.3v2.5M521.9 241.1h2.5M669.6 241.1h-2.5M521.9 213.1h2.5M669.6 213.1h-2.5M521.9 185.2h2.5M669.6 185.2h-2.5M521.9 157.2h2.5M669.6 157.2h-2.5M521.9 129.3h2.5M669.6 129.3h-2.5M521.9 101.3h2.5M669.6 101.3h-2.5M701.4 241.1v-2.5M701.4 101.3v2.5M731.0 241.1v-2.5M731.0 101.3v2.5M760.5 241.1v-2.5M760.5 101.3v2.5M790.1 241.1v-2.5M790.1 101.3v2.5M819.7 241.1v-2.5M819.7 101.3v2.5M686.6 241.1h2.5M834.5 241.1h-2.5M686.6 213.1h2.5M834.5 213.1h-2.5M686.6 185.2h2.5M834.5 185.2h-2.5M686.6 157.2h2.5M834.5 157.2h-2.5M686.6 129.3h2.5M834.5 129.3h-2.5M686.6 101.3h2.5M834.5 101.3h-2.5M536.7 396.1v-2.5M536.7 256.3v2.5M566.2 396.1v-2.5M566.2 256.3v2.5M595.8 396.1v-2.5M595.8 256.3v2.5M625.3 396.1v-2.5M625.3 256.3v2.5M654.8 396.1v-2.5M654.8 256.3v2.5M521.9 396.1h2.5M669.6 396.1h-2.5M521.9 368.1h2.5M669.6 368.1h-2.5M521.9 340.2h2.5M669.6 340.2h-2.5M521.9 312.2h2.5M669.6 312.2h-2.5M521.9 284.3h2.5M669.6 284.3h-2.5M521.9 256.3h2.5M669.6 256.3h-2.5M701.4 396.1v-2.5M701.4 256.3v2.5M731.0 396.1v-2.5M731.0 256.3v2.5M760.5 396.1v-2.5M760.5 256.3v2.5M790.1 396.1v-2.5M790.1 256.3v2.5M819.7 396.1v-2.5M819.7 256.3v2.5M686.6 396.1h2.5M834.5 396.1h-2.5M686.6 368.1h2.5M834.5 368.1h-2.5M686.6 340.2h2.5M834.5 340.2h-2.5M686.6 312.2h2.5M834.5 312.2h-2.5M686.6 284.3h2.5M834.5 284.3h-2.5M686.6 256.3h2.5M834.5 256.3h-2.5" stroke="#000" stroke-width="0.5" fill="none"/><text transform="translate(503.2,171.0) rotate(-90)" font-size="10.3" text-anchor="middle" textLength="60.5" lengthAdjust="spacingAndGlyphs">Delay (days)</text><text transform="translate(503.2,326.0) rotate(-90)" font-size="10.3" text-anchor="middle" textLength="60.5" lengthAdjust="spacingAndGlyphs">Delay (days)</text><text x="595.9" y="417.4" font-size="10.3" text-anchor="middle" textLength="91.8" lengthAdjust="spacingAndGlyphs">Velocity (100 km/s)</text><text x="760.7" y="417.4" font-size="10.3" text-anchor="middle" textLength="91.8" lengthAdjust="spacingAndGlyphs">Velocity (100 km/s)</text><path d="M552.4 511.2L557.2 504.1L562.0 492.2L566.9 477.9L571.7 466.1L576.5 457.8L581.3 453.0L588.1 449.4L593.8 444.7L600.6 444.2L607.3 447.1L612.1 444.7L619.9 449.4L626.6 455.4L632.4 456.6L639.1 462.5L645.9 463.7L653.6 468.4L658.4 468.9L668.0 476.8L673.8 477.9L679.6 481.5L687.3 483.9L696.9 488.6L706.6 491.0L716.2 493.4L725.8 496.9L735.5 499.8L745.1 501.2L764.4 504.1L793.3 506.4" fill="none" stroke="#000" stroke-width="1.0" stroke-dasharray="1 1.7"/><path d="M552.4 511.2L556.3 487.4L560.1 463.7L564.9 449.4L571.7 442.3L576.5 439.9L586.1 441.1L592.9 443.5L600.6 449.4L610.2 454.2L619.9 460.1L625.6 466.1L629.5 464.9L639.1 472.0L648.8 476.8L658.4 479.1L672.8 485.1L682.5 488.6L696.9 491.7L716.2 496.9L745.1 501.2L793.3 506.4" fill="none" stroke="#000" stroke-width="0.8" stroke-dasharray="4 2.6"/><path d="M552.4 511.2L555.3 504.1L558.2 482.7L561.1 442.3L563.0 429.3L565.9 425.7L569.7 426.2L574.6 431.6L578.4 436.4L581.3 439.9L587.1 441.1L592.9 449.4L600.6 454.2L610.2 461.3L619.9 466.1L626.6 470.3L634.3 473.2L643.9 479.1L653.6 481.5L663.2 486.3L672.8 488.6L682.5 490.3L689.2 493.4L693.1 491.0L701.8 494.6L716.2 496.9L730.7 499.3L745.1 501.0L764.4 502.9L793.3 506.0" fill="none" stroke="#000" stroke-width="0.8"/><rect x="552.4" y="425.2" width="240.9" height="86.0" fill="none" stroke="#000" stroke-width="0.7"/><text x="552.4" y="522.4" font-size="10.3" text-anchor="middle">0</text><text x="600.6" y="522.4" font-size="10.3" text-anchor="middle">5</text><text x="648.8" y="522.4" font-size="10.3" text-anchor="middle">10</text><text x="696.9" y="522.4" font-size="10.3" text-anchor="middle">15</text><text x="745.1" y="522.4" font-size="10.3" text-anchor="middle">20</text><text x="793.3" y="522.4" font-size="10.3" text-anchor="middle">25</text><text x="550.3" y="491.1" font-size="10.3" text-anchor="end">1</text><text x="550.3" y="467.4" font-size="10.3" text-anchor="end">2</text><text x="550.3" y="443.6" font-size="10.3" text-anchor="end">3</text><path d="M552.4 511.2v-2.5M552.4 425.2v2.5M600.6 511.2v-2.5M600.6 425.2v2.5M648.8 511.2v-2.5M648.8 425.2v2.5M696.9 511.2v-2.5M696.9 425.2v2.5M745.1 511.2v-2.5M745.1 425.2v2.5M793.3 511.2v-2.5M793.3 425.2v2.5M552.4 487.4h2.5M793.3 487.4h-2.5M552.4 463.7h2.5M793.3 463.7h-2.5M552.4 439.9h2.5M793.3 439.9h-2.5" stroke="#000" stroke-width="0.5" fill="none"/><text x="673.2" y="533.0" font-size="10.3" text-anchor="middle" textLength="49.2" lengthAdjust="spacingAndGlyphs">Lag (days)</text><text transform="translate(539.9,467.7) rotate(-90)" font-size="10.3" text-anchor="middle" textLength="96.6" lengthAdjust="spacingAndGlyphs">Response (arbitrary)</text><path d="M714.3 438.3h19.2" stroke="#000" stroke-width="1.0" stroke-dasharray="1 1.7"/><path d="M714.3 452.1h19.2" stroke="#000" stroke-width="0.8" stroke-dasharray="4 2.6"/><path d="M714.3 466.3h19.2" stroke="#000" stroke-width="0.8"/><text x="742.2" y="441.9" font-size="10.3" text-anchor="start" textLength="34.8" lengthAdjust="spacingAndGlyphs">Top left</text><text x="742.2" y="455.7" font-size="10.3" text-anchor="start" textLength="42.0" lengthAdjust="spacingAndGlyphs">Top right</text><text x="742.2" y="469.9" font-size="10.3" text-anchor="start" textLength="18.0" lengthAdjust="spacingAndGlyphs">Left</text></svg>
<div class="b" style="left:77.3px;top:640.8px;width:369.7px;line-height:12.87px;font-size:12.00px;">
<div style="padding-left:10px;letter-spacing:0.66px"><span class="sc">Fig.</span> 5.&mdash; Inferred posterior PDFs for model parameters, includ-</div>
<div style="letter-spacing:0.63px">ing the mean radius of the BLR, radial width of the BLR, and the</div>
<div class="e" style="word-spacing:1.25px;letter-spacing:0.62px">inflow fraction of BLR gas.</div>
</div>
<div class="b" style="left:481.1px;top:543.4px;width:369.7px;line-height:12.88px;font-size:12.00px;">
<div style="padding-left:14px;letter-spacing:0.66px"><span class="sc">Fig.</span>&nbsp; 6.&mdash; Examples of acceptable transfer functions for Mrk</div>
<div style="letter-spacing:0.66px">50. The top two and middle left panels show examples of VRTFs</div>
<div style="letter-spacing:0.66px">drawn from the model parameter posterior PDFs, illustrating the</div>
<div style="letter-spacing:0.66px">range in inferred transfer function shape. In the color-code of the</div>
<div style="letter-spacing:0.61px">VRTFs, red corresponds to the highest levels of response and dark</div>
<div style="letter-spacing:0.51px">blue corresponds to the lowest levels. The middle right panel shows</div>
<div style="letter-spacing:0.66px">the mean lag for each of the VRTFs.&nbsp; The mean lag in seven ve-</div>
<div style="letter-spacing:0.66px">locity bins from Barth et al. (2011b) are shown by red errorbars,</div>
<div style="letter-spacing:0.66px">which were measured by cross-correlation analysis.&nbsp; We calculate</div>
<div style="letter-spacing:0.61px">the mean lag in the seven velocity bins of Barth et al. (2011b) for</div>
<div style="letter-spacing:0.61px">&sim; 200 VRTFs made using model parameters drawn randomly from</div>
<div style="letter-spacing:0.60px">their posterior PDFs, shown in light blue. The bottom panel shows</div>
<div style="letter-spacing:0.66px">the velocity-integrated transfer functions for the VRTFs shown in</div>
<div class="e" style="word-spacing:1.25px;letter-spacing:0.62px">the first three panels.</div>
</div>
<div class="b" style="left:77.3px;top:747.7px;width:369.7px;line-height:16.28px;font-size:15.00px;">
<div style="letter-spacing:0.82px">where <i>&chi;</i> &sim; <i>N</i>(0, <i>&lambda;</i><sup>2</sup>) and |<i>L</i>| &lt; |<i>L</i><sub>circ</sub>|.&nbsp; For <i>&lambda;</i> &rarr; 0 we</div>
<div style="letter-spacing:0.49px">recover circular orbits and increasing <i>&lambda;</i> creates more el-</div>
<div style="letter-spacing:0.48px">liptical orbits. Since there are two solutions for the sign</div>
<div style="letter-spacing:0.58px">of <i>v<sub>r</sub></i>, the model also includes a parameter for the frac-</div>
<div style="letter-spacing:0.49px">tion of outflowing vs inflowing gas.&nbsp; The inflowing and</div>
<div style="letter-spacing:0.49px">outflowing gas is bound to the gravitational potential of</div>
<div style="letter-spacing:0.32px">the black hole, but an inequality in the fraction of inflow-</div>
<div style="letter-spacing:0.33px">ing and outflowing gas has the desired effect of modeling</div>
<div style="letter-spacing:0.32px">asymmetries in the H<i>&beta;</i> spectral line profile as observed in</div>
<div style="letter-spacing:0.55px">Arp 151 (B11) when an asymmetric illumination model</div>
<div class="e" style="word-spacing:0.93px;letter-spacing:0.46px">is included.</div>
<div style="padding-left:14px;letter-spacing:0.29px">Once a 2-D configuration of clouds in the <i>x</i>-<i>y</i> plane has</div>
<div style="letter-spacing:0.44px">been generated, and velocities have been assigned to the</div>
<div style="letter-spacing:0.62px">clouds, rotations are applied to &ldquo;puff up&rdquo; the 2-D con-</div>
<div style="letter-spacing:0.65px">figuration into a 3-D configuration. We first rotate the</div>
<div style="letter-spacing:0.57px">cloud positions about the <i>y</i> axis by a small random an-</div>
<div style="letter-spacing:0.41px">gle; the typical size of these angles determines the open-</div>
<div style="letter-spacing:0.59px">ing angle of the cloud distribution.&nbsp; The opening angle</div>
<div style="letter-spacing:0.65px">is defined as the angle above the midplane of the disk</div>
<div style="letter-spacing:0.63px">or sphere. We then rotate around the <i>z</i> axis by random</div>
<div style="letter-spacing:0.48px">angles to restore the axisymmetry of the model. Finally,</div>
<div style="letter-spacing:0.40px">we rotate again about the <i>y</i> axis, by the inclination angle</div>
<div style="letter-spacing:0.38px">(common to all of the clouds) to model the inclination of</div>
<div style="letter-spacing:0.47px">the system with respect to the line of sight. The inclina-</div>
</div>
<div class="b" style="left:481.1px;top:780.3px;width:369.7px;line-height:16.28px;font-size:15.00px;">
<div style="letter-spacing:0.45px">tion angle is defined so that zero degrees corresponds to</div>
<div style="letter-spacing:0.37px">a face-on configuration and 90 degrees corresponds to an</div>
<div class="e" style="word-spacing:0.93px;letter-spacing:0.46px">edge-on configuration.</div>
<div style="padding-left:14px;letter-spacing:0.40px">In order to produce asymmetric broad line profiles, we</div>
<div style="letter-spacing:0.35px">include a simple prescription for asymmetric illumination</div>
<div style="letter-spacing:0.45px">of the BLR clouds. We assign a weight <i>w</i> to each cloud,</div>
<div style="letter-spacing:0.35px">given by <i>w</i> = 0.5 + <i>&kappa;</i> cos <i>&phi;</i>, where <i>&phi;</i> is the azimuthal po-</div>
<div style="letter-spacing:0.62px">sition of the cloud in spherical polar coordinates.&nbsp; The</div>
<div style="letter-spacing:0.70px">parameter <i>&kappa;</i> ranges from 0.5, corresponding to illumi-</div>
<div style="letter-spacing:0.52px">nating the near side of the BLR, to &minus;0.5, corresponding</div>
<div style="letter-spacing:0.60px">to illuminating the far side of the BLR. Physically, the</div>
<div style="letter-spacing:0.46px">near side of the BLR could be preferentially illuminated</div>
<div style="letter-spacing:0.43px">if the far side of the BLR were obscured by gas, and the</div>
<div style="letter-spacing:0.39px">far side of the BLR could be preferentially illuminated if</div>
<div style="letter-spacing:0.63px">the BLR clouds only reradiate the continuum emission</div>
<div style="letter-spacing:0.47px">towards the central ionizing source due to self-shielding</div>
<div style="letter-spacing:0.44px">within the cloud. Inflowing gas with the near side of the</div>
<div style="letter-spacing:0.42px">BLR illuminated can, in principle, be distinguished from</div>
<div style="letter-spacing:0.49px">outflowing gas with the far side of the BLR illuminated</div>
<div style="letter-spacing:0.51px">by the VRTF, since the lags for these two cases are dif-</div>
<div class="e" style="word-spacing:0.93px;letter-spacing:0.46px">ferent.</div>
<div style="padding-left:14px;letter-spacing:0.26px">In addition, we allow for a scaling factor to describe the</div>
</div>
</div>
</body></html>
